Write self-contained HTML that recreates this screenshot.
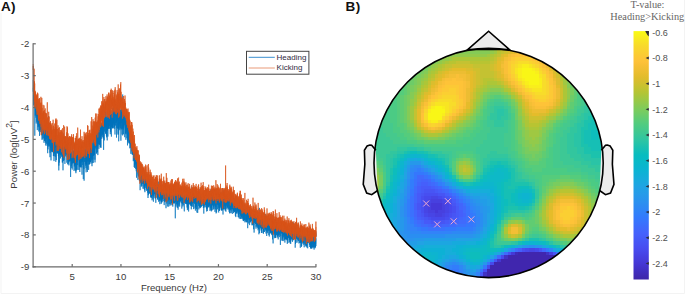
<!DOCTYPE html>
<html><head><meta charset="utf-8"><style>
html,body{margin:0;padding:0;background:#fff;}
body{width:685px;height:294px;overflow:hidden;position:relative;font-family:"Liberation Sans",sans-serif;}
svg{position:absolute;left:0;top:0;}
</style></head><body>
<svg width="685" height="294" viewBox="0 0 685 294">
<defs>
<filter id="bl" x="-5%" y="-5%" width="110%" height="110%"><feGaussianBlur stdDeviation="0.7"/></filter>
<clipPath id="hc"><circle cx="488.6" cy="163.0" r="114.6"/></clipPath>
<linearGradient id="cbg" x1="0" y1="0" x2="0" y2="1"><stop offset="0.0000" stop-color="#f9fb15"/><stop offset="0.0156" stop-color="#f9f21b"/><stop offset="0.0312" stop-color="#f8e921"/><stop offset="0.0469" stop-color="#f8e027"/><stop offset="0.0625" stop-color="#f8d82c"/><stop offset="0.0781" stop-color="#fad230"/><stop offset="0.0938" stop-color="#fbcc33"/><stop offset="0.1094" stop-color="#fdc637"/><stop offset="0.1250" stop-color="#fdc139"/><stop offset="0.1406" stop-color="#f6bf35"/><stop offset="0.1562" stop-color="#efbe32"/><stop offset="0.1719" stop-color="#e8bd2e"/><stop offset="0.1875" stop-color="#e0bc2c"/><stop offset="0.2031" stop-color="#d5be2e"/><stop offset="0.2188" stop-color="#cac12f"/><stop offset="0.2344" stop-color="#bec331"/><stop offset="0.2500" stop-color="#b2c535"/><stop offset="0.2656" stop-color="#a5c73e"/><stop offset="0.2812" stop-color="#98c947"/><stop offset="0.2969" stop-color="#8bca51"/><stop offset="0.3125" stop-color="#7fcc5a"/><stop offset="0.3281" stop-color="#73cc64"/><stop offset="0.3438" stop-color="#67cc6d"/><stop offset="0.3594" stop-color="#5bcc77"/><stop offset="0.3750" stop-color="#50cc80"/><stop offset="0.3906" stop-color="#48ca88"/><stop offset="0.4062" stop-color="#40c891"/><stop offset="0.4219" stop-color="#37c79a"/><stop offset="0.4375" stop-color="#2fc5a2"/><stop offset="0.4531" stop-color="#24c3a9"/><stop offset="0.4688" stop-color="#1ac0b1"/><stop offset="0.4844" stop-color="#10beb8"/><stop offset="0.5000" stop-color="#07bcc0"/><stop offset="0.5156" stop-color="#08bac4"/><stop offset="0.5312" stop-color="#09b8c9"/><stop offset="0.5469" stop-color="#0ab5ce"/><stop offset="0.5625" stop-color="#0cb3d3"/><stop offset="0.5781" stop-color="#11afd7"/><stop offset="0.5938" stop-color="#16acdb"/><stop offset="0.6094" stop-color="#1ba8df"/><stop offset="0.6250" stop-color="#20a4e3"/><stop offset="0.6406" stop-color="#239fe6"/><stop offset="0.6562" stop-color="#269be9"/><stop offset="0.6719" stop-color="#2896ec"/><stop offset="0.6875" stop-color="#2b91ef"/><stop offset="0.7031" stop-color="#2d8bf2"/><stop offset="0.7188" stop-color="#2f86f6"/><stop offset="0.7344" stop-color="#3180f9"/><stop offset="0.7500" stop-color="#337afd"/><stop offset="0.7656" stop-color="#3874fd"/><stop offset="0.7812" stop-color="#3c6efc"/><stop offset="0.7969" stop-color="#4168fc"/><stop offset="0.8125" stop-color="#4562fc"/><stop offset="0.8281" stop-color="#465df9"/><stop offset="0.8438" stop-color="#4657f6"/><stop offset="0.8594" stop-color="#4752f3"/><stop offset="0.8750" stop-color="#484cf0"/><stop offset="0.8906" stop-color="#4747e9"/><stop offset="0.9062" stop-color="#4641e2"/><stop offset="0.9219" stop-color="#463cdb"/><stop offset="0.9375" stop-color="#4536d4"/><stop offset="0.9531" stop-color="#4332c9"/><stop offset="0.9688" stop-color="#412ebe"/><stop offset="0.9844" stop-color="#402ab3"/><stop offset="1.0000" stop-color="#3e26a8"/></linearGradient>
</defs>
<path d="M1 13V293.5H684.5V0" fill="none" stroke="#f3f3f3" stroke-width="1"/>
<g font-family="Liberation Sans" font-weight="bold" font-size="13.5" fill="#111">
<text x="1" y="10.8" letter-spacing="0.3">A)</text><text x="345.6" y="10.8" letter-spacing="0.3">B)</text></g>
<!-- spectrum -->
<g fill="none" stroke-linejoin="bevel">
<polyline points="33.2,80.0 33.3,90.0 33.3,91.6 33.4,87.8 33.4,91.4 33.5,88.1 33.6,95.9 33.6,105.4 33.7,93.0 33.8,92.6 33.8,100.9 33.9,100.4 33.9,99.2 34.0,92.4 34.1,99.0 34.1,104.4 34.2,86.7 34.2,96.9 34.3,87.2 34.4,91.8 34.4,88.2 34.5,99.7 34.6,92.8 34.6,103.8 34.7,103.3 34.7,101.3 34.8,135.7 34.9,99.4 34.9,103.0 35.0,104.6 35.0,93.4 35.1,101.1 35.2,97.9 35.2,99.4 35.3,115.6 35.4,100.0 35.4,105.7 35.5,112.3 35.5,102.4 35.6,106.0 35.7,107.9 35.7,107.8 35.8,99.2 35.8,108.5 35.9,117.7 36.0,97.9 36.0,114.8 36.1,110.0 36.2,104.9 36.2,123.5 36.3,115.1 36.3,101.8 36.4,110.9 36.5,114.6 36.5,109.5 36.6,115.8 36.6,110.8 36.7,116.2 36.8,121.7 36.8,107.4 36.9,113.7 37.0,108.0 37.0,113.6 37.1,104.8 37.1,109.2 37.2,112.1 37.3,119.9 37.3,130.1 37.4,105.1 37.4,109.0 37.5,119.1 37.6,101.2 37.6,112.0 37.7,114.7 37.8,124.3 37.8,120.6 37.9,113.9 37.9,113.8 38.0,114.9 38.1,127.2 38.1,114.0 38.2,115.0 38.2,119.7 38.3,116.6 38.4,116.2 38.4,110.1 38.5,117.8 38.5,115.0 38.6,126.2 38.7,122.8 38.7,118.4 38.8,131.5 38.9,116.5 38.9,126.2 39.0,119.1 39.0,123.3 39.1,110.7 39.2,122.0 39.2,103.6 39.3,106.1 39.3,130.4 39.4,114.1 39.5,121.6 39.5,135.9 39.6,115.1 39.7,116.7 39.7,122.5 39.8,124.6 39.8,120.2 39.9,120.2 40.0,126.5 40.0,125.4 40.1,115.0 40.1,121.7 40.2,122.6 40.3,115.3 40.3,124.4 40.4,117.0 40.5,129.6 40.5,124.5 40.6,132.1 40.6,119.5 40.7,122.8 40.8,110.2 40.8,116.3 40.9,126.6 40.9,109.8 41.0,130.2 41.1,112.7 41.1,129.8 41.2,119.0 41.3,130.2 41.3,125.9 41.4,114.7 41.4,133.7 41.5,135.1 41.6,125.0 41.6,123.8 41.7,124.6 41.7,119.2 41.8,133.4 41.9,122.4 41.9,125.9 42.0,139.8 42.1,122.2 42.1,117.9 42.2,135.2 42.2,125.8 42.3,133.4 42.4,127.1 42.4,122.5 42.5,125.1 42.5,122.1 42.6,127.6 42.7,125.1 42.7,125.7 42.8,118.6 42.9,122.5 42.9,139.3 43.0,123.7 43.0,121.2 43.1,130.7 43.2,138.1 43.2,118.9 43.3,127.4 43.3,124.7 43.4,112.5 43.5,134.1 43.5,129.1 43.6,129.9 43.7,124.5 43.7,133.9 43.8,126.1 43.8,128.9 43.9,122.5 44.0,121.9 44.0,142.8 44.1,126.9 44.1,132.4 44.2,130.3 44.3,127.7 44.3,127.3 44.4,135.0 44.5,141.0 44.5,130.0 44.6,131.3 44.6,139.1 44.7,135.9 44.8,134.0 44.8,127.7 44.9,122.3 44.9,138.0 45.0,138.3 45.1,140.9 45.1,135.6 45.2,137.3 45.3,137.7 45.3,138.4 45.4,129.3 45.4,142.6 45.5,124.2 45.6,138.4 45.6,136.1 45.7,138.7 45.7,145.5 45.8,143.0 45.9,125.5 45.9,122.0 46.0,138.8 46.1,124.0 46.1,133.5 46.2,139.2 46.2,122.8 46.3,119.8 46.4,143.7 46.4,134.3 46.5,132.5 46.5,134.5 46.6,128.6 46.7,124.4 46.7,133.4 46.8,128.2 46.9,123.8 46.9,138.2 47.0,134.5 47.0,145.7 47.1,128.6 47.2,130.9 47.2,128.7 47.3,129.5 47.3,136.8 47.4,130.4 47.5,138.1 47.5,138.1 47.6,149.3 47.7,153.2 47.7,142.0 47.8,135.6 47.8,136.2 47.9,126.8 48.0,133.4 48.0,149.4 48.1,136.1 48.1,137.3 48.2,135.0 48.3,144.6 48.3,136.9 48.4,122.6 48.4,132.7 48.5,124.4 48.6,116.0 48.6,134.1 48.7,146.5 48.8,138.1 48.8,130.1 48.9,131.8 48.9,145.5 49.0,139.6 49.1,138.6 49.1,138.0 49.2,138.7 49.2,143.8 49.3,142.3 49.4,140.2 49.4,132.0 49.5,142.3 49.6,134.5 49.6,146.3 49.7,130.9 49.7,138.4 49.8,139.4 49.9,130.8 49.9,150.9 50.0,157.2 50.0,136.7 50.1,152.8 50.2,142.4 50.2,122.8 50.3,141.7 50.4,139.7 50.4,140.7 50.5,133.1 50.5,138.5 50.6,139.1 50.7,148.1 50.7,142.6 50.8,140.4 50.8,150.5 50.9,135.5 51.0,137.1 51.0,160.4 51.1,151.0 51.2,147.1 51.2,146.9 51.3,145.3 51.3,141.7 51.4,142.4 51.5,139.5 51.5,139.8 51.6,141.6 51.6,151.1 51.7,144.9 51.8,141.0 51.8,137.7 51.9,137.4 52.0,152.0 52.0,144.9 52.1,142.1 52.1,151.8 52.2,134.6 52.3,141.4 52.3,147.6 52.4,139.4 52.4,140.5 52.5,140.6 52.6,142.8 52.6,131.8 52.7,151.5 52.8,136.7 52.8,148.1 52.9,137.4 52.9,146.2 53.0,152.4 53.1,140.5 53.1,138.7 53.2,143.9 53.2,150.5 53.3,136.4 53.4,145.8 53.4,156.0 53.5,141.3 53.6,141.7 53.6,136.3 53.7,145.2 53.7,135.1 53.8,136.1 53.9,151.6 53.9,137.5 54.0,153.2 54.0,161.1 54.1,145.2 54.2,147.2 54.2,156.2 54.3,142.4 54.4,139.9 54.4,135.1 54.5,144.2 54.5,153.5 54.6,150.2 54.7,138.0 54.7,138.6 54.8,140.9 54.8,146.1 54.9,143.0 55.0,145.7 55.0,146.3 55.1,142.5 55.2,144.3 55.2,145.9 55.3,144.1 55.3,147.9 55.4,156.7 55.5,148.6 55.5,145.2 55.6,134.1 55.6,147.5 55.7,132.5 55.8,161.8 55.8,150.6 55.9,149.7 56.0,144.3 56.0,134.4 56.1,143.0 56.1,141.1 56.2,149.6 56.3,160.0 56.3,147.0 56.4,140.7 56.4,138.2 56.5,145.4 56.6,144.7 56.6,138.5 56.7,146.7 56.8,138.6 56.8,153.1 56.9,152.9 56.9,153.1 57.0,143.2 57.1,150.9 57.1,145.5 57.2,143.9 57.2,144.3 57.3,138.2 57.4,137.4 57.4,151.7 57.5,145.5 57.6,148.1 57.6,153.2 57.7,135.8 57.7,141.9 57.8,148.1 57.9,149.5 57.9,143.7 58.0,153.7 58.0,148.5 58.1,139.5 58.2,141.4 58.2,152.5 58.3,150.4 58.4,135.4 58.4,156.1 58.5,151.4 58.5,156.2 58.6,145.3 58.7,145.9 58.7,140.7 58.8,170.4 58.8,146.8 58.9,165.6 59.0,143.9 59.0,149.1 59.1,137.6 59.1,144.8 59.2,154.4 59.3,140.3 59.3,162.6 59.4,150.4 59.5,141.7 59.5,143.9 59.6,145.5 59.6,148.1 59.7,145.1 59.8,143.3 59.8,146.6 59.9,142.1 59.9,140.5 60.0,148.3 60.1,154.2 60.1,139.1 60.2,148.8 60.3,144.7 60.3,142.7 60.4,154.3 60.4,145.7 60.5,158.4 60.6,144.1 60.6,151.5 60.7,147.1 60.7,144.4 60.8,152.9 60.9,148.3 60.9,154.6 61.0,149.0 61.1,142.5 61.1,148.5 61.2,149.8 61.2,155.5 61.3,143.8 61.4,149.3 61.4,134.4 61.5,153.8 61.5,142.9 61.6,138.4 61.7,149.4 61.7,156.8 61.8,140.3 61.9,143.1 61.9,145.3 62.0,142.9 62.0,152.5 62.1,145.0 62.2,145.6 62.2,155.3 62.3,162.6 62.3,153.0 62.4,144.2 62.5,142.7 62.5,138.8 62.6,162.2 62.7,148.5 62.7,152.1 62.8,150.3 62.8,151.6 62.9,151.0 63.0,170.3 63.0,144.2 63.1,141.0 63.1,144.5 63.2,142.5 63.3,155.6 63.3,156.1 63.4,145.0 63.5,142.3 63.5,160.9 63.6,159.9 63.6,133.4 63.7,154.6 63.8,144.5 63.8,157.9 63.9,144.6 63.9,149.6 64.0,142.0 64.1,145.3 64.1,160.3 64.2,158.8 64.3,149.1 64.3,146.2 64.4,139.8 64.4,149.3 64.5,151.6 64.6,151.3 64.6,151.3 64.7,144.9 64.7,151.6 64.8,151.8 64.9,160.2 64.9,163.9 65.0,150.9 65.1,147.4 65.1,151.8 65.2,148.4 65.2,147.6 65.3,152.0 65.4,143.2 65.4,156.3 65.5,151.8 65.5,154.1 65.6,151.0 65.7,146.2 65.7,146.7 65.8,151.2 65.9,149.3 65.9,154.3 66.0,152.8 66.0,144.3 66.1,153.3 66.2,144.5 66.2,149.1 66.3,151.2 66.3,140.0 66.4,153.7 66.5,154.1 66.5,152.2 66.6,150.6 66.7,151.0 66.7,147.2 66.8,162.7 66.8,150.0 66.9,154.1 67.0,145.9 67.0,155.1 67.1,154.5 67.1,152.7 67.2,150.9 67.3,157.2 67.3,143.2 67.4,156.6 67.5,155.3 67.5,155.6 67.6,156.2 67.6,149.7 67.7,152.2 67.8,157.9 67.8,164.2 67.9,155.3 67.9,144.4 68.0,157.4 68.1,164.4 68.1,160.4 68.2,155.6 68.3,144.3 68.3,160.1 68.4,153.3 68.4,138.3 68.5,156.6 68.6,144.9 68.6,146.1 68.7,150.3 68.7,162.4 68.8,152.0 68.9,156.1 68.9,165.4 69.0,164.5 69.0,153.8 69.1,153.0 69.2,146.6 69.2,150.2 69.3,157.3 69.4,157.1 69.4,155.4 69.5,161.0 69.5,149.9 69.6,154.4 69.7,159.4 69.7,158.5 69.8,161.6 69.8,157.4 69.9,152.9 70.0,157.2 70.0,148.6 70.1,144.6 70.2,158.7 70.2,154.7 70.3,157.0 70.3,144.4 70.4,152.8 70.5,151.4 70.5,149.7 70.6,177.0 70.6,153.1 70.7,160.9 70.8,157.7 70.8,151.5 70.9,155.2 71.0,160.1 71.0,138.0 71.1,154.6 71.1,158.9 71.2,159.8 71.3,166.2 71.3,162.7 71.4,157.5 71.4,157.5 71.5,160.6 71.6,152.2 71.6,155.4 71.7,161.4 71.8,168.1 71.8,154.7 71.9,155.5 71.9,157.1 72.0,164.3 72.1,155.7 72.1,165.1 72.2,169.6 72.2,154.8 72.3,154.7 72.4,161.0 72.4,162.6 72.5,146.5 72.6,150.3 72.6,158.2 72.7,152.0 72.7,146.6 72.8,162.7 72.9,159.3 72.9,160.6 73.0,153.3 73.0,162.8 73.1,154.8 73.2,163.3 73.2,150.7 73.3,151.0 73.4,157.7 73.4,152.1 73.5,160.8 73.5,158.2 73.6,150.7 73.7,157.2 73.7,154.4 73.8,162.4 73.8,152.7 73.9,153.9 74.0,164.4 74.0,170.9 74.1,169.4 74.2,157.2 74.2,158.2 74.3,166.5 74.3,156.1 74.4,150.8 74.5,165.3 74.5,159.8 74.6,151.8 74.6,146.7 74.7,148.0 74.8,161.3 74.8,152.3 74.9,156.3 75.0,158.5 75.0,170.2 75.1,155.1 75.1,160.4 75.2,151.6 75.3,154.9 75.3,150.8 75.4,164.4 75.4,157.1 75.5,152.6 75.6,155.0 75.6,155.9 75.7,161.7 75.8,147.2 75.8,171.4 75.9,154.9 75.9,173.2 76.0,163.3 76.1,156.6 76.1,161.8 76.2,170.3 76.2,155.8 76.3,154.1 76.4,164.9 76.4,160.4 76.5,161.5 76.6,154.1 76.6,169.5 76.7,168.1 76.7,160.9 76.8,161.7 76.9,144.6 76.9,161.4 77.0,156.1 77.0,160.1 77.1,161.7 77.2,155.2 77.2,146.7 77.3,159.7 77.4,152.7 77.4,155.3 77.5,153.6 77.5,155.3 77.6,142.9 77.7,165.1 77.7,159.0 77.8,164.4 77.8,169.9 77.9,157.6 78.0,146.1 78.0,151.8 78.1,149.8 78.2,154.3 78.2,158.0 78.3,144.8 78.3,159.6 78.4,148.0 78.5,160.1 78.5,156.8 78.6,155.5 78.6,157.0 78.7,154.1 78.8,153.6 78.8,146.9 78.9,157.3 78.9,169.1 79.0,170.0 79.1,165.9 79.1,162.0 79.2,153.3 79.3,166.6 79.3,157.2 79.4,157.1 79.4,155.7 79.5,158.1 79.6,154.8 79.6,156.8 79.7,150.7 79.7,155.2 79.8,172.0 79.9,157.2 79.9,166.7 80.0,161.0 80.1,162.1 80.1,147.8 80.2,156.3 80.2,163.4 80.3,159.3 80.4,158.7 80.4,167.4 80.5,153.4 80.5,158.2 80.6,154.4 80.7,167.0 80.7,145.4 80.8,153.4 80.9,154.3 80.9,161.9 81.0,161.5 81.0,166.5 81.1,147.7 81.2,162.4 81.2,155.8 81.3,153.4 81.3,161.0 81.4,151.8 81.5,144.5 81.5,154.3 81.6,148.1 81.7,151.8 81.7,159.8 81.8,159.4 81.8,167.5 81.9,156.2 82.0,174.7 82.0,152.7 82.1,151.6 82.1,149.7 82.2,160.1 82.3,153.3 82.3,144.9 82.4,161.7 82.5,156.6 82.5,159.5 82.6,157.9 82.6,161.2 82.7,157.5 82.8,165.0 82.8,159.9 82.9,159.7 82.9,159.8 83.0,148.0 83.1,156.1 83.1,154.9 83.2,158.4 83.3,148.5 83.3,179.1 83.4,157.7 83.4,149.4 83.5,142.0 83.6,155.3 83.6,156.2 83.7,152.5 83.7,157.6 83.8,152.9 83.9,160.4 83.9,169.1 84.0,156.7 84.1,165.5 84.1,180.7 84.2,150.5 84.2,153.9 84.3,151.6 84.4,161.8 84.4,149.6 84.5,153.7 84.5,156.6 84.6,150.6 84.7,150.7 84.7,153.7 84.8,143.5 84.9,147.6 84.9,154.1 85.0,157.6 85.0,155.5 85.1,145.5 85.2,153.7 85.2,161.7 85.3,160.1 85.3,156.1 85.4,151.0 85.5,160.6 85.5,153.0 85.6,149.3 85.7,151.6 85.7,165.7 85.8,158.0 85.8,163.9 85.9,153.6 86.0,162.5 86.0,167.9 86.1,155.6 86.1,172.3 86.2,161.4 86.3,153.4 86.3,156.0 86.4,158.6 86.5,164.2 86.5,153.5 86.6,145.6 86.6,154.8 86.7,156.7 86.8,157.2 86.8,164.8 86.9,158.5 86.9,161.7 87.0,149.6 87.1,162.0 87.1,169.6 87.2,161.3 87.3,157.9 87.3,157.3 87.4,172.0 87.4,150.4 87.5,155.5 87.6,159.0 87.6,160.8 87.7,153.3 87.7,157.9 87.8,154.2 87.9,156.7 87.9,155.0 88.0,148.6 88.1,155.6 88.1,161.2 88.2,149.6 88.2,154.1 88.3,159.8 88.4,148.8 88.4,156.6 88.5,148.8 88.5,165.4 88.6,169.9 88.7,168.1 88.7,164.2 88.8,159.9 88.8,155.9 88.9,155.8 89.0,164.8 89.0,146.7 89.1,161.6 89.2,154.6 89.2,163.8 89.3,156.0 89.3,150.6 89.4,164.1 89.5,159.4 89.5,154.9 89.6,157.7 89.6,151.3 89.7,141.1 89.8,160.2 89.8,158.9 89.9,155.3 90.0,155.0 90.0,160.8 90.1,151.4 90.1,149.8 90.2,153.0 90.3,161.6 90.3,145.4 90.4,161.6 90.4,150.0 90.5,147.0 90.6,161.9 90.6,153.3 90.7,145.6 90.8,163.6 90.8,159.6 90.9,161.2 90.9,151.0 91.0,157.2 91.1,158.0 91.1,147.7 91.2,155.5 91.2,153.0 91.3,149.7 91.4,149.9 91.4,153.3 91.5,153.0 91.6,149.1 91.6,149.8 91.7,159.5 91.7,154.2 91.8,157.8 91.9,159.7 91.9,155.7 92.0,166.2 92.0,146.6 92.1,156.8 92.2,149.6 92.2,163.2 92.3,162.1 92.4,138.9 92.4,145.0 92.5,155.2 92.5,155.9 92.6,155.5 92.7,150.3 92.7,153.5 92.8,154.6 92.8,149.9 92.9,159.4 93.0,135.9 93.0,154.1 93.1,143.4 93.2,155.9 93.2,148.3 93.3,162.9 93.3,151.9 93.4,143.7 93.5,143.6 93.5,139.3 93.6,149.0 93.6,152.2 93.7,155.4 93.8,147.9 93.8,155.3 93.9,148.7 94.0,147.9 94.0,152.0 94.1,155.0 94.1,146.0 94.2,146.5 94.3,146.9 94.3,148.4 94.4,142.0 94.4,154.1 94.5,145.0 94.6,150.3 94.6,142.1 94.7,149.5 94.8,149.6 94.8,144.3 94.9,159.7 94.9,149.1 95.0,162.4 95.1,152.6 95.1,142.2 95.2,143.8 95.2,148.8 95.3,146.3 95.4,146.1 95.4,143.8 95.5,134.0 95.6,143.3 95.6,131.1 95.7,147.3 95.7,140.2 95.8,140.1 95.9,143.1 95.9,146.1 96.0,135.1 96.0,133.0 96.1,137.2 96.2,130.8 96.2,137.5 96.3,153.6 96.4,136.6 96.4,147.3 96.5,130.8 96.5,144.7 96.6,139.9 96.7,142.2 96.7,146.0 96.8,153.4 96.8,143.3 96.9,142.7 97.0,135.6 97.0,145.3 97.1,139.9 97.2,148.7 97.2,140.9 97.3,152.1 97.3,128.3 97.4,138.8 97.5,146.2 97.5,138.2 97.6,133.2 97.6,138.4 97.7,131.2 97.8,140.6 97.8,155.1 97.9,154.4 98.0,132.3 98.0,133.6 98.1,136.5 98.1,145.3 98.2,133.5 98.3,134.2 98.3,144.0 98.4,143.8 98.4,134.8 98.5,130.9 98.6,128.0 98.6,133.2 98.7,123.3 98.8,142.1 98.8,131.6 98.9,140.1 98.9,148.8 99.0,144.2 99.1,129.3 99.1,142.0 99.2,143.7 99.2,131.4 99.3,129.9 99.4,135.2 99.4,125.5 99.5,144.9 99.5,120.1 99.6,128.2 99.7,133.4 99.7,144.1 99.8,135.9 99.9,136.4 99.9,133.2 100.0,141.6 100.0,120.6 100.1,134.1 100.2,129.4 100.2,134.6 100.3,135.0 100.3,146.9 100.4,127.6 100.5,138.2 100.5,135.2 100.6,128.5 100.7,145.6 100.7,147.2 100.8,123.0 100.8,134.1 100.9,148.0 101.0,136.9 101.0,133.1 101.1,130.2 101.1,127.9 101.2,129.9 101.3,127.6 101.3,135.7 101.4,128.2 101.5,127.8 101.5,122.8 101.6,130.0 101.6,124.4 101.7,138.8 101.8,136.5 101.8,132.0 101.9,132.7 101.9,131.6 102.0,129.6 102.1,128.3 102.1,127.0 102.2,133.7 102.3,121.9 102.3,137.2 102.4,128.8 102.4,123.7 102.5,125.3 102.6,124.0 102.6,129.2 102.7,123.5 102.7,135.3 102.8,122.9 102.9,107.4 102.9,123.0 103.0,114.7 103.1,127.1 103.1,134.1 103.2,131.4 103.2,118.6 103.3,122.2 103.4,138.3 103.4,128.9 103.5,126.8 103.5,133.4 103.6,149.9 103.7,134.7 103.7,127.2 103.8,128.5 103.9,130.1 103.9,122.1 104.0,119.2 104.0,126.2 104.1,117.3 104.2,125.2 104.2,126.1 104.3,140.4 104.3,119.9 104.4,124.4 104.5,124.1 104.5,127.8 104.6,131.6 104.7,121.7 104.7,119.5 104.8,114.1 104.8,118.6 104.9,127.8 105.0,124.7 105.0,117.7 105.1,121.7 105.1,124.2 105.2,127.1 105.3,120.0 105.3,122.1 105.4,112.0 105.5,116.1 105.5,133.8 105.6,109.3 105.6,121.0 105.7,124.5 105.8,133.1 105.8,117.7 105.9,122.4 105.9,122.7 106.0,122.1 106.1,110.5 106.1,121.5 106.2,116.9 106.3,118.9 106.3,123.8 106.4,126.4 106.4,135.6 106.5,119.0 106.6,128.0 106.6,137.3 106.7,129.3 106.7,130.8 106.8,120.9 106.9,120.7 106.9,127.1 107.0,112.9 107.1,130.7 107.1,118.2 107.2,119.2 107.2,140.4 107.3,115.7 107.4,121.2 107.4,127.0 107.5,130.2 107.5,120.7 107.6,119.9 107.7,115.8 107.7,124.7 107.8,118.8 107.9,124.8 107.9,136.6 108.0,120.6 108.0,111.2 108.1,113.0 108.2,111.3 108.2,112.9 108.3,128.9 108.3,121.9 108.4,110.7 108.5,124.6 108.5,128.4 108.6,118.0 108.7,115.9 108.7,118.0 108.8,121.9 108.8,124.2 108.9,127.6 109.0,127.7 109.0,127.5 109.1,128.6 109.1,124.0 109.2,109.9 109.3,118.8 109.3,121.6 109.4,117.1 109.4,125.4 109.5,117.1 109.6,111.1 109.6,128.6 109.7,123.6 109.8,120.6 109.8,125.1 109.9,125.9 109.9,121.2 110.0,96.9 110.1,114.6 110.1,116.0 110.2,112.6 110.2,120.2 110.3,134.2 110.4,115.7 110.4,111.5 110.5,131.8 110.6,115.8 110.6,110.8 110.7,120.2 110.7,121.4 110.8,114.1 110.9,123.7 110.9,129.4 111.0,110.2 111.0,120.1 111.1,123.4 111.2,114.4 111.2,120.5 111.3,117.8 111.4,136.6 111.4,113.8 111.5,127.2 111.5,117.9 111.6,117.4 111.7,122.9 111.7,123.9 111.8,126.3 111.8,120.2 111.9,114.2 112.0,114.6 112.0,121.3 112.1,121.8 112.2,127.0 112.2,120.6 112.3,124.8 112.3,127.7 112.4,118.9 112.5,108.2 112.5,110.2 112.6,108.5 112.6,128.0 112.7,112.2 112.8,125.6 112.8,121.4 112.9,128.7 113.0,124.1 113.0,116.9 113.1,116.2 113.1,118.1 113.2,118.6 113.3,114.0 113.3,125.4 113.4,127.8 113.4,106.4 113.5,119.0 113.6,111.4 113.6,118.5 113.7,122.7 113.8,116.8 113.8,122.2 113.9,106.9 113.9,124.3 114.0,113.2 114.1,121.1 114.1,118.3 114.2,100.4 114.2,112.2 114.3,118.5 114.4,127.1 114.4,118.9 114.5,118.7 114.6,107.9 114.6,126.3 114.7,128.7 114.7,117.2 114.8,115.6 114.9,106.5 114.9,122.7 115.0,134.5 115.0,121.6 115.1,125.2 115.2,120.5 115.2,110.6 115.3,125.6 115.4,109.0 115.4,115.6 115.5,118.8 115.5,122.7 115.6,119.6 115.7,119.4 115.7,112.0 115.8,108.6 115.8,117.3 115.9,112.3 116.0,108.4 116.0,108.7 116.1,113.7 116.2,104.9 116.2,108.2 116.3,106.3 116.3,118.0 116.4,119.5 116.5,137.6 116.5,107.1 116.6,112.4 116.6,122.7 116.7,115.4 116.8,114.7 116.8,127.9 116.9,113.7 117.0,109.3 117.0,108.3 117.1,119.0 117.1,118.8 117.2,107.9 117.3,110.4 117.3,120.2 117.4,120.5 117.4,112.6 117.5,128.6 117.6,120.5 117.6,105.2 117.7,114.7 117.8,119.4 117.8,113.0 117.9,102.8 117.9,114.9 118.0,121.6 118.1,134.8 118.1,102.6 118.2,133.8 118.2,109.5 118.3,123.1 118.4,124.9 118.4,123.3 118.5,125.7 118.6,109.5 118.6,121.1 118.7,112.4 118.7,141.3 118.8,135.5 118.9,121.7 118.9,129.0 119.0,111.3 119.0,126.8 119.1,127.6 119.2,127.4 119.2,117.2 119.3,109.6 119.3,116.3 119.4,103.1 119.5,106.4 119.5,118.1 119.6,111.1 119.7,116.1 119.7,116.9 119.8,130.2 119.8,126.1 119.9,117.4 120.0,125.6 120.0,112.7 120.1,115.6 120.1,123.7 120.2,109.7 120.3,116.0 120.3,109.3 120.4,118.9 120.5,128.3 120.5,113.0 120.6,119.3 120.6,112.1 120.7,110.4 120.8,109.9 120.8,127.2 120.9,140.7 120.9,122.2 121.0,113.3 121.1,122.4 121.1,115.8 121.2,123.0 121.3,119.8 121.3,119.7 121.4,129.4 121.4,114.2 121.5,115.4 121.6,107.0 121.6,115.2 121.7,109.0 121.7,117.1 121.8,111.9 121.9,118.6 121.9,120.9 122.0,134.5 122.1,112.9 122.1,112.2 122.2,124.8 122.2,129.0 122.3,123.7 122.4,116.2 122.4,127.7 122.5,109.1 122.5,128.0 122.6,114.6 122.7,94.5 122.7,135.4 122.8,128.7 122.9,112.6 122.9,120.1 123.0,117.8 123.0,119.8 123.1,110.1 123.2,115.1 123.2,129.7 123.3,120.9 123.3,127.0 123.4,120.3 123.5,134.2 123.5,115.4 123.6,121.5 123.7,108.2 123.7,109.2 123.8,128.2 123.8,114.4 123.9,123.5 124.0,119.9 124.0,114.0 124.1,118.3 124.1,117.4 124.2,117.6 124.3,125.2 124.3,124.7 124.4,117.3 124.5,115.4 124.5,122.6 124.6,120.4 124.6,127.3 124.7,137.2 124.8,126.3 124.8,121.1 124.9,120.3 124.9,116.3 125.0,116.1 125.1,115.7 125.1,119.5 125.2,119.4 125.3,126.6 125.3,119.9 125.4,121.3 125.4,115.3 125.5,132.5 125.6,125.9 125.6,133.7 125.7,127.9 125.7,132.2 125.8,122.0 125.9,127.9 125.9,139.8 126.0,116.8 126.1,131.1 126.1,134.3 126.2,126.9 126.2,130.9 126.3,132.3 126.4,121.0 126.4,127.5 126.5,120.0 126.5,121.3 126.6,121.8 126.7,124.8 126.7,126.7 126.8,128.7 126.9,117.7 126.9,138.1 127.0,133.3 127.0,130.9 127.1,124.7 127.2,126.6 127.2,130.6 127.3,130.0 127.3,117.9 127.4,132.4 127.5,145.4 127.5,117.6 127.6,141.4 127.7,131.1 127.7,128.5 127.8,137.4 127.8,122.7 127.9,131.2 128.0,138.6 128.0,129.2 128.1,128.1 128.1,131.5 128.2,128.4 128.3,140.3 128.3,126.2 128.4,136.8 128.5,124.7 128.5,136.1 128.6,131.9 128.6,117.7 128.7,132.9 128.8,127.0 128.8,130.9 128.9,142.5 128.9,127.5 129.0,128.0 129.1,142.7 129.1,135.3 129.2,143.7 129.2,137.0 129.3,130.3 129.4,135.2 129.4,142.8 129.5,141.4 129.6,136.3 129.6,136.8 129.7,136.2 129.7,133.8 129.8,148.3 129.9,137.7 129.9,128.9 130.0,135.5 130.0,142.5 130.1,142.3 130.2,138.2 130.2,135.5 130.3,139.6 130.4,130.4 130.4,132.7 130.5,144.8 130.5,137.9 130.6,142.9 130.7,147.9 130.7,145.0 130.8,141.8 130.8,153.8 130.9,145.9 131.0,140.5 131.0,146.8 131.1,145.3 131.2,138.5 131.2,143.9 131.3,142.9 131.3,133.2 131.4,143.4 131.5,143.1 131.5,142.5 131.6,136.1 131.6,143.5 131.7,145.5 131.8,146.7 131.8,140.0 131.9,151.3 132.0,140.1 132.0,145.3 132.1,154.4 132.1,143.8 132.2,144.0 132.3,153.9 132.3,146.3 132.4,147.0 132.4,150.1 132.5,154.8 132.6,137.6 132.6,145.3 132.7,144.6 132.8,144.4 132.8,146.0 132.9,146.3 132.9,152.7 133.0,146.6 133.1,152.2 133.1,153.9 133.2,148.2 133.2,153.0 133.3,161.2 133.4,154.4 133.4,149.6 133.5,152.9 133.6,148.6 133.6,155.1 133.7,158.4 133.7,149.8 133.8,153.3 133.9,160.4 133.9,152.2 134.0,156.0 134.0,150.0 134.1,151.3 134.2,153.1 134.2,167.0 134.3,154.1 134.4,153.8 134.4,153.8 134.5,156.1 134.5,160.5 134.6,158.3 134.7,168.0 134.7,158.9 134.8,165.4 134.8,159.7 134.9,161.6 135.0,151.6 135.0,158.4 135.1,158.9 135.2,158.3 135.2,149.0 135.3,164.3 135.3,158.2 135.4,158.2 135.5,159.4 135.5,159.7 135.6,163.1 135.6,155.0 135.7,156.9 135.8,163.3 135.8,168.7 135.9,160.4 136.0,159.7 136.0,158.6 136.1,162.7 136.1,169.1 136.2,158.2 136.3,171.2 136.3,168.1 136.4,161.0 136.4,168.2 136.5,177.7 136.6,156.0 136.6,158.4 136.7,162.1 136.8,163.5 136.8,162.7 136.9,165.9 136.9,155.0 137.0,168.1 137.1,158.8 137.1,162.7 137.2,163.3 137.2,160.6 137.3,159.7 137.4,161.7 137.4,166.7 137.5,169.8 137.6,169.8 137.6,162.3 137.7,163.5 137.7,163.0 137.8,169.9 137.9,157.8 137.9,179.9 138.0,165.8 138.0,164.4 138.1,170.1 138.2,175.7 138.2,170.4 138.3,174.0 138.4,169.7 138.4,175.2 138.5,175.4 138.5,168.8 138.6,176.7 138.7,170.6 138.7,170.4 138.8,165.6 138.8,168.9 138.9,174.2 139.0,164.2 139.0,173.9 139.1,172.6 139.2,172.4 139.2,156.2 139.3,170.8 139.3,174.6 139.4,181.2 139.5,172.2 139.5,160.4 139.6,175.4 139.6,169.1 139.7,176.6 139.8,163.6 139.8,176.1 139.9,171.7 139.9,178.5 140.0,168.7 140.1,170.4 140.1,190.2 140.2,169.7 140.3,170.5 140.3,172.7 140.4,169.2 140.4,180.0 140.5,182.6 140.6,171.1 140.6,166.2 140.7,180.3 140.7,182.2 140.8,178.8 140.9,180.5 140.9,170.9 141.0,174.4 141.1,168.7 141.1,168.6 141.2,180.2 141.2,172.4 141.3,186.6 141.4,176.2 141.4,172.9 141.5,179.8 141.5,184.8 141.6,178.6 141.7,170.5 141.7,178.9 141.8,183.1 141.9,174.3 141.9,186.2 142.0,181.7 142.0,177.7 142.1,171.8 142.2,175.4 142.2,173.7 142.3,178.8 142.3,183.7 142.4,183.1 142.5,181.1 142.5,170.4 142.6,179.9 142.7,182.3 142.7,180.3 142.8,183.1 142.8,175.8 142.9,174.0 143.0,188.7 143.0,173.6 143.1,168.6 143.1,183.7 143.2,175.6 143.3,177.7 143.3,172.6 143.4,173.1 143.5,174.0 143.5,177.8 143.6,181.4 143.6,168.9 143.7,183.4 143.8,174.4 143.8,175.0 143.9,183.3 143.9,179.9 144.0,173.1 144.1,189.1 144.1,176.5 144.2,187.5 144.3,181.7 144.3,187.5 144.4,178.9 144.4,185.8 144.5,177.7 144.6,186.6 144.6,177.8 144.7,179.8 144.7,190.4 144.8,183.1 144.9,182.4 144.9,192.2 145.0,183.5 145.1,178.1 145.1,185.4 145.2,176.5 145.2,187.3 145.3,187.8 145.4,179.5 145.4,179.3 145.5,183.2 145.5,182.5 145.6,177.9 145.7,185.2 145.7,173.1 145.8,180.7 145.9,180.9 145.9,181.5 146.0,184.3 146.0,177.2 146.1,185.7 146.2,182.2 146.2,180.1 146.3,176.9 146.3,177.8 146.4,185.0 146.5,177.2 146.5,183.8 146.6,188.4 146.7,188.4 146.7,190.9 146.8,182.4 146.8,178.8 146.9,188.6 147.0,185.4 147.0,189.2 147.1,184.1 147.1,189.6 147.2,188.1 147.3,187.5 147.3,186.6 147.4,186.2 147.5,185.5 147.5,186.0 147.6,189.1 147.6,182.3 147.7,192.7 147.8,184.3 147.8,189.4 147.9,184.5 147.9,183.9 148.0,198.0 148.1,183.7 148.1,179.4 148.2,182.0 148.3,183.9 148.3,195.2 148.4,186.4 148.4,189.8 148.5,181.0 148.6,187.3 148.6,194.2 148.7,194.0 148.7,182.7 148.8,188.7 148.9,187.4 148.9,181.4 149.0,186.0 149.1,185.0 149.1,175.7 149.2,189.0 149.2,188.8 149.3,184.5 149.4,180.5 149.4,193.3 149.5,187.8 149.5,191.3 149.6,193.1 149.7,184.5 149.7,190.6 149.8,193.5 149.8,186.8 149.9,186.7 150.0,187.2 150.0,192.2 150.1,187.9 150.2,186.7 150.2,186.2 150.3,189.0 150.3,183.5 150.4,185.4 150.5,187.5 150.5,185.2 150.6,187.0 150.6,185.1 150.7,196.9 150.8,193.9 150.8,189.9 150.9,187.7 151.0,197.8 151.0,189.5 151.1,187.7 151.1,194.9 151.2,189.5 151.3,194.5 151.3,188.1 151.4,197.7 151.4,184.3 151.5,192.7 151.6,183.8 151.6,196.5 151.7,186.9 151.8,188.2 151.8,192.6 151.9,194.1 151.9,183.6 152.0,187.0 152.1,200.3 152.1,189.3 152.2,188.2 152.2,187.2 152.3,185.7 152.4,187.1 152.4,185.5 152.5,191.2 152.6,195.7 152.6,180.3 152.7,188.4 152.7,187.1 152.8,191.2 152.9,198.7 152.9,188.4 153.0,184.5 153.0,192.3 153.1,189.7 153.2,188.5 153.2,191.6 153.3,188.2 153.4,201.7 153.4,192.0 153.5,190.7 153.5,188.8 153.6,193.9 153.7,195.0 153.7,184.7 153.8,186.1 153.8,196.5 153.9,196.0 154.0,186.4 154.0,184.4 154.1,186.9 154.2,187.6 154.2,182.7 154.3,190.0 154.3,184.2 154.4,184.5 154.5,194.1 154.5,186.9 154.6,189.7 154.6,192.9 154.7,193.7 154.8,188.6 154.8,190.4 154.9,186.5 155.0,198.1 155.0,193.2 155.1,185.4 155.1,190.4 155.2,193.6 155.3,192.6 155.3,198.6 155.4,196.6 155.4,188.1 155.5,190.2 155.6,184.9 155.6,191.7 155.7,191.3 155.8,202.8 155.8,191.2 155.9,181.4 155.9,187.8 156.0,191.3 156.1,185.3 156.1,187.0 156.2,189.3 156.2,192.5 156.3,190.3 156.4,187.1 156.4,194.6 156.5,188.7 156.6,188.9 156.6,182.6 156.7,187.7 156.7,194.2 156.8,184.1 156.9,191.0 156.9,194.6 157.0,189.7 157.0,192.5 157.1,186.5 157.2,197.3 157.2,196.4 157.3,192.6 157.4,183.8 157.4,187.0 157.5,196.0 157.5,199.3 157.6,193.1 157.7,199.5 157.7,189.1 157.8,191.0 157.8,191.9 157.9,193.8 158.0,185.1 158.0,196.2 158.1,197.9 158.2,186.9 158.2,186.0 158.3,194.3 158.3,189.2 158.4,181.6 158.5,195.8 158.5,192.9 158.6,190.2 158.6,201.7 158.7,193.0 158.8,189.0 158.8,192.9 158.9,187.8 159.0,189.1 159.0,194.2 159.1,190.1 159.1,190.6 159.2,200.0 159.3,196.4 159.3,196.2 159.4,195.0 159.4,194.8 159.5,199.1 159.6,192.6 159.6,200.9 159.7,188.5 159.7,191.6 159.8,204.2 159.9,191.2 159.9,195.1 160.0,199.2 160.1,189.9 160.1,192.9 160.2,191.3 160.2,189.6 160.3,187.6 160.4,193.2 160.4,185.2 160.5,193.4 160.5,193.1 160.6,190.1 160.7,188.5 160.7,186.9 160.8,201.3 160.9,187.1 160.9,200.0 161.0,195.8 161.0,191.5 161.1,188.0 161.2,197.8 161.2,203.9 161.3,189.0 161.3,191.9 161.4,197.9 161.5,194.7 161.5,202.1 161.6,190.8 161.7,195.7 161.7,187.8 161.8,202.6 161.8,190.1 161.9,183.6 162.0,192.8 162.0,192.8 162.1,201.9 162.1,191.9 162.2,193.4 162.3,196.1 162.3,200.5 162.4,193.2 162.5,198.1 162.5,195.8 162.6,192.3 162.6,193.9 162.7,193.7 162.8,189.6 162.8,199.0 162.9,187.5 162.9,198.9 163.0,197.9 163.1,193.3 163.1,190.4 163.2,192.8 163.3,195.9 163.3,197.1 163.4,195.1 163.4,198.2 163.5,191.4 163.6,195.3 163.6,187.0 163.7,197.3 163.7,194.6 163.8,201.1 163.9,199.1 163.9,197.0 164.0,181.6 164.1,194.2 164.1,187.6 164.2,198.8 164.2,205.1 164.3,191.8 164.4,194.4 164.4,193.0 164.5,195.7 164.5,197.0 164.6,202.1 164.7,189.8 164.7,201.2 164.8,190.1 164.9,195.5 164.9,199.4 165.0,197.4 165.0,190.2 165.1,190.0 165.2,192.3 165.2,194.1 165.3,199.4 165.3,188.7 165.4,196.5 165.5,197.1 165.5,196.9 165.6,196.5 165.7,201.2 165.7,196.7 165.8,198.3 165.8,197.0 165.9,202.5 166.0,208.2 166.0,200.3 166.1,193.5 166.1,201.2 166.2,190.4 166.3,186.5 166.3,193.0 166.4,191.7 166.5,196.9 166.5,188.3 166.6,201.1 166.6,201.3 166.7,193.7 166.8,191.7 166.8,203.6 166.9,189.9 166.9,192.5 167.0,194.9 167.1,193.8 167.1,188.7 167.2,193.8 167.3,191.0 167.3,195.7 167.4,206.5 167.4,197.8 167.5,193.1 167.6,185.1 167.6,188.9 167.7,187.7 167.7,198.3 167.8,191.8 167.9,195.4 167.9,192.4 168.0,195.8 168.1,201.4 168.1,192.2 168.2,193.8 168.2,191.7 168.3,199.1 168.4,190.8 168.4,190.4 168.5,189.3 168.5,189.2 168.6,197.4 168.7,206.7 168.7,191.1 168.8,199.6 168.9,196.6 168.9,190.6 169.0,194.3 169.0,194.5 169.1,192.5 169.2,204.0 169.2,187.2 169.3,197.3 169.3,197.1 169.4,193.1 169.5,196.3 169.5,199.5 169.6,196.3 169.6,197.5 169.7,198.7 169.8,186.8 169.8,204.8 169.9,205.7 170.0,201.8 170.0,200.2 170.1,189.7 170.1,195.3 170.2,190.9 170.3,193.3 170.3,200.1 170.4,192.4 170.4,195.4 170.5,187.6 170.6,195.3 170.6,196.4 170.7,192.9 170.8,192.9 170.8,204.3 170.9,190.8 170.9,191.5 171.0,192.6 171.1,201.4 171.1,205.3 171.2,197.6 171.2,193.0 171.3,194.3 171.4,200.9 171.4,192.2 171.5,202.6 171.6,202.5 171.6,196.6 171.7,199.1 171.7,199.6 171.8,203.1 171.9,191.8 171.9,201.5 172.0,194.8 172.0,193.1 172.1,196.9 172.2,195.5 172.2,192.2 172.3,189.5 172.4,192.4 172.4,202.9 172.5,205.1 172.5,199.4 172.6,201.8 172.7,194.3 172.7,196.3 172.8,198.4 172.8,206.6 172.9,192.4 173.0,197.1 173.0,195.3 173.1,192.1 173.2,198.4 173.2,195.6 173.3,201.2 173.3,196.8 173.4,195.5 173.5,197.4 173.5,202.8 173.6,194.0 173.6,195.1 173.7,200.2 173.8,200.9 173.8,202.6 173.9,189.6 174.0,203.9 174.0,195.2 174.1,197.8 174.1,195.0 174.2,194.8 174.3,200.4 174.3,203.0 174.4,192.0 174.4,202.9 174.5,201.4 174.6,194.6 174.6,200.7 174.7,193.9 174.8,202.0 174.8,196.1 174.9,193.6 174.9,195.5 175.0,193.8 175.1,198.0 175.1,197.9 175.2,197.3 175.2,194.7 175.3,218.3 175.4,197.6 175.4,188.9 175.5,198.2 175.6,202.1 175.6,198.4 175.7,195.5 175.7,196.1 175.8,196.6 175.9,194.8 175.9,194.7 176.0,206.5 176.0,202.4 176.1,197.2 176.2,201.4 176.2,196.2 176.3,197.6 176.4,196.5 176.4,199.3 176.5,200.9 176.5,198.3 176.6,194.4 176.7,193.9 176.7,204.5 176.8,196.1 176.8,196.1 176.9,203.7 177.0,204.0 177.0,199.7 177.1,195.6 177.2,207.6 177.2,199.1 177.3,199.8 177.3,196.7 177.4,191.3 177.5,191.6 177.5,204.4 177.6,199.1 177.6,196.4 177.7,207.7 177.8,191.2 177.8,196.0 177.9,191.2 178.0,201.4 178.0,202.5 178.1,209.7 178.1,201.3 178.2,193.9 178.3,193.7 178.3,182.6 178.4,194.9 178.4,196.8 178.5,201.7 178.6,200.2 178.6,200.1 178.7,198.5 178.8,201.6 178.8,206.3 178.9,191.1 178.9,195.6 179.0,191.6 179.1,204.6 179.1,203.2 179.2,200.9 179.2,192.4 179.3,198.4 179.4,196.6 179.4,198.0 179.5,196.8 179.6,199.9 179.6,196.0 179.7,206.6 179.7,198.7 179.8,196.4 179.9,197.2 179.9,195.8 180.0,201.2 180.0,196.5 180.1,199.0 180.2,196.0 180.2,191.3 180.3,201.7 180.3,193.2 180.4,200.7 180.5,199.6 180.5,190.6 180.6,192.1 180.7,195.6 180.7,194.3 180.8,192.7 180.8,201.0 180.9,196.8 181.0,199.5 181.0,196.0 181.1,199.2 181.1,194.6 181.2,203.1 181.3,200.4 181.3,198.1 181.4,195.9 181.5,193.2 181.5,198.6 181.6,199.4 181.6,196.8 181.7,194.6 181.8,200.3 181.8,208.6 181.9,196.6 181.9,199.4 182.0,199.6 182.1,186.9 182.1,198.5 182.2,194.9 182.3,203.9 182.3,196.9 182.4,194.6 182.4,197.1 182.5,198.7 182.6,195.6 182.6,197.8 182.7,192.2 182.7,197.1 182.8,201.4 182.9,206.5 182.9,202.3 183.0,199.2 183.1,203.2 183.1,202.5 183.2,205.2 183.2,202.8 183.3,197.6 183.4,199.2 183.4,198.9 183.5,199.4 183.5,199.0 183.6,194.8 183.7,189.1 183.7,195.3 183.8,189.5 183.9,198.5 183.9,198.2 184.0,191.0 184.0,201.2 184.1,201.9 184.2,203.8 184.2,205.4 184.3,211.4 184.3,193.1 184.4,202.7 184.5,200.1 184.5,200.0 184.6,202.3 184.7,195.2 184.7,195.7 184.8,194.7 184.8,195.1 184.9,197.9 185.0,192.1 185.0,193.8 185.1,200.8 185.1,198.0 185.2,200.0 185.3,190.2 185.3,195.0 185.4,196.0 185.5,198.5 185.5,195.9 185.6,204.0 185.6,203.8 185.7,198.5 185.8,198.5 185.8,201.4 185.9,196.4 185.9,203.2 186.0,200.4 186.1,199.1 186.1,198.6 186.2,200.7 186.3,202.8 186.3,202.5 186.4,200.1 186.4,203.7 186.5,199.0 186.6,203.9 186.6,198.4 186.7,189.6 186.7,204.2 186.8,199.0 186.9,193.5 186.9,197.7 187.0,194.8 187.1,207.5 187.1,200.7 187.2,191.9 187.2,200.9 187.3,196.9 187.4,210.1 187.4,194.1 187.5,189.0 187.5,198.9 187.6,197.1 187.7,196.8 187.7,189.5 187.8,200.5 187.9,205.8 187.9,190.5 188.0,203.7 188.0,196.2 188.1,208.7 188.2,200.5 188.2,197.9 188.3,203.4 188.3,201.0 188.4,196.2 188.5,201.8 188.5,196.5 188.6,211.5 188.7,207.4 188.7,197.3 188.8,196.2 188.8,200.2 188.9,192.1 189.0,193.0 189.0,196.7 189.1,196.6 189.1,199.1 189.2,203.6 189.3,196.8 189.3,200.9 189.4,201.4 189.5,194.2 189.5,199.8 189.6,194.8 189.6,203.4 189.7,200.8 189.8,198.9 189.8,193.2 189.9,204.5 189.9,195.6 190.0,201.9 190.1,198.4 190.1,195.5 190.2,204.4 190.2,202.0 190.3,196.4 190.4,203.9 190.4,197.7 190.5,197.6 190.6,199.5 190.6,195.8 190.7,197.1 190.7,198.3 190.8,205.5 190.9,205.4 190.9,197.9 191.0,205.9 191.0,198.8 191.1,200.7 191.2,202.8 191.2,200.3 191.3,209.3 191.4,200.1 191.4,194.0 191.5,204.6 191.5,205.9 191.6,197.3 191.7,186.4 191.7,205.1 191.8,202.6 191.8,202.5 191.9,203.3 192.0,206.3 192.0,199.0 192.1,203.1 192.2,196.0 192.2,197.7 192.3,203.7 192.3,200.8 192.4,193.5 192.5,200.7 192.5,198.4 192.6,195.7 192.6,201.1 192.7,197.5 192.8,192.6 192.8,194.5 192.9,206.8 193.0,192.8 193.0,200.2 193.1,201.9 193.1,202.0 193.2,194.1 193.3,197.9 193.3,199.9 193.4,202.7 193.4,196.6 193.5,194.4 193.6,203.6 193.6,209.1 193.7,201.5 193.8,196.8 193.8,201.1 193.9,199.8 193.9,202.9 194.0,194.1 194.1,199.9 194.1,198.7 194.2,192.8 194.2,200.3 194.3,199.6 194.4,197.7 194.4,201.8 194.5,193.4 194.6,199.2 194.6,201.3 194.7,200.7 194.7,204.0 194.8,192.4 194.9,193.1 194.9,200.5 195.0,201.4 195.0,208.5 195.1,202.1 195.2,195.8 195.2,202.9 195.3,195.9 195.4,193.2 195.4,210.6 195.5,200.9 195.5,202.6 195.6,201.9 195.7,207.2 195.7,205.8 195.8,204.7 195.8,195.2 195.9,193.7 196.0,205.6 196.0,205.8 196.1,201.7 196.2,200.5 196.2,200.3 196.3,196.7 196.3,206.1 196.4,202.4 196.5,201.7 196.5,201.2 196.6,209.1 196.6,201.7 196.7,202.8 196.8,194.7 196.8,201.8 196.9,212.5 197.0,197.4 197.0,199.1 197.1,203.4 197.1,203.7 197.2,202.3 197.3,192.8 197.3,201.8 197.4,194.7 197.4,196.2 197.5,202.0 197.6,198.4 197.6,203.1 197.7,212.9 197.8,203.0 197.8,202.7 197.9,195.9 197.9,197.0 198.0,195.2 198.1,197.5 198.1,195.1 198.2,196.9 198.2,198.8 198.3,195.5 198.4,193.8 198.4,194.0 198.5,201.6 198.6,200.0 198.6,205.8 198.7,204.1 198.7,197.7 198.8,203.7 198.9,193.7 198.9,209.4 199.0,206.8 199.0,198.9 199.1,194.9 199.2,201.4 199.2,188.8 199.3,196.5 199.4,202.9 199.4,200.1 199.5,206.9 199.5,203.8 199.6,195.4 199.7,201.0 199.7,197.7 199.8,196.3 199.8,201.8 199.9,195.7 200.0,207.8 200.0,197.4 200.1,208.2 200.1,195.2 200.2,202.4 200.3,194.8 200.3,194.2 200.4,205.6 200.5,202.7 200.5,194.5 200.6,204.8 200.6,196.5 200.7,200.4 200.8,202.1 200.8,207.4 200.9,192.3 200.9,206.7 201.0,202.3 201.1,198.1 201.1,193.9 201.2,192.8 201.3,194.2 201.3,202.2 201.4,198.5 201.4,195.2 201.5,197.7 201.6,206.5 201.6,198.6 201.7,197.5 201.7,205.6 201.8,201.9 201.9,200.1 201.9,197.4 202.0,193.5 202.1,195.1 202.1,198.0 202.2,205.9 202.2,201.5 202.3,202.3 202.4,200.9 202.4,200.9 202.5,195.8 202.5,191.0 202.6,197.8 202.7,194.4 202.7,197.3 202.8,198.9 202.9,194.8 202.9,195.4 203.0,199.6 203.0,200.5 203.1,197.3 203.2,202.1 203.2,199.1 203.3,195.8 203.3,200.3 203.4,208.0 203.5,196.1 203.5,205.0 203.6,205.9 203.7,206.4 203.7,196.6 203.8,213.6 203.8,200.6 203.9,199.0 204.0,199.1 204.0,202.6 204.1,200.3 204.1,199.4 204.2,205.5 204.3,197.1 204.3,195.7 204.4,203.5 204.5,203.1 204.5,204.7 204.6,195.6 204.6,204.7 204.7,202.2 204.8,207.5 204.8,194.9 204.9,201.1 204.9,199.0 205.0,193.5 205.1,197.2 205.1,204.9 205.2,198.2 205.3,197.2 205.3,203.8 205.4,204.3 205.4,204.3 205.5,196.9 205.6,200.0 205.6,204.5 205.7,197.5 205.7,197.1 205.8,203.7 205.9,206.8 205.9,195.4 206.0,189.3 206.1,194.2 206.1,196.0 206.2,199.7 206.2,202.8 206.3,199.6 206.4,208.2 206.4,200.9 206.5,196.2 206.5,200.1 206.6,197.6 206.7,211.5 206.7,203.7 206.8,208.8 206.9,196.1 206.9,198.5 207.0,193.4 207.0,197.2 207.1,208.4 207.2,204.0 207.2,198.5 207.3,197.0 207.3,211.0 207.4,195.4 207.5,200.1 207.5,199.4 207.6,205.1 207.7,197.7 207.7,204.8 207.8,201.4 207.8,200.3 207.9,192.0 208.0,195.0 208.0,203.5 208.1,206.2 208.1,201.2 208.2,203.6 208.3,198.7 208.3,207.0 208.4,197.6 208.5,204.5 208.5,201.8 208.6,199.4 208.6,199.0 208.7,202.7 208.8,201.8 208.8,196.9 208.9,207.6 208.9,201.5 209.0,200.5 209.1,206.6 209.1,204.7 209.2,200.1 209.3,202.7 209.3,196.0 209.4,197.8 209.4,191.0 209.5,205.6 209.6,192.5 209.6,203.3 209.7,197.0 209.7,196.4 209.8,199.7 209.9,201.6 209.9,208.1 210.0,210.9 210.0,202.0 210.1,204.2 210.2,198.0 210.2,203.5 210.3,201.4 210.4,198.6 210.4,200.1 210.5,200.3 210.5,201.3 210.6,202.2 210.7,198.4 210.7,197.4 210.8,209.9 210.8,193.4 210.9,208.1 211.0,207.0 211.0,189.2 211.1,197.7 211.2,203.4 211.2,193.7 211.3,211.4 211.3,189.7 211.4,206.6 211.5,207.1 211.5,204.4 211.6,199.7 211.6,202.1 211.7,196.8 211.8,204.0 211.8,210.3 211.9,199.5 212.0,204.8 212.0,210.3 212.1,199.1 212.1,201.3 212.2,195.0 212.3,205.5 212.3,202.0 212.4,194.3 212.4,200.4 212.5,197.4 212.6,197.9 212.6,201.0 212.7,197.7 212.8,204.7 212.8,197.7 212.9,204.7 212.9,200.5 213.0,204.2 213.1,198.4 213.1,198.5 213.2,195.8 213.2,203.1 213.3,204.6 213.4,209.5 213.4,206.1 213.5,201.7 213.6,199.8 213.6,202.3 213.7,200.6 213.7,206.8 213.8,204.6 213.9,197.2 213.9,197.8 214.0,208.7 214.0,202.0 214.1,199.7 214.2,205.7 214.2,199.1 214.3,199.5 214.4,198.8 214.4,192.5 214.5,204.3 214.5,193.7 214.6,198.4 214.7,197.6 214.7,203.8 214.8,200.5 214.8,200.8 214.9,193.7 215.0,200.2 215.0,211.9 215.1,202.0 215.2,202.3 215.2,200.7 215.3,209.3 215.3,203.0 215.4,203.3 215.5,201.4 215.5,200.0 215.6,204.8 215.6,205.4 215.7,195.4 215.8,206.9 215.8,202.9 215.9,204.8 216.0,202.7 216.0,195.6 216.1,195.9 216.1,213.4 216.2,201.9 216.3,194.9 216.3,202.3 216.4,199.3 216.4,193.1 216.5,191.3 216.6,212.5 216.6,207.0 216.7,206.0 216.8,199.8 216.8,202.0 216.9,203.4 216.9,192.1 217.0,199.6 217.1,196.0 217.1,195.7 217.2,198.6 217.2,200.1 217.3,199.8 217.4,194.8 217.4,198.9 217.5,209.3 217.6,196.5 217.6,193.8 217.7,202.0 217.7,203.4 217.8,202.8 217.9,196.2 217.9,205.1 218.0,197.6 218.0,196.2 218.1,198.4 218.2,200.5 218.2,203.9 218.3,204.6 218.4,200.8 218.4,204.8 218.5,201.3 218.5,204.7 218.6,211.8 218.7,212.5 218.7,204.2 218.8,195.1 218.8,199.7 218.9,200.5 219.0,208.0 219.0,199.1 219.1,206.8 219.2,190.4 219.2,204.6 219.3,210.5 219.3,201.1 219.4,200.9 219.5,204.0 219.5,208.6 219.6,210.9 219.6,201.3 219.7,207.1 219.8,203.3 219.8,201.7 219.9,203.7 220.0,199.2 220.0,201.2 220.1,197.1 220.1,198.2 220.2,200.4 220.3,200.4 220.3,196.1 220.4,207.6 220.4,200.5 220.5,195.3 220.6,205.6 220.6,197.9 220.7,204.0 220.7,201.0 220.8,202.1 220.9,201.8 220.9,198.7 221.0,201.2 221.1,209.5 221.1,191.8 221.2,201.3 221.2,202.9 221.3,194.9 221.4,195.4 221.4,210.1 221.5,199.5 221.5,209.8 221.6,204.2 221.7,201.4 221.7,208.1 221.8,203.8 221.9,211.0 221.9,202.9 222.0,201.7 222.0,201.9 222.1,206.8 222.2,204.5 222.2,197.0 222.3,198.5 222.3,202.5 222.4,197.5 222.5,199.6 222.5,197.2 222.6,207.2 222.7,202.9 222.7,205.3 222.8,201.2 222.8,209.8 222.9,200.9 223.0,214.5 223.0,205.4 223.1,203.3 223.1,199.1 223.2,189.5 223.3,200.6 223.3,201.9 223.4,209.2 223.5,195.5 223.5,209.1 223.6,200.2 223.6,204.2 223.7,190.7 223.8,206.8 223.8,199.2 223.9,204.1 223.9,201.6 224.0,196.5 224.1,205.2 224.1,204.1 224.2,203.7 224.3,205.5 224.3,205.8 224.4,201.2 224.4,195.6 224.5,195.5 224.6,209.1 224.6,204.2 224.7,201.7 224.7,199.5 224.8,201.4 224.9,201.4 224.9,199.9 225.0,198.4 225.1,210.3 225.1,202.6 225.2,198.8 225.2,195.9 225.3,198.3 225.4,209.3 225.4,210.7 225.5,200.4 225.5,201.6 225.6,200.1 225.7,196.8 225.7,206.8 225.8,202.9 225.9,211.7 225.9,198.2 226.0,200.8 226.0,205.0 226.1,200.4 226.2,195.6 226.2,195.9 226.3,201.8 226.3,202.8 226.4,201.0 226.5,205.6 226.5,205.5 226.6,202.8 226.7,201.5 226.7,199.9 226.8,208.7 226.8,205.2 226.9,201.7 227.0,203.3 227.0,200.1 227.1,195.6 227.1,197.3 227.2,204.6 227.3,203.3 227.3,208.1 227.4,201.7 227.5,205.1 227.5,207.0 227.6,205.6 227.6,199.0 227.7,200.7 227.8,202.0 227.8,197.4 227.9,203.5 227.9,205.7 228.0,199.5 228.1,209.7 228.1,200.4 228.2,200.8 228.3,200.7 228.3,198.7 228.4,203.5 228.4,201.8 228.5,208.7 228.6,204.4 228.6,205.0 228.7,201.0 228.7,196.1 228.8,201.6 228.9,197.1 228.9,206.0 229.0,202.0 229.1,211.8 229.1,205.2 229.2,205.7 229.2,203.2 229.3,203.1 229.4,205.0 229.4,206.2 229.5,199.4 229.5,204.5 229.6,213.3 229.7,202.1 229.7,201.1 229.8,199.7 229.9,196.6 229.9,209.6 230.0,202.9 230.0,204.0 230.1,210.4 230.2,213.2 230.2,199.1 230.3,207.2 230.3,205.5 230.4,204.6 230.5,205.0 230.5,202.9 230.6,209.7 230.6,205.6 230.7,204.6 230.8,208.3 230.8,206.9 230.9,205.2 231.0,204.6 231.0,210.6 231.1,205.5 231.1,203.0 231.2,199.9 231.3,202.0 231.3,212.8 231.4,204.0 231.4,204.6 231.5,195.1 231.6,203.7 231.6,206.4 231.7,204.7 231.8,199.8 231.8,209.1 231.9,201.0 231.9,198.8 232.0,199.4 232.1,203.9 232.1,208.1 232.2,208.9 232.2,204.9 232.3,214.0 232.4,201.4 232.4,200.4 232.5,203.5 232.6,196.9 232.6,204.7 232.7,207.0 232.7,203.7 232.8,206.3 232.9,200.5 232.9,198.4 233.0,201.9 233.0,209.3 233.1,208.8 233.2,202.7 233.2,209.6 233.3,203.3 233.4,211.0 233.4,206.8 233.5,202.9 233.5,213.1 233.6,201.7 233.7,201.0 233.7,198.9 233.8,206.0 233.8,204.8 233.9,204.7 234.0,203.4 234.0,211.1 234.1,203.4 234.2,202.2 234.2,210.4 234.3,211.2 234.3,212.2 234.4,198.1 234.5,202.9 234.5,208.0 234.6,205.5 234.6,211.9 234.7,199.9 234.8,208.4 234.8,203.0 234.9,211.1 235.0,205.4 235.0,210.0 235.1,203.1 235.1,199.9 235.2,201.2 235.3,203.3 235.3,201.7 235.4,215.9 235.4,211.5 235.5,207.1 235.6,201.8 235.6,205.4 235.7,203.3 235.8,217.1 235.8,207.5 235.9,208.3 235.9,204.6 236.0,198.0 236.1,203.1 236.1,201.8 236.2,207.9 236.2,206.8 236.3,203.2 236.4,204.9 236.4,213.0 236.5,202.6 236.6,202.8 236.6,205.7 236.7,203.8 236.7,205.0 236.8,209.0 236.9,214.0 236.9,199.5 237.0,206.8 237.0,207.1 237.1,206.6 237.2,212.7 237.2,205.6 237.3,211.2 237.4,205.2 237.4,206.6 237.5,207.2 237.5,207.7 237.6,206.6 237.7,211.4 237.7,207.3 237.8,208.1 237.8,207.2 237.9,203.3 238.0,204.0 238.0,203.2 238.1,208.4 238.2,204.7 238.2,217.1 238.3,208.8 238.3,210.0 238.4,200.6 238.5,214.9 238.5,208.2 238.6,207.6 238.6,212.6 238.7,208.5 238.8,205.8 238.8,217.4 238.9,203.9 239.0,208.0 239.0,212.0 239.1,204.2 239.1,208.2 239.2,210.3 239.3,218.7 239.3,205.1 239.4,208.7 239.4,211.7 239.5,209.3 239.6,202.1 239.6,210.8 239.7,209.6 239.8,211.1 239.8,214.0 239.9,213.6 239.9,211.1 240.0,211.3 240.1,205.0 240.1,209.1 240.2,210.6 240.2,208.1 240.3,210.2 240.4,205.1 240.4,216.3 240.5,218.9 240.5,208.4 240.6,211.8 240.7,209.2 240.7,215.4 240.8,212.1 240.9,210.7 240.9,209.5 241.0,211.0 241.0,206.4 241.1,213.4 241.2,207.7 241.2,218.8 241.3,211.3 241.3,215.4 241.4,210.8 241.5,216.9 241.5,207.2 241.6,213.6 241.7,210.2 241.7,212.0 241.8,211.6 241.8,215.2 241.9,203.0 242.0,212.8 242.0,205.3 242.1,218.5 242.1,203.5 242.2,207.5 242.3,204.8 242.3,218.6 242.4,206.5 242.5,212.4 242.5,209.8 242.6,204.6 242.6,210.7 242.7,214.9 242.8,211.5 242.8,216.2 242.9,210.9 242.9,212.4 243.0,210.9 243.1,213.9 243.1,220.4 243.2,214.1 243.3,213.4 243.3,210.1 243.4,220.8 243.4,218.8 243.5,208.2 243.6,209.1 243.6,212.5 243.7,211.2 243.7,221.1 243.8,203.3 243.9,214.6 243.9,216.1 244.0,208.5 244.1,210.5 244.1,215.0 244.2,220.0 244.2,209.5 244.3,206.9 244.4,217.4 244.4,219.7 244.5,212.1 244.5,204.4 244.6,219.6 244.7,212.5 244.7,218.3 244.8,213.5 244.9,212.2 244.9,211.9 245.0,222.4 245.0,219.8 245.1,205.1 245.2,210.1 245.2,221.3 245.3,212.6 245.3,208.5 245.4,214.2 245.5,213.7 245.5,213.7 245.6,212.3 245.7,213.0 245.7,212.5 245.8,215.8 245.8,211.1 245.9,213.3 246.0,213.9 246.0,220.0 246.1,216.2 246.1,214.0 246.2,221.9 246.3,216.4 246.3,219.3 246.4,216.9 246.5,222.3 246.5,220.5 246.6,214.8 246.6,213.3 246.7,218.7 246.8,218.1 246.8,214.8 246.9,209.1 246.9,207.7 247.0,216.7 247.1,218.5 247.1,218.7 247.2,210.1 247.3,219.7 247.3,213.3 247.4,217.1 247.4,222.2 247.5,212.3 247.6,213.2 247.6,203.8 247.7,212.0 247.7,228.2 247.8,217.6 247.9,216.1 247.9,219.7 248.0,217.4 248.1,213.4 248.1,217.5 248.2,214.5 248.2,218.6 248.3,217.5 248.4,212.2 248.4,216.3 248.5,216.5 248.5,215.1 248.6,220.1 248.7,223.5 248.7,215.0 248.8,214.5 248.9,207.3 248.9,216.1 249.0,214.9 249.0,207.8 249.1,217.9 249.2,219.2 249.2,213.8 249.3,215.3 249.3,212.9 249.4,220.1 249.5,210.8 249.5,215.8 249.6,225.1 249.7,217.3 249.7,219.1 249.8,216.6 249.8,212.4 249.9,217.2 250.0,219.0 250.0,213.2 250.1,218.8 250.1,222.6 250.2,221.9 250.3,211.0 250.3,213.5 250.4,211.0 250.4,222.0 250.5,220.2 250.6,220.6 250.6,214.1 250.7,213.0 250.8,218.1 250.8,218.2 250.9,214.3 250.9,218.5 251.0,220.6 251.1,218.9 251.1,212.0 251.2,209.3 251.2,217.0 251.3,218.8 251.4,217.1 251.4,216.4 251.5,215.4 251.6,221.2 251.6,218.0 251.7,218.8 251.7,214.3 251.8,215.8 251.9,219.1 251.9,214.3 252.0,213.3 252.0,217.1 252.1,225.4 252.2,219.4 252.2,224.6 252.3,218.1 252.4,216.9 252.4,213.0 252.5,216.4 252.5,224.7 252.6,220.2 252.7,221.9 252.7,221.8 252.8,218.9 252.8,218.1 252.9,219.5 253.0,221.8 253.0,220.9 253.1,221.1 253.2,219.7 253.2,216.0 253.3,218.1 253.3,213.8 253.4,223.4 253.5,210.6 253.5,218.4 253.6,229.2 253.6,218.0 253.7,214.8 253.8,219.4 253.8,224.8 253.9,218.9 254.0,222.1 254.0,220.0 254.1,218.1 254.1,232.6 254.2,220.0 254.3,217.5 254.3,217.7 254.4,221.3 254.4,221.5 254.5,223.0 254.6,220.7 254.6,214.0 254.7,222.1 254.8,218.7 254.8,218.8 254.9,214.0 254.9,217.7 255.0,217.1 255.1,220.0 255.1,214.2 255.2,220.4 255.2,220.8 255.3,215.7 255.4,217.8 255.4,216.8 255.5,224.1 255.6,210.1 255.6,219.1 255.7,213.7 255.7,218.8 255.8,224.0 255.9,218.0 255.9,221.2 256.0,217.2 256.0,228.7 256.1,224.5 256.2,227.2 256.2,215.4 256.3,216.3 256.4,225.3 256.4,220.1 256.5,219.9 256.5,222.3 256.6,215.9 256.7,224.2 256.7,221.1 256.8,223.1 256.8,218.4 256.9,223.3 257.0,218.3 257.0,225.2 257.1,225.9 257.2,225.0 257.2,223.5 257.3,225.0 257.3,210.3 257.4,224.9 257.5,220.4 257.5,221.9 257.6,220.4 257.6,215.9 257.7,218.5 257.8,224.3 257.8,227.5 257.9,219.2 258.0,218.0 258.0,227.7 258.1,218.2 258.1,230.3 258.2,222.1 258.3,218.3 258.3,226.0 258.4,228.9 258.4,216.1 258.5,228.4 258.6,220.4 258.6,228.2 258.7,220.6 258.8,215.7 258.8,224.2 258.9,226.0 258.9,234.3 259.0,229.3 259.1,225.1 259.1,221.3 259.2,220.2 259.2,221.2 259.3,219.0 259.4,221.3 259.4,207.9 259.5,223.2 259.6,222.4 259.6,233.1 259.7,225.7 259.7,220.7 259.8,225.0 259.9,217.7 259.9,220.2 260.0,215.1 260.0,228.7 260.1,226.2 260.2,218.0 260.2,222.6 260.3,226.8 260.4,224.9 260.4,224.5 260.5,219.5 260.5,220.4 260.6,223.4 260.7,226.8 260.7,219.7 260.8,218.5 260.8,227.8 260.9,219.4 261.0,227.6 261.0,224.2 261.1,228.3 261.1,230.5 261.2,226.2 261.3,226.5 261.3,219.6 261.4,220.6 261.5,226.1 261.5,229.8 261.6,229.2 261.6,233.0 261.7,224.9 261.8,224.4 261.8,227.8 261.9,223.7 261.9,223.3 262.0,232.9 262.1,227.8 262.1,219.4 262.2,225.9 262.3,218.0 262.3,228.4 262.4,219.7 262.4,227.4 262.5,217.5 262.6,222.2 262.6,228.9 262.7,220.8 262.7,224.4 262.8,222.2 262.9,214.7 262.9,225.4 263.0,226.0 263.1,219.7 263.1,226.6 263.2,221.0 263.2,220.2 263.3,224.4 263.4,221.6 263.4,233.8 263.5,218.1 263.5,232.4 263.6,228.6 263.7,216.4 263.7,214.6 263.8,226.9 263.9,222.7 263.9,226.9 264.0,229.3 264.0,223.2 264.1,220.4 264.2,213.6 264.2,226.0 264.3,221.0 264.3,226.2 264.4,225.8 264.5,219.3 264.5,232.0 264.6,229.4 264.7,228.5 264.7,220.2 264.8,223.4 264.8,222.9 264.9,223.4 265.0,220.6 265.0,227.0 265.1,226.2 265.1,226.7 265.2,223.2 265.3,230.6 265.3,226.1 265.4,214.1 265.5,222.7 265.5,225.1 265.6,229.3 265.6,224.2 265.7,224.0 265.8,222.7 265.8,228.2 265.9,223.7 265.9,223.1 266.0,233.5 266.1,227.8 266.1,223.4 266.2,216.0 266.3,228.2 266.3,222.8 266.4,227.1 266.4,227.2 266.5,230.6 266.6,230.0 266.6,222.5 266.7,225.1 266.7,236.0 266.8,232.7 266.9,232.6 266.9,231.6 267.0,224.6 267.1,217.5 267.1,232.2 267.2,226.3 267.2,226.5 267.3,226.2 267.4,228.7 267.4,228.2 267.5,219.6 267.5,230.5 267.6,224.0 267.7,224.2 267.7,233.2 267.8,229.9 267.9,224.8 267.9,218.6 268.0,226.9 268.0,228.5 268.1,226.0 268.2,221.2 268.2,223.1 268.3,221.2 268.3,227.3 268.4,229.7 268.5,230.6 268.5,223.4 268.6,227.4 268.7,228.7 268.7,224.4 268.8,225.9 268.8,235.2 268.9,227.4 269.0,230.2 269.0,224.8 269.1,226.8 269.1,219.7 269.2,226.6 269.3,236.5 269.3,235.3 269.4,231.6 269.5,230.7 269.5,227.0 269.6,224.4 269.6,226.2 269.7,229.4 269.8,223.7 269.8,230.7 269.9,222.9 269.9,219.7 270.0,222.8 270.1,220.2 270.1,221.4 270.2,233.5 270.3,226.2 270.3,228.0 270.4,231.8 270.4,232.2 270.5,225.1 270.6,232.6 270.6,228.7 270.7,227.2 270.7,229.0 270.8,221.4 270.9,224.1 270.9,226.8 271.0,229.8 271.0,225.8 271.1,226.6 271.2,231.3 271.2,233.2 271.3,231.8 271.4,232.6 271.4,225.8 271.5,226.2 271.5,228.8 271.6,226.3 271.7,225.5 271.7,234.3 271.8,226.8 271.8,223.7 271.9,229.6 272.0,235.1 272.0,228.0 272.1,232.7 272.2,225.9 272.2,225.7 272.3,225.0 272.3,227.2 272.4,235.3 272.5,237.4 272.5,239.4 272.6,223.8 272.6,226.9 272.7,231.3 272.8,230.5 272.8,229.1 272.9,221.3 273.0,229.5 273.0,222.2 273.1,243.4 273.1,227.2 273.2,228.9 273.3,223.4 273.3,226.2 273.4,222.9 273.4,232.2 273.5,227.1 273.6,230.5 273.6,225.5 273.7,225.4 273.8,233.5 273.8,224.4 273.9,221.0 273.9,230.0 274.0,223.7 274.1,226.6 274.1,232.1 274.2,225.1 274.2,232.0 274.3,225.7 274.4,234.6 274.4,233.9 274.5,225.9 274.6,227.7 274.6,225.2 274.7,229.4 274.7,238.2 274.8,222.8 274.9,232.4 274.9,223.3 275.0,225.2 275.0,221.5 275.1,237.3 275.2,229.0 275.2,229.8 275.3,226.1 275.4,233.2 275.4,220.3 275.5,229.0 275.5,237.9 275.6,227.4 275.7,229.0 275.7,231.7 275.8,225.7 275.8,229.1 275.9,237.8 276.0,229.9 276.0,230.6 276.1,227.1 276.2,230.4 276.2,229.4 276.3,235.1 276.3,232.2 276.4,228.2 276.5,219.3 276.5,232.2 276.6,232.4 276.6,225.6 276.7,221.2 276.8,224.7 276.8,234.7 276.9,225.1 277.0,227.6 277.0,230.3 277.1,234.4 277.1,229.4 277.2,228.9 277.3,227.3 277.3,236.2 277.4,233.9 277.4,229.2 277.5,223.9 277.6,226.4 277.6,232.0 277.7,237.5 277.8,233.3 277.8,231.8 277.9,230.9 277.9,232.4 278.0,231.8 278.1,226.3 278.1,228.5 278.2,239.4 278.2,223.0 278.3,228.0 278.4,234.3 278.4,229.3 278.5,226.7 278.6,224.6 278.6,232.2 278.7,234.2 278.7,235.7 278.8,230.3 278.9,234.3 278.9,225.9 279.0,230.8 279.0,227.4 279.1,230.9 279.2,233.3 279.2,234.6 279.3,226.2 279.4,235.4 279.4,237.1 279.5,226.1 279.5,229.6 279.6,224.4 279.7,230.4 279.7,231.6 279.8,229.6 279.8,232.6 279.9,229.2 280.0,230.5 280.0,224.7 280.1,230.7 280.2,227.1 280.2,228.7 280.3,230.2 280.3,231.4 280.4,244.9 280.5,224.3 280.5,229.5 280.6,232.6 280.6,232.2 280.7,235.8 280.8,236.1 280.8,232.8 280.9,230.7 280.9,226.6 281.0,227.0 281.1,229.0 281.1,232.0 281.2,231.8 281.3,231.0 281.3,230.3 281.4,233.5 281.4,231.9 281.5,232.2 281.6,232.3 281.6,228.9 281.7,226.9 281.7,233.1 281.8,232.8 281.9,230.3 281.9,229.5 282.0,240.4 282.1,228.1 282.1,230.0 282.2,237.2 282.2,240.8 282.3,231.8 282.4,238.6 282.4,235.1 282.5,233.9 282.5,233.8 282.6,231.9 282.7,235.3 282.7,230.8 282.8,229.8 282.9,231.9 282.9,235.2 283.0,232.9 283.0,234.3 283.1,223.4 283.2,236.4 283.2,241.1 283.3,237.1 283.3,229.9 283.4,228.3 283.5,232.8 283.5,227.7 283.6,234.7 283.7,229.6 283.7,235.7 283.8,237.3 283.8,223.6 283.9,233.1 284.0,229.1 284.0,223.9 284.1,229.4 284.1,231.1 284.2,236.2 284.3,225.8 284.3,236.3 284.4,240.2 284.5,239.3 284.5,235.2 284.6,232.0 284.6,227.4 284.7,234.3 284.8,233.7 284.8,235.2 284.9,242.6 284.9,235.2 285.0,234.0 285.1,238.6 285.1,226.8 285.2,227.7 285.3,230.8 285.3,229.7 285.4,235.2 285.4,231.1 285.5,239.5 285.6,238.6 285.6,235.6 285.7,238.9 285.7,235.0 285.8,235.8 285.9,228.2 285.9,234.0 286.0,235.5 286.1,233.5 286.1,239.0 286.2,237.6 286.2,229.3 286.3,233.2 286.4,228.0 286.4,235.1 286.5,229.3 286.5,236.5 286.6,239.2 286.7,236.8 286.7,232.3 286.8,227.0 286.9,240.1 286.9,232.2 287.0,238.5 287.0,234.7 287.1,235.7 287.2,240.4 287.2,234.4 287.3,238.7 287.3,243.9 287.4,236.6 287.5,232.1 287.5,232.4 287.6,233.2 287.7,239.4 287.7,239.9 287.8,225.7 287.8,233.4 287.9,230.4 288.0,242.9 288.0,231.6 288.1,235.2 288.1,231.7 288.2,236.1 288.3,237.5 288.3,231.8 288.4,233.6 288.5,227.7 288.5,234.7 288.6,237.0 288.6,231.3 288.7,238.1 288.8,225.2 288.8,226.1 288.9,228.0 288.9,231.7 289.0,233.7 289.1,233.4 289.1,233.4 289.2,237.8 289.3,231.8 289.3,228.6 289.4,228.7 289.4,242.3 289.5,224.3 289.6,233.1 289.6,239.8 289.7,235.8 289.7,229.2 289.8,233.9 289.9,237.4 289.9,238.9 290.0,230.4 290.1,237.1 290.1,235.1 290.2,243.4 290.2,239.7 290.3,232.7 290.4,228.2 290.4,235.7 290.5,241.3 290.5,236.9 290.6,235.5 290.7,243.9 290.7,230.0 290.8,237.9 290.8,231.9 290.9,239.3 291.0,234.8 291.0,240.4 291.1,230.5 291.2,232.2 291.2,227.9 291.3,236.4 291.3,232.6 291.4,236.1 291.5,230.1 291.5,233.0 291.6,238.7 291.6,233.8 291.7,237.0 291.8,237.5 291.8,233.1 291.9,228.3 292.0,238.6 292.0,235.3 292.1,238.6 292.1,226.5 292.2,228.0 292.3,226.0 292.3,231.2 292.4,238.9 292.4,241.9 292.5,234.6 292.6,235.3 292.6,237.9 292.7,233.6 292.8,236.4 292.8,235.4 292.9,226.0 292.9,233.3 293.0,240.4 293.1,233.3 293.1,234.4 293.2,232.5 293.2,233.0 293.3,239.5 293.4,233.9 293.4,230.9 293.5,222.5 293.6,232.8 293.6,227.1 293.7,227.7 293.7,239.6 293.8,238.0 293.9,227.4 293.9,238.6 294.0,237.1 294.0,232.1 294.1,238.2 294.2,228.7 294.2,230.4 294.3,229.5 294.4,230.8 294.4,238.9 294.5,230.0 294.5,230.7 294.6,231.5 294.7,236.2 294.7,234.0 294.8,238.9 294.8,232.6 294.9,230.3 295.0,233.5 295.0,235.7 295.1,231.8 295.2,236.7 295.2,247.7 295.3,233.2 295.3,235.7 295.4,241.0 295.5,243.1 295.5,244.0 295.6,231.2 295.6,237.2 295.7,237.7 295.8,234.8 295.8,235.9 295.9,242.9 296.0,239.2 296.0,230.1 296.1,235.7 296.1,236.2 296.2,238.7 296.3,234.9 296.3,233.2 296.4,234.0 296.4,228.7 296.5,235.7 296.6,233.5 296.6,237.8 296.7,230.0 296.8,234.1 296.8,232.0 296.9,231.6 296.9,238.8 297.0,233.3 297.1,242.6 297.1,231.5 297.2,236.4 297.2,229.2 297.3,234.1 297.4,234.0 297.4,238.4 297.5,236.8 297.6,235.4 297.6,239.5 297.7,236.9 297.7,238.3 297.8,239.3 297.9,235.9 297.9,235.0 298.0,237.5 298.0,234.6 298.1,237.8 298.2,240.7 298.2,239.7 298.3,234.8 298.4,231.2 298.4,236.1 298.5,235.9 298.5,240.8 298.6,234.9 298.7,235.6 298.7,239.4 298.8,234.5 298.8,235.5 298.9,243.4 299.0,242.5 299.0,239.1 299.1,237.6 299.2,232.7 299.2,238.8 299.3,236.8 299.3,237.5 299.4,234.5 299.5,236.6 299.5,235.9 299.6,238.0 299.6,242.4 299.7,243.0 299.8,230.1 299.8,232.9 299.9,230.4 300.0,233.6 300.0,239.1 300.1,238.4 300.1,234.4 300.2,237.9 300.3,233.8 300.3,247.8 300.4,231.3 300.4,233.5 300.5,242.6 300.6,231.6 300.6,242.0 300.7,242.3 300.8,236.3 300.8,242.4 300.9,234.6 300.9,236.9 301.0,239.7 301.1,237.1 301.1,241.1 301.2,241.9 301.2,239.0 301.3,238.4 301.4,236.9 301.4,238.5 301.5,246.9 301.5,238.8 301.6,238.0 301.7,233.7 301.7,245.9 301.8,233.3 301.9,233.8 301.9,238.4 302.0,229.5 302.0,234.1 302.1,231.2 302.2,233.4 302.2,236.8 302.3,238.6 302.3,241.8 302.4,240.6 302.5,242.2 302.5,239.8 302.6,235.6 302.7,241.9 302.7,235.5 302.8,235.0 302.8,243.6 302.9,240.7 303.0,238.4 303.0,240.6 303.1,241.1 303.1,232.1 303.2,237.2 303.3,232.9 303.3,238.1 303.4,233.8 303.5,243.1 303.5,239.7 303.6,234.4 303.6,237.6 303.7,232.8 303.8,237.9 303.8,244.8 303.9,238.8 303.9,230.0 304.0,236.4 304.1,239.8 304.1,239.0 304.2,247.3 304.3,232.7 304.3,240.0 304.4,234.1 304.4,238.7 304.5,239.5 304.6,240.7 304.6,235.6 304.7,238.7 304.7,233.3 304.8,232.3 304.9,241.0 304.9,243.5 305.0,231.5 305.1,234.6 305.1,238.1 305.2,244.3 305.2,242.3 305.3,241.3 305.4,230.9 305.4,237.7 305.5,240.1 305.5,239.7 305.6,239.8 305.7,237.2 305.7,245.3 305.8,244.1 305.9,237.9 305.9,234.3 306.0,246.5 306.0,245.8 306.1,243.1 306.2,246.0 306.2,234.5 306.3,239.5 306.3,237.0 306.4,240.4 306.5,239.7 306.5,246.2 306.6,240.8 306.7,238.4 306.7,243.0 306.8,237.4 306.8,237.0 306.9,247.5 307.0,235.2 307.0,236.6 307.1,238.7 307.1,234.3 307.2,230.1 307.3,242.8 307.3,235.4 307.4,236.4 307.5,237.1 307.5,233.0 307.6,234.3 307.6,239.3 307.7,248.3 307.8,241.7 307.8,241.7 307.9,232.7 307.9,238.7 308.0,232.0 308.1,241.9 308.1,237.9 308.2,239.0 308.3,238.5 308.3,236.5 308.4,232.8 308.4,242.0 308.5,233.3 308.6,234.2 308.6,237.7 308.7,236.1 308.7,240.0 308.8,243.0 308.9,240.0 308.9,239.8 309.0,239.1 309.1,242.5 309.1,231.6 309.2,240.5 309.2,235.3 309.3,234.1 309.4,244.4 309.4,237.6 309.5,241.5 309.5,243.6 309.6,229.8 309.7,238.9 309.7,247.0 309.8,242.7 309.9,245.0 309.9,239.6 310.0,233.5 310.0,234.8 310.1,242.1 310.2,243.1 310.2,236.4 310.3,238.3 310.3,240.4 310.4,232.3 310.5,238.0 310.5,245.9 310.6,248.2 310.7,239.0 310.7,246.8 310.8,237.4 310.8,236.2 310.9,230.5 311.0,248.2 311.0,238.0 311.1,248.9 311.1,240.9 311.2,240.3 311.3,232.3 311.3,245.6 311.4,238.2 311.4,239.0 311.5,230.8 311.6,248.2 311.6,243.6 311.7,237.3 311.8,240.1 311.8,241.3 311.9,243.6 311.9,240.2 312.0,246.7 312.1,246.0 312.1,237.4 312.2,247.0 312.2,229.7 312.3,235.2 312.4,243.9 312.4,240.9 312.5,236.6 312.6,241.8 312.6,231.8 312.7,238.8 312.7,242.1 312.8,242.8 312.9,248.3 312.9,243.7 313.0,247.5 313.0,238.3 313.1,243.0 313.2,233.8 313.2,232.2 313.3,242.6 313.4,240.3 313.4,240.9 313.5,237.8 313.5,239.0 313.6,243.4 313.7,247.1 313.7,239.4 313.8,233.6 313.8,245.4 313.9,242.7 314.0,244.0 314.0,241.0 314.1,249.6 314.2,240.6 314.2,242.4 314.3,232.9 314.3,238.1 314.4,237.6 314.5,240.2 314.5,241.8 314.6,237.4 314.6,247.4 314.7,236.2 314.8,238.7 314.8,241.5 314.9,235.5 315.0,242.8 315.0,243.1 315.1,239.4 315.1,248.2 315.2,245.7 315.3,241.7 315.3,236.8 315.4,233.9 315.4,238.1 315.5,247.2 315.6,238.9 315.6,243.8 315.7,231.2 315.8,236.2 315.8,233.4 315.9,246.1 315.9,238.5 316.0,238.7" stroke="#0072BD" stroke-width="0.65"/>
<polyline points="33.2,64.0 33.3,70.0 33.3,66.0 33.4,82.9 33.4,89.4 33.5,85.1 33.6,87.8 33.6,93.6 33.7,89.0 33.8,85.2 33.8,94.8 33.9,86.3 33.9,90.3 34.0,85.9 34.1,83.9 34.1,68.7 34.2,93.6 34.2,81.6 34.3,94.4 34.4,101.8 34.4,81.5 34.5,96.3 34.6,90.2 34.6,94.1 34.7,83.5 34.7,91.9 34.8,93.1 34.9,101.8 34.9,106.8 35.0,95.1 35.0,90.9 35.1,108.2 35.2,92.9 35.2,93.8 35.3,95.2 35.4,97.9 35.4,99.8 35.5,91.7 35.5,95.0 35.6,108.5 35.7,106.9 35.7,99.6 35.8,98.8 35.8,95.8 35.9,104.4 36.0,94.5 36.0,99.0 36.1,95.4 36.2,94.6 36.2,99.2 36.3,99.3 36.3,95.6 36.4,99.3 36.5,100.6 36.5,97.1 36.6,96.1 36.6,99.8 36.7,105.5 36.8,111.4 36.8,102.6 36.9,99.9 37.0,101.7 37.0,114.7 37.1,108.4 37.1,96.4 37.2,102.6 37.3,99.7 37.3,101.0 37.4,92.6 37.4,104.1 37.5,95.2 37.6,100.5 37.6,114.5 37.7,111.4 37.8,99.4 37.8,98.6 37.9,99.7 37.9,93.5 38.0,99.7 38.1,104.5 38.1,99.6 38.2,111.5 38.2,106.4 38.3,103.5 38.4,118.5 38.4,111.9 38.5,107.9 38.5,119.6 38.6,116.3 38.7,103.3 38.7,110.2 38.8,105.4 38.9,99.0 38.9,120.9 39.0,118.5 39.0,100.6 39.1,112.3 39.2,98.5 39.2,116.4 39.3,109.2 39.3,107.8 39.4,118.1 39.5,103.6 39.5,108.5 39.6,98.0 39.7,108.6 39.7,116.4 39.8,110.9 39.8,116.4 39.9,115.3 40.0,116.5 40.0,102.4 40.1,124.0 40.1,110.8 40.2,123.5 40.3,108.3 40.3,110.6 40.4,110.8 40.5,120.2 40.5,110.1 40.6,115.7 40.6,103.0 40.7,110.2 40.8,115.0 40.8,113.0 40.9,96.8 40.9,117.3 41.0,107.9 41.1,126.9 41.1,113.2 41.2,135.2 41.3,119.0 41.3,117.8 41.4,111.8 41.4,114.2 41.5,118.1 41.6,102.6 41.6,121.9 41.7,107.9 41.7,113.9 41.8,97.9 41.9,118.8 41.9,120.9 42.0,107.9 42.1,118.3 42.1,113.0 42.2,117.5 42.2,124.5 42.3,114.0 42.4,120.1 42.4,121.7 42.5,115.6 42.5,118.8 42.6,118.8 42.7,114.2 42.7,133.4 42.8,114.9 42.9,129.0 42.9,124.9 43.0,104.8 43.0,119.8 43.1,125.0 43.2,123.8 43.2,112.7 43.3,120.4 43.3,111.0 43.4,112.2 43.5,117.5 43.5,120.4 43.6,129.8 43.7,121.8 43.7,126.4 43.8,111.9 43.8,112.3 43.9,116.8 44.0,131.4 44.0,105.4 44.1,110.0 44.1,119.9 44.2,128.2 44.3,110.0 44.3,119.0 44.4,111.9 44.5,134.1 44.5,125.5 44.6,122.8 44.6,120.9 44.7,119.7 44.8,122.3 44.8,117.3 44.9,115.8 44.9,114.5 45.0,121.9 45.1,116.7 45.1,127.7 45.2,108.4 45.3,125.9 45.3,125.7 45.4,130.3 45.4,120.8 45.5,112.8 45.6,116.7 45.6,130.1 45.7,120.9 45.7,120.3 45.8,113.3 45.9,122.8 45.9,121.8 46.0,113.3 46.1,119.6 46.1,130.1 46.2,133.1 46.2,123.0 46.3,120.6 46.4,132.8 46.4,123.0 46.5,113.6 46.5,123.5 46.6,128.9 46.7,134.6 46.7,121.5 46.8,128.2 46.9,122.7 46.9,135.3 47.0,126.7 47.0,126.8 47.1,118.9 47.2,123.3 47.2,123.3 47.3,102.3 47.3,131.2 47.4,125.7 47.5,124.5 47.5,123.6 47.6,126.2 47.7,127.7 47.7,117.8 47.8,127.2 47.8,127.2 47.9,126.7 48.0,117.1 48.0,125.9 48.1,118.6 48.1,129.2 48.2,135.5 48.3,132.8 48.3,125.1 48.4,123.9 48.4,123.8 48.5,129.8 48.6,117.5 48.6,124.3 48.7,111.8 48.8,122.5 48.8,123.1 48.9,124.7 48.9,136.1 49.0,119.7 49.1,116.6 49.1,132.4 49.2,122.4 49.2,127.7 49.3,130.0 49.4,129.1 49.4,124.1 49.5,135.1 49.6,138.9 49.6,123.0 49.7,127.8 49.7,135.6 49.8,128.4 49.9,123.4 49.9,127.2 50.0,137.5 50.0,123.7 50.1,131.8 50.2,133.6 50.2,126.1 50.3,133.9 50.4,134.6 50.4,139.4 50.5,136.5 50.5,121.1 50.6,136.3 50.7,135.9 50.7,139.5 50.8,125.4 50.8,136.6 50.9,133.3 51.0,123.7 51.0,139.2 51.1,126.2 51.2,124.8 51.2,133.8 51.3,127.5 51.3,133.7 51.4,129.9 51.5,133.3 51.5,136.7 51.6,131.4 51.6,137.2 51.7,137.1 51.8,126.5 51.8,137.3 51.9,135.9 52.0,132.9 52.0,139.1 52.1,142.6 52.1,137.0 52.2,123.0 52.3,135.1 52.3,131.6 52.4,130.8 52.4,134.7 52.5,129.7 52.6,142.9 52.6,134.4 52.7,132.9 52.8,137.8 52.8,137.9 52.9,140.4 52.9,137.0 53.0,132.9 53.1,134.0 53.1,119.7 53.2,124.1 53.2,139.9 53.3,131.3 53.4,144.8 53.4,144.8 53.5,125.7 53.6,135.6 53.6,151.8 53.7,128.8 53.7,137.3 53.8,132.5 53.9,132.5 53.9,131.6 54.0,134.0 54.0,138.9 54.1,129.2 54.2,137.4 54.2,129.9 54.3,137.7 54.4,136.4 54.4,129.7 54.5,135.5 54.5,130.1 54.6,129.4 54.7,142.1 54.7,123.5 54.8,138.4 54.8,139.4 54.9,131.3 55.0,141.9 55.0,140.8 55.1,127.1 55.2,138.5 55.2,138.2 55.3,130.8 55.3,139.0 55.4,140.2 55.5,131.1 55.5,123.2 55.6,138.2 55.6,129.3 55.7,119.4 55.8,133.5 55.8,121.1 55.9,133.1 56.0,145.4 56.0,118.4 56.1,139.0 56.1,128.3 56.2,133.7 56.3,130.7 56.3,140.4 56.4,136.4 56.4,131.7 56.5,128.5 56.6,127.3 56.6,143.9 56.7,129.3 56.8,139.4 56.8,139.0 56.9,119.7 56.9,143.9 57.0,136.9 57.1,151.0 57.1,148.0 57.2,135.7 57.2,136.4 57.3,131.2 57.4,129.0 57.4,142.5 57.5,136.0 57.6,135.2 57.6,136.7 57.7,142.0 57.7,143.7 57.8,137.9 57.9,136.8 57.9,138.7 58.0,150.9 58.0,125.3 58.1,131.0 58.2,141.2 58.2,139.3 58.3,146.0 58.4,146.6 58.4,150.8 58.5,127.9 58.5,142.5 58.6,137.3 58.7,144.8 58.7,131.7 58.8,144.4 58.8,134.4 58.9,132.1 59.0,135.9 59.0,137.5 59.1,136.4 59.1,132.9 59.2,146.2 59.3,141.1 59.3,146.1 59.4,133.2 59.5,127.3 59.5,135.5 59.6,138.6 59.6,144.4 59.7,146.1 59.8,147.2 59.8,149.2 59.9,146.1 59.9,140.4 60.0,135.1 60.1,144.1 60.1,136.8 60.2,134.9 60.3,143.6 60.3,141.3 60.4,145.3 60.4,130.0 60.5,147.3 60.6,142.4 60.6,139.1 60.7,135.5 60.7,133.6 60.8,131.9 60.9,149.0 60.9,131.6 61.0,144.3 61.1,138.9 61.1,136.9 61.2,137.6 61.2,140.0 61.3,146.2 61.4,144.1 61.4,140.7 61.5,132.2 61.5,129.7 61.6,152.3 61.7,134.6 61.7,131.2 61.8,147.8 61.9,131.7 61.9,145.6 62.0,146.8 62.0,142.6 62.1,147.1 62.2,132.5 62.2,133.6 62.3,140.0 62.3,141.2 62.4,140.8 62.5,144.2 62.5,136.8 62.6,128.2 62.7,143.9 62.7,140.1 62.8,146.5 62.8,154.4 62.9,142.1 63.0,145.2 63.0,136.1 63.1,147.3 63.1,143.8 63.2,143.3 63.3,147.5 63.3,134.8 63.4,145.4 63.5,144.8 63.5,151.8 63.6,125.2 63.6,135.8 63.7,155.6 63.8,139.6 63.8,139.4 63.9,157.7 63.9,157.7 64.0,135.6 64.1,137.9 64.1,138.7 64.2,139.9 64.3,137.2 64.3,137.5 64.4,143.6 64.4,142.8 64.5,145.5 64.6,142.8 64.6,126.6 64.7,147.2 64.7,144.2 64.8,139.2 64.9,141.1 64.9,144.8 65.0,143.4 65.1,136.4 65.1,149.6 65.2,149.6 65.2,141.1 65.3,142.9 65.4,136.2 65.4,142.1 65.5,146.1 65.5,148.6 65.6,144.3 65.7,142.7 65.7,137.2 65.8,144.7 65.9,136.7 65.9,144.6 66.0,143.6 66.0,137.9 66.1,145.6 66.2,142.3 66.2,147.3 66.3,140.7 66.3,146.7 66.4,153.4 66.5,144.9 66.5,148.7 66.6,139.9 66.7,141.7 66.7,132.3 66.8,137.4 66.8,137.0 66.9,144.7 67.0,126.3 67.0,138.8 67.1,144.6 67.1,146.6 67.2,134.0 67.3,141.6 67.3,160.0 67.4,149.1 67.5,145.3 67.5,127.3 67.6,138.6 67.6,147.5 67.7,146.4 67.8,147.2 67.8,150.3 67.9,145.0 67.9,149.7 68.0,133.4 68.1,159.9 68.1,142.7 68.2,140.5 68.3,153.8 68.3,148.3 68.4,150.6 68.4,140.8 68.5,146.4 68.6,149.1 68.6,137.7 68.7,143.4 68.7,143.2 68.8,143.0 68.9,140.5 68.9,137.0 69.0,147.5 69.0,146.3 69.1,152.0 69.2,144.5 69.2,140.8 69.3,136.0 69.4,145.5 69.4,142.3 69.5,157.4 69.5,159.2 69.6,154.8 69.7,139.5 69.7,136.5 69.8,143.7 69.8,139.6 69.9,153.9 70.0,145.9 70.0,142.7 70.1,145.1 70.2,153.0 70.2,139.4 70.3,136.5 70.3,137.2 70.4,144.1 70.5,141.3 70.5,137.7 70.6,146.4 70.6,152.8 70.7,149.7 70.8,141.7 70.8,137.3 70.9,140.5 71.0,142.9 71.0,143.6 71.1,140.9 71.1,152.3 71.2,151.4 71.3,144.0 71.3,142.6 71.4,144.2 71.4,145.4 71.5,145.6 71.6,135.8 71.6,143.1 71.7,134.2 71.8,146.0 71.8,150.0 71.9,139.3 71.9,146.9 72.0,142.1 72.1,141.6 72.1,158.1 72.2,151.5 72.2,149.0 72.3,137.7 72.4,137.8 72.4,144.9 72.5,148.9 72.6,140.6 72.6,145.7 72.7,143.7 72.7,137.5 72.8,156.6 72.9,151.3 72.9,141.4 73.0,137.2 73.0,141.8 73.1,141.2 73.2,142.6 73.2,137.0 73.3,141.3 73.4,146.8 73.4,149.0 73.5,134.2 73.5,146.5 73.6,138.0 73.7,140.1 73.7,144.6 73.8,142.3 73.8,150.9 73.9,150.9 74.0,144.7 74.0,142.7 74.1,157.7 74.2,158.2 74.2,150.1 74.3,145.8 74.3,153.0 74.4,155.8 74.5,143.6 74.5,158.0 74.6,145.9 74.6,153.6 74.7,143.7 74.8,147.3 74.8,144.1 74.9,147.1 75.0,153.3 75.0,141.5 75.1,145.2 75.1,150.4 75.2,144.1 75.3,159.6 75.3,137.9 75.4,162.8 75.4,142.9 75.5,153.1 75.6,157.1 75.6,150.3 75.7,138.3 75.8,144.9 75.8,147.4 75.9,150.5 75.9,153.1 76.0,154.0 76.1,156.2 76.1,141.1 76.2,153.2 76.2,136.2 76.3,147.9 76.4,140.3 76.4,135.9 76.5,155.0 76.6,146.8 76.6,153.2 76.7,133.2 76.7,139.4 76.8,146.4 76.9,142.9 76.9,147.5 77.0,143.1 77.0,144.9 77.1,139.9 77.2,155.0 77.2,144.2 77.3,139.6 77.4,151.3 77.4,150.0 77.5,148.4 77.5,149.0 77.6,144.5 77.7,146.2 77.7,127.6 77.8,137.3 77.8,139.3 77.9,148.8 78.0,154.6 78.0,146.0 78.1,145.3 78.2,154.1 78.2,144.7 78.3,151.1 78.3,150.8 78.4,138.7 78.5,149.0 78.5,148.3 78.6,139.8 78.6,140.5 78.7,139.0 78.8,159.0 78.8,160.2 78.9,151.4 78.9,156.8 79.0,138.6 79.1,155.8 79.1,159.4 79.2,157.1 79.3,141.1 79.3,153.8 79.4,146.3 79.4,153.8 79.5,143.0 79.6,147.1 79.6,137.8 79.7,150.0 79.7,146.4 79.8,156.8 79.9,152.2 79.9,149.6 80.0,146.8 80.1,139.5 80.1,147.0 80.2,151.7 80.2,147.8 80.3,148.8 80.4,146.8 80.4,146.5 80.5,142.8 80.5,129.6 80.6,150.6 80.7,150.5 80.7,140.9 80.8,159.0 80.9,139.7 80.9,153.3 81.0,148.6 81.0,149.0 81.1,154.1 81.2,152.8 81.2,147.1 81.3,140.3 81.3,139.2 81.4,148.1 81.5,156.8 81.5,152.4 81.6,146.6 81.7,148.9 81.7,151.1 81.8,157.6 81.8,142.0 81.9,151.3 82.0,148.5 82.0,136.2 82.1,140.3 82.1,154.6 82.2,148.7 82.3,145.3 82.3,147.2 82.4,152.7 82.5,147.1 82.5,156.6 82.6,144.9 82.6,141.6 82.7,145.8 82.8,140.5 82.8,144.2 82.9,154.1 82.9,157.1 83.0,150.3 83.1,147.6 83.1,140.6 83.2,140.0 83.3,148.6 83.3,147.3 83.4,142.6 83.4,142.3 83.5,156.0 83.6,152.4 83.6,146.5 83.7,147.6 83.7,154.1 83.8,148.4 83.9,147.6 83.9,136.2 84.0,135.4 84.1,134.0 84.1,131.8 84.2,145.9 84.2,148.0 84.3,140.5 84.4,148.7 84.4,148.7 84.5,145.4 84.5,136.6 84.6,154.9 84.7,154.5 84.7,142.2 84.8,158.0 84.9,146.0 84.9,140.8 85.0,143.1 85.0,134.0 85.1,143.5 85.2,135.6 85.2,132.8 85.3,147.6 85.3,136.8 85.4,149.2 85.5,134.7 85.5,146.5 85.6,136.8 85.7,145.9 85.7,138.4 85.8,144.7 85.8,144.3 85.9,145.8 86.0,154.7 86.0,156.0 86.1,155.3 86.1,141.3 86.2,140.6 86.3,145.4 86.3,148.0 86.4,132.3 86.5,141.3 86.5,156.5 86.6,137.3 86.6,140.5 86.7,140.7 86.8,148.2 86.8,144.7 86.9,142.2 86.9,135.5 87.0,148.9 87.1,145.0 87.1,140.7 87.2,145.0 87.3,149.7 87.3,135.4 87.4,134.9 87.4,138.1 87.5,139.0 87.6,125.2 87.6,140.6 87.7,151.3 87.7,142.2 87.8,150.6 87.9,126.0 87.9,137.7 88.0,152.8 88.1,153.9 88.1,140.7 88.2,138.6 88.2,146.2 88.3,136.0 88.4,141.3 88.4,133.0 88.5,144.0 88.5,143.5 88.6,153.7 88.7,145.6 88.7,139.1 88.8,142.6 88.8,135.0 88.9,143.3 89.0,141.7 89.0,145.6 89.1,148.8 89.2,130.2 89.2,144.8 89.3,147.4 89.3,135.1 89.4,154.6 89.5,136.2 89.5,158.0 89.6,147.4 89.6,130.6 89.7,144.0 89.8,148.6 89.8,135.6 89.9,137.0 90.0,129.7 90.0,145.4 90.1,137.4 90.1,146.6 90.2,147.1 90.3,133.3 90.3,146.1 90.4,143.2 90.4,143.3 90.5,144.4 90.6,141.3 90.6,141.4 90.7,148.0 90.8,135.0 90.8,133.6 90.9,136.3 90.9,147.6 91.0,139.0 91.1,153.0 91.1,121.3 91.2,136.1 91.2,137.7 91.3,142.1 91.4,148.7 91.4,138.5 91.5,133.6 91.6,145.2 91.6,149.6 91.7,117.0 91.7,143.2 91.8,141.3 91.9,134.0 91.9,134.9 92.0,140.9 92.0,139.1 92.1,137.2 92.2,125.6 92.2,140.3 92.3,134.2 92.4,138.8 92.4,134.4 92.5,139.3 92.5,142.6 92.6,130.6 92.7,141.8 92.7,128.8 92.8,140.4 92.8,139.1 92.9,133.2 93.0,136.0 93.0,119.2 93.1,137.3 93.2,134.1 93.2,122.2 93.3,139.6 93.3,132.3 93.4,137.9 93.5,134.5 93.5,139.0 93.6,136.4 93.6,133.1 93.7,138.7 93.8,124.5 93.8,121.0 93.9,135.4 94.0,131.3 94.0,127.9 94.1,143.1 94.1,140.8 94.2,128.0 94.3,127.4 94.3,139.5 94.4,124.5 94.4,132.0 94.5,121.5 94.6,133.0 94.6,140.9 94.7,130.7 94.8,132.7 94.8,144.4 94.9,138.8 94.9,142.1 95.0,138.5 95.1,140.4 95.1,122.1 95.2,127.3 95.2,117.6 95.3,146.2 95.4,133.1 95.4,131.0 95.5,124.9 95.6,125.0 95.6,113.5 95.7,145.3 95.7,130.4 95.8,131.2 95.9,121.7 95.9,130.0 96.0,132.6 96.0,129.6 96.1,133.8 96.2,124.4 96.2,131.6 96.3,135.1 96.4,132.8 96.4,131.5 96.5,128.2 96.5,122.5 96.6,132.1 96.7,125.9 96.7,122.2 96.8,132.9 96.8,113.6 96.9,124.2 97.0,132.5 97.0,133.4 97.1,124.8 97.2,127.4 97.2,130.3 97.3,126.3 97.3,121.6 97.4,130.2 97.5,127.2 97.5,126.7 97.6,132.9 97.6,127.6 97.7,122.6 97.8,126.4 97.8,137.5 97.9,120.4 98.0,123.2 98.0,119.6 98.1,116.6 98.1,116.3 98.2,128.1 98.3,128.8 98.3,118.9 98.4,116.1 98.4,114.0 98.5,123.7 98.6,116.0 98.6,119.0 98.7,120.1 98.8,118.3 98.8,127.8 98.9,132.4 98.9,108.6 99.0,116.8 99.1,123.4 99.1,114.9 99.2,118.1 99.2,122.6 99.3,130.0 99.4,128.5 99.4,119.0 99.5,121.5 99.5,118.2 99.6,119.2 99.7,112.7 99.7,108.7 99.8,117.5 99.9,125.9 99.9,124.4 100.0,107.5 100.0,118.0 100.1,115.0 100.2,120.7 100.2,111.7 100.3,124.3 100.3,117.1 100.4,123.3 100.5,123.6 100.5,105.5 100.6,116.3 100.7,127.2 100.7,117.5 100.8,123.9 100.8,119.7 100.9,113.7 101.0,118.5 101.0,123.3 101.1,124.6 101.1,125.5 101.2,109.0 101.3,121.2 101.3,107.0 101.4,114.8 101.5,114.1 101.5,105.6 101.6,117.1 101.6,101.3 101.7,110.9 101.8,120.0 101.8,116.9 101.9,114.3 101.9,106.5 102.0,117.6 102.1,115.9 102.1,118.8 102.2,113.4 102.3,111.2 102.3,115.9 102.4,116.3 102.4,117.6 102.5,125.2 102.6,103.3 102.6,125.7 102.7,93.9 102.7,118.8 102.8,107.3 102.9,125.2 102.9,100.9 103.0,119.0 103.1,105.8 103.1,104.8 103.2,117.0 103.2,117.4 103.3,107.2 103.4,126.9 103.4,109.4 103.5,121.3 103.5,104.8 103.6,102.6 103.7,111.6 103.7,104.5 103.8,113.8 103.9,97.0 103.9,111.8 104.0,106.9 104.0,104.3 104.1,111.7 104.2,108.8 104.2,107.2 104.3,99.1 104.3,111.8 104.4,112.2 104.5,118.1 104.5,109.1 104.6,114.8 104.7,106.7 104.7,113.1 104.8,112.5 104.8,105.5 104.9,99.2 105.0,100.6 105.0,102.7 105.1,112.1 105.1,107.6 105.2,106.5 105.3,111.3 105.3,112.8 105.4,116.9 105.5,104.1 105.5,111.3 105.6,112.2 105.6,101.6 105.7,108.3 105.8,101.6 105.8,105.9 105.9,109.9 105.9,96.2 106.0,101.4 106.1,101.8 106.1,107.4 106.2,102.1 106.3,109.1 106.3,101.2 106.4,103.3 106.4,110.4 106.5,108.5 106.6,107.4 106.6,106.1 106.7,112.7 106.7,115.0 106.8,103.8 106.9,101.5 106.9,99.4 107.0,117.1 107.1,94.4 107.1,97.4 107.2,107.5 107.2,112.5 107.3,97.8 107.4,104.8 107.4,96.4 107.5,101.1 107.5,115.8 107.6,106.5 107.7,103.7 107.7,105.7 107.8,107.0 107.9,104.5 107.9,97.5 108.0,97.5 108.0,117.8 108.1,100.0 108.2,112.5 108.2,98.3 108.3,113.0 108.3,109.1 108.4,103.2 108.5,117.4 108.5,92.7 108.6,102.9 108.7,98.9 108.7,99.3 108.8,101.9 108.8,98.0 108.9,101.2 109.0,114.1 109.0,92.9 109.1,92.7 109.1,97.8 109.2,100.8 109.3,110.2 109.3,108.3 109.4,106.7 109.4,104.8 109.5,118.8 109.6,96.2 109.6,96.0 109.7,103.1 109.8,105.1 109.8,101.7 109.9,97.7 109.9,94.7 110.0,101.2 110.1,96.6 110.1,99.9 110.2,96.0 110.2,114.9 110.3,94.2 110.4,114.7 110.4,99.5 110.5,103.2 110.6,101.2 110.6,102.9 110.7,101.1 110.7,101.7 110.8,90.1 110.9,100.9 110.9,107.1 111.0,90.2 111.0,100.4 111.1,106.2 111.2,88.7 111.2,102.0 111.3,105.4 111.4,113.7 111.4,110.8 111.5,99.6 111.5,98.5 111.6,108.9 111.7,103.8 111.7,98.9 111.8,100.8 111.8,104.3 111.9,101.0 112.0,100.6 112.0,100.7 112.1,92.7 112.2,117.7 112.2,110.0 112.3,111.8 112.3,101.3 112.4,102.9 112.5,105.8 112.5,91.0 112.6,90.3 112.6,104.3 112.7,95.6 112.8,101.5 112.8,97.7 112.9,112.8 113.0,105.3 113.0,101.7 113.1,110.8 113.1,101.4 113.2,97.2 113.3,100.6 113.3,99.4 113.4,102.0 113.4,107.1 113.5,100.9 113.6,101.2 113.6,108.1 113.7,103.5 113.8,107.7 113.8,102.4 113.9,93.2 113.9,94.3 114.0,90.9 114.1,111.7 114.1,104.2 114.2,98.5 114.2,95.1 114.3,103.8 114.4,100.6 114.4,103.5 114.5,96.1 114.6,94.4 114.6,111.6 114.7,95.4 114.7,101.4 114.8,110.1 114.9,89.7 114.9,106.0 115.0,101.9 115.0,100.6 115.1,103.2 115.2,93.9 115.2,87.2 115.3,113.6 115.4,99.7 115.4,107.2 115.5,108.6 115.5,103.3 115.6,104.4 115.7,106.1 115.7,111.6 115.8,104.7 115.8,109.6 115.9,99.6 116.0,98.8 116.0,102.0 116.1,104.1 116.2,104.9 116.2,114.0 116.3,106.9 116.3,101.9 116.4,114.3 116.5,103.6 116.5,103.8 116.6,104.7 116.6,99.4 116.7,94.5 116.8,102.4 116.8,99.5 116.9,96.0 117.0,102.6 117.0,100.2 117.1,97.7 117.1,90.1 117.2,100.4 117.3,112.8 117.3,107.2 117.4,108.4 117.4,101.4 117.5,108.3 117.6,97.2 117.6,92.7 117.7,104.8 117.8,92.4 117.8,101.9 117.9,103.4 117.9,112.3 118.0,97.0 118.1,104.3 118.1,97.4 118.2,98.1 118.2,84.4 118.3,95.7 118.4,109.1 118.4,105.1 118.5,102.8 118.6,117.7 118.6,105.4 118.7,94.0 118.7,100.7 118.8,95.8 118.9,112.4 118.9,94.0 119.0,104.9 119.0,108.5 119.1,97.0 119.2,102.8 119.2,89.4 119.3,103.0 119.3,88.2 119.4,99.9 119.5,113.5 119.5,106.2 119.6,103.0 119.7,103.5 119.7,116.5 119.8,106.2 119.8,109.4 119.9,99.9 120.0,100.0 120.0,96.1 120.1,101.7 120.1,98.4 120.2,109.2 120.3,107.1 120.3,102.2 120.4,99.6 120.5,84.6 120.5,99.3 120.6,105.1 120.6,107.4 120.7,83.6 120.8,82.2 120.8,104.3 120.9,96.8 120.9,102.0 121.0,100.4 121.1,108.7 121.1,91.8 121.2,99.9 121.3,109.5 121.3,104.9 121.4,98.4 121.4,106.5 121.5,105.5 121.6,98.2 121.6,108.1 121.7,108.1 121.7,103.1 121.8,109.8 121.9,96.6 121.9,108.8 122.0,102.8 122.1,98.3 122.1,100.5 122.2,111.6 122.2,101.0 122.3,102.4 122.4,100.6 122.4,99.8 122.5,110.8 122.5,118.6 122.6,113.3 122.7,108.3 122.7,109.9 122.8,103.2 122.9,102.4 122.9,98.4 123.0,114.5 123.0,103.7 123.1,101.5 123.2,102.1 123.2,107.2 123.3,102.8 123.3,106.4 123.4,107.4 123.5,114.6 123.5,96.1 123.6,108.5 123.7,102.6 123.7,104.3 123.8,116.8 123.8,110.9 123.9,104.9 124.0,110.3 124.0,107.3 124.1,114.2 124.1,104.7 124.2,110.7 124.3,106.6 124.3,108.0 124.4,107.1 124.5,99.0 124.5,108.9 124.6,114.2 124.6,104.8 124.7,106.2 124.8,100.9 124.8,104.3 124.9,116.1 124.9,113.2 125.0,95.5 125.1,105.4 125.1,103.1 125.2,114.5 125.3,117.6 125.3,102.9 125.4,106.1 125.4,109.9 125.5,108.4 125.6,115.0 125.6,116.7 125.7,114.6 125.7,117.7 125.8,116.9 125.9,111.2 125.9,109.3 126.0,107.7 126.1,117.0 126.1,117.6 126.2,118.5 126.2,110.9 126.3,110.7 126.4,114.7 126.4,120.6 126.5,115.6 126.5,115.0 126.6,109.1 126.7,116.6 126.7,117.3 126.8,109.0 126.9,124.7 126.9,109.5 127.0,120.3 127.0,114.1 127.1,116.4 127.2,111.3 127.2,112.8 127.3,120.3 127.3,115.4 127.4,114.9 127.5,122.1 127.5,121.3 127.6,118.9 127.7,119.1 127.7,127.8 127.8,117.4 127.8,121.7 127.9,121.3 128.0,111.3 128.0,108.5 128.1,120.4 128.1,124.8 128.2,121.3 128.3,117.5 128.3,117.0 128.4,125.5 128.5,119.6 128.5,112.5 128.6,125.5 128.6,123.3 128.7,124.4 128.8,128.3 128.8,130.1 128.9,126.1 128.9,122.3 129.0,111.9 129.1,125.4 129.1,123.3 129.2,131.6 129.2,112.4 129.3,127.5 129.4,132.6 129.4,125.0 129.5,125.4 129.6,121.3 129.6,119.5 129.7,127.6 129.7,132.5 129.8,121.5 129.9,131.7 129.9,140.3 130.0,120.6 130.0,126.8 130.1,128.6 130.2,134.2 130.2,139.8 130.3,136.0 130.4,129.4 130.4,125.4 130.5,129.9 130.5,130.3 130.6,132.1 130.7,126.3 130.7,142.8 130.8,127.8 130.8,135.6 130.9,133.4 131.0,126.7 131.0,133.2 131.1,133.2 131.2,132.4 131.2,138.0 131.3,131.5 131.3,147.7 131.4,140.5 131.5,130.0 131.5,122.0 131.6,142.0 131.6,137.0 131.7,136.4 131.8,129.1 131.8,129.0 131.9,122.3 132.0,150.6 132.0,145.8 132.1,134.8 132.1,147.8 132.2,124.8 132.3,142.2 132.3,142.5 132.4,134.7 132.4,137.1 132.5,134.3 132.6,140.2 132.6,147.1 132.7,145.7 132.8,143.0 132.8,146.9 132.9,128.6 132.9,152.2 133.0,141.8 133.1,135.5 133.1,140.6 133.2,139.5 133.2,143.5 133.3,144.9 133.4,131.6 133.4,152.8 133.5,152.9 133.6,139.0 133.6,152.1 133.7,153.8 133.7,152.3 133.8,153.6 133.9,138.5 133.9,149.5 134.0,141.0 134.0,158.3 134.1,141.7 134.2,140.6 134.2,152.8 134.3,150.5 134.4,147.7 134.4,148.5 134.5,151.2 134.5,135.1 134.6,145.0 134.7,146.0 134.7,146.2 134.8,149.0 134.8,149.7 134.9,143.4 135.0,151.6 135.0,144.1 135.1,149.1 135.2,149.6 135.2,149.9 135.3,158.8 135.3,159.8 135.4,157.3 135.5,160.0 135.5,151.0 135.6,159.6 135.6,152.6 135.7,147.5 135.8,154.8 135.8,147.0 135.9,150.9 136.0,153.4 136.0,156.2 136.1,154.0 136.1,150.7 136.2,149.4 136.3,155.5 136.3,149.8 136.4,150.1 136.4,155.6 136.5,157.2 136.6,152.4 136.6,147.9 136.7,158.2 136.8,161.0 136.8,155.2 136.9,155.5 136.9,146.1 137.0,162.1 137.1,152.5 137.1,161.6 137.2,155.3 137.2,157.7 137.3,157.6 137.4,149.9 137.4,172.4 137.5,151.4 137.6,159.8 137.6,155.4 137.7,158.4 137.7,166.5 137.8,150.8 137.9,159.4 137.9,162.7 138.0,161.1 138.0,162.6 138.1,157.1 138.2,153.0 138.2,150.3 138.3,159.3 138.4,165.1 138.4,162.1 138.5,169.7 138.5,162.5 138.6,163.1 138.7,163.3 138.7,154.1 138.8,165.5 138.8,157.5 138.9,160.5 139.0,179.2 139.0,157.4 139.1,164.2 139.2,165.2 139.2,164.6 139.3,164.1 139.3,161.6 139.4,174.1 139.5,154.9 139.5,157.8 139.6,172.2 139.6,167.8 139.7,161.6 139.8,161.1 139.8,164.5 139.9,183.7 139.9,168.4 140.0,161.2 140.1,167.5 140.1,162.3 140.2,176.8 140.3,168.3 140.3,173.1 140.4,167.9 140.4,177.1 140.5,169.3 140.6,168.8 140.6,162.7 140.7,165.6 140.7,169.7 140.8,165.5 140.9,179.9 140.9,168.1 141.0,164.6 141.1,173.1 141.1,165.9 141.2,170.5 141.2,163.9 141.3,165.3 141.4,175.5 141.4,169.4 141.5,174.3 141.5,166.9 141.6,162.5 141.7,163.5 141.7,167.0 141.8,168.7 141.9,170.0 141.9,172.3 142.0,164.0 142.0,171.1 142.1,164.3 142.2,167.0 142.2,182.6 142.3,176.5 142.3,168.8 142.4,179.2 142.5,177.5 142.5,175.1 142.6,178.0 142.7,169.9 142.7,170.6 142.8,167.2 142.8,174.2 142.9,165.6 143.0,169.3 143.0,173.9 143.1,169.5 143.1,173.6 143.2,180.7 143.3,167.5 143.3,178.9 143.4,169.2 143.5,168.1 143.5,173.7 143.6,177.6 143.6,169.5 143.7,169.5 143.8,170.1 143.8,169.8 143.9,174.1 143.9,170.0 144.0,172.3 144.1,175.2 144.1,167.5 144.2,179.2 144.3,170.7 144.3,170.4 144.4,183.7 144.4,181.3 144.5,174.8 144.6,178.3 144.6,176.1 144.7,172.2 144.7,177.8 144.8,176.2 144.9,180.8 144.9,166.3 145.0,178.7 145.1,175.8 145.1,171.9 145.2,173.1 145.2,173.3 145.3,169.1 145.4,171.6 145.4,179.0 145.5,168.4 145.5,173.8 145.6,164.6 145.7,173.0 145.7,169.7 145.8,175.6 145.9,176.1 145.9,166.6 146.0,178.7 146.0,171.9 146.1,180.4 146.2,177.2 146.2,174.5 146.3,183.2 146.3,174.6 146.4,181.2 146.5,177.0 146.5,176.6 146.6,181.3 146.7,178.8 146.7,176.8 146.8,172.2 146.8,177.9 146.9,177.4 147.0,175.6 147.0,172.4 147.1,165.3 147.1,176.8 147.2,176.3 147.3,183.0 147.3,179.6 147.4,182.8 147.5,188.8 147.5,177.2 147.6,173.9 147.6,181.6 147.7,175.2 147.8,176.8 147.8,184.6 147.9,180.6 147.9,183.2 148.0,172.1 148.1,178.5 148.1,183.5 148.2,172.6 148.3,179.4 148.3,180.4 148.4,164.0 148.4,186.0 148.5,175.6 148.6,178.2 148.6,186.6 148.7,167.6 148.7,181.2 148.8,177.1 148.9,179.4 148.9,175.6 149.0,185.5 149.1,174.3 149.1,181.1 149.2,182.0 149.2,179.2 149.3,178.5 149.4,178.6 149.4,184.4 149.5,181.9 149.5,175.5 149.6,175.1 149.7,180.8 149.7,182.6 149.8,180.1 149.8,186.8 149.9,171.8 150.0,191.7 150.0,179.7 150.1,175.4 150.2,169.7 150.2,184.6 150.3,183.4 150.3,179.9 150.4,180.7 150.5,181.7 150.5,179.1 150.6,186.3 150.6,183.9 150.7,180.6 150.8,173.8 150.8,187.4 150.9,179.1 151.0,176.6 151.0,187.1 151.1,183.6 151.1,172.3 151.2,174.0 151.3,179.7 151.3,175.9 151.4,180.9 151.4,193.3 151.5,195.0 151.6,181.5 151.6,185.3 151.7,185.7 151.8,181.2 151.8,175.2 151.9,186.7 151.9,181.1 152.0,184.0 152.1,185.1 152.1,178.4 152.2,189.6 152.2,182.4 152.3,177.0 152.4,180.2 152.4,185.4 152.5,186.8 152.6,179.7 152.6,184.9 152.7,179.6 152.7,176.8 152.8,180.9 152.9,185.2 152.9,184.9 153.0,187.4 153.0,179.5 153.1,181.2 153.2,182.9 153.2,185.4 153.3,182.2 153.4,178.5 153.4,175.8 153.5,188.1 153.5,187.6 153.6,179.9 153.7,189.6 153.7,182.6 153.8,185.0 153.8,188.7 153.9,180.9 154.0,179.6 154.0,175.3 154.1,184.5 154.2,185.2 154.2,187.1 154.3,186.0 154.3,183.8 154.4,188.5 154.5,178.8 154.5,185.2 154.6,185.8 154.6,183.0 154.7,191.3 154.8,186.4 154.8,189.7 154.9,187.7 155.0,182.9 155.0,192.4 155.1,188.7 155.1,183.9 155.2,183.3 155.3,179.2 155.3,183.2 155.4,182.9 155.4,184.9 155.5,182.1 155.6,177.3 155.6,183.6 155.7,177.0 155.8,181.9 155.8,180.2 155.9,178.5 155.9,183.1 156.0,188.4 156.1,179.3 156.1,175.4 156.2,183.7 156.2,197.8 156.3,181.8 156.4,185.7 156.4,182.7 156.5,188.5 156.6,191.1 156.6,184.0 156.7,175.2 156.7,175.9 156.8,185.7 156.9,179.1 156.9,185.7 157.0,182.2 157.0,186.0 157.1,178.0 157.2,186.0 157.2,185.6 157.3,182.5 157.4,181.5 157.4,179.9 157.5,183.4 157.5,187.0 157.6,184.7 157.7,186.0 157.7,175.5 157.8,183.9 157.8,186.7 157.9,190.7 158.0,187.8 158.0,187.3 158.1,185.9 158.2,194.2 158.2,185.2 158.3,184.0 158.3,188.4 158.4,193.1 158.5,192.1 158.5,186.0 158.6,189.6 158.6,188.1 158.7,186.3 158.8,190.1 158.8,188.8 158.9,186.7 159.0,193.8 159.0,184.4 159.1,192.4 159.1,195.5 159.2,195.6 159.3,187.4 159.3,185.4 159.4,179.1 159.4,186.0 159.5,197.2 159.6,175.3 159.6,179.4 159.7,190.1 159.7,189.1 159.8,178.2 159.9,186.1 159.9,187.9 160.0,179.7 160.1,190.7 160.1,180.5 160.2,191.5 160.2,181.4 160.3,183.4 160.4,179.4 160.4,185.0 160.5,186.1 160.5,186.0 160.6,184.0 160.7,185.7 160.7,192.1 160.8,182.6 160.9,185.7 160.9,188.7 161.0,186.6 161.0,190.6 161.1,193.7 161.2,185.2 161.2,188.2 161.3,173.7 161.3,185.3 161.4,189.8 161.5,181.9 161.5,192.8 161.6,178.5 161.7,195.3 161.7,184.6 161.8,182.4 161.8,184.8 161.9,185.8 162.0,182.5 162.0,180.9 162.1,184.7 162.1,191.2 162.2,188.9 162.3,193.0 162.3,184.4 162.4,185.5 162.5,185.6 162.5,187.8 162.6,190.1 162.6,195.0 162.7,190.3 162.8,188.3 162.8,193.2 162.9,183.8 162.9,181.4 163.0,190.2 163.1,188.0 163.1,187.8 163.2,191.5 163.3,185.9 163.3,186.9 163.4,189.8 163.4,190.3 163.5,191.8 163.6,182.8 163.6,188.6 163.7,176.7 163.7,192.9 163.8,180.6 163.9,187.3 163.9,198.8 164.0,186.1 164.1,180.6 164.1,194.7 164.2,185.2 164.2,186.9 164.3,182.9 164.4,190.9 164.4,191.1 164.5,187.1 164.5,192.6 164.6,183.7 164.7,190.7 164.7,185.0 164.8,190.9 164.9,184.8 164.9,185.9 165.0,194.4 165.0,182.9 165.1,182.7 165.2,190.4 165.2,186.7 165.3,186.0 165.3,187.1 165.4,197.3 165.5,183.4 165.5,186.8 165.6,188.7 165.7,183.9 165.7,187.9 165.8,190.2 165.8,184.1 165.9,193.0 166.0,183.1 166.0,187.3 166.1,189.6 166.1,202.2 166.2,180.5 166.3,189.4 166.3,173.1 166.4,185.6 166.5,193.1 166.5,189.2 166.6,182.0 166.6,190.0 166.7,184.4 166.8,188.9 166.8,181.8 166.9,191.6 166.9,177.8 167.0,187.7 167.1,194.1 167.1,190.7 167.2,186.9 167.3,183.1 167.3,182.7 167.4,200.5 167.4,188.3 167.5,188.5 167.6,185.3 167.6,182.6 167.7,182.0 167.7,186.0 167.8,185.1 167.9,186.2 167.9,187.1 168.0,189.5 168.1,186.6 168.1,187.9 168.2,185.5 168.2,196.4 168.3,189.2 168.4,187.4 168.4,190.1 168.5,188.6 168.5,182.0 168.6,188.1 168.7,196.2 168.7,191.1 168.8,194.1 168.9,182.1 168.9,182.5 169.0,185.9 169.0,197.3 169.1,184.6 169.2,185.6 169.2,193.9 169.3,188.0 169.3,187.9 169.4,190.8 169.5,189.5 169.5,187.8 169.6,190.3 169.6,186.1 169.7,189.0 169.8,192.1 169.8,184.6 169.9,188.0 170.0,184.3 170.0,192.6 170.1,182.7 170.1,193.5 170.2,193.9 170.3,195.7 170.3,192.5 170.4,186.0 170.4,193.5 170.5,185.5 170.6,199.7 170.6,190.8 170.7,192.1 170.8,184.1 170.8,194.2 170.9,180.5 170.9,182.7 171.0,186.2 171.1,186.7 171.1,186.8 171.2,195.7 171.2,199.1 171.3,183.2 171.4,194.3 171.4,188.6 171.5,195.7 171.6,179.1 171.6,187.9 171.7,195.1 171.7,185.2 171.8,195.0 171.9,187.6 171.9,194.8 172.0,192.4 172.0,188.1 172.1,186.6 172.2,189.2 172.2,195.0 172.3,189.9 172.4,187.1 172.4,204.5 172.5,179.2 172.5,189.1 172.6,192.4 172.7,185.5 172.7,190.1 172.8,188.3 172.8,183.7 172.9,192.1 173.0,185.2 173.0,186.9 173.1,195.6 173.2,185.3 173.2,192.9 173.3,195.4 173.3,194.6 173.4,192.3 173.5,189.3 173.5,184.2 173.6,191.0 173.6,192.3 173.7,188.2 173.8,186.1 173.8,194.2 173.9,185.8 174.0,192.4 174.0,188.4 174.1,183.1 174.1,197.5 174.2,193.1 174.3,192.9 174.3,184.3 174.4,189.9 174.4,191.7 174.5,187.3 174.6,200.6 174.6,181.7 174.7,193.6 174.8,182.3 174.8,183.7 174.9,184.9 174.9,193.0 175.0,187.4 175.1,187.6 175.1,186.6 175.2,184.1 175.2,186.6 175.3,186.2 175.4,189.1 175.4,188.1 175.5,180.1 175.6,187.7 175.6,195.8 175.7,188.4 175.7,190.2 175.8,187.3 175.9,187.5 175.9,186.2 176.0,182.1 176.0,189.7 176.1,183.2 176.2,191.9 176.2,180.7 176.3,193.3 176.4,194.8 176.4,183.4 176.5,193.4 176.5,188.7 176.6,195.5 176.7,188.1 176.7,189.2 176.8,185.3 176.8,195.9 176.9,182.0 177.0,193.8 177.0,190.9 177.1,187.3 177.2,189.4 177.2,194.5 177.3,194.0 177.3,200.6 177.4,187.7 177.5,178.4 177.5,188.1 177.6,189.6 177.6,188.6 177.7,195.8 177.8,200.4 177.8,192.2 177.9,182.8 178.0,195.0 178.0,187.7 178.1,190.7 178.1,183.9 178.2,192.1 178.3,190.3 178.3,191.8 178.4,193.9 178.4,193.3 178.5,178.6 178.6,177.6 178.6,185.7 178.7,188.1 178.8,194.2 178.8,191.6 178.9,194.3 178.9,184.5 179.0,189.7 179.1,193.4 179.1,190.4 179.2,188.9 179.2,191.8 179.3,197.8 179.4,181.6 179.4,197.5 179.5,191.9 179.6,187.0 179.6,193.5 179.7,190.9 179.7,195.9 179.8,187.2 179.9,194.9 179.9,185.1 180.0,186.4 180.0,193.8 180.1,190.4 180.2,193.5 180.2,188.2 180.3,195.4 180.3,188.6 180.4,187.8 180.5,190.3 180.5,190.6 180.6,185.6 180.7,194.3 180.7,190.3 180.8,193.5 180.8,184.4 180.9,185.2 181.0,189.7 181.0,186.6 181.1,186.4 181.1,193.3 181.2,195.7 181.3,197.2 181.3,194.3 181.4,187.9 181.5,193.3 181.5,188.7 181.6,193.3 181.6,186.4 181.7,196.8 181.8,192.8 181.8,189.7 181.9,182.6 181.9,192.2 182.0,188.7 182.1,192.1 182.1,187.9 182.2,188.7 182.3,193.7 182.3,197.4 182.4,185.6 182.4,190.2 182.5,192.7 182.6,190.0 182.6,189.2 182.7,178.8 182.7,187.5 182.8,192.7 182.9,189.0 182.9,190.7 183.0,181.3 183.1,195.0 183.1,190.2 183.2,187.0 183.2,198.3 183.3,190.0 183.4,188.5 183.4,187.5 183.5,195.8 183.5,191.3 183.6,189.2 183.7,185.5 183.7,187.3 183.8,193.1 183.9,191.1 183.9,178.7 184.0,187.5 184.0,192.2 184.1,202.8 184.2,188.0 184.2,181.7 184.3,194.6 184.3,189.2 184.4,185.6 184.5,193.7 184.5,190.3 184.6,187.2 184.7,183.3 184.7,190.8 184.8,191.7 184.8,183.7 184.9,195.6 185.0,185.9 185.0,199.6 185.1,192.8 185.1,190.6 185.2,192.8 185.3,188.9 185.3,191.1 185.4,198.5 185.5,189.0 185.5,194.9 185.6,187.6 185.6,191.4 185.7,195.6 185.8,186.3 185.8,192.9 185.9,182.3 185.9,184.4 186.0,189.7 186.1,195.3 186.1,194.6 186.2,187.6 186.3,191.0 186.3,192.3 186.4,184.8 186.4,193.4 186.5,197.3 186.6,196.9 186.6,189.0 186.7,189.8 186.7,187.6 186.8,189.5 186.9,190.5 186.9,194.5 187.0,192.0 187.1,187.7 187.1,196.4 187.2,195.4 187.2,189.0 187.3,190.6 187.4,191.2 187.4,184.6 187.5,192.3 187.5,194.6 187.6,200.0 187.7,192.5 187.7,190.5 187.8,191.1 187.9,194.3 187.9,195.1 188.0,186.4 188.0,192.6 188.1,194.6 188.2,183.2 188.2,197.6 188.3,190.9 188.3,195.5 188.4,191.6 188.5,190.8 188.5,191.5 188.6,193.4 188.7,196.9 188.7,190.7 188.8,187.1 188.8,188.9 188.9,187.7 189.0,195.1 189.0,187.8 189.1,198.4 189.1,192.5 189.2,191.5 189.3,197.5 189.3,190.4 189.4,190.7 189.5,195.3 189.5,195.1 189.6,183.9 189.6,202.5 189.7,194.4 189.8,186.6 189.8,191.3 189.9,196.0 189.9,193.0 190.0,195.7 190.1,202.1 190.1,196.0 190.2,200.6 190.2,196.0 190.3,189.3 190.4,198.5 190.4,189.1 190.5,196.2 190.6,194.9 190.6,188.5 190.7,189.2 190.7,191.4 190.8,193.9 190.9,197.9 190.9,192.5 191.0,200.3 191.0,196.0 191.1,189.5 191.2,189.7 191.2,192.7 191.3,190.1 191.4,192.0 191.4,195.6 191.5,193.5 191.5,196.5 191.6,189.5 191.7,188.7 191.7,186.5 191.8,184.9 191.8,190.5 191.9,192.7 192.0,191.6 192.0,192.4 192.1,201.2 192.2,187.9 192.2,187.5 192.3,190.4 192.3,188.7 192.4,200.5 192.5,192.4 192.5,197.9 192.6,187.8 192.6,200.5 192.7,202.2 192.8,188.9 192.8,192.6 192.9,192.1 193.0,195.0 193.0,187.1 193.1,194.6 193.1,195.7 193.2,190.1 193.3,183.1 193.3,189.8 193.4,191.0 193.4,195.9 193.5,190.1 193.6,187.9 193.6,195.4 193.7,194.3 193.8,197.1 193.8,193.0 193.9,197.2 193.9,195.0 194.0,185.2 194.1,193.6 194.1,196.1 194.2,193.0 194.2,199.0 194.3,190.9 194.4,195.8 194.4,187.6 194.5,192.9 194.6,190.5 194.6,188.6 194.7,187.4 194.7,193.8 194.8,194.7 194.9,190.2 194.9,187.7 195.0,189.2 195.0,196.1 195.1,187.8 195.2,197.7 195.2,185.9 195.3,194.6 195.4,195.8 195.4,198.1 195.5,191.1 195.5,189.7 195.6,187.0 195.7,196.8 195.7,192.4 195.8,191.0 195.8,191.2 195.9,194.1 196.0,193.1 196.0,198.0 196.1,183.9 196.2,196.6 196.2,190.8 196.3,192.7 196.3,187.9 196.4,192.7 196.5,196.2 196.5,194.0 196.6,187.0 196.6,192.8 196.7,192.7 196.8,195.2 196.8,193.3 196.9,192.7 197.0,197.4 197.0,188.5 197.1,202.3 197.1,190.7 197.2,188.7 197.3,196.4 197.3,197.7 197.4,198.4 197.4,199.3 197.5,195.2 197.6,193.4 197.6,195.4 197.7,193.1 197.8,190.9 197.8,199.9 197.9,200.8 197.9,193.2 198.0,192.2 198.1,191.1 198.1,186.1 198.2,190.3 198.2,191.0 198.3,193.1 198.4,189.0 198.4,185.2 198.5,196.0 198.6,200.5 198.6,184.3 198.7,192.7 198.7,196.9 198.8,188.3 198.9,187.2 198.9,193.4 199.0,192.3 199.0,190.6 199.1,200.2 199.2,199.6 199.2,196.1 199.3,193.0 199.4,191.9 199.4,197.0 199.5,192.4 199.5,199.6 199.6,198.6 199.7,190.8 199.7,196.6 199.8,202.6 199.8,196.2 199.9,189.4 200.0,192.3 200.0,192.0 200.1,194.0 200.1,193.7 200.2,192.0 200.3,197.1 200.3,199.2 200.4,191.1 200.5,187.3 200.5,195.1 200.6,193.6 200.6,195.3 200.7,190.7 200.8,194.8 200.8,188.3 200.9,198.2 200.9,200.7 201.0,189.7 201.1,182.7 201.1,191.6 201.2,191.4 201.3,194.5 201.3,193.8 201.4,195.8 201.4,205.1 201.5,191.4 201.6,192.1 201.6,195.5 201.7,186.0 201.7,197.0 201.8,191.1 201.9,187.7 201.9,190.2 202.0,195.9 202.1,197.3 202.1,199.0 202.2,195.6 202.2,190.8 202.3,187.1 202.4,193.5 202.4,203.6 202.5,185.2 202.5,203.4 202.6,197.1 202.7,195.6 202.7,193.5 202.8,191.5 202.9,189.8 202.9,187.4 203.0,202.5 203.0,199.6 203.1,196.7 203.2,196.2 203.2,182.1 203.3,192.8 203.3,194.5 203.4,198.8 203.5,189.8 203.5,195.1 203.6,193.0 203.7,194.3 203.7,190.7 203.8,195.5 203.8,194.4 203.9,186.2 204.0,201.3 204.0,203.3 204.1,190.4 204.1,198.9 204.2,190.0 204.3,191.8 204.3,204.6 204.4,194.9 204.5,200.4 204.5,195.3 204.6,198.3 204.6,193.4 204.7,200.1 204.8,201.6 204.8,198.3 204.9,191.8 204.9,192.6 205.0,190.2 205.1,196.7 205.1,197.5 205.2,191.3 205.3,198.0 205.3,188.0 205.4,201.8 205.4,197.7 205.5,200.9 205.6,191.3 205.6,190.1 205.7,186.6 205.7,197.0 205.8,189.6 205.9,199.9 205.9,194.9 206.0,197.5 206.1,188.9 206.1,191.8 206.2,195.1 206.2,197.4 206.3,188.9 206.4,195.8 206.4,190.9 206.5,197.7 206.5,193.4 206.6,193.1 206.7,196.2 206.7,199.2 206.8,193.4 206.9,199.5 206.9,190.2 207.0,195.6 207.0,188.1 207.1,195.3 207.2,190.6 207.2,194.5 207.3,197.0 207.3,190.4 207.4,187.1 207.5,189.9 207.5,196.6 207.6,195.4 207.7,189.3 207.7,197.9 207.8,193.2 207.8,197.6 207.9,190.7 208.0,196.3 208.0,199.3 208.1,191.7 208.1,193.0 208.2,197.0 208.3,196.6 208.3,195.9 208.4,194.0 208.5,187.9 208.5,194.4 208.6,189.1 208.6,195.2 208.7,184.7 208.8,200.4 208.8,202.4 208.9,196.3 208.9,190.9 209.0,193.2 209.1,198.2 209.1,197.2 209.2,191.6 209.3,199.5 209.3,197.5 209.4,196.7 209.4,193.0 209.5,194.5 209.6,191.5 209.6,195.3 209.7,191.7 209.7,199.4 209.8,194.7 209.9,195.4 209.9,195.9 210.0,195.8 210.0,188.6 210.1,199.8 210.2,194.9 210.2,192.2 210.3,190.5 210.4,191.7 210.4,192.0 210.5,194.6 210.5,191.0 210.6,195.0 210.7,195.1 210.7,191.7 210.8,203.7 210.8,194.0 210.9,195.9 211.0,195.0 211.0,190.1 211.1,197.3 211.2,200.2 211.2,194.3 211.3,191.0 211.3,196.8 211.4,185.6 211.5,195.2 211.5,193.7 211.6,195.9 211.6,188.3 211.7,192.7 211.8,190.3 211.8,192.3 211.9,196.9 212.0,193.7 212.0,192.0 212.1,199.4 212.1,194.5 212.2,186.1 212.3,190.2 212.3,196.2 212.4,196.3 212.4,195.4 212.5,189.0 212.6,190.7 212.6,194.0 212.7,185.8 212.8,191.0 212.8,190.7 212.9,190.9 212.9,193.0 213.0,193.5 213.1,191.1 213.1,198.8 213.2,192.5 213.2,200.7 213.3,198.5 213.4,189.4 213.4,198.0 213.5,188.6 213.6,200.3 213.6,195.7 213.7,186.5 213.7,185.3 213.8,192.7 213.9,188.7 213.9,200.6 214.0,189.2 214.0,193.3 214.1,188.4 214.2,194.3 214.2,195.3 214.3,193.2 214.4,197.2 214.4,190.4 214.5,196.6 214.5,189.3 214.6,195.3 214.7,189.6 214.7,193.4 214.8,196.7 214.8,199.3 214.9,186.8 215.0,191.1 215.0,190.2 215.1,199.2 215.2,190.7 215.2,197.1 215.3,192.1 215.3,188.3 215.4,194.7 215.5,189.6 215.5,198.4 215.6,199.0 215.6,199.7 215.7,190.1 215.8,200.7 215.8,199.8 215.9,180.2 216.0,203.4 216.0,201.2 216.1,190.0 216.1,195.6 216.2,188.7 216.3,193.7 216.3,195.0 216.4,196.8 216.4,190.9 216.5,194.2 216.6,190.4 216.6,195.9 216.7,187.9 216.8,194.6 216.8,199.0 216.9,197.4 216.9,189.1 217.0,199.1 217.1,189.2 217.1,194.2 217.2,184.1 217.2,194.2 217.3,192.4 217.4,199.1 217.4,192.5 217.5,191.7 217.6,193.9 217.6,193.8 217.7,196.5 217.7,190.7 217.8,188.2 217.9,187.8 217.9,201.0 218.0,185.4 218.0,191.7 218.1,189.8 218.2,198.0 218.2,188.3 218.3,199.4 218.4,191.5 218.4,195.6 218.5,197.5 218.5,198.4 218.6,189.5 218.7,192.9 218.7,194.1 218.8,186.9 218.8,197.3 218.9,196.0 219.0,196.5 219.0,188.7 219.1,195.2 219.2,196.9 219.2,198.7 219.3,192.3 219.3,197.2 219.4,202.5 219.5,192.7 219.5,192.8 219.6,193.1 219.6,188.3 219.7,193.0 219.8,201.2 219.8,190.6 219.9,193.7 220.0,199.4 220.0,196.8 220.1,195.4 220.1,193.1 220.2,193.8 220.3,194.5 220.3,197.3 220.4,194.8 220.4,198.4 220.5,183.8 220.6,197.9 220.6,192.4 220.7,194.6 220.7,192.8 220.8,197.2 220.9,194.1 220.9,188.2 221.0,191.2 221.1,195.3 221.1,199.6 221.2,199.2 221.2,193.1 221.3,195.2 221.4,193.1 221.4,193.9 221.5,194.7 221.5,199.6 221.6,197.0 221.7,200.6 221.7,200.9 221.8,189.4 221.9,195.9 221.9,192.8 222.0,188.0 222.0,190.2 222.1,192.6 222.2,201.5 222.2,195.0 222.3,193.9 222.3,194.5 222.4,191.6 222.5,195.4 222.5,194.3 222.6,188.0 222.7,192.5 222.7,208.5 222.8,197.3 222.8,194.1 222.9,197.4 223.0,190.7 223.0,195.1 223.1,198.3 223.1,188.1 223.2,188.0 223.3,193.1 223.3,193.6 223.4,192.6 223.5,195.9 223.5,198.9 223.6,196.2 223.6,198.9 223.7,199.0 223.8,192.3 223.8,195.9 223.9,193.2 223.9,197.5 224.0,189.6 224.1,194.0 224.1,201.7 224.2,194.1 224.3,188.4 224.3,195.3 224.4,196.0 224.4,192.8 224.5,195.1 224.6,199.0 224.6,192.7 224.7,190.3 224.7,192.0 224.8,196.2 224.9,194.1 224.9,191.1 225.0,190.5 225.1,202.3 225.1,187.9 225.2,189.2 225.2,196.2 225.3,189.2 225.4,202.8 225.4,188.8 225.5,189.6 225.5,192.8 225.6,165.5 225.7,198.2 225.7,197.2 225.8,196.1 225.9,200.2 225.9,187.5 226.0,196.1 226.0,200.7 226.1,190.6 226.2,196.2 226.2,199.9 226.3,200.0 226.3,194.4 226.4,202.5 226.5,197.0 226.5,199.3 226.6,190.6 226.7,191.9 226.7,191.9 226.8,202.1 226.8,185.5 226.9,187.6 227.0,198.2 227.0,195.9 227.1,183.0 227.1,189.7 227.2,193.8 227.3,199.9 227.3,187.3 227.4,192.9 227.5,199.3 227.5,198.1 227.6,191.3 227.6,193.9 227.7,189.1 227.8,200.6 227.8,193.3 227.9,200.2 227.9,198.3 228.0,191.5 228.1,194.5 228.1,197.8 228.2,197.0 228.3,201.4 228.3,199.8 228.4,196.6 228.4,198.1 228.5,192.5 228.6,189.3 228.6,197.9 228.7,196.9 228.7,191.1 228.8,191.5 228.9,192.4 228.9,193.4 229.0,200.9 229.1,191.9 229.1,193.1 229.2,198.1 229.2,196.1 229.3,196.6 229.4,190.1 229.4,195.9 229.5,194.5 229.5,192.8 229.6,193.8 229.7,194.9 229.7,199.5 229.8,184.7 229.9,196.7 229.9,186.3 230.0,196.8 230.0,190.4 230.1,196.6 230.2,201.6 230.2,202.1 230.3,193.0 230.3,205.5 230.4,193.6 230.5,193.7 230.5,194.6 230.6,202.5 230.6,198.3 230.7,200.4 230.8,187.9 230.8,196.6 230.9,196.4 231.0,199.7 231.0,195.1 231.1,188.2 231.1,194.3 231.2,191.5 231.3,186.8 231.3,202.2 231.4,200.2 231.4,194.1 231.5,201.7 231.6,196.6 231.6,196.9 231.7,189.3 231.8,195.2 231.8,197.9 231.9,198.3 231.9,195.3 232.0,201.6 232.1,203.4 232.1,193.2 232.2,199.3 232.2,191.6 232.3,199.4 232.4,192.5 232.4,197.2 232.5,198.6 232.6,197.0 232.6,202.2 232.7,194.9 232.7,196.2 232.8,199.4 232.9,198.0 232.9,199.2 233.0,197.4 233.0,195.0 233.1,200.9 233.2,198.6 233.2,203.5 233.3,186.7 233.4,197.0 233.4,195.5 233.5,196.7 233.5,195.9 233.6,190.6 233.7,205.2 233.7,200.3 233.8,208.0 233.8,196.5 233.9,201.1 234.0,199.9 234.0,198.5 234.1,202.8 234.2,198.9 234.2,198.6 234.3,199.6 234.3,190.1 234.4,196.2 234.5,196.2 234.5,205.7 234.6,201.5 234.6,202.3 234.7,201.8 234.8,198.5 234.8,205.9 234.9,198.5 235.0,193.8 235.0,202.0 235.1,204.2 235.1,199.9 235.2,201.0 235.3,203.4 235.3,205.7 235.4,202.0 235.4,206.4 235.5,200.9 235.6,208.1 235.6,194.3 235.7,203.6 235.8,201.0 235.8,200.4 235.9,194.9 235.9,204.3 236.0,199.3 236.1,196.1 236.1,197.6 236.2,195.5 236.2,200.6 236.3,196.6 236.4,196.6 236.4,202.0 236.5,200.1 236.6,208.2 236.6,198.7 236.7,203.4 236.7,207.4 236.8,199.7 236.9,204.5 236.9,201.8 237.0,200.9 237.0,207.1 237.1,196.8 237.2,198.4 237.2,193.7 237.3,200.3 237.4,192.7 237.4,199.9 237.5,204.2 237.5,198.0 237.6,205.6 237.7,200.6 237.7,199.2 237.8,207.6 237.8,201.1 237.9,203.5 238.0,202.0 238.0,204.1 238.1,201.8 238.2,196.6 238.2,202.6 238.3,203.4 238.3,203.1 238.4,200.7 238.5,208.9 238.5,198.9 238.6,202.3 238.6,202.7 238.7,197.7 238.8,197.3 238.8,204.7 238.9,204.8 239.0,202.8 239.0,195.9 239.1,201.2 239.1,203.3 239.2,204.9 239.3,207.2 239.3,205.2 239.4,206.4 239.4,209.3 239.5,193.5 239.6,206.7 239.6,200.5 239.7,205.7 239.8,203.8 239.8,199.0 239.9,199.5 239.9,204.9 240.0,202.5 240.1,206.2 240.1,201.8 240.2,190.7 240.2,202.5 240.3,191.1 240.4,200.6 240.4,205.9 240.5,208.2 240.5,198.6 240.6,200.0 240.7,205.5 240.7,208.5 240.8,209.4 240.9,206.3 240.9,208.3 241.0,199.6 241.0,202.6 241.1,210.0 241.2,202.2 241.2,203.5 241.3,197.6 241.3,203.8 241.4,194.6 241.5,206.1 241.5,210.6 241.6,206.1 241.7,205.5 241.7,203.4 241.8,207.2 241.8,200.7 241.9,203.3 242.0,213.7 242.0,200.1 242.1,203.1 242.1,199.8 242.2,210.3 242.3,204.5 242.3,200.5 242.4,200.6 242.5,210.0 242.5,208.4 242.6,208.9 242.6,205.6 242.7,209.4 242.8,213.3 242.8,209.8 242.9,199.7 242.9,198.3 243.0,200.4 243.1,200.6 243.1,198.0 243.2,198.3 243.3,206.5 243.3,202.9 243.4,201.3 243.4,210.2 243.5,208.4 243.6,209.6 243.6,210.2 243.7,212.3 243.7,206.5 243.8,205.9 243.9,199.8 243.9,202.1 244.0,204.4 244.1,211.0 244.1,209.5 244.2,212.7 244.2,211.3 244.3,211.7 244.4,209.1 244.4,207.6 244.5,205.6 244.5,207.1 244.6,203.4 244.7,208.8 244.7,206.9 244.8,199.3 244.9,192.9 244.9,204.5 245.0,205.6 245.0,206.3 245.1,212.6 245.2,205.1 245.2,202.6 245.3,209.1 245.3,211.6 245.4,214.2 245.5,203.8 245.5,206.8 245.6,206.2 245.7,213.9 245.7,210.7 245.8,208.1 245.8,210.9 245.9,206.6 246.0,207.3 246.0,208.0 246.1,206.2 246.1,206.8 246.2,209.7 246.3,209.6 246.3,214.2 246.4,211.8 246.5,204.4 246.5,199.8 246.6,202.7 246.6,206.6 246.7,207.1 246.8,203.5 246.8,207.2 246.9,209.2 246.9,206.3 247.0,208.2 247.1,208.5 247.1,206.1 247.2,205.5 247.3,208.5 247.3,210.1 247.4,204.9 247.4,201.0 247.5,205.4 247.6,211.2 247.6,202.9 247.7,212.9 247.7,207.0 247.8,209.8 247.9,206.3 247.9,211.7 248.0,209.6 248.1,210.9 248.1,198.8 248.2,212.4 248.2,203.0 248.3,208.4 248.4,211.7 248.4,209.0 248.5,211.7 248.5,210.5 248.6,210.2 248.7,206.7 248.7,213.9 248.8,214.4 248.9,207.9 248.9,205.1 249.0,210.9 249.0,207.2 249.1,210.8 249.2,214.7 249.2,212.9 249.3,216.1 249.3,212.2 249.4,206.4 249.5,207.1 249.5,212.6 249.6,218.0 249.7,209.2 249.7,207.1 249.8,216.1 249.8,210.3 249.9,213.5 250.0,215.0 250.0,207.0 250.1,209.5 250.1,205.1 250.2,213.0 250.3,213.5 250.3,209.1 250.4,213.2 250.4,204.2 250.5,212.5 250.6,212.5 250.6,211.2 250.7,205.6 250.8,210.9 250.8,207.1 250.9,217.0 250.9,210.3 251.0,210.6 251.1,211.0 251.1,213.6 251.2,211.8 251.2,213.6 251.3,208.0 251.4,215.9 251.4,209.7 251.5,214.6 251.6,212.6 251.6,215.9 251.7,211.5 251.7,206.1 251.8,207.4 251.9,211.0 251.9,217.3 252.0,210.3 252.0,212.2 252.1,218.8 252.2,209.9 252.2,213.3 252.3,213.2 252.4,209.9 252.4,213.4 252.5,216.3 252.5,216.3 252.6,211.0 252.7,223.6 252.7,213.7 252.8,210.9 252.8,209.7 252.9,208.7 253.0,215.7 253.0,197.7 253.1,212.0 253.2,207.3 253.2,212.0 253.3,212.6 253.3,205.6 253.4,209.0 253.5,217.7 253.5,210.7 253.6,212.8 253.6,211.7 253.7,216.1 253.8,217.7 253.8,216.5 253.9,215.2 254.0,215.2 254.0,206.6 254.1,218.2 254.1,211.0 254.2,209.8 254.3,211.8 254.3,210.2 254.4,214.9 254.4,216.1 254.5,218.3 254.6,213.0 254.6,211.2 254.7,212.4 254.8,209.0 254.8,210.7 254.9,202.5 254.9,210.7 255.0,211.9 255.1,216.1 255.1,214.7 255.2,216.7 255.2,210.5 255.3,209.7 255.4,218.9 255.4,211.3 255.5,213.6 255.6,214.8 255.6,206.9 255.7,213.3 255.7,211.6 255.8,216.9 255.9,212.9 255.9,205.5 256.0,217.2 256.0,204.4 256.1,212.7 256.2,211.6 256.2,212.0 256.3,214.3 256.4,218.1 256.4,211.1 256.5,212.1 256.5,217.4 256.6,216.5 256.7,208.5 256.7,210.0 256.8,213.7 256.8,212.8 256.9,212.9 257.0,218.3 257.0,220.6 257.1,222.5 257.2,210.9 257.2,214.0 257.3,215.0 257.3,214.3 257.4,210.7 257.5,223.4 257.5,220.9 257.6,214.5 257.6,213.4 257.7,215.1 257.8,210.6 257.8,213.9 257.9,218.3 258.0,221.7 258.0,218.8 258.1,220.4 258.1,211.3 258.2,202.9 258.3,220.8 258.3,216.2 258.4,215.2 258.4,222.0 258.5,211.9 258.6,211.9 258.6,212.8 258.7,222.0 258.8,219.4 258.8,208.9 258.9,224.7 258.9,215.9 259.0,217.5 259.1,212.9 259.1,223.2 259.2,217.6 259.2,221.1 259.3,212.1 259.4,218.7 259.4,216.4 259.5,215.2 259.6,213.0 259.6,213.4 259.7,211.6 259.7,213.6 259.8,216.1 259.9,219.4 259.9,210.2 260.0,212.3 260.0,214.0 260.1,210.0 260.2,215.3 260.2,215.0 260.3,215.4 260.4,218.1 260.4,220.2 260.5,219.7 260.5,217.7 260.6,218.9 260.7,213.6 260.7,209.4 260.8,219.3 260.8,219.0 260.9,225.3 261.0,216.0 261.0,213.0 261.1,218.0 261.1,215.2 261.2,213.5 261.3,222.3 261.3,224.5 261.4,218.5 261.5,214.5 261.5,218.1 261.6,216.9 261.6,208.1 261.7,220.5 261.8,218.6 261.8,222.2 261.9,214.2 261.9,217.3 262.0,216.9 262.1,210.7 262.1,227.2 262.2,209.3 262.3,213.0 262.3,216.1 262.4,211.5 262.4,219.2 262.5,215.8 262.6,217.9 262.6,218.6 262.7,218.0 262.7,218.1 262.8,217.2 262.9,219.5 262.9,221.0 263.0,213.2 263.1,216.2 263.1,216.4 263.2,219.2 263.2,216.6 263.3,216.6 263.4,212.2 263.4,228.6 263.5,213.3 263.5,224.8 263.6,221.3 263.7,222.3 263.7,219.3 263.8,220.3 263.9,219.5 263.9,220.7 264.0,221.7 264.0,224.4 264.1,214.6 264.2,220.5 264.2,224.9 264.3,207.4 264.3,214.6 264.4,219.9 264.5,219.8 264.5,219.7 264.6,209.9 264.7,222.2 264.7,212.5 264.8,227.5 264.8,221.5 264.9,218.6 265.0,221.5 265.0,214.8 265.1,216.9 265.1,218.7 265.2,221.0 265.3,216.0 265.3,222.0 265.4,223.6 265.5,223.4 265.5,223.9 265.6,226.4 265.6,222.1 265.7,224.5 265.8,219.7 265.8,221.0 265.9,225.0 265.9,227.1 266.0,218.0 266.1,213.7 266.1,227.9 266.2,224.1 266.3,226.7 266.3,223.1 266.4,220.5 266.4,216.1 266.5,215.8 266.6,225.4 266.6,223.6 266.7,221.0 266.7,215.3 266.8,217.7 266.9,217.3 266.9,218.6 267.0,208.4 267.1,220.7 267.1,226.0 267.2,217.7 267.2,220.0 267.3,221.0 267.4,216.0 267.4,221.7 267.5,216.8 267.5,218.3 267.6,221.0 267.7,219.8 267.7,220.5 267.8,216.5 267.9,213.4 267.9,215.8 268.0,224.9 268.0,218.3 268.1,215.5 268.2,219.9 268.2,214.4 268.3,218.2 268.3,219.7 268.4,223.4 268.5,223.5 268.5,222.3 268.6,219.3 268.7,214.4 268.7,219.6 268.8,219.2 268.8,220.0 268.9,218.4 269.0,218.5 269.0,223.8 269.1,213.2 269.1,220.6 269.2,225.6 269.3,212.7 269.3,216.7 269.4,219.8 269.5,219.4 269.5,221.8 269.6,226.2 269.6,220.3 269.7,223.0 269.8,218.5 269.8,218.9 269.9,222.0 269.9,218.2 270.0,225.7 270.1,219.3 270.1,220.3 270.2,215.2 270.3,219.3 270.3,217.0 270.4,219.1 270.4,214.0 270.5,217.3 270.6,228.1 270.6,213.7 270.7,228.1 270.7,220.7 270.8,224.7 270.9,217.2 270.9,229.3 271.0,217.0 271.0,221.0 271.1,227.5 271.2,214.2 271.2,212.0 271.3,221.1 271.4,218.3 271.4,217.5 271.5,217.8 271.5,215.6 271.6,227.1 271.7,226.4 271.7,213.9 271.8,217.5 271.8,219.7 271.9,213.4 272.0,218.3 272.0,230.8 272.1,221.7 272.2,218.5 272.2,221.2 272.3,219.4 272.3,230.8 272.4,222.4 272.5,219.8 272.5,222.2 272.6,227.8 272.6,218.0 272.7,215.1 272.8,227.2 272.8,224.4 272.9,216.5 273.0,221.6 273.0,226.4 273.1,211.0 273.1,227.2 273.2,221.3 273.3,224.8 273.3,221.9 273.4,234.6 273.4,219.6 273.5,226.6 273.6,211.6 273.6,222.4 273.7,225.4 273.8,216.0 273.8,214.0 273.9,222.7 273.9,228.1 274.0,227.1 274.1,219.6 274.1,223.8 274.2,216.7 274.2,229.5 274.3,220.1 274.4,227.6 274.4,221.4 274.5,221.2 274.6,229.1 274.6,219.0 274.7,227.8 274.7,221.1 274.8,219.0 274.9,219.2 274.9,229.1 275.0,222.4 275.0,221.3 275.1,216.6 275.2,227.5 275.2,227.0 275.3,224.1 275.4,226.0 275.4,209.6 275.5,217.0 275.5,223.5 275.6,223.3 275.7,220.6 275.7,223.9 275.8,220.0 275.8,220.3 275.9,217.9 276.0,218.6 276.0,220.1 276.1,221.0 276.2,228.7 276.2,222.9 276.3,223.0 276.3,216.9 276.4,221.1 276.5,228.8 276.5,225.5 276.6,223.5 276.6,222.6 276.7,223.7 276.8,224.9 276.8,222.0 276.9,213.2 277.0,231.4 277.0,228.0 277.1,222.8 277.1,231.5 277.2,218.2 277.3,228.7 277.3,224.3 277.4,227.2 277.4,222.2 277.5,224.2 277.6,226.0 277.6,227.9 277.7,217.9 277.8,225.5 277.8,221.3 277.9,230.7 277.9,224.6 278.0,222.8 278.1,222.5 278.1,218.9 278.2,220.8 278.2,217.7 278.3,224.7 278.4,223.6 278.4,224.8 278.5,218.9 278.6,222.3 278.6,221.4 278.7,228.0 278.7,218.0 278.8,217.9 278.9,229.3 278.9,225.6 279.0,217.7 279.0,229.6 279.1,230.2 279.2,228.8 279.2,212.2 279.3,224.7 279.4,217.1 279.4,223.2 279.5,217.9 279.5,231.4 279.6,221.5 279.7,225.5 279.7,227.7 279.8,226.9 279.8,226.1 279.9,222.9 280.0,225.4 280.0,223.6 280.1,215.3 280.2,228.6 280.2,222.0 280.3,222.5 280.3,222.9 280.4,219.0 280.5,219.7 280.5,217.3 280.6,226.6 280.6,229.5 280.7,225.0 280.8,220.1 280.8,230.1 280.9,223.5 280.9,218.3 281.0,217.2 281.1,225.6 281.1,230.7 281.2,223.3 281.3,221.3 281.3,223.4 281.4,221.5 281.4,221.9 281.5,226.0 281.6,222.1 281.6,228.8 281.7,217.4 281.7,228.0 281.8,226.5 281.9,223.6 281.9,223.9 282.0,223.9 282.1,232.0 282.1,221.9 282.2,230.1 282.2,229.4 282.3,220.3 282.4,231.9 282.4,215.7 282.5,226.3 282.5,225.9 282.6,225.5 282.7,228.8 282.7,223.8 282.8,224.7 282.9,230.1 282.9,225.0 283.0,221.3 283.0,227.8 283.1,225.2 283.2,223.3 283.2,227.8 283.3,222.5 283.3,221.7 283.4,224.6 283.5,224.9 283.5,225.9 283.6,220.8 283.7,232.7 283.7,228.5 283.8,226.4 283.8,226.7 283.9,215.7 284.0,229.6 284.0,221.7 284.1,227.9 284.1,221.1 284.2,229.9 284.3,223.8 284.3,225.1 284.4,232.2 284.5,230.0 284.5,220.5 284.6,223.2 284.6,226.9 284.7,225.2 284.8,229.4 284.8,223.4 284.9,218.6 284.9,222.5 285.0,225.5 285.1,228.5 285.1,229.3 285.2,231.3 285.3,227.3 285.3,225.5 285.4,229.3 285.4,222.3 285.5,223.7 285.6,224.5 285.6,230.2 285.7,232.5 285.7,231.8 285.8,220.0 285.9,231.0 285.9,222.0 286.0,225.2 286.1,229.9 286.1,221.2 286.2,221.7 286.2,223.6 286.3,233.5 286.4,231.1 286.4,223.1 286.5,227.3 286.5,227.3 286.6,228.1 286.7,223.9 286.7,232.7 286.8,225.3 286.9,230.2 286.9,220.1 287.0,229.1 287.0,227.5 287.1,232.5 287.2,216.5 287.2,229.3 287.3,230.3 287.3,226.0 287.4,232.4 287.5,235.6 287.5,230.7 287.6,230.4 287.7,232.6 287.7,229.0 287.8,232.2 287.8,229.6 287.9,224.5 288.0,223.0 288.0,232.0 288.1,229.7 288.1,224.6 288.2,227.5 288.3,233.3 288.3,220.5 288.4,223.8 288.5,231.4 288.5,220.5 288.6,222.7 288.6,223.5 288.7,228.2 288.8,233.2 288.8,227.6 288.9,218.2 288.9,231.8 289.0,227.5 289.1,225.8 289.1,223.0 289.2,232.5 289.3,228.8 289.3,229.4 289.4,229.2 289.4,229.6 289.5,231.2 289.6,234.8 289.6,223.5 289.7,227.6 289.7,226.1 289.8,234.7 289.9,226.8 289.9,221.4 290.0,227.9 290.1,225.0 290.1,225.0 290.2,226.2 290.2,220.6 290.3,220.2 290.4,236.0 290.4,227.6 290.5,224.3 290.5,230.7 290.6,233.6 290.7,221.1 290.7,226.4 290.8,229.4 290.8,224.8 290.9,230.8 291.0,223.3 291.0,225.6 291.1,224.2 291.2,230.1 291.2,228.6 291.3,225.6 291.3,226.9 291.4,219.8 291.5,237.1 291.5,226.8 291.6,227.3 291.6,229.5 291.7,230.8 291.8,229.9 291.8,225.8 291.9,221.8 292.0,227.6 292.0,221.7 292.1,226.4 292.1,228.6 292.2,229.6 292.3,233.9 292.3,228.1 292.4,221.7 292.4,231.1 292.5,232.5 292.6,222.1 292.6,231.2 292.7,229.5 292.8,226.6 292.8,229.5 292.9,231.0 292.9,231.2 293.0,233.5 293.1,228.8 293.1,228.9 293.2,238.7 293.2,224.6 293.3,227.8 293.4,227.5 293.4,232.1 293.5,233.5 293.6,223.7 293.6,234.0 293.7,224.3 293.7,239.6 293.8,226.4 293.9,221.1 293.9,228.1 294.0,232.0 294.0,226.2 294.1,229.7 294.2,229.3 294.2,229.6 294.3,232.5 294.4,227.5 294.4,228.0 294.5,224.0 294.5,228.8 294.6,227.4 294.7,232.9 294.7,223.1 294.8,226.5 294.8,231.2 294.9,234.8 295.0,228.6 295.0,224.7 295.1,239.4 295.2,231.8 295.2,232.4 295.3,239.7 295.3,226.3 295.4,230.8 295.5,222.0 295.5,231.6 295.6,231.2 295.6,226.5 295.7,226.2 295.8,229.0 295.8,228.8 295.9,236.1 296.0,228.8 296.0,229.1 296.1,229.1 296.1,223.4 296.2,227.9 296.3,224.4 296.3,230.4 296.4,221.0 296.4,225.4 296.5,231.0 296.6,217.8 296.6,223.7 296.7,234.0 296.8,224.6 296.8,226.3 296.9,231.3 296.9,225.8 297.0,223.2 297.1,236.3 297.1,227.9 297.2,232.2 297.2,227.1 297.3,232.2 297.4,224.9 297.4,224.6 297.5,226.0 297.6,227.7 297.6,227.7 297.7,228.9 297.7,232.0 297.8,228.1 297.9,234.1 297.9,227.7 298.0,233.0 298.0,235.7 298.1,237.4 298.2,222.4 298.2,237.4 298.3,223.3 298.4,236.2 298.4,230.4 298.5,231.9 298.5,226.7 298.6,234.3 298.7,233.3 298.7,227.4 298.8,224.5 298.8,234.1 298.9,234.8 299.0,233.8 299.0,229.1 299.1,230.7 299.2,234.5 299.2,234.1 299.3,235.3 299.3,231.3 299.4,228.0 299.5,232.0 299.5,232.7 299.6,228.7 299.6,232.7 299.7,227.5 299.8,231.9 299.8,228.5 299.9,239.5 300.0,235.8 300.0,232.0 300.1,225.7 300.1,226.1 300.2,233.8 300.3,230.4 300.3,232.3 300.4,224.7 300.4,221.4 300.5,231.6 300.6,230.3 300.6,225.8 300.7,227.9 300.8,234.3 300.8,228.7 300.9,233.5 300.9,237.9 301.0,232.6 301.1,231.8 301.1,228.9 301.2,236.2 301.2,225.5 301.3,226.9 301.4,231.2 301.4,225.4 301.5,235.3 301.5,228.8 301.6,225.7 301.7,226.5 301.7,230.4 301.8,231.5 301.9,223.5 301.9,227.1 302.0,229.6 302.0,240.4 302.1,234.8 302.2,234.4 302.2,227.4 302.3,235.1 302.3,236.6 302.4,234.6 302.5,242.2 302.5,226.2 302.6,227.3 302.7,230.6 302.7,227.7 302.8,231.9 302.8,233.8 302.9,231.6 303.0,232.1 303.0,233.4 303.1,234.9 303.1,229.1 303.2,225.5 303.3,236.6 303.3,229.9 303.4,228.5 303.5,233.0 303.5,230.4 303.6,232.3 303.6,231.5 303.7,234.4 303.8,235.6 303.8,228.6 303.9,227.0 303.9,240.9 304.0,228.1 304.1,225.7 304.1,224.4 304.2,231.9 304.3,229.4 304.3,224.7 304.4,228.2 304.4,227.8 304.5,236.1 304.6,233.4 304.6,232.1 304.7,227.0 304.7,231.4 304.8,234.8 304.9,232.8 304.9,236.4 305.0,228.4 305.1,235.0 305.1,234.1 305.2,230.0 305.2,237.6 305.3,233.7 305.4,235.6 305.4,228.0 305.5,227.9 305.5,231.3 305.6,229.1 305.7,234.8 305.7,234.0 305.8,224.0 305.9,226.5 305.9,227.9 306.0,236.2 306.0,229.8 306.1,229.5 306.2,232.7 306.2,232.5 306.3,236.7 306.3,243.9 306.4,227.3 306.5,238.4 306.5,228.1 306.6,233.9 306.7,230.5 306.7,230.9 306.8,238.0 306.8,234.5 306.9,234.5 307.0,229.5 307.0,239.5 307.1,232.0 307.1,230.1 307.2,232.7 307.3,235.5 307.3,235.8 307.4,238.7 307.5,226.8 307.5,231.1 307.6,239.1 307.6,242.0 307.7,230.3 307.8,232.5 307.8,226.7 307.9,229.6 307.9,229.4 308.0,232.5 308.1,228.2 308.1,236.7 308.2,229.2 308.3,232.0 308.3,236.7 308.4,232.0 308.4,228.1 308.5,233.2 308.6,241.8 308.6,233.5 308.7,235.2 308.7,232.3 308.8,232.3 308.9,235.2 308.9,222.6 309.0,228.2 309.1,230.8 309.1,232.2 309.2,239.1 309.2,243.1 309.3,235.8 309.4,234.9 309.4,236.0 309.5,239.3 309.5,229.4 309.6,231.4 309.7,234.0 309.7,234.6 309.8,225.8 309.9,235.1 309.9,227.1 310.0,236.5 310.0,236.8 310.1,224.4 310.2,235.5 310.2,234.3 310.3,231.0 310.3,237.3 310.4,241.6 310.5,235.5 310.5,227.4 310.6,227.8 310.7,228.9 310.7,229.6 310.8,238.1 310.8,234.8 310.9,233.6 311.0,237.2 311.0,233.8 311.1,233.8 311.1,230.4 311.2,231.3 311.3,233.9 311.3,229.1 311.4,240.4 311.4,234.5 311.5,231.6 311.6,237.7 311.6,229.6 311.7,238.1 311.8,234.2 311.8,241.4 311.9,231.7 311.9,232.3 312.0,230.6 312.1,229.0 312.1,235.3 312.2,228.0 312.2,235.3 312.3,231.5 312.4,239.9 312.4,223.9 312.5,235.7 312.6,234.3 312.6,234.1 312.7,231.6 312.7,241.1 312.8,232.5 312.9,235.8 312.9,233.1 313.0,232.7 313.0,234.5 313.1,236.9 313.2,229.8 313.2,232.4 313.3,228.6 313.4,235.9 313.4,230.9 313.5,231.3 313.5,236.9 313.6,234.3 313.7,236.0 313.7,233.8 313.8,236.0 313.8,234.7 313.9,229.9 314.0,235.6 314.0,233.1 314.1,233.5 314.2,235.6 314.2,232.3 314.3,230.3 314.3,239.2 314.4,241.9 314.5,233.2 314.5,239.1 314.6,236.1 314.6,232.0 314.7,231.3 314.8,233.5 314.8,232.9 314.9,233.3 315.0,234.2 315.0,230.2 315.1,238.1 315.1,230.2 315.2,230.5 315.3,238.4 315.3,237.8 315.4,240.6 315.4,235.3 315.5,232.2 315.6,239.4 315.6,234.4 315.7,234.3 315.8,231.5 315.8,236.5 315.9,221.6 315.9,237.0 316.0,226.9" stroke="#D95319" stroke-width="0.7"/>
</g>
<g stroke="#6a6a6a" stroke-width="1.2" fill="none">
<line x1="33.1" y1="43.3" x2="33.1" y2="267.4"/>
<line x1="32.5" y1="266.8" x2="316.3" y2="266.8"/>
<line x1="33.1" y1="43.80" x2="35.8" y2="43.80"/><line x1="33.1" y1="75.65" x2="35.8" y2="75.65"/><line x1="33.1" y1="107.50" x2="35.8" y2="107.50"/><line x1="33.1" y1="139.35" x2="35.8" y2="139.35"/><line x1="33.1" y1="171.20" x2="35.8" y2="171.20"/><line x1="33.1" y1="203.05" x2="35.8" y2="203.05"/><line x1="33.1" y1="234.90" x2="35.8" y2="234.90"/><line x1="33.1" y1="266.75" x2="35.8" y2="266.75"/><line x1="72.20" y1="266.8" x2="72.20" y2="264.1"/><line x1="120.95" y1="266.8" x2="120.95" y2="264.1"/><line x1="169.70" y1="266.8" x2="169.70" y2="264.1"/><line x1="218.45" y1="266.8" x2="218.45" y2="264.1"/><line x1="267.20" y1="266.8" x2="267.20" y2="264.1"/><line x1="315.95" y1="266.8" x2="315.95" y2="264.1"/>
</g>
<g font-family="Liberation Sans" font-size="9.6" fill="#3a3a3a" text-anchor="end"><text x="29.4" y="47.35">-2</text><text x="29.4" y="79.20">-3</text><text x="29.4" y="111.05">-4</text><text x="29.4" y="142.90">-5</text><text x="29.4" y="174.75">-6</text><text x="29.4" y="206.60">-7</text><text x="29.4" y="238.45">-8</text><text x="29.4" y="270.30">-9</text></g>
<g font-family="Liberation Sans" font-size="9.6" fill="#3a3a3a" text-anchor="middle"><text x="72.20" y="280.3">5</text><text x="120.95" y="280.3">10</text><text x="169.70" y="280.3">15</text><text x="218.45" y="280.3">20</text><text x="267.20" y="280.3">25</text><text x="315.95" y="280.3">30</text></g>
<text x="174" y="291" font-family="Liberation Sans" font-size="9.6" fill="#3a3a3a" text-anchor="middle">Frequency (Hz)</text>
<text transform="translate(16.5,188.7) rotate(-90)" font-family="Liberation Sans" font-size="9.7" fill="#3a3a3a">Power (log[uV<tspan font-size="8.4" dy="-4.6">2</tspan><tspan dy="4.6">]</tspan></text>
<!-- legend -->
<rect x="246.5" y="51.3" width="62.4" height="22.9" fill="#fff" stroke="#444" stroke-width="1"/>
<line x1="248.7" y1="57.3" x2="274.8" y2="57.3" stroke="#3b8fd0" stroke-width="1"/>
<line x1="248.7" y1="68" x2="274.8" y2="68" stroke="#e99a78" stroke-width="1"/>
<g font-family="Liberation Sans" font-size="8" fill="#302a40"><text x="276.6" y="60.3">Heading</text><text x="276.6" y="69.5">Kicking</text></g>
<!-- topo -->
<g clip-path="url(#hc)"><g filter="url(#bl)" shape-rendering="crispEdges">
<rect x="459.08" y="46.66" width="24.61" height="3.77" fill="#6dcc68"/>
<rect x="483.39" y="46.66" width="7.25" height="3.77" fill="#79cc5f"/>
<rect x="490.34" y="46.66" width="3.77" height="3.77" fill="#85cb56"/>
<rect x="493.81" y="46.66" width="3.77" height="3.77" fill="#92ca4c"/>
<rect x="497.28" y="46.66" width="3.77" height="3.77" fill="#9fc843"/>
<rect x="500.75" y="46.66" width="3.77" height="3.77" fill="#acc639"/>
<rect x="504.23" y="46.66" width="3.77" height="3.77" fill="#b8c432"/>
<rect x="507.70" y="46.66" width="3.77" height="3.77" fill="#c4c230"/>
<rect x="511.17" y="46.66" width="7.25" height="3.77" fill="#cfc02f"/>
<rect x="448.66" y="50.14" width="7.25" height="3.77" fill="#79cc5f"/>
<rect x="455.61" y="50.14" width="35.03" height="3.77" fill="#85cb56"/>
<rect x="490.34" y="50.14" width="3.77" height="3.77" fill="#92ca4c"/>
<rect x="493.81" y="50.14" width="3.77" height="3.77" fill="#9fc843"/>
<rect x="497.28" y="50.14" width="3.77" height="3.77" fill="#b8c432"/>
<rect x="500.75" y="50.14" width="3.77" height="3.77" fill="#c4c230"/>
<rect x="504.23" y="50.14" width="3.77" height="3.77" fill="#cfc02f"/>
<rect x="507.70" y="50.14" width="3.77" height="3.77" fill="#dbbd2d"/>
<rect x="511.17" y="50.14" width="3.77" height="3.77" fill="#e5bc2c"/>
<rect x="514.65" y="50.14" width="14.19" height="3.77" fill="#ecbd30"/>
<rect x="441.72" y="53.61" width="3.77" height="3.77" fill="#79cc5f"/>
<rect x="445.19" y="53.61" width="7.25" height="3.77" fill="#85cb56"/>
<rect x="452.14" y="53.61" width="35.03" height="3.77" fill="#92ca4c"/>
<rect x="486.86" y="53.61" width="3.77" height="3.77" fill="#9fc843"/>
<rect x="490.34" y="53.61" width="3.77" height="3.77" fill="#acc639"/>
<rect x="493.81" y="53.61" width="3.77" height="3.77" fill="#b8c432"/>
<rect x="497.28" y="53.61" width="3.77" height="3.77" fill="#c4c230"/>
<rect x="500.75" y="53.61" width="3.77" height="3.77" fill="#dbbd2d"/>
<rect x="504.23" y="53.61" width="3.77" height="3.77" fill="#e5bc2c"/>
<rect x="507.70" y="53.61" width="3.77" height="3.77" fill="#f3bf34"/>
<rect x="511.17" y="53.61" width="3.77" height="3.77" fill="#fac037"/>
<rect x="514.65" y="53.61" width="10.72" height="3.77" fill="#fec339"/>
<rect x="525.06" y="53.61" width="7.25" height="3.77" fill="#fac037"/>
<rect x="532.01" y="53.61" width="3.77" height="3.77" fill="#ecbd30"/>
<rect x="434.77" y="57.08" width="3.77" height="3.77" fill="#79cc5f"/>
<rect x="438.25" y="57.08" width="3.77" height="3.77" fill="#85cb56"/>
<rect x="441.72" y="57.08" width="7.25" height="3.77" fill="#92ca4c"/>
<rect x="448.66" y="57.08" width="3.77" height="3.77" fill="#9fc843"/>
<rect x="452.14" y="57.08" width="38.50" height="3.77" fill="#acc639"/>
<rect x="490.34" y="57.08" width="3.77" height="3.77" fill="#b8c432"/>
<rect x="493.81" y="57.08" width="3.77" height="3.77" fill="#c4c230"/>
<rect x="497.28" y="57.08" width="3.77" height="3.77" fill="#dbbd2d"/>
<rect x="500.75" y="57.08" width="3.77" height="3.77" fill="#e5bc2c"/>
<rect x="504.23" y="57.08" width="3.77" height="3.77" fill="#f3bf34"/>
<rect x="507.70" y="57.08" width="3.77" height="3.77" fill="#fac037"/>
<rect x="511.17" y="57.08" width="3.77" height="3.77" fill="#fcc935"/>
<rect x="514.65" y="57.08" width="14.19" height="3.77" fill="#fbcf31"/>
<rect x="528.54" y="57.08" width="3.77" height="3.77" fill="#fcc935"/>
<rect x="532.01" y="57.08" width="3.77" height="3.77" fill="#fec339"/>
<rect x="535.48" y="57.08" width="3.77" height="3.77" fill="#fac037"/>
<rect x="538.95" y="57.08" width="3.77" height="3.77" fill="#ecbd30"/>
<rect x="542.43" y="57.08" width="3.77" height="3.77" fill="#dbbd2d"/>
<rect x="427.83" y="60.55" width="3.77" height="3.77" fill="#6dcc68"/>
<rect x="431.30" y="60.55" width="3.77" height="3.77" fill="#79cc5f"/>
<rect x="434.77" y="60.55" width="3.77" height="3.77" fill="#85cb56"/>
<rect x="438.25" y="60.55" width="3.77" height="3.77" fill="#92ca4c"/>
<rect x="441.72" y="60.55" width="3.77" height="3.77" fill="#9fc843"/>
<rect x="445.19" y="60.55" width="3.77" height="3.77" fill="#acc639"/>
<rect x="448.66" y="60.55" width="7.25" height="3.77" fill="#b8c432"/>
<rect x="455.61" y="60.55" width="14.19" height="3.77" fill="#c4c230"/>
<rect x="469.50" y="60.55" width="21.14" height="3.77" fill="#b8c432"/>
<rect x="490.34" y="60.55" width="3.77" height="3.77" fill="#c4c230"/>
<rect x="493.81" y="60.55" width="3.77" height="3.77" fill="#cfc02f"/>
<rect x="497.28" y="60.55" width="3.77" height="3.77" fill="#e5bc2c"/>
<rect x="500.75" y="60.55" width="3.77" height="3.77" fill="#ecbd30"/>
<rect x="504.23" y="60.55" width="3.77" height="3.77" fill="#fac037"/>
<rect x="507.70" y="60.55" width="3.77" height="3.77" fill="#fcc935"/>
<rect x="511.17" y="60.55" width="3.77" height="3.77" fill="#fbcf31"/>
<rect x="514.65" y="60.55" width="3.77" height="3.77" fill="#f9d52e"/>
<rect x="518.12" y="60.55" width="10.72" height="3.77" fill="#f8dc2a"/>
<rect x="528.54" y="60.55" width="3.77" height="3.77" fill="#f9d52e"/>
<rect x="532.01" y="60.55" width="3.77" height="3.77" fill="#fbcf31"/>
<rect x="535.48" y="60.55" width="3.77" height="3.77" fill="#fcc935"/>
<rect x="538.95" y="60.55" width="3.77" height="3.77" fill="#fac037"/>
<rect x="542.43" y="60.55" width="3.77" height="3.77" fill="#ecbd30"/>
<rect x="545.90" y="60.55" width="3.77" height="3.77" fill="#dbbd2d"/>
<rect x="420.88" y="64.03" width="3.77" height="3.77" fill="#6dcc68"/>
<rect x="424.35" y="64.03" width="7.25" height="3.77" fill="#79cc5f"/>
<rect x="431.30" y="64.03" width="3.77" height="3.77" fill="#92ca4c"/>
<rect x="434.77" y="64.03" width="3.77" height="3.77" fill="#9fc843"/>
<rect x="438.25" y="64.03" width="3.77" height="3.77" fill="#acc639"/>
<rect x="441.72" y="64.03" width="3.77" height="3.77" fill="#b8c432"/>
<rect x="445.19" y="64.03" width="7.25" height="3.77" fill="#c4c230"/>
<rect x="452.14" y="64.03" width="21.14" height="3.77" fill="#cfc02f"/>
<rect x="472.97" y="64.03" width="17.66" height="3.77" fill="#c4c230"/>
<rect x="490.34" y="64.03" width="3.77" height="3.77" fill="#cfc02f"/>
<rect x="493.81" y="64.03" width="3.77" height="3.77" fill="#dbbd2d"/>
<rect x="497.28" y="64.03" width="3.77" height="3.77" fill="#e5bc2c"/>
<rect x="500.75" y="64.03" width="3.77" height="3.77" fill="#f3bf34"/>
<rect x="504.23" y="64.03" width="3.77" height="3.77" fill="#fac037"/>
<rect x="507.70" y="64.03" width="3.77" height="3.77" fill="#fcc935"/>
<rect x="511.17" y="64.03" width="3.77" height="3.77" fill="#f9d52e"/>
<rect x="514.65" y="64.03" width="3.77" height="3.77" fill="#f8dc2a"/>
<rect x="518.12" y="64.03" width="3.77" height="3.77" fill="#f8e524"/>
<rect x="521.59" y="64.03" width="7.25" height="3.77" fill="#f9ee1e"/>
<rect x="528.54" y="64.03" width="3.77" height="3.77" fill="#f8e524"/>
<rect x="532.01" y="64.03" width="3.77" height="3.77" fill="#f8dc2a"/>
<rect x="535.48" y="64.03" width="3.77" height="3.77" fill="#f9d52e"/>
<rect x="538.95" y="64.03" width="3.77" height="3.77" fill="#fcc935"/>
<rect x="542.43" y="64.03" width="3.77" height="3.77" fill="#fac037"/>
<rect x="545.90" y="64.03" width="3.77" height="3.77" fill="#ecbd30"/>
<rect x="549.37" y="64.03" width="3.77" height="3.77" fill="#dbbd2d"/>
<rect x="552.85" y="64.03" width="3.77" height="3.77" fill="#c4c230"/>
<rect x="417.41" y="67.50" width="7.25" height="3.77" fill="#6dcc68"/>
<rect x="424.35" y="67.50" width="3.77" height="3.77" fill="#79cc5f"/>
<rect x="427.83" y="67.50" width="3.77" height="3.77" fill="#92ca4c"/>
<rect x="431.30" y="67.50" width="3.77" height="3.77" fill="#9fc843"/>
<rect x="434.77" y="67.50" width="3.77" height="3.77" fill="#acc639"/>
<rect x="438.25" y="67.50" width="3.77" height="3.77" fill="#b8c432"/>
<rect x="441.72" y="67.50" width="3.77" height="3.77" fill="#c4c230"/>
<rect x="445.19" y="67.50" width="3.77" height="3.77" fill="#cfc02f"/>
<rect x="448.66" y="67.50" width="3.77" height="3.77" fill="#dbbd2d"/>
<rect x="452.14" y="67.50" width="14.19" height="3.77" fill="#e5bc2c"/>
<rect x="466.03" y="67.50" width="7.25" height="3.77" fill="#dbbd2d"/>
<rect x="472.97" y="67.50" width="7.25" height="3.77" fill="#cfc02f"/>
<rect x="479.92" y="67.50" width="10.72" height="3.77" fill="#c4c230"/>
<rect x="490.34" y="67.50" width="3.77" height="3.77" fill="#cfc02f"/>
<rect x="493.81" y="67.50" width="3.77" height="3.77" fill="#dbbd2d"/>
<rect x="497.28" y="67.50" width="3.77" height="3.77" fill="#e5bc2c"/>
<rect x="500.75" y="67.50" width="3.77" height="3.77" fill="#ecbd30"/>
<rect x="504.23" y="67.50" width="3.77" height="3.77" fill="#fac037"/>
<rect x="507.70" y="67.50" width="3.77" height="3.77" fill="#fcc935"/>
<rect x="511.17" y="67.50" width="3.77" height="3.77" fill="#f9d52e"/>
<rect x="514.65" y="67.50" width="3.77" height="3.77" fill="#f8e524"/>
<rect x="518.12" y="67.50" width="3.77" height="3.77" fill="#f9ee1e"/>
<rect x="521.59" y="67.50" width="10.72" height="3.77" fill="#f9f618"/>
<rect x="532.01" y="67.50" width="3.77" height="3.77" fill="#f9ee1e"/>
<rect x="535.48" y="67.50" width="3.77" height="3.77" fill="#f8e524"/>
<rect x="538.95" y="67.50" width="3.77" height="3.77" fill="#f9d52e"/>
<rect x="542.43" y="67.50" width="3.77" height="3.77" fill="#fcc935"/>
<rect x="545.90" y="67.50" width="3.77" height="3.77" fill="#fac037"/>
<rect x="549.37" y="67.50" width="3.77" height="3.77" fill="#e5bc2c"/>
<rect x="552.85" y="67.50" width="3.77" height="3.77" fill="#cfc02f"/>
<rect x="556.32" y="67.50" width="3.77" height="3.77" fill="#b8c432"/>
<rect x="413.94" y="70.97" width="3.77" height="3.77" fill="#61cc72"/>
<rect x="417.41" y="70.97" width="3.77" height="3.77" fill="#6dcc68"/>
<rect x="420.88" y="70.97" width="3.77" height="3.77" fill="#79cc5f"/>
<rect x="424.35" y="70.97" width="3.77" height="3.77" fill="#85cb56"/>
<rect x="427.83" y="70.97" width="3.77" height="3.77" fill="#9fc843"/>
<rect x="431.30" y="70.97" width="3.77" height="3.77" fill="#acc639"/>
<rect x="434.77" y="70.97" width="3.77" height="3.77" fill="#b8c432"/>
<rect x="438.25" y="70.97" width="3.77" height="3.77" fill="#cfc02f"/>
<rect x="441.72" y="70.97" width="3.77" height="3.77" fill="#dbbd2d"/>
<rect x="445.19" y="70.97" width="3.77" height="3.77" fill="#e5bc2c"/>
<rect x="448.66" y="70.97" width="17.66" height="3.77" fill="#ecbd30"/>
<rect x="466.03" y="70.97" width="7.25" height="3.77" fill="#e5bc2c"/>
<rect x="472.97" y="70.97" width="3.77" height="3.77" fill="#dbbd2d"/>
<rect x="476.45" y="70.97" width="3.77" height="3.77" fill="#cfc02f"/>
<rect x="479.92" y="70.97" width="14.19" height="3.77" fill="#c4c230"/>
<rect x="493.81" y="70.97" width="3.77" height="3.77" fill="#cfc02f"/>
<rect x="497.28" y="70.97" width="3.77" height="3.77" fill="#dbbd2d"/>
<rect x="500.75" y="70.97" width="3.77" height="3.77" fill="#ecbd30"/>
<rect x="504.23" y="70.97" width="3.77" height="3.77" fill="#fac037"/>
<rect x="507.70" y="70.97" width="3.77" height="3.77" fill="#fcc935"/>
<rect x="511.17" y="70.97" width="3.77" height="3.77" fill="#f9d52e"/>
<rect x="514.65" y="70.97" width="3.77" height="3.77" fill="#f8e524"/>
<rect x="518.12" y="70.97" width="3.77" height="3.77" fill="#f9ee1e"/>
<rect x="521.59" y="70.97" width="14.19" height="3.77" fill="#f9f618"/>
<rect x="535.48" y="70.97" width="3.77" height="3.77" fill="#f9ee1e"/>
<rect x="538.95" y="70.97" width="3.77" height="3.77" fill="#f8dc2a"/>
<rect x="542.43" y="70.97" width="3.77" height="3.77" fill="#fbcf31"/>
<rect x="545.90" y="70.97" width="3.77" height="3.77" fill="#fec339"/>
<rect x="549.37" y="70.97" width="3.77" height="3.77" fill="#f3bf34"/>
<rect x="552.85" y="70.97" width="3.77" height="3.77" fill="#dbbd2d"/>
<rect x="556.32" y="70.97" width="3.77" height="3.77" fill="#c4c230"/>
<rect x="559.79" y="70.97" width="3.77" height="3.77" fill="#9fc843"/>
<rect x="406.99" y="74.45" width="3.77" height="3.77" fill="#55cc7b"/>
<rect x="410.46" y="74.45" width="3.77" height="3.77" fill="#61cc72"/>
<rect x="413.94" y="74.45" width="3.77" height="3.77" fill="#6dcc68"/>
<rect x="417.41" y="74.45" width="3.77" height="3.77" fill="#79cc5f"/>
<rect x="420.88" y="74.45" width="3.77" height="3.77" fill="#85cb56"/>
<rect x="424.35" y="74.45" width="3.77" height="3.77" fill="#92ca4c"/>
<rect x="427.83" y="74.45" width="3.77" height="3.77" fill="#acc639"/>
<rect x="431.30" y="74.45" width="3.77" height="3.77" fill="#b8c432"/>
<rect x="434.77" y="74.45" width="3.77" height="3.77" fill="#cfc02f"/>
<rect x="438.25" y="74.45" width="3.77" height="3.77" fill="#dbbd2d"/>
<rect x="441.72" y="74.45" width="3.77" height="3.77" fill="#e5bc2c"/>
<rect x="445.19" y="74.45" width="3.77" height="3.77" fill="#ecbd30"/>
<rect x="448.66" y="74.45" width="7.25" height="3.77" fill="#f3bf34"/>
<rect x="455.61" y="74.45" width="3.77" height="3.77" fill="#fac037"/>
<rect x="459.08" y="74.45" width="7.25" height="3.77" fill="#f3bf34"/>
<rect x="466.03" y="74.45" width="3.77" height="3.77" fill="#ecbd30"/>
<rect x="469.50" y="74.45" width="3.77" height="3.77" fill="#e5bc2c"/>
<rect x="472.97" y="74.45" width="3.77" height="3.77" fill="#dbbd2d"/>
<rect x="476.45" y="74.45" width="3.77" height="3.77" fill="#cfc02f"/>
<rect x="479.92" y="74.45" width="14.19" height="3.77" fill="#c4c230"/>
<rect x="493.81" y="74.45" width="3.77" height="3.77" fill="#cfc02f"/>
<rect x="497.28" y="74.45" width="3.77" height="3.77" fill="#dbbd2d"/>
<rect x="500.75" y="74.45" width="3.77" height="3.77" fill="#e5bc2c"/>
<rect x="504.23" y="74.45" width="3.77" height="3.77" fill="#f3bf34"/>
<rect x="507.70" y="74.45" width="3.77" height="3.77" fill="#fec339"/>
<rect x="511.17" y="74.45" width="3.77" height="3.77" fill="#fbcf31"/>
<rect x="514.65" y="74.45" width="3.77" height="3.77" fill="#f8dc2a"/>
<rect x="518.12" y="74.45" width="3.77" height="3.77" fill="#f9ee1e"/>
<rect x="521.59" y="74.45" width="17.66" height="3.77" fill="#f9f618"/>
<rect x="538.95" y="74.45" width="3.77" height="3.77" fill="#f8e524"/>
<rect x="542.43" y="74.45" width="3.77" height="3.77" fill="#f8dc2a"/>
<rect x="545.90" y="74.45" width="3.77" height="3.77" fill="#fcc935"/>
<rect x="549.37" y="74.45" width="3.77" height="3.77" fill="#fac037"/>
<rect x="552.85" y="74.45" width="3.77" height="3.77" fill="#e5bc2c"/>
<rect x="556.32" y="74.45" width="3.77" height="3.77" fill="#cfc02f"/>
<rect x="559.79" y="74.45" width="3.77" height="3.77" fill="#acc639"/>
<rect x="563.26" y="74.45" width="3.77" height="3.77" fill="#92ca4c"/>
<rect x="566.74" y="74.45" width="3.77" height="3.77" fill="#79cc5f"/>
<rect x="403.52" y="77.92" width="3.77" height="3.77" fill="#55cc7b"/>
<rect x="406.99" y="77.92" width="3.77" height="3.77" fill="#61cc72"/>
<rect x="410.46" y="77.92" width="3.77" height="3.77" fill="#6dcc68"/>
<rect x="413.94" y="77.92" width="3.77" height="3.77" fill="#79cc5f"/>
<rect x="417.41" y="77.92" width="3.77" height="3.77" fill="#85cb56"/>
<rect x="420.88" y="77.92" width="3.77" height="3.77" fill="#92ca4c"/>
<rect x="424.35" y="77.92" width="3.77" height="3.77" fill="#9fc843"/>
<rect x="427.83" y="77.92" width="3.77" height="3.77" fill="#b8c432"/>
<rect x="431.30" y="77.92" width="3.77" height="3.77" fill="#c4c230"/>
<rect x="434.77" y="77.92" width="3.77" height="3.77" fill="#dbbd2d"/>
<rect x="438.25" y="77.92" width="3.77" height="3.77" fill="#e5bc2c"/>
<rect x="441.72" y="77.92" width="3.77" height="3.77" fill="#f3bf34"/>
<rect x="445.19" y="77.92" width="7.25" height="3.77" fill="#fac037"/>
<rect x="452.14" y="77.92" width="3.77" height="3.77" fill="#fec339"/>
<rect x="455.61" y="77.92" width="7.25" height="3.77" fill="#fac037"/>
<rect x="462.55" y="77.92" width="3.77" height="3.77" fill="#f3bf34"/>
<rect x="466.03" y="77.92" width="3.77" height="3.77" fill="#ecbd30"/>
<rect x="469.50" y="77.92" width="3.77" height="3.77" fill="#e5bc2c"/>
<rect x="472.97" y="77.92" width="3.77" height="3.77" fill="#dbbd2d"/>
<rect x="476.45" y="77.92" width="3.77" height="3.77" fill="#cfc02f"/>
<rect x="479.92" y="77.92" width="3.77" height="3.77" fill="#c4c230"/>
<rect x="483.39" y="77.92" width="10.72" height="3.77" fill="#b8c432"/>
<rect x="493.81" y="77.92" width="3.77" height="3.77" fill="#c4c230"/>
<rect x="497.28" y="77.92" width="3.77" height="3.77" fill="#cfc02f"/>
<rect x="500.75" y="77.92" width="3.77" height="3.77" fill="#dbbd2d"/>
<rect x="504.23" y="77.92" width="3.77" height="3.77" fill="#ecbd30"/>
<rect x="507.70" y="77.92" width="3.77" height="3.77" fill="#fac037"/>
<rect x="511.17" y="77.92" width="3.77" height="3.77" fill="#fcc935"/>
<rect x="514.65" y="77.92" width="3.77" height="3.77" fill="#f9d52e"/>
<rect x="518.12" y="77.92" width="3.77" height="3.77" fill="#f8e524"/>
<rect x="521.59" y="77.92" width="3.77" height="3.77" fill="#f9ee1e"/>
<rect x="525.06" y="77.92" width="14.19" height="3.77" fill="#f9f618"/>
<rect x="538.95" y="77.92" width="3.77" height="3.77" fill="#f9ee1e"/>
<rect x="542.43" y="77.92" width="3.77" height="3.77" fill="#f8dc2a"/>
<rect x="545.90" y="77.92" width="3.77" height="3.77" fill="#fbcf31"/>
<rect x="549.37" y="77.92" width="3.77" height="3.77" fill="#fec339"/>
<rect x="552.85" y="77.92" width="3.77" height="3.77" fill="#ecbd30"/>
<rect x="556.32" y="77.92" width="3.77" height="3.77" fill="#dbbd2d"/>
<rect x="559.79" y="77.92" width="3.77" height="3.77" fill="#b8c432"/>
<rect x="563.26" y="77.92" width="3.77" height="3.77" fill="#9fc843"/>
<rect x="566.74" y="77.92" width="3.77" height="3.77" fill="#85cb56"/>
<rect x="570.21" y="77.92" width="3.77" height="3.77" fill="#6dcc68"/>
<rect x="400.05" y="81.39" width="7.25" height="3.77" fill="#55cc7b"/>
<rect x="406.99" y="81.39" width="3.77" height="3.77" fill="#61cc72"/>
<rect x="410.46" y="81.39" width="3.77" height="3.77" fill="#6dcc68"/>
<rect x="413.94" y="81.39" width="3.77" height="3.77" fill="#79cc5f"/>
<rect x="417.41" y="81.39" width="3.77" height="3.77" fill="#85cb56"/>
<rect x="420.88" y="81.39" width="3.77" height="3.77" fill="#9fc843"/>
<rect x="424.35" y="81.39" width="3.77" height="3.77" fill="#acc639"/>
<rect x="427.83" y="81.39" width="3.77" height="3.77" fill="#c4c230"/>
<rect x="431.30" y="81.39" width="3.77" height="3.77" fill="#dbbd2d"/>
<rect x="434.77" y="81.39" width="3.77" height="3.77" fill="#e5bc2c"/>
<rect x="438.25" y="81.39" width="3.77" height="3.77" fill="#f3bf34"/>
<rect x="441.72" y="81.39" width="3.77" height="3.77" fill="#fac037"/>
<rect x="445.19" y="81.39" width="17.66" height="3.77" fill="#fec339"/>
<rect x="462.55" y="81.39" width="3.77" height="3.77" fill="#fac037"/>
<rect x="466.03" y="81.39" width="3.77" height="3.77" fill="#f3bf34"/>
<rect x="469.50" y="81.39" width="3.77" height="3.77" fill="#e5bc2c"/>
<rect x="472.97" y="81.39" width="3.77" height="3.77" fill="#dbbd2d"/>
<rect x="476.45" y="81.39" width="3.77" height="3.77" fill="#cfc02f"/>
<rect x="479.92" y="81.39" width="3.77" height="3.77" fill="#c4c230"/>
<rect x="483.39" y="81.39" width="3.77" height="3.77" fill="#b8c432"/>
<rect x="486.86" y="81.39" width="10.72" height="3.77" fill="#acc639"/>
<rect x="497.28" y="81.39" width="3.77" height="3.77" fill="#b8c432"/>
<rect x="500.75" y="81.39" width="3.77" height="3.77" fill="#c4c230"/>
<rect x="504.23" y="81.39" width="3.77" height="3.77" fill="#dbbd2d"/>
<rect x="507.70" y="81.39" width="3.77" height="3.77" fill="#ecbd30"/>
<rect x="511.17" y="81.39" width="3.77" height="3.77" fill="#fac037"/>
<rect x="514.65" y="81.39" width="3.77" height="3.77" fill="#fcc935"/>
<rect x="518.12" y="81.39" width="3.77" height="3.77" fill="#f9d52e"/>
<rect x="521.59" y="81.39" width="3.77" height="3.77" fill="#f8e524"/>
<rect x="525.06" y="81.39" width="3.77" height="3.77" fill="#f9ee1e"/>
<rect x="528.54" y="81.39" width="10.72" height="3.77" fill="#f9f618"/>
<rect x="538.95" y="81.39" width="3.77" height="3.77" fill="#f9ee1e"/>
<rect x="542.43" y="81.39" width="3.77" height="3.77" fill="#f8dc2a"/>
<rect x="545.90" y="81.39" width="3.77" height="3.77" fill="#f9d52e"/>
<rect x="549.37" y="81.39" width="3.77" height="3.77" fill="#fec339"/>
<rect x="552.85" y="81.39" width="3.77" height="3.77" fill="#f3bf34"/>
<rect x="556.32" y="81.39" width="3.77" height="3.77" fill="#dbbd2d"/>
<rect x="559.79" y="81.39" width="3.77" height="3.77" fill="#c4c230"/>
<rect x="563.26" y="81.39" width="3.77" height="3.77" fill="#9fc843"/>
<rect x="566.74" y="81.39" width="3.77" height="3.77" fill="#85cb56"/>
<rect x="570.21" y="81.39" width="3.77" height="3.77" fill="#6dcc68"/>
<rect x="573.68" y="81.39" width="3.77" height="3.77" fill="#61cc72"/>
<rect x="400.05" y="84.86" width="3.77" height="3.77" fill="#55cc7b"/>
<rect x="403.52" y="84.86" width="3.77" height="3.77" fill="#61cc72"/>
<rect x="406.99" y="84.86" width="3.77" height="3.77" fill="#6dcc68"/>
<rect x="410.46" y="84.86" width="3.77" height="3.77" fill="#79cc5f"/>
<rect x="413.94" y="84.86" width="3.77" height="3.77" fill="#85cb56"/>
<rect x="417.41" y="84.86" width="3.77" height="3.77" fill="#92ca4c"/>
<rect x="420.88" y="84.86" width="3.77" height="3.77" fill="#acc639"/>
<rect x="424.35" y="84.86" width="3.77" height="3.77" fill="#b8c432"/>
<rect x="427.83" y="84.86" width="3.77" height="3.77" fill="#cfc02f"/>
<rect x="431.30" y="84.86" width="3.77" height="3.77" fill="#e5bc2c"/>
<rect x="434.77" y="84.86" width="3.77" height="3.77" fill="#ecbd30"/>
<rect x="438.25" y="84.86" width="3.77" height="3.77" fill="#fac037"/>
<rect x="441.72" y="84.86" width="3.77" height="3.77" fill="#fec339"/>
<rect x="445.19" y="84.86" width="14.19" height="3.77" fill="#fcc935"/>
<rect x="459.08" y="84.86" width="3.77" height="3.77" fill="#fec339"/>
<rect x="462.55" y="84.86" width="3.77" height="3.77" fill="#fac037"/>
<rect x="466.03" y="84.86" width="3.77" height="3.77" fill="#f3bf34"/>
<rect x="469.50" y="84.86" width="3.77" height="3.77" fill="#e5bc2c"/>
<rect x="472.97" y="84.86" width="3.77" height="3.77" fill="#dbbd2d"/>
<rect x="476.45" y="84.86" width="3.77" height="3.77" fill="#c4c230"/>
<rect x="479.92" y="84.86" width="3.77" height="3.77" fill="#b8c432"/>
<rect x="483.39" y="84.86" width="3.77" height="3.77" fill="#acc639"/>
<rect x="486.86" y="84.86" width="14.19" height="3.77" fill="#9fc843"/>
<rect x="500.75" y="84.86" width="3.77" height="3.77" fill="#acc639"/>
<rect x="504.23" y="84.86" width="3.77" height="3.77" fill="#c4c230"/>
<rect x="507.70" y="84.86" width="3.77" height="3.77" fill="#dbbd2d"/>
<rect x="511.17" y="84.86" width="3.77" height="3.77" fill="#ecbd30"/>
<rect x="514.65" y="84.86" width="3.77" height="3.77" fill="#fac037"/>
<rect x="518.12" y="84.86" width="3.77" height="3.77" fill="#fcc935"/>
<rect x="521.59" y="84.86" width="3.77" height="3.77" fill="#f9d52e"/>
<rect x="525.06" y="84.86" width="3.77" height="3.77" fill="#f8e524"/>
<rect x="528.54" y="84.86" width="14.19" height="3.77" fill="#f9ee1e"/>
<rect x="542.43" y="84.86" width="3.77" height="3.77" fill="#f8dc2a"/>
<rect x="545.90" y="84.86" width="3.77" height="3.77" fill="#f9d52e"/>
<rect x="549.37" y="84.86" width="3.77" height="3.77" fill="#fcc935"/>
<rect x="552.85" y="84.86" width="3.77" height="3.77" fill="#fac037"/>
<rect x="556.32" y="84.86" width="3.77" height="3.77" fill="#e5bc2c"/>
<rect x="559.79" y="84.86" width="3.77" height="3.77" fill="#c4c230"/>
<rect x="563.26" y="84.86" width="3.77" height="3.77" fill="#acc639"/>
<rect x="566.74" y="84.86" width="3.77" height="3.77" fill="#85cb56"/>
<rect x="570.21" y="84.86" width="3.77" height="3.77" fill="#6dcc68"/>
<rect x="573.68" y="84.86" width="3.77" height="3.77" fill="#61cc72"/>
<rect x="396.57" y="88.34" width="7.25" height="3.77" fill="#55cc7b"/>
<rect x="403.52" y="88.34" width="3.77" height="3.77" fill="#61cc72"/>
<rect x="406.99" y="88.34" width="3.77" height="3.77" fill="#6dcc68"/>
<rect x="410.46" y="88.34" width="3.77" height="3.77" fill="#79cc5f"/>
<rect x="413.94" y="88.34" width="3.77" height="3.77" fill="#85cb56"/>
<rect x="417.41" y="88.34" width="3.77" height="3.77" fill="#9fc843"/>
<rect x="420.88" y="88.34" width="3.77" height="3.77" fill="#b8c432"/>
<rect x="424.35" y="88.34" width="3.77" height="3.77" fill="#c4c230"/>
<rect x="427.83" y="88.34" width="3.77" height="3.77" fill="#dbbd2d"/>
<rect x="431.30" y="88.34" width="3.77" height="3.77" fill="#ecbd30"/>
<rect x="434.77" y="88.34" width="3.77" height="3.77" fill="#f3bf34"/>
<rect x="438.25" y="88.34" width="3.77" height="3.77" fill="#fec339"/>
<rect x="441.72" y="88.34" width="7.25" height="3.77" fill="#fcc935"/>
<rect x="448.66" y="88.34" width="7.25" height="3.77" fill="#fbcf31"/>
<rect x="455.61" y="88.34" width="3.77" height="3.77" fill="#fcc935"/>
<rect x="459.08" y="88.34" width="3.77" height="3.77" fill="#fec339"/>
<rect x="462.55" y="88.34" width="3.77" height="3.77" fill="#fac037"/>
<rect x="466.03" y="88.34" width="3.77" height="3.77" fill="#ecbd30"/>
<rect x="469.50" y="88.34" width="3.77" height="3.77" fill="#e5bc2c"/>
<rect x="472.97" y="88.34" width="3.77" height="3.77" fill="#cfc02f"/>
<rect x="476.45" y="88.34" width="3.77" height="3.77" fill="#b8c432"/>
<rect x="479.92" y="88.34" width="3.77" height="3.77" fill="#acc639"/>
<rect x="483.39" y="88.34" width="3.77" height="3.77" fill="#9fc843"/>
<rect x="486.86" y="88.34" width="3.77" height="3.77" fill="#92ca4c"/>
<rect x="490.34" y="88.34" width="10.72" height="3.77" fill="#85cb56"/>
<rect x="500.75" y="88.34" width="3.77" height="3.77" fill="#92ca4c"/>
<rect x="504.23" y="88.34" width="3.77" height="3.77" fill="#acc639"/>
<rect x="507.70" y="88.34" width="3.77" height="3.77" fill="#b8c432"/>
<rect x="511.17" y="88.34" width="3.77" height="3.77" fill="#dbbd2d"/>
<rect x="514.65" y="88.34" width="3.77" height="3.77" fill="#ecbd30"/>
<rect x="518.12" y="88.34" width="3.77" height="3.77" fill="#fac037"/>
<rect x="521.59" y="88.34" width="3.77" height="3.77" fill="#fcc935"/>
<rect x="525.06" y="88.34" width="3.77" height="3.77" fill="#f9d52e"/>
<rect x="528.54" y="88.34" width="3.77" height="3.77" fill="#f8dc2a"/>
<rect x="532.01" y="88.34" width="10.72" height="3.77" fill="#f8e524"/>
<rect x="542.43" y="88.34" width="3.77" height="3.77" fill="#f8dc2a"/>
<rect x="545.90" y="88.34" width="3.77" height="3.77" fill="#f9d52e"/>
<rect x="549.37" y="88.34" width="3.77" height="3.77" fill="#fcc935"/>
<rect x="552.85" y="88.34" width="3.77" height="3.77" fill="#fac037"/>
<rect x="556.32" y="88.34" width="3.77" height="3.77" fill="#ecbd30"/>
<rect x="559.79" y="88.34" width="3.77" height="3.77" fill="#cfc02f"/>
<rect x="563.26" y="88.34" width="3.77" height="3.77" fill="#acc639"/>
<rect x="566.74" y="88.34" width="3.77" height="3.77" fill="#92ca4c"/>
<rect x="570.21" y="88.34" width="3.77" height="3.77" fill="#79cc5f"/>
<rect x="573.68" y="88.34" width="3.77" height="3.77" fill="#61cc72"/>
<rect x="577.15" y="88.34" width="3.77" height="3.77" fill="#4ccb84"/>
<rect x="393.10" y="91.81" width="3.77" height="3.77" fill="#4ccb84"/>
<rect x="396.57" y="91.81" width="7.25" height="3.77" fill="#55cc7b"/>
<rect x="403.52" y="91.81" width="3.77" height="3.77" fill="#61cc72"/>
<rect x="406.99" y="91.81" width="3.77" height="3.77" fill="#6dcc68"/>
<rect x="410.46" y="91.81" width="3.77" height="3.77" fill="#85cb56"/>
<rect x="413.94" y="91.81" width="3.77" height="3.77" fill="#92ca4c"/>
<rect x="417.41" y="91.81" width="3.77" height="3.77" fill="#acc639"/>
<rect x="420.88" y="91.81" width="3.77" height="3.77" fill="#c4c230"/>
<rect x="424.35" y="91.81" width="3.77" height="3.77" fill="#dbbd2d"/>
<rect x="427.83" y="91.81" width="3.77" height="3.77" fill="#e5bc2c"/>
<rect x="431.30" y="91.81" width="3.77" height="3.77" fill="#f3bf34"/>
<rect x="434.77" y="91.81" width="3.77" height="3.77" fill="#fec339"/>
<rect x="438.25" y="91.81" width="3.77" height="3.77" fill="#fcc935"/>
<rect x="441.72" y="91.81" width="14.19" height="3.77" fill="#fbcf31"/>
<rect x="455.61" y="91.81" width="3.77" height="3.77" fill="#fcc935"/>
<rect x="459.08" y="91.81" width="3.77" height="3.77" fill="#fec339"/>
<rect x="462.55" y="91.81" width="3.77" height="3.77" fill="#fac037"/>
<rect x="466.03" y="91.81" width="3.77" height="3.77" fill="#ecbd30"/>
<rect x="469.50" y="91.81" width="3.77" height="3.77" fill="#dbbd2d"/>
<rect x="472.97" y="91.81" width="3.77" height="3.77" fill="#c4c230"/>
<rect x="476.45" y="91.81" width="3.77" height="3.77" fill="#acc639"/>
<rect x="479.92" y="91.81" width="3.77" height="3.77" fill="#9fc843"/>
<rect x="483.39" y="91.81" width="3.77" height="3.77" fill="#85cb56"/>
<rect x="486.86" y="91.81" width="3.77" height="3.77" fill="#79cc5f"/>
<rect x="490.34" y="91.81" width="10.72" height="3.77" fill="#6dcc68"/>
<rect x="500.75" y="91.81" width="3.77" height="3.77" fill="#79cc5f"/>
<rect x="504.23" y="91.81" width="3.77" height="3.77" fill="#85cb56"/>
<rect x="507.70" y="91.81" width="3.77" height="3.77" fill="#9fc843"/>
<rect x="511.17" y="91.81" width="3.77" height="3.77" fill="#b8c432"/>
<rect x="514.65" y="91.81" width="3.77" height="3.77" fill="#cfc02f"/>
<rect x="518.12" y="91.81" width="3.77" height="3.77" fill="#ecbd30"/>
<rect x="521.59" y="91.81" width="3.77" height="3.77" fill="#fac037"/>
<rect x="525.06" y="91.81" width="3.77" height="3.77" fill="#fcc935"/>
<rect x="528.54" y="91.81" width="3.77" height="3.77" fill="#fbcf31"/>
<rect x="532.01" y="91.81" width="3.77" height="3.77" fill="#f9d52e"/>
<rect x="535.48" y="91.81" width="10.72" height="3.77" fill="#f8dc2a"/>
<rect x="545.90" y="91.81" width="3.77" height="3.77" fill="#f9d52e"/>
<rect x="549.37" y="91.81" width="3.77" height="3.77" fill="#fcc935"/>
<rect x="552.85" y="91.81" width="3.77" height="3.77" fill="#fac037"/>
<rect x="556.32" y="91.81" width="3.77" height="3.77" fill="#ecbd30"/>
<rect x="559.79" y="91.81" width="3.77" height="3.77" fill="#cfc02f"/>
<rect x="563.26" y="91.81" width="3.77" height="3.77" fill="#acc639"/>
<rect x="566.74" y="91.81" width="3.77" height="3.77" fill="#92ca4c"/>
<rect x="570.21" y="91.81" width="3.77" height="3.77" fill="#79cc5f"/>
<rect x="573.68" y="91.81" width="3.77" height="3.77" fill="#61cc72"/>
<rect x="577.15" y="91.81" width="3.77" height="3.77" fill="#4ccb84"/>
<rect x="580.63" y="91.81" width="3.77" height="3.77" fill="#44c98d"/>
<rect x="389.63" y="95.28" width="7.25" height="3.77" fill="#4ccb84"/>
<rect x="396.57" y="95.28" width="3.77" height="3.77" fill="#55cc7b"/>
<rect x="400.05" y="95.28" width="3.77" height="3.77" fill="#61cc72"/>
<rect x="403.52" y="95.28" width="3.77" height="3.77" fill="#6dcc68"/>
<rect x="406.99" y="95.28" width="3.77" height="3.77" fill="#79cc5f"/>
<rect x="410.46" y="95.28" width="3.77" height="3.77" fill="#85cb56"/>
<rect x="413.94" y="95.28" width="3.77" height="3.77" fill="#9fc843"/>
<rect x="417.41" y="95.28" width="3.77" height="3.77" fill="#b8c432"/>
<rect x="420.88" y="95.28" width="3.77" height="3.77" fill="#cfc02f"/>
<rect x="424.35" y="95.28" width="3.77" height="3.77" fill="#e5bc2c"/>
<rect x="427.83" y="95.28" width="3.77" height="3.77" fill="#f3bf34"/>
<rect x="431.30" y="95.28" width="3.77" height="3.77" fill="#fec339"/>
<rect x="434.77" y="95.28" width="3.77" height="3.77" fill="#fcc935"/>
<rect x="438.25" y="95.28" width="3.77" height="3.77" fill="#fbcf31"/>
<rect x="441.72" y="95.28" width="14.19" height="3.77" fill="#f9d52e"/>
<rect x="455.61" y="95.28" width="3.77" height="3.77" fill="#fbcf31"/>
<rect x="459.08" y="95.28" width="3.77" height="3.77" fill="#fec339"/>
<rect x="462.55" y="95.28" width="3.77" height="3.77" fill="#fac037"/>
<rect x="466.03" y="95.28" width="3.77" height="3.77" fill="#ecbd30"/>
<rect x="469.50" y="95.28" width="3.77" height="3.77" fill="#dbbd2d"/>
<rect x="472.97" y="95.28" width="3.77" height="3.77" fill="#c4c230"/>
<rect x="476.45" y="95.28" width="3.77" height="3.77" fill="#acc639"/>
<rect x="479.92" y="95.28" width="3.77" height="3.77" fill="#92ca4c"/>
<rect x="483.39" y="95.28" width="3.77" height="3.77" fill="#79cc5f"/>
<rect x="486.86" y="95.28" width="3.77" height="3.77" fill="#6dcc68"/>
<rect x="490.34" y="95.28" width="3.77" height="3.77" fill="#61cc72"/>
<rect x="493.81" y="95.28" width="7.25" height="3.77" fill="#55cc7b"/>
<rect x="500.75" y="95.28" width="3.77" height="3.77" fill="#61cc72"/>
<rect x="504.23" y="95.28" width="3.77" height="3.77" fill="#6dcc68"/>
<rect x="507.70" y="95.28" width="3.77" height="3.77" fill="#79cc5f"/>
<rect x="511.17" y="95.28" width="3.77" height="3.77" fill="#9fc843"/>
<rect x="514.65" y="95.28" width="3.77" height="3.77" fill="#b8c432"/>
<rect x="518.12" y="95.28" width="3.77" height="3.77" fill="#cfc02f"/>
<rect x="521.59" y="95.28" width="3.77" height="3.77" fill="#ecbd30"/>
<rect x="525.06" y="95.28" width="3.77" height="3.77" fill="#fac037"/>
<rect x="528.54" y="95.28" width="3.77" height="3.77" fill="#fec339"/>
<rect x="532.01" y="95.28" width="3.77" height="3.77" fill="#fbcf31"/>
<rect x="535.48" y="95.28" width="10.72" height="3.77" fill="#f9d52e"/>
<rect x="545.90" y="95.28" width="3.77" height="3.77" fill="#fbcf31"/>
<rect x="549.37" y="95.28" width="3.77" height="3.77" fill="#fcc935"/>
<rect x="552.85" y="95.28" width="3.77" height="3.77" fill="#fac037"/>
<rect x="556.32" y="95.28" width="3.77" height="3.77" fill="#ecbd30"/>
<rect x="559.79" y="95.28" width="3.77" height="3.77" fill="#cfc02f"/>
<rect x="563.26" y="95.28" width="3.77" height="3.77" fill="#acc639"/>
<rect x="566.74" y="95.28" width="3.77" height="3.77" fill="#92ca4c"/>
<rect x="570.21" y="95.28" width="3.77" height="3.77" fill="#6dcc68"/>
<rect x="573.68" y="95.28" width="3.77" height="3.77" fill="#61cc72"/>
<rect x="577.15" y="95.28" width="3.77" height="3.77" fill="#4ccb84"/>
<rect x="580.63" y="95.28" width="3.77" height="3.77" fill="#44c98d"/>
<rect x="584.10" y="95.28" width="3.77" height="3.77" fill="#3cc895"/>
<rect x="389.63" y="98.75" width="7.25" height="3.77" fill="#4ccb84"/>
<rect x="396.57" y="98.75" width="3.77" height="3.77" fill="#55cc7b"/>
<rect x="400.05" y="98.75" width="3.77" height="3.77" fill="#61cc72"/>
<rect x="403.52" y="98.75" width="3.77" height="3.77" fill="#6dcc68"/>
<rect x="406.99" y="98.75" width="3.77" height="3.77" fill="#79cc5f"/>
<rect x="410.46" y="98.75" width="3.77" height="3.77" fill="#92ca4c"/>
<rect x="413.94" y="98.75" width="3.77" height="3.77" fill="#9fc843"/>
<rect x="417.41" y="98.75" width="3.77" height="3.77" fill="#c4c230"/>
<rect x="420.88" y="98.75" width="3.77" height="3.77" fill="#dbbd2d"/>
<rect x="424.35" y="98.75" width="3.77" height="3.77" fill="#ecbd30"/>
<rect x="427.83" y="98.75" width="3.77" height="3.77" fill="#fec339"/>
<rect x="431.30" y="98.75" width="3.77" height="3.77" fill="#fbcf31"/>
<rect x="434.77" y="98.75" width="3.77" height="3.77" fill="#f9d52e"/>
<rect x="438.25" y="98.75" width="14.19" height="3.77" fill="#f8dc2a"/>
<rect x="452.14" y="98.75" width="3.77" height="3.77" fill="#f9d52e"/>
<rect x="455.61" y="98.75" width="3.77" height="3.77" fill="#fbcf31"/>
<rect x="459.08" y="98.75" width="3.77" height="3.77" fill="#fcc935"/>
<rect x="462.55" y="98.75" width="3.77" height="3.77" fill="#fac037"/>
<rect x="466.03" y="98.75" width="3.77" height="3.77" fill="#ecbd30"/>
<rect x="469.50" y="98.75" width="3.77" height="3.77" fill="#cfc02f"/>
<rect x="472.97" y="98.75" width="3.77" height="3.77" fill="#b8c432"/>
<rect x="476.45" y="98.75" width="3.77" height="3.77" fill="#9fc843"/>
<rect x="479.92" y="98.75" width="3.77" height="3.77" fill="#85cb56"/>
<rect x="483.39" y="98.75" width="3.77" height="3.77" fill="#6dcc68"/>
<rect x="486.86" y="98.75" width="3.77" height="3.77" fill="#55cc7b"/>
<rect x="490.34" y="98.75" width="3.77" height="3.77" fill="#4ccb84"/>
<rect x="493.81" y="98.75" width="7.25" height="3.77" fill="#44c98d"/>
<rect x="500.75" y="98.75" width="3.77" height="3.77" fill="#4ccb84"/>
<rect x="504.23" y="98.75" width="3.77" height="3.77" fill="#55cc7b"/>
<rect x="507.70" y="98.75" width="3.77" height="3.77" fill="#61cc72"/>
<rect x="511.17" y="98.75" width="3.77" height="3.77" fill="#79cc5f"/>
<rect x="514.65" y="98.75" width="3.77" height="3.77" fill="#9fc843"/>
<rect x="518.12" y="98.75" width="3.77" height="3.77" fill="#b8c432"/>
<rect x="521.59" y="98.75" width="3.77" height="3.77" fill="#dbbd2d"/>
<rect x="525.06" y="98.75" width="3.77" height="3.77" fill="#ecbd30"/>
<rect x="528.54" y="98.75" width="3.77" height="3.77" fill="#fac037"/>
<rect x="532.01" y="98.75" width="3.77" height="3.77" fill="#fec339"/>
<rect x="535.48" y="98.75" width="3.77" height="3.77" fill="#fcc935"/>
<rect x="538.95" y="98.75" width="7.25" height="3.77" fill="#fbcf31"/>
<rect x="545.90" y="98.75" width="3.77" height="3.77" fill="#fcc935"/>
<rect x="549.37" y="98.75" width="3.77" height="3.77" fill="#fec339"/>
<rect x="552.85" y="98.75" width="3.77" height="3.77" fill="#f3bf34"/>
<rect x="556.32" y="98.75" width="3.77" height="3.77" fill="#e5bc2c"/>
<rect x="559.79" y="98.75" width="3.77" height="3.77" fill="#c4c230"/>
<rect x="563.26" y="98.75" width="3.77" height="3.77" fill="#acc639"/>
<rect x="566.74" y="98.75" width="3.77" height="3.77" fill="#85cb56"/>
<rect x="570.21" y="98.75" width="3.77" height="3.77" fill="#6dcc68"/>
<rect x="573.68" y="98.75" width="3.77" height="3.77" fill="#55cc7b"/>
<rect x="577.15" y="98.75" width="3.77" height="3.77" fill="#4ccb84"/>
<rect x="580.63" y="98.75" width="3.77" height="3.77" fill="#44c98d"/>
<rect x="584.10" y="98.75" width="3.77" height="3.77" fill="#3cc895"/>
<rect x="386.15" y="102.23" width="3.77" height="3.77" fill="#44c98d"/>
<rect x="389.63" y="102.23" width="7.25" height="3.77" fill="#4ccb84"/>
<rect x="396.57" y="102.23" width="3.77" height="3.77" fill="#55cc7b"/>
<rect x="400.05" y="102.23" width="3.77" height="3.77" fill="#61cc72"/>
<rect x="403.52" y="102.23" width="3.77" height="3.77" fill="#6dcc68"/>
<rect x="406.99" y="102.23" width="3.77" height="3.77" fill="#79cc5f"/>
<rect x="410.46" y="102.23" width="3.77" height="3.77" fill="#92ca4c"/>
<rect x="413.94" y="102.23" width="3.77" height="3.77" fill="#acc639"/>
<rect x="417.41" y="102.23" width="3.77" height="3.77" fill="#cfc02f"/>
<rect x="420.88" y="102.23" width="3.77" height="3.77" fill="#ecbd30"/>
<rect x="424.35" y="102.23" width="3.77" height="3.77" fill="#fac037"/>
<rect x="427.83" y="102.23" width="3.77" height="3.77" fill="#fbcf31"/>
<rect x="431.30" y="102.23" width="3.77" height="3.77" fill="#f8dc2a"/>
<rect x="434.77" y="102.23" width="14.19" height="3.77" fill="#f8e524"/>
<rect x="448.66" y="102.23" width="7.25" height="3.77" fill="#f8dc2a"/>
<rect x="455.61" y="102.23" width="3.77" height="3.77" fill="#fbcf31"/>
<rect x="459.08" y="102.23" width="3.77" height="3.77" fill="#fcc935"/>
<rect x="462.55" y="102.23" width="3.77" height="3.77" fill="#fac037"/>
<rect x="466.03" y="102.23" width="3.77" height="3.77" fill="#e5bc2c"/>
<rect x="469.50" y="102.23" width="3.77" height="3.77" fill="#cfc02f"/>
<rect x="472.97" y="102.23" width="3.77" height="3.77" fill="#acc639"/>
<rect x="476.45" y="102.23" width="3.77" height="3.77" fill="#92ca4c"/>
<rect x="479.92" y="102.23" width="3.77" height="3.77" fill="#79cc5f"/>
<rect x="483.39" y="102.23" width="3.77" height="3.77" fill="#61cc72"/>
<rect x="486.86" y="102.23" width="3.77" height="3.77" fill="#4ccb84"/>
<rect x="490.34" y="102.23" width="3.77" height="3.77" fill="#44c98d"/>
<rect x="493.81" y="102.23" width="10.72" height="3.77" fill="#3cc895"/>
<rect x="504.23" y="102.23" width="3.77" height="3.77" fill="#44c98d"/>
<rect x="507.70" y="102.23" width="3.77" height="3.77" fill="#55cc7b"/>
<rect x="511.17" y="102.23" width="3.77" height="3.77" fill="#6dcc68"/>
<rect x="514.65" y="102.23" width="3.77" height="3.77" fill="#85cb56"/>
<rect x="518.12" y="102.23" width="3.77" height="3.77" fill="#acc639"/>
<rect x="521.59" y="102.23" width="3.77" height="3.77" fill="#cfc02f"/>
<rect x="525.06" y="102.23" width="3.77" height="3.77" fill="#e5bc2c"/>
<rect x="528.54" y="102.23" width="3.77" height="3.77" fill="#f3bf34"/>
<rect x="532.01" y="102.23" width="3.77" height="3.77" fill="#fac037"/>
<rect x="535.48" y="102.23" width="14.19" height="3.77" fill="#fec339"/>
<rect x="549.37" y="102.23" width="3.77" height="3.77" fill="#fac037"/>
<rect x="552.85" y="102.23" width="3.77" height="3.77" fill="#ecbd30"/>
<rect x="556.32" y="102.23" width="3.77" height="3.77" fill="#dbbd2d"/>
<rect x="559.79" y="102.23" width="3.77" height="3.77" fill="#b8c432"/>
<rect x="563.26" y="102.23" width="3.77" height="3.77" fill="#9fc843"/>
<rect x="566.74" y="102.23" width="3.77" height="3.77" fill="#79cc5f"/>
<rect x="570.21" y="102.23" width="3.77" height="3.77" fill="#61cc72"/>
<rect x="573.68" y="102.23" width="3.77" height="3.77" fill="#55cc7b"/>
<rect x="577.15" y="102.23" width="3.77" height="3.77" fill="#4ccb84"/>
<rect x="580.63" y="102.23" width="3.77" height="3.77" fill="#44c98d"/>
<rect x="584.10" y="102.23" width="3.77" height="3.77" fill="#3cc895"/>
<rect x="587.57" y="102.23" width="3.77" height="3.77" fill="#33c69e"/>
<rect x="386.15" y="105.70" width="3.77" height="3.77" fill="#44c98d"/>
<rect x="389.63" y="105.70" width="7.25" height="3.77" fill="#4ccb84"/>
<rect x="396.57" y="105.70" width="3.77" height="3.77" fill="#55cc7b"/>
<rect x="400.05" y="105.70" width="3.77" height="3.77" fill="#61cc72"/>
<rect x="403.52" y="105.70" width="3.77" height="3.77" fill="#6dcc68"/>
<rect x="406.99" y="105.70" width="3.77" height="3.77" fill="#85cb56"/>
<rect x="410.46" y="105.70" width="3.77" height="3.77" fill="#9fc843"/>
<rect x="413.94" y="105.70" width="3.77" height="3.77" fill="#b8c432"/>
<rect x="417.41" y="105.70" width="3.77" height="3.77" fill="#dbbd2d"/>
<rect x="420.88" y="105.70" width="3.77" height="3.77" fill="#f3bf34"/>
<rect x="424.35" y="105.70" width="3.77" height="3.77" fill="#fcc935"/>
<rect x="427.83" y="105.70" width="3.77" height="3.77" fill="#f8dc2a"/>
<rect x="431.30" y="105.70" width="3.77" height="3.77" fill="#f9ee1e"/>
<rect x="434.77" y="105.70" width="7.25" height="3.77" fill="#f9f618"/>
<rect x="441.72" y="105.70" width="3.77" height="3.77" fill="#f9ee1e"/>
<rect x="445.19" y="105.70" width="3.77" height="3.77" fill="#f8e524"/>
<rect x="448.66" y="105.70" width="3.77" height="3.77" fill="#f8dc2a"/>
<rect x="452.14" y="105.70" width="3.77" height="3.77" fill="#f9d52e"/>
<rect x="455.61" y="105.70" width="3.77" height="3.77" fill="#fbcf31"/>
<rect x="459.08" y="105.70" width="3.77" height="3.77" fill="#fec339"/>
<rect x="462.55" y="105.70" width="3.77" height="3.77" fill="#f3bf34"/>
<rect x="466.03" y="105.70" width="3.77" height="3.77" fill="#e5bc2c"/>
<rect x="469.50" y="105.70" width="3.77" height="3.77" fill="#c4c230"/>
<rect x="472.97" y="105.70" width="3.77" height="3.77" fill="#acc639"/>
<rect x="476.45" y="105.70" width="3.77" height="3.77" fill="#85cb56"/>
<rect x="479.92" y="105.70" width="3.77" height="3.77" fill="#6dcc68"/>
<rect x="483.39" y="105.70" width="3.77" height="3.77" fill="#55cc7b"/>
<rect x="486.86" y="105.70" width="3.77" height="3.77" fill="#44c98d"/>
<rect x="490.34" y="105.70" width="3.77" height="3.77" fill="#3cc895"/>
<rect x="493.81" y="105.70" width="10.72" height="3.77" fill="#33c69e"/>
<rect x="504.23" y="105.70" width="3.77" height="3.77" fill="#3cc895"/>
<rect x="507.70" y="105.70" width="3.77" height="3.77" fill="#44c98d"/>
<rect x="511.17" y="105.70" width="3.77" height="3.77" fill="#61cc72"/>
<rect x="514.65" y="105.70" width="3.77" height="3.77" fill="#79cc5f"/>
<rect x="518.12" y="105.70" width="3.77" height="3.77" fill="#9fc843"/>
<rect x="521.59" y="105.70" width="3.77" height="3.77" fill="#c4c230"/>
<rect x="525.06" y="105.70" width="3.77" height="3.77" fill="#dbbd2d"/>
<rect x="528.54" y="105.70" width="3.77" height="3.77" fill="#ecbd30"/>
<rect x="532.01" y="105.70" width="3.77" height="3.77" fill="#f3bf34"/>
<rect x="535.48" y="105.70" width="10.72" height="3.77" fill="#fac037"/>
<rect x="545.90" y="105.70" width="3.77" height="3.77" fill="#f3bf34"/>
<rect x="549.37" y="105.70" width="3.77" height="3.77" fill="#ecbd30"/>
<rect x="552.85" y="105.70" width="3.77" height="3.77" fill="#dbbd2d"/>
<rect x="556.32" y="105.70" width="3.77" height="3.77" fill="#c4c230"/>
<rect x="559.79" y="105.70" width="3.77" height="3.77" fill="#acc639"/>
<rect x="563.26" y="105.70" width="3.77" height="3.77" fill="#92ca4c"/>
<rect x="566.74" y="105.70" width="3.77" height="3.77" fill="#6dcc68"/>
<rect x="570.21" y="105.70" width="3.77" height="3.77" fill="#61cc72"/>
<rect x="573.68" y="105.70" width="3.77" height="3.77" fill="#4ccb84"/>
<rect x="577.15" y="105.70" width="3.77" height="3.77" fill="#44c98d"/>
<rect x="580.63" y="105.70" width="3.77" height="3.77" fill="#3cc895"/>
<rect x="584.10" y="105.70" width="7.25" height="3.77" fill="#33c69e"/>
<rect x="591.05" y="105.70" width="3.77" height="3.77" fill="#2ac4a6"/>
<rect x="382.68" y="109.17" width="7.25" height="3.77" fill="#44c98d"/>
<rect x="389.63" y="109.17" width="7.25" height="3.77" fill="#4ccb84"/>
<rect x="396.57" y="109.17" width="3.77" height="3.77" fill="#55cc7b"/>
<rect x="400.05" y="109.17" width="3.77" height="3.77" fill="#61cc72"/>
<rect x="403.52" y="109.17" width="3.77" height="3.77" fill="#6dcc68"/>
<rect x="406.99" y="109.17" width="3.77" height="3.77" fill="#85cb56"/>
<rect x="410.46" y="109.17" width="3.77" height="3.77" fill="#9fc843"/>
<rect x="413.94" y="109.17" width="3.77" height="3.77" fill="#c4c230"/>
<rect x="417.41" y="109.17" width="3.77" height="3.77" fill="#e5bc2c"/>
<rect x="420.88" y="109.17" width="3.77" height="3.77" fill="#fac037"/>
<rect x="424.35" y="109.17" width="3.77" height="3.77" fill="#f9d52e"/>
<rect x="427.83" y="109.17" width="3.77" height="3.77" fill="#f9ee1e"/>
<rect x="431.30" y="109.17" width="14.19" height="3.77" fill="#f9f618"/>
<rect x="445.19" y="109.17" width="3.77" height="3.77" fill="#f8e524"/>
<rect x="448.66" y="109.17" width="3.77" height="3.77" fill="#f8dc2a"/>
<rect x="452.14" y="109.17" width="3.77" height="3.77" fill="#fbcf31"/>
<rect x="455.61" y="109.17" width="3.77" height="3.77" fill="#fec339"/>
<rect x="459.08" y="109.17" width="3.77" height="3.77" fill="#f3bf34"/>
<rect x="462.55" y="109.17" width="3.77" height="3.77" fill="#e5bc2c"/>
<rect x="466.03" y="109.17" width="3.77" height="3.77" fill="#cfc02f"/>
<rect x="469.50" y="109.17" width="3.77" height="3.77" fill="#b8c432"/>
<rect x="472.97" y="109.17" width="3.77" height="3.77" fill="#92ca4c"/>
<rect x="476.45" y="109.17" width="3.77" height="3.77" fill="#79cc5f"/>
<rect x="479.92" y="109.17" width="3.77" height="3.77" fill="#61cc72"/>
<rect x="483.39" y="109.17" width="3.77" height="3.77" fill="#4ccb84"/>
<rect x="486.86" y="109.17" width="3.77" height="3.77" fill="#44c98d"/>
<rect x="490.34" y="109.17" width="3.77" height="3.77" fill="#3cc895"/>
<rect x="493.81" y="109.17" width="3.77" height="3.77" fill="#33c69e"/>
<rect x="497.28" y="109.17" width="7.25" height="3.77" fill="#2ac4a6"/>
<rect x="504.23" y="109.17" width="3.77" height="3.77" fill="#33c69e"/>
<rect x="507.70" y="109.17" width="3.77" height="3.77" fill="#44c98d"/>
<rect x="511.17" y="109.17" width="3.77" height="3.77" fill="#55cc7b"/>
<rect x="514.65" y="109.17" width="3.77" height="3.77" fill="#6dcc68"/>
<rect x="518.12" y="109.17" width="3.77" height="3.77" fill="#92ca4c"/>
<rect x="521.59" y="109.17" width="3.77" height="3.77" fill="#b8c432"/>
<rect x="525.06" y="109.17" width="3.77" height="3.77" fill="#cfc02f"/>
<rect x="528.54" y="109.17" width="3.77" height="3.77" fill="#e5bc2c"/>
<rect x="532.01" y="109.17" width="14.19" height="3.77" fill="#ecbd30"/>
<rect x="545.90" y="109.17" width="3.77" height="3.77" fill="#e5bc2c"/>
<rect x="549.37" y="109.17" width="3.77" height="3.77" fill="#cfc02f"/>
<rect x="552.85" y="109.17" width="3.77" height="3.77" fill="#c4c230"/>
<rect x="556.32" y="109.17" width="3.77" height="3.77" fill="#acc639"/>
<rect x="559.79" y="109.17" width="3.77" height="3.77" fill="#92ca4c"/>
<rect x="563.26" y="109.17" width="3.77" height="3.77" fill="#79cc5f"/>
<rect x="566.74" y="109.17" width="3.77" height="3.77" fill="#61cc72"/>
<rect x="570.21" y="109.17" width="3.77" height="3.77" fill="#55cc7b"/>
<rect x="573.68" y="109.17" width="3.77" height="3.77" fill="#4ccb84"/>
<rect x="577.15" y="109.17" width="7.25" height="3.77" fill="#3cc895"/>
<rect x="584.10" y="109.17" width="3.77" height="3.77" fill="#33c69e"/>
<rect x="587.57" y="109.17" width="7.25" height="3.77" fill="#2ac4a6"/>
<rect x="382.68" y="112.65" width="7.25" height="3.77" fill="#44c98d"/>
<rect x="389.63" y="112.65" width="7.25" height="3.77" fill="#4ccb84"/>
<rect x="396.57" y="112.65" width="3.77" height="3.77" fill="#55cc7b"/>
<rect x="400.05" y="112.65" width="3.77" height="3.77" fill="#61cc72"/>
<rect x="403.52" y="112.65" width="3.77" height="3.77" fill="#6dcc68"/>
<rect x="406.99" y="112.65" width="3.77" height="3.77" fill="#85cb56"/>
<rect x="410.46" y="112.65" width="3.77" height="3.77" fill="#9fc843"/>
<rect x="413.94" y="112.65" width="3.77" height="3.77" fill="#c4c230"/>
<rect x="417.41" y="112.65" width="3.77" height="3.77" fill="#e5bc2c"/>
<rect x="420.88" y="112.65" width="3.77" height="3.77" fill="#fec339"/>
<rect x="424.35" y="112.65" width="3.77" height="3.77" fill="#f8dc2a"/>
<rect x="427.83" y="112.65" width="14.19" height="3.77" fill="#f9f618"/>
<rect x="441.72" y="112.65" width="3.77" height="3.77" fill="#f9ee1e"/>
<rect x="445.19" y="112.65" width="3.77" height="3.77" fill="#f8dc2a"/>
<rect x="448.66" y="112.65" width="3.77" height="3.77" fill="#fbcf31"/>
<rect x="452.14" y="112.65" width="3.77" height="3.77" fill="#fec339"/>
<rect x="455.61" y="112.65" width="3.77" height="3.77" fill="#f3bf34"/>
<rect x="459.08" y="112.65" width="3.77" height="3.77" fill="#e5bc2c"/>
<rect x="462.55" y="112.65" width="3.77" height="3.77" fill="#cfc02f"/>
<rect x="466.03" y="112.65" width="3.77" height="3.77" fill="#b8c432"/>
<rect x="469.50" y="112.65" width="3.77" height="3.77" fill="#9fc843"/>
<rect x="472.97" y="112.65" width="3.77" height="3.77" fill="#85cb56"/>
<rect x="476.45" y="112.65" width="3.77" height="3.77" fill="#6dcc68"/>
<rect x="479.92" y="112.65" width="3.77" height="3.77" fill="#61cc72"/>
<rect x="483.39" y="112.65" width="3.77" height="3.77" fill="#4ccb84"/>
<rect x="486.86" y="112.65" width="3.77" height="3.77" fill="#44c98d"/>
<rect x="490.34" y="112.65" width="7.25" height="3.77" fill="#33c69e"/>
<rect x="497.28" y="112.65" width="7.25" height="3.77" fill="#2ac4a6"/>
<rect x="504.23" y="112.65" width="3.77" height="3.77" fill="#33c69e"/>
<rect x="507.70" y="112.65" width="3.77" height="3.77" fill="#3cc895"/>
<rect x="511.17" y="112.65" width="3.77" height="3.77" fill="#4ccb84"/>
<rect x="514.65" y="112.65" width="3.77" height="3.77" fill="#6dcc68"/>
<rect x="518.12" y="112.65" width="3.77" height="3.77" fill="#92ca4c"/>
<rect x="521.59" y="112.65" width="3.77" height="3.77" fill="#acc639"/>
<rect x="525.06" y="112.65" width="3.77" height="3.77" fill="#c4c230"/>
<rect x="528.54" y="112.65" width="3.77" height="3.77" fill="#dbbd2d"/>
<rect x="532.01" y="112.65" width="7.25" height="3.77" fill="#e5bc2c"/>
<rect x="538.95" y="112.65" width="7.25" height="3.77" fill="#dbbd2d"/>
<rect x="545.90" y="112.65" width="3.77" height="3.77" fill="#cfc02f"/>
<rect x="549.37" y="112.65" width="3.77" height="3.77" fill="#b8c432"/>
<rect x="552.85" y="112.65" width="3.77" height="3.77" fill="#acc639"/>
<rect x="556.32" y="112.65" width="3.77" height="3.77" fill="#92ca4c"/>
<rect x="559.79" y="112.65" width="3.77" height="3.77" fill="#79cc5f"/>
<rect x="563.26" y="112.65" width="3.77" height="3.77" fill="#6dcc68"/>
<rect x="566.74" y="112.65" width="3.77" height="3.77" fill="#55cc7b"/>
<rect x="570.21" y="112.65" width="3.77" height="3.77" fill="#4ccb84"/>
<rect x="573.68" y="112.65" width="3.77" height="3.77" fill="#44c98d"/>
<rect x="577.15" y="112.65" width="3.77" height="3.77" fill="#3cc895"/>
<rect x="580.63" y="112.65" width="3.77" height="3.77" fill="#33c69e"/>
<rect x="584.10" y="112.65" width="7.25" height="3.77" fill="#2ac4a6"/>
<rect x="591.05" y="112.65" width="3.77" height="3.77" fill="#1fc2ad"/>
<rect x="379.21" y="116.12" width="10.72" height="3.77" fill="#44c98d"/>
<rect x="389.63" y="116.12" width="7.25" height="3.77" fill="#4ccb84"/>
<rect x="396.57" y="116.12" width="3.77" height="3.77" fill="#55cc7b"/>
<rect x="400.05" y="116.12" width="3.77" height="3.77" fill="#61cc72"/>
<rect x="403.52" y="116.12" width="3.77" height="3.77" fill="#6dcc68"/>
<rect x="406.99" y="116.12" width="3.77" height="3.77" fill="#85cb56"/>
<rect x="410.46" y="116.12" width="3.77" height="3.77" fill="#9fc843"/>
<rect x="413.94" y="116.12" width="3.77" height="3.77" fill="#c4c230"/>
<rect x="417.41" y="116.12" width="3.77" height="3.77" fill="#e5bc2c"/>
<rect x="420.88" y="116.12" width="3.77" height="3.77" fill="#fec339"/>
<rect x="424.35" y="116.12" width="3.77" height="3.77" fill="#f8dc2a"/>
<rect x="427.83" y="116.12" width="14.19" height="3.77" fill="#f9f618"/>
<rect x="441.72" y="116.12" width="3.77" height="3.77" fill="#f8dc2a"/>
<rect x="445.19" y="116.12" width="3.77" height="3.77" fill="#fbcf31"/>
<rect x="448.66" y="116.12" width="3.77" height="3.77" fill="#fac037"/>
<rect x="452.14" y="116.12" width="3.77" height="3.77" fill="#ecbd30"/>
<rect x="455.61" y="116.12" width="3.77" height="3.77" fill="#dbbd2d"/>
<rect x="459.08" y="116.12" width="3.77" height="3.77" fill="#c4c230"/>
<rect x="462.55" y="116.12" width="3.77" height="3.77" fill="#b8c432"/>
<rect x="466.03" y="116.12" width="3.77" height="3.77" fill="#9fc843"/>
<rect x="469.50" y="116.12" width="3.77" height="3.77" fill="#85cb56"/>
<rect x="472.97" y="116.12" width="3.77" height="3.77" fill="#79cc5f"/>
<rect x="476.45" y="116.12" width="3.77" height="3.77" fill="#61cc72"/>
<rect x="479.92" y="116.12" width="3.77" height="3.77" fill="#55cc7b"/>
<rect x="483.39" y="116.12" width="3.77" height="3.77" fill="#4ccb84"/>
<rect x="486.86" y="116.12" width="3.77" height="3.77" fill="#3cc895"/>
<rect x="490.34" y="116.12" width="7.25" height="3.77" fill="#33c69e"/>
<rect x="497.28" y="116.12" width="3.77" height="3.77" fill="#2ac4a6"/>
<rect x="500.75" y="116.12" width="7.25" height="3.77" fill="#33c69e"/>
<rect x="507.70" y="116.12" width="3.77" height="3.77" fill="#3cc895"/>
<rect x="511.17" y="116.12" width="3.77" height="3.77" fill="#4ccb84"/>
<rect x="514.65" y="116.12" width="3.77" height="3.77" fill="#6dcc68"/>
<rect x="518.12" y="116.12" width="3.77" height="3.77" fill="#85cb56"/>
<rect x="521.59" y="116.12" width="3.77" height="3.77" fill="#9fc843"/>
<rect x="525.06" y="116.12" width="3.77" height="3.77" fill="#b8c432"/>
<rect x="528.54" y="116.12" width="14.19" height="3.77" fill="#cfc02f"/>
<rect x="542.43" y="116.12" width="3.77" height="3.77" fill="#c4c230"/>
<rect x="545.90" y="116.12" width="3.77" height="3.77" fill="#acc639"/>
<rect x="549.37" y="116.12" width="3.77" height="3.77" fill="#9fc843"/>
<rect x="552.85" y="116.12" width="3.77" height="3.77" fill="#92ca4c"/>
<rect x="556.32" y="116.12" width="3.77" height="3.77" fill="#79cc5f"/>
<rect x="559.79" y="116.12" width="3.77" height="3.77" fill="#6dcc68"/>
<rect x="563.26" y="116.12" width="3.77" height="3.77" fill="#55cc7b"/>
<rect x="566.74" y="116.12" width="3.77" height="3.77" fill="#4ccb84"/>
<rect x="570.21" y="116.12" width="3.77" height="3.77" fill="#44c98d"/>
<rect x="573.68" y="116.12" width="3.77" height="3.77" fill="#3cc895"/>
<rect x="577.15" y="116.12" width="7.25" height="3.77" fill="#33c69e"/>
<rect x="584.10" y="116.12" width="3.77" height="3.77" fill="#2ac4a6"/>
<rect x="587.57" y="116.12" width="10.72" height="3.77" fill="#1fc2ad"/>
<rect x="379.21" y="119.59" width="10.72" height="3.77" fill="#44c98d"/>
<rect x="389.63" y="119.59" width="7.25" height="3.77" fill="#4ccb84"/>
<rect x="396.57" y="119.59" width="3.77" height="3.77" fill="#55cc7b"/>
<rect x="400.05" y="119.59" width="3.77" height="3.77" fill="#61cc72"/>
<rect x="403.52" y="119.59" width="3.77" height="3.77" fill="#6dcc68"/>
<rect x="406.99" y="119.59" width="3.77" height="3.77" fill="#79cc5f"/>
<rect x="410.46" y="119.59" width="3.77" height="3.77" fill="#92ca4c"/>
<rect x="413.94" y="119.59" width="3.77" height="3.77" fill="#b8c432"/>
<rect x="417.41" y="119.59" width="3.77" height="3.77" fill="#dbbd2d"/>
<rect x="420.88" y="119.59" width="3.77" height="3.77" fill="#fac037"/>
<rect x="424.35" y="119.59" width="3.77" height="3.77" fill="#fbcf31"/>
<rect x="427.83" y="119.59" width="3.77" height="3.77" fill="#f8e524"/>
<rect x="431.30" y="119.59" width="7.25" height="3.77" fill="#f9ee1e"/>
<rect x="438.25" y="119.59" width="3.77" height="3.77" fill="#f8dc2a"/>
<rect x="441.72" y="119.59" width="3.77" height="3.77" fill="#fbcf31"/>
<rect x="445.19" y="119.59" width="3.77" height="3.77" fill="#fac037"/>
<rect x="448.66" y="119.59" width="3.77" height="3.77" fill="#ecbd30"/>
<rect x="452.14" y="119.59" width="3.77" height="3.77" fill="#cfc02f"/>
<rect x="455.61" y="119.59" width="3.77" height="3.77" fill="#b8c432"/>
<rect x="459.08" y="119.59" width="3.77" height="3.77" fill="#acc639"/>
<rect x="462.55" y="119.59" width="3.77" height="3.77" fill="#92ca4c"/>
<rect x="466.03" y="119.59" width="3.77" height="3.77" fill="#85cb56"/>
<rect x="469.50" y="119.59" width="3.77" height="3.77" fill="#79cc5f"/>
<rect x="472.97" y="119.59" width="3.77" height="3.77" fill="#6dcc68"/>
<rect x="476.45" y="119.59" width="3.77" height="3.77" fill="#55cc7b"/>
<rect x="479.92" y="119.59" width="3.77" height="3.77" fill="#4ccb84"/>
<rect x="483.39" y="119.59" width="3.77" height="3.77" fill="#44c98d"/>
<rect x="486.86" y="119.59" width="7.25" height="3.77" fill="#3cc895"/>
<rect x="493.81" y="119.59" width="10.72" height="3.77" fill="#33c69e"/>
<rect x="504.23" y="119.59" width="3.77" height="3.77" fill="#3cc895"/>
<rect x="507.70" y="119.59" width="3.77" height="3.77" fill="#44c98d"/>
<rect x="511.17" y="119.59" width="3.77" height="3.77" fill="#4ccb84"/>
<rect x="514.65" y="119.59" width="3.77" height="3.77" fill="#61cc72"/>
<rect x="518.12" y="119.59" width="3.77" height="3.77" fill="#79cc5f"/>
<rect x="521.59" y="119.59" width="3.77" height="3.77" fill="#9fc843"/>
<rect x="525.06" y="119.59" width="3.77" height="3.77" fill="#acc639"/>
<rect x="528.54" y="119.59" width="10.72" height="3.77" fill="#c4c230"/>
<rect x="538.95" y="119.59" width="3.77" height="3.77" fill="#b8c432"/>
<rect x="542.43" y="119.59" width="3.77" height="3.77" fill="#acc639"/>
<rect x="545.90" y="119.59" width="3.77" height="3.77" fill="#9fc843"/>
<rect x="549.37" y="119.59" width="3.77" height="3.77" fill="#85cb56"/>
<rect x="552.85" y="119.59" width="3.77" height="3.77" fill="#79cc5f"/>
<rect x="556.32" y="119.59" width="3.77" height="3.77" fill="#61cc72"/>
<rect x="559.79" y="119.59" width="3.77" height="3.77" fill="#55cc7b"/>
<rect x="563.26" y="119.59" width="3.77" height="3.77" fill="#4ccb84"/>
<rect x="566.74" y="119.59" width="3.77" height="3.77" fill="#44c98d"/>
<rect x="570.21" y="119.59" width="7.25" height="3.77" fill="#3cc895"/>
<rect x="577.15" y="119.59" width="3.77" height="3.77" fill="#33c69e"/>
<rect x="580.63" y="119.59" width="3.77" height="3.77" fill="#2ac4a6"/>
<rect x="584.10" y="119.59" width="7.25" height="3.77" fill="#1fc2ad"/>
<rect x="591.05" y="119.59" width="7.25" height="3.77" fill="#15bfb5"/>
<rect x="375.74" y="123.06" width="3.77" height="3.77" fill="#3cc895"/>
<rect x="379.21" y="123.06" width="14.19" height="3.77" fill="#44c98d"/>
<rect x="393.10" y="123.06" width="3.77" height="3.77" fill="#4ccb84"/>
<rect x="396.57" y="123.06" width="7.25" height="3.77" fill="#55cc7b"/>
<rect x="403.52" y="123.06" width="3.77" height="3.77" fill="#61cc72"/>
<rect x="406.99" y="123.06" width="3.77" height="3.77" fill="#79cc5f"/>
<rect x="410.46" y="123.06" width="3.77" height="3.77" fill="#85cb56"/>
<rect x="413.94" y="123.06" width="3.77" height="3.77" fill="#acc639"/>
<rect x="417.41" y="123.06" width="3.77" height="3.77" fill="#cfc02f"/>
<rect x="420.88" y="123.06" width="3.77" height="3.77" fill="#ecbd30"/>
<rect x="424.35" y="123.06" width="3.77" height="3.77" fill="#fac037"/>
<rect x="427.83" y="123.06" width="3.77" height="3.77" fill="#fbcf31"/>
<rect x="431.30" y="123.06" width="3.77" height="3.77" fill="#f9d52e"/>
<rect x="434.77" y="123.06" width="3.77" height="3.77" fill="#fbcf31"/>
<rect x="438.25" y="123.06" width="3.77" height="3.77" fill="#fcc935"/>
<rect x="441.72" y="123.06" width="3.77" height="3.77" fill="#fac037"/>
<rect x="445.19" y="123.06" width="3.77" height="3.77" fill="#e5bc2c"/>
<rect x="448.66" y="123.06" width="3.77" height="3.77" fill="#cfc02f"/>
<rect x="452.14" y="123.06" width="3.77" height="3.77" fill="#b8c432"/>
<rect x="455.61" y="123.06" width="3.77" height="3.77" fill="#9fc843"/>
<rect x="459.08" y="123.06" width="3.77" height="3.77" fill="#92ca4c"/>
<rect x="462.55" y="123.06" width="3.77" height="3.77" fill="#85cb56"/>
<rect x="466.03" y="123.06" width="3.77" height="3.77" fill="#79cc5f"/>
<rect x="469.50" y="123.06" width="3.77" height="3.77" fill="#6dcc68"/>
<rect x="472.97" y="123.06" width="3.77" height="3.77" fill="#61cc72"/>
<rect x="476.45" y="123.06" width="3.77" height="3.77" fill="#55cc7b"/>
<rect x="479.92" y="123.06" width="3.77" height="3.77" fill="#4ccb84"/>
<rect x="483.39" y="123.06" width="3.77" height="3.77" fill="#44c98d"/>
<rect x="486.86" y="123.06" width="7.25" height="3.77" fill="#3cc895"/>
<rect x="493.81" y="123.06" width="10.72" height="3.77" fill="#33c69e"/>
<rect x="504.23" y="123.06" width="3.77" height="3.77" fill="#3cc895"/>
<rect x="507.70" y="123.06" width="3.77" height="3.77" fill="#44c98d"/>
<rect x="511.17" y="123.06" width="3.77" height="3.77" fill="#4ccb84"/>
<rect x="514.65" y="123.06" width="3.77" height="3.77" fill="#61cc72"/>
<rect x="518.12" y="123.06" width="3.77" height="3.77" fill="#79cc5f"/>
<rect x="521.59" y="123.06" width="3.77" height="3.77" fill="#92ca4c"/>
<rect x="525.06" y="123.06" width="3.77" height="3.77" fill="#acc639"/>
<rect x="528.54" y="123.06" width="10.72" height="3.77" fill="#b8c432"/>
<rect x="538.95" y="123.06" width="3.77" height="3.77" fill="#acc639"/>
<rect x="542.43" y="123.06" width="3.77" height="3.77" fill="#9fc843"/>
<rect x="545.90" y="123.06" width="3.77" height="3.77" fill="#85cb56"/>
<rect x="549.37" y="123.06" width="3.77" height="3.77" fill="#79cc5f"/>
<rect x="552.85" y="123.06" width="3.77" height="3.77" fill="#61cc72"/>
<rect x="556.32" y="123.06" width="3.77" height="3.77" fill="#55cc7b"/>
<rect x="559.79" y="123.06" width="3.77" height="3.77" fill="#4ccb84"/>
<rect x="563.26" y="123.06" width="7.25" height="3.77" fill="#44c98d"/>
<rect x="570.21" y="123.06" width="3.77" height="3.77" fill="#3cc895"/>
<rect x="573.68" y="123.06" width="3.77" height="3.77" fill="#33c69e"/>
<rect x="577.15" y="123.06" width="7.25" height="3.77" fill="#2ac4a6"/>
<rect x="584.10" y="123.06" width="3.77" height="3.77" fill="#1fc2ad"/>
<rect x="587.57" y="123.06" width="14.19" height="3.77" fill="#15bfb5"/>
<rect x="375.74" y="126.54" width="7.25" height="3.77" fill="#3cc895"/>
<rect x="382.68" y="126.54" width="10.72" height="3.77" fill="#44c98d"/>
<rect x="393.10" y="126.54" width="7.25" height="3.77" fill="#4ccb84"/>
<rect x="400.05" y="126.54" width="3.77" height="3.77" fill="#55cc7b"/>
<rect x="403.52" y="126.54" width="3.77" height="3.77" fill="#61cc72"/>
<rect x="406.99" y="126.54" width="3.77" height="3.77" fill="#6dcc68"/>
<rect x="410.46" y="126.54" width="3.77" height="3.77" fill="#79cc5f"/>
<rect x="413.94" y="126.54" width="3.77" height="3.77" fill="#92ca4c"/>
<rect x="417.41" y="126.54" width="3.77" height="3.77" fill="#b8c432"/>
<rect x="420.88" y="126.54" width="3.77" height="3.77" fill="#cfc02f"/>
<rect x="424.35" y="126.54" width="3.77" height="3.77" fill="#e5bc2c"/>
<rect x="427.83" y="126.54" width="3.77" height="3.77" fill="#f3bf34"/>
<rect x="431.30" y="126.54" width="3.77" height="3.77" fill="#fac037"/>
<rect x="434.77" y="126.54" width="3.77" height="3.77" fill="#f3bf34"/>
<rect x="438.25" y="126.54" width="3.77" height="3.77" fill="#ecbd30"/>
<rect x="441.72" y="126.54" width="3.77" height="3.77" fill="#dbbd2d"/>
<rect x="445.19" y="126.54" width="3.77" height="3.77" fill="#c4c230"/>
<rect x="448.66" y="126.54" width="3.77" height="3.77" fill="#acc639"/>
<rect x="452.14" y="126.54" width="3.77" height="3.77" fill="#9fc843"/>
<rect x="455.61" y="126.54" width="3.77" height="3.77" fill="#85cb56"/>
<rect x="459.08" y="126.54" width="3.77" height="3.77" fill="#79cc5f"/>
<rect x="462.55" y="126.54" width="3.77" height="3.77" fill="#6dcc68"/>
<rect x="466.03" y="126.54" width="7.25" height="3.77" fill="#61cc72"/>
<rect x="472.97" y="126.54" width="3.77" height="3.77" fill="#55cc7b"/>
<rect x="476.45" y="126.54" width="7.25" height="3.77" fill="#4ccb84"/>
<rect x="483.39" y="126.54" width="7.25" height="3.77" fill="#44c98d"/>
<rect x="490.34" y="126.54" width="17.66" height="3.77" fill="#3cc895"/>
<rect x="507.70" y="126.54" width="3.77" height="3.77" fill="#44c98d"/>
<rect x="511.17" y="126.54" width="3.77" height="3.77" fill="#4ccb84"/>
<rect x="514.65" y="126.54" width="3.77" height="3.77" fill="#61cc72"/>
<rect x="518.12" y="126.54" width="3.77" height="3.77" fill="#79cc5f"/>
<rect x="521.59" y="126.54" width="3.77" height="3.77" fill="#85cb56"/>
<rect x="525.06" y="126.54" width="3.77" height="3.77" fill="#9fc843"/>
<rect x="528.54" y="126.54" width="10.72" height="3.77" fill="#acc639"/>
<rect x="538.95" y="126.54" width="3.77" height="3.77" fill="#9fc843"/>
<rect x="542.43" y="126.54" width="3.77" height="3.77" fill="#85cb56"/>
<rect x="545.90" y="126.54" width="3.77" height="3.77" fill="#79cc5f"/>
<rect x="549.37" y="126.54" width="3.77" height="3.77" fill="#6dcc68"/>
<rect x="552.85" y="126.54" width="3.77" height="3.77" fill="#55cc7b"/>
<rect x="556.32" y="126.54" width="3.77" height="3.77" fill="#4ccb84"/>
<rect x="559.79" y="126.54" width="7.25" height="3.77" fill="#44c98d"/>
<rect x="566.74" y="126.54" width="3.77" height="3.77" fill="#3cc895"/>
<rect x="570.21" y="126.54" width="7.25" height="3.77" fill="#33c69e"/>
<rect x="577.15" y="126.54" width="3.77" height="3.77" fill="#2ac4a6"/>
<rect x="580.63" y="126.54" width="7.25" height="3.77" fill="#1fc2ad"/>
<rect x="587.57" y="126.54" width="14.19" height="3.77" fill="#15bfb5"/>
<rect x="375.74" y="130.01" width="7.25" height="3.77" fill="#3cc895"/>
<rect x="382.68" y="130.01" width="10.72" height="3.77" fill="#44c98d"/>
<rect x="393.10" y="130.01" width="7.25" height="3.77" fill="#4ccb84"/>
<rect x="400.05" y="130.01" width="7.25" height="3.77" fill="#55cc7b"/>
<rect x="406.99" y="130.01" width="3.77" height="3.77" fill="#61cc72"/>
<rect x="410.46" y="130.01" width="3.77" height="3.77" fill="#6dcc68"/>
<rect x="413.94" y="130.01" width="3.77" height="3.77" fill="#85cb56"/>
<rect x="417.41" y="130.01" width="3.77" height="3.77" fill="#92ca4c"/>
<rect x="420.88" y="130.01" width="3.77" height="3.77" fill="#acc639"/>
<rect x="424.35" y="130.01" width="3.77" height="3.77" fill="#c4c230"/>
<rect x="427.83" y="130.01" width="3.77" height="3.77" fill="#cfc02f"/>
<rect x="431.30" y="130.01" width="3.77" height="3.77" fill="#dbbd2d"/>
<rect x="434.77" y="130.01" width="7.25" height="3.77" fill="#cfc02f"/>
<rect x="441.72" y="130.01" width="3.77" height="3.77" fill="#b8c432"/>
<rect x="445.19" y="130.01" width="3.77" height="3.77" fill="#acc639"/>
<rect x="448.66" y="130.01" width="3.77" height="3.77" fill="#92ca4c"/>
<rect x="452.14" y="130.01" width="3.77" height="3.77" fill="#85cb56"/>
<rect x="455.61" y="130.01" width="3.77" height="3.77" fill="#79cc5f"/>
<rect x="459.08" y="130.01" width="3.77" height="3.77" fill="#6dcc68"/>
<rect x="462.55" y="130.01" width="3.77" height="3.77" fill="#61cc72"/>
<rect x="466.03" y="130.01" width="7.25" height="3.77" fill="#55cc7b"/>
<rect x="472.97" y="130.01" width="7.25" height="3.77" fill="#4ccb84"/>
<rect x="479.92" y="130.01" width="10.72" height="3.77" fill="#44c98d"/>
<rect x="490.34" y="130.01" width="17.66" height="3.77" fill="#3cc895"/>
<rect x="507.70" y="130.01" width="3.77" height="3.77" fill="#44c98d"/>
<rect x="511.17" y="130.01" width="3.77" height="3.77" fill="#4ccb84"/>
<rect x="514.65" y="130.01" width="3.77" height="3.77" fill="#61cc72"/>
<rect x="518.12" y="130.01" width="3.77" height="3.77" fill="#6dcc68"/>
<rect x="521.59" y="130.01" width="3.77" height="3.77" fill="#85cb56"/>
<rect x="525.06" y="130.01" width="3.77" height="3.77" fill="#92ca4c"/>
<rect x="528.54" y="130.01" width="10.72" height="3.77" fill="#9fc843"/>
<rect x="538.95" y="130.01" width="3.77" height="3.77" fill="#92ca4c"/>
<rect x="542.43" y="130.01" width="3.77" height="3.77" fill="#85cb56"/>
<rect x="545.90" y="130.01" width="3.77" height="3.77" fill="#6dcc68"/>
<rect x="549.37" y="130.01" width="3.77" height="3.77" fill="#61cc72"/>
<rect x="552.85" y="130.01" width="3.77" height="3.77" fill="#55cc7b"/>
<rect x="556.32" y="130.01" width="3.77" height="3.77" fill="#4ccb84"/>
<rect x="559.79" y="130.01" width="3.77" height="3.77" fill="#44c98d"/>
<rect x="563.26" y="130.01" width="7.25" height="3.77" fill="#3cc895"/>
<rect x="570.21" y="130.01" width="7.25" height="3.77" fill="#33c69e"/>
<rect x="577.15" y="130.01" width="3.77" height="3.77" fill="#2ac4a6"/>
<rect x="580.63" y="130.01" width="3.77" height="3.77" fill="#1fc2ad"/>
<rect x="584.10" y="130.01" width="7.25" height="3.77" fill="#15bfb5"/>
<rect x="591.05" y="130.01" width="7.25" height="3.77" fill="#0abdbc"/>
<rect x="597.99" y="130.01" width="3.77" height="3.77" fill="#15bfb5"/>
<rect x="372.26" y="133.48" width="14.19" height="3.77" fill="#3cc895"/>
<rect x="386.15" y="133.48" width="10.72" height="3.77" fill="#44c98d"/>
<rect x="396.57" y="133.48" width="7.25" height="3.77" fill="#4ccb84"/>
<rect x="403.52" y="133.48" width="7.25" height="3.77" fill="#55cc7b"/>
<rect x="410.46" y="133.48" width="3.77" height="3.77" fill="#61cc72"/>
<rect x="413.94" y="133.48" width="3.77" height="3.77" fill="#6dcc68"/>
<rect x="417.41" y="133.48" width="3.77" height="3.77" fill="#79cc5f"/>
<rect x="420.88" y="133.48" width="3.77" height="3.77" fill="#92ca4c"/>
<rect x="424.35" y="133.48" width="3.77" height="3.77" fill="#9fc843"/>
<rect x="427.83" y="133.48" width="10.72" height="3.77" fill="#acc639"/>
<rect x="438.25" y="133.48" width="3.77" height="3.77" fill="#9fc843"/>
<rect x="441.72" y="133.48" width="3.77" height="3.77" fill="#92ca4c"/>
<rect x="445.19" y="133.48" width="3.77" height="3.77" fill="#85cb56"/>
<rect x="448.66" y="133.48" width="3.77" height="3.77" fill="#79cc5f"/>
<rect x="452.14" y="133.48" width="3.77" height="3.77" fill="#6dcc68"/>
<rect x="455.61" y="133.48" width="7.25" height="3.77" fill="#61cc72"/>
<rect x="462.55" y="133.48" width="7.25" height="3.77" fill="#55cc7b"/>
<rect x="469.50" y="133.48" width="7.25" height="3.77" fill="#4ccb84"/>
<rect x="476.45" y="133.48" width="10.72" height="3.77" fill="#44c98d"/>
<rect x="486.86" y="133.48" width="17.66" height="3.77" fill="#3cc895"/>
<rect x="504.23" y="133.48" width="7.25" height="3.77" fill="#44c98d"/>
<rect x="511.17" y="133.48" width="3.77" height="3.77" fill="#4ccb84"/>
<rect x="514.65" y="133.48" width="3.77" height="3.77" fill="#61cc72"/>
<rect x="518.12" y="133.48" width="3.77" height="3.77" fill="#6dcc68"/>
<rect x="521.59" y="133.48" width="3.77" height="3.77" fill="#85cb56"/>
<rect x="525.06" y="133.48" width="3.77" height="3.77" fill="#92ca4c"/>
<rect x="528.54" y="133.48" width="10.72" height="3.77" fill="#9fc843"/>
<rect x="538.95" y="133.48" width="3.77" height="3.77" fill="#92ca4c"/>
<rect x="542.43" y="133.48" width="3.77" height="3.77" fill="#79cc5f"/>
<rect x="545.90" y="133.48" width="3.77" height="3.77" fill="#6dcc68"/>
<rect x="549.37" y="133.48" width="3.77" height="3.77" fill="#55cc7b"/>
<rect x="552.85" y="133.48" width="3.77" height="3.77" fill="#4ccb84"/>
<rect x="556.32" y="133.48" width="7.25" height="3.77" fill="#44c98d"/>
<rect x="563.26" y="133.48" width="3.77" height="3.77" fill="#3cc895"/>
<rect x="566.74" y="133.48" width="7.25" height="3.77" fill="#33c69e"/>
<rect x="573.68" y="133.48" width="7.25" height="3.77" fill="#2ac4a6"/>
<rect x="580.63" y="133.48" width="3.77" height="3.77" fill="#1fc2ad"/>
<rect x="584.10" y="133.48" width="7.25" height="3.77" fill="#15bfb5"/>
<rect x="591.05" y="133.48" width="10.72" height="3.77" fill="#0abdbc"/>
<rect x="601.46" y="133.48" width="3.77" height="3.77" fill="#15bfb5"/>
<rect x="372.26" y="136.95" width="17.66" height="3.77" fill="#3cc895"/>
<rect x="389.63" y="136.95" width="10.72" height="3.77" fill="#44c98d"/>
<rect x="400.05" y="136.95" width="7.25" height="3.77" fill="#4ccb84"/>
<rect x="406.99" y="136.95" width="7.25" height="3.77" fill="#55cc7b"/>
<rect x="413.94" y="136.95" width="3.77" height="3.77" fill="#61cc72"/>
<rect x="417.41" y="136.95" width="7.25" height="3.77" fill="#6dcc68"/>
<rect x="424.35" y="136.95" width="3.77" height="3.77" fill="#79cc5f"/>
<rect x="427.83" y="136.95" width="10.72" height="3.77" fill="#85cb56"/>
<rect x="438.25" y="136.95" width="7.25" height="3.77" fill="#79cc5f"/>
<rect x="445.19" y="136.95" width="3.77" height="3.77" fill="#6dcc68"/>
<rect x="448.66" y="136.95" width="7.25" height="3.77" fill="#61cc72"/>
<rect x="455.61" y="136.95" width="7.25" height="3.77" fill="#55cc7b"/>
<rect x="462.55" y="136.95" width="10.72" height="3.77" fill="#4ccb84"/>
<rect x="472.97" y="136.95" width="14.19" height="3.77" fill="#44c98d"/>
<rect x="486.86" y="136.95" width="17.66" height="3.77" fill="#3cc895"/>
<rect x="504.23" y="136.95" width="7.25" height="3.77" fill="#44c98d"/>
<rect x="511.17" y="136.95" width="3.77" height="3.77" fill="#4ccb84"/>
<rect x="514.65" y="136.95" width="3.77" height="3.77" fill="#61cc72"/>
<rect x="518.12" y="136.95" width="3.77" height="3.77" fill="#6dcc68"/>
<rect x="521.59" y="136.95" width="3.77" height="3.77" fill="#79cc5f"/>
<rect x="525.06" y="136.95" width="7.25" height="3.77" fill="#92ca4c"/>
<rect x="532.01" y="136.95" width="3.77" height="3.77" fill="#9fc843"/>
<rect x="535.48" y="136.95" width="3.77" height="3.77" fill="#92ca4c"/>
<rect x="538.95" y="136.95" width="3.77" height="3.77" fill="#85cb56"/>
<rect x="542.43" y="136.95" width="3.77" height="3.77" fill="#79cc5f"/>
<rect x="545.90" y="136.95" width="3.77" height="3.77" fill="#61cc72"/>
<rect x="549.37" y="136.95" width="3.77" height="3.77" fill="#55cc7b"/>
<rect x="552.85" y="136.95" width="3.77" height="3.77" fill="#4ccb84"/>
<rect x="556.32" y="136.95" width="3.77" height="3.77" fill="#44c98d"/>
<rect x="559.79" y="136.95" width="7.25" height="3.77" fill="#3cc895"/>
<rect x="566.74" y="136.95" width="7.25" height="3.77" fill="#33c69e"/>
<rect x="573.68" y="136.95" width="7.25" height="3.77" fill="#2ac4a6"/>
<rect x="580.63" y="136.95" width="3.77" height="3.77" fill="#1fc2ad"/>
<rect x="584.10" y="136.95" width="7.25" height="3.77" fill="#15bfb5"/>
<rect x="591.05" y="136.95" width="7.25" height="3.77" fill="#0abdbc"/>
<rect x="597.99" y="136.95" width="7.25" height="3.77" fill="#15bfb5"/>
<rect x="372.26" y="140.43" width="21.14" height="3.77" fill="#3cc895"/>
<rect x="393.10" y="140.43" width="14.19" height="3.77" fill="#44c98d"/>
<rect x="406.99" y="140.43" width="10.72" height="3.77" fill="#4ccb84"/>
<rect x="417.41" y="140.43" width="7.25" height="3.77" fill="#55cc7b"/>
<rect x="424.35" y="140.43" width="21.14" height="3.77" fill="#61cc72"/>
<rect x="445.19" y="140.43" width="10.72" height="3.77" fill="#55cc7b"/>
<rect x="455.61" y="140.43" width="14.19" height="3.77" fill="#4ccb84"/>
<rect x="469.50" y="140.43" width="14.19" height="3.77" fill="#44c98d"/>
<rect x="483.39" y="140.43" width="21.14" height="3.77" fill="#3cc895"/>
<rect x="504.23" y="140.43" width="7.25" height="3.77" fill="#44c98d"/>
<rect x="511.17" y="140.43" width="3.77" height="3.77" fill="#4ccb84"/>
<rect x="514.65" y="140.43" width="3.77" height="3.77" fill="#55cc7b"/>
<rect x="518.12" y="140.43" width="3.77" height="3.77" fill="#6dcc68"/>
<rect x="521.59" y="140.43" width="3.77" height="3.77" fill="#79cc5f"/>
<rect x="525.06" y="140.43" width="3.77" height="3.77" fill="#85cb56"/>
<rect x="528.54" y="140.43" width="10.72" height="3.77" fill="#92ca4c"/>
<rect x="538.95" y="140.43" width="3.77" height="3.77" fill="#85cb56"/>
<rect x="542.43" y="140.43" width="3.77" height="3.77" fill="#6dcc68"/>
<rect x="545.90" y="140.43" width="3.77" height="3.77" fill="#61cc72"/>
<rect x="549.37" y="140.43" width="3.77" height="3.77" fill="#55cc7b"/>
<rect x="552.85" y="140.43" width="3.77" height="3.77" fill="#4ccb84"/>
<rect x="556.32" y="140.43" width="3.77" height="3.77" fill="#44c98d"/>
<rect x="559.79" y="140.43" width="7.25" height="3.77" fill="#3cc895"/>
<rect x="566.74" y="140.43" width="7.25" height="3.77" fill="#33c69e"/>
<rect x="573.68" y="140.43" width="7.25" height="3.77" fill="#2ac4a6"/>
<rect x="580.63" y="140.43" width="3.77" height="3.77" fill="#1fc2ad"/>
<rect x="584.10" y="140.43" width="21.14" height="3.77" fill="#15bfb5"/>
<rect x="372.26" y="143.90" width="41.97" height="3.77" fill="#3cc895"/>
<rect x="413.94" y="143.90" width="10.72" height="3.77" fill="#44c98d"/>
<rect x="424.35" y="143.90" width="38.50" height="3.77" fill="#4ccb84"/>
<rect x="462.55" y="143.90" width="17.66" height="3.77" fill="#44c98d"/>
<rect x="479.92" y="143.90" width="24.61" height="3.77" fill="#3cc895"/>
<rect x="504.23" y="143.90" width="7.25" height="3.77" fill="#44c98d"/>
<rect x="511.17" y="143.90" width="3.77" height="3.77" fill="#4ccb84"/>
<rect x="514.65" y="143.90" width="3.77" height="3.77" fill="#55cc7b"/>
<rect x="518.12" y="143.90" width="3.77" height="3.77" fill="#61cc72"/>
<rect x="521.59" y="143.90" width="3.77" height="3.77" fill="#79cc5f"/>
<rect x="525.06" y="143.90" width="7.25" height="3.77" fill="#85cb56"/>
<rect x="532.01" y="143.90" width="3.77" height="3.77" fill="#92ca4c"/>
<rect x="535.48" y="143.90" width="3.77" height="3.77" fill="#85cb56"/>
<rect x="538.95" y="143.90" width="3.77" height="3.77" fill="#79cc5f"/>
<rect x="542.43" y="143.90" width="3.77" height="3.77" fill="#6dcc68"/>
<rect x="545.90" y="143.90" width="3.77" height="3.77" fill="#61cc72"/>
<rect x="549.37" y="143.90" width="3.77" height="3.77" fill="#55cc7b"/>
<rect x="552.85" y="143.90" width="7.25" height="3.77" fill="#44c98d"/>
<rect x="559.79" y="143.90" width="7.25" height="3.77" fill="#3cc895"/>
<rect x="566.74" y="143.90" width="7.25" height="3.77" fill="#33c69e"/>
<rect x="573.68" y="143.90" width="7.25" height="3.77" fill="#2ac4a6"/>
<rect x="580.63" y="143.90" width="7.25" height="3.77" fill="#1fc2ad"/>
<rect x="587.57" y="143.90" width="14.19" height="3.77" fill="#15bfb5"/>
<rect x="601.46" y="143.90" width="3.77" height="3.77" fill="#1fc2ad"/>
<rect x="372.26" y="147.37" width="24.61" height="3.77" fill="#3cc895"/>
<rect x="396.57" y="147.37" width="10.72" height="3.77" fill="#33c69e"/>
<rect x="406.99" y="147.37" width="10.72" height="3.77" fill="#2ac4a6"/>
<rect x="417.41" y="147.37" width="7.25" height="3.77" fill="#33c69e"/>
<rect x="424.35" y="147.37" width="7.25" height="3.77" fill="#3cc895"/>
<rect x="431.30" y="147.37" width="45.45" height="3.77" fill="#44c98d"/>
<rect x="476.45" y="147.37" width="31.55" height="3.77" fill="#3cc895"/>
<rect x="507.70" y="147.37" width="3.77" height="3.77" fill="#44c98d"/>
<rect x="511.17" y="147.37" width="3.77" height="3.77" fill="#4ccb84"/>
<rect x="514.65" y="147.37" width="3.77" height="3.77" fill="#55cc7b"/>
<rect x="518.12" y="147.37" width="3.77" height="3.77" fill="#61cc72"/>
<rect x="521.59" y="147.37" width="3.77" height="3.77" fill="#6dcc68"/>
<rect x="525.06" y="147.37" width="3.77" height="3.77" fill="#79cc5f"/>
<rect x="528.54" y="147.37" width="10.72" height="3.77" fill="#85cb56"/>
<rect x="538.95" y="147.37" width="3.77" height="3.77" fill="#79cc5f"/>
<rect x="542.43" y="147.37" width="3.77" height="3.77" fill="#6dcc68"/>
<rect x="545.90" y="147.37" width="3.77" height="3.77" fill="#55cc7b"/>
<rect x="549.37" y="147.37" width="3.77" height="3.77" fill="#4ccb84"/>
<rect x="552.85" y="147.37" width="7.25" height="3.77" fill="#44c98d"/>
<rect x="559.79" y="147.37" width="7.25" height="3.77" fill="#3cc895"/>
<rect x="566.74" y="147.37" width="10.72" height="3.77" fill="#33c69e"/>
<rect x="577.15" y="147.37" width="7.25" height="3.77" fill="#2ac4a6"/>
<rect x="584.10" y="147.37" width="7.25" height="3.77" fill="#1fc2ad"/>
<rect x="591.05" y="147.37" width="10.72" height="3.77" fill="#15bfb5"/>
<rect x="601.46" y="147.37" width="3.77" height="3.77" fill="#1fc2ad"/>
<rect x="372.26" y="150.85" width="17.66" height="3.77" fill="#3cc895"/>
<rect x="389.63" y="150.85" width="7.25" height="3.77" fill="#33c69e"/>
<rect x="396.57" y="150.85" width="7.25" height="3.77" fill="#2ac4a6"/>
<rect x="403.52" y="150.85" width="3.77" height="3.77" fill="#1fc2ad"/>
<rect x="406.99" y="150.85" width="3.77" height="3.77" fill="#15bfb5"/>
<rect x="410.46" y="150.85" width="7.25" height="3.77" fill="#0abdbc"/>
<rect x="417.41" y="150.85" width="7.25" height="3.77" fill="#15bfb5"/>
<rect x="424.35" y="150.85" width="3.77" height="3.77" fill="#1fc2ad"/>
<rect x="427.83" y="150.85" width="3.77" height="3.77" fill="#2ac4a6"/>
<rect x="431.30" y="150.85" width="10.72" height="3.77" fill="#33c69e"/>
<rect x="441.72" y="150.85" width="10.72" height="3.77" fill="#3cc895"/>
<rect x="452.14" y="150.85" width="3.77" height="3.77" fill="#44c98d"/>
<rect x="455.61" y="150.85" width="17.66" height="3.77" fill="#4ccb84"/>
<rect x="472.97" y="150.85" width="3.77" height="3.77" fill="#44c98d"/>
<rect x="476.45" y="150.85" width="14.19" height="3.77" fill="#3cc895"/>
<rect x="490.34" y="150.85" width="7.25" height="3.77" fill="#33c69e"/>
<rect x="497.28" y="150.85" width="10.72" height="3.77" fill="#3cc895"/>
<rect x="507.70" y="150.85" width="7.25" height="3.77" fill="#44c98d"/>
<rect x="514.65" y="150.85" width="3.77" height="3.77" fill="#4ccb84"/>
<rect x="518.12" y="150.85" width="3.77" height="3.77" fill="#61cc72"/>
<rect x="521.59" y="150.85" width="3.77" height="3.77" fill="#6dcc68"/>
<rect x="525.06" y="150.85" width="14.19" height="3.77" fill="#79cc5f"/>
<rect x="538.95" y="150.85" width="3.77" height="3.77" fill="#6dcc68"/>
<rect x="542.43" y="150.85" width="3.77" height="3.77" fill="#61cc72"/>
<rect x="545.90" y="150.85" width="3.77" height="3.77" fill="#55cc7b"/>
<rect x="549.37" y="150.85" width="3.77" height="3.77" fill="#4ccb84"/>
<rect x="552.85" y="150.85" width="7.25" height="3.77" fill="#44c98d"/>
<rect x="559.79" y="150.85" width="7.25" height="3.77" fill="#3cc895"/>
<rect x="566.74" y="150.85" width="10.72" height="3.77" fill="#33c69e"/>
<rect x="577.15" y="150.85" width="7.25" height="3.77" fill="#2ac4a6"/>
<rect x="584.10" y="150.85" width="21.14" height="3.77" fill="#1fc2ad"/>
<rect x="372.26" y="154.32" width="7.25" height="3.77" fill="#44c98d"/>
<rect x="379.21" y="154.32" width="7.25" height="3.77" fill="#3cc895"/>
<rect x="386.15" y="154.32" width="7.25" height="3.77" fill="#33c69e"/>
<rect x="393.10" y="154.32" width="3.77" height="3.77" fill="#2ac4a6"/>
<rect x="396.57" y="154.32" width="3.77" height="3.77" fill="#1fc2ad"/>
<rect x="400.05" y="154.32" width="3.77" height="3.77" fill="#15bfb5"/>
<rect x="403.52" y="154.32" width="3.77" height="3.77" fill="#07bbc2"/>
<rect x="406.99" y="154.32" width="3.77" height="3.77" fill="#08b9c7"/>
<rect x="410.46" y="154.32" width="3.77" height="3.77" fill="#09b6cc"/>
<rect x="413.94" y="154.32" width="3.77" height="3.77" fill="#0bb4d0"/>
<rect x="417.41" y="154.32" width="3.77" height="3.77" fill="#09b6cc"/>
<rect x="420.88" y="154.32" width="3.77" height="3.77" fill="#08b9c7"/>
<rect x="424.35" y="154.32" width="3.77" height="3.77" fill="#07bbc2"/>
<rect x="427.83" y="154.32" width="7.25" height="3.77" fill="#15bfb5"/>
<rect x="434.77" y="154.32" width="3.77" height="3.77" fill="#1fc2ad"/>
<rect x="438.25" y="154.32" width="7.25" height="3.77" fill="#2ac4a6"/>
<rect x="445.19" y="154.32" width="3.77" height="3.77" fill="#33c69e"/>
<rect x="448.66" y="154.32" width="3.77" height="3.77" fill="#3cc895"/>
<rect x="452.14" y="154.32" width="3.77" height="3.77" fill="#44c98d"/>
<rect x="455.61" y="154.32" width="3.77" height="3.77" fill="#4ccb84"/>
<rect x="459.08" y="154.32" width="3.77" height="3.77" fill="#55cc7b"/>
<rect x="462.55" y="154.32" width="3.77" height="3.77" fill="#61cc72"/>
<rect x="466.03" y="154.32" width="7.25" height="3.77" fill="#55cc7b"/>
<rect x="472.97" y="154.32" width="3.77" height="3.77" fill="#4ccb84"/>
<rect x="476.45" y="154.32" width="3.77" height="3.77" fill="#44c98d"/>
<rect x="479.92" y="154.32" width="7.25" height="3.77" fill="#3cc895"/>
<rect x="486.86" y="154.32" width="21.14" height="3.77" fill="#33c69e"/>
<rect x="507.70" y="154.32" width="3.77" height="3.77" fill="#3cc895"/>
<rect x="511.17" y="154.32" width="3.77" height="3.77" fill="#44c98d"/>
<rect x="514.65" y="154.32" width="3.77" height="3.77" fill="#4ccb84"/>
<rect x="518.12" y="154.32" width="3.77" height="3.77" fill="#55cc7b"/>
<rect x="521.59" y="154.32" width="3.77" height="3.77" fill="#61cc72"/>
<rect x="525.06" y="154.32" width="7.25" height="3.77" fill="#6dcc68"/>
<rect x="532.01" y="154.32" width="3.77" height="3.77" fill="#79cc5f"/>
<rect x="535.48" y="154.32" width="7.25" height="3.77" fill="#6dcc68"/>
<rect x="542.43" y="154.32" width="3.77" height="3.77" fill="#61cc72"/>
<rect x="545.90" y="154.32" width="3.77" height="3.77" fill="#55cc7b"/>
<rect x="549.37" y="154.32" width="3.77" height="3.77" fill="#4ccb84"/>
<rect x="552.85" y="154.32" width="7.25" height="3.77" fill="#44c98d"/>
<rect x="559.79" y="154.32" width="10.72" height="3.77" fill="#3cc895"/>
<rect x="570.21" y="154.32" width="10.72" height="3.77" fill="#33c69e"/>
<rect x="580.63" y="154.32" width="10.72" height="3.77" fill="#2ac4a6"/>
<rect x="591.05" y="154.32" width="10.72" height="3.77" fill="#1fc2ad"/>
<rect x="601.46" y="154.32" width="3.77" height="3.77" fill="#2ac4a6"/>
<rect x="372.26" y="157.79" width="3.77" height="3.77" fill="#4ccb84"/>
<rect x="375.74" y="157.79" width="7.25" height="3.77" fill="#44c98d"/>
<rect x="382.68" y="157.79" width="3.77" height="3.77" fill="#3cc895"/>
<rect x="386.15" y="157.79" width="3.77" height="3.77" fill="#33c69e"/>
<rect x="389.63" y="157.79" width="3.77" height="3.77" fill="#2ac4a6"/>
<rect x="393.10" y="157.79" width="3.77" height="3.77" fill="#1fc2ad"/>
<rect x="396.57" y="157.79" width="3.77" height="3.77" fill="#15bfb5"/>
<rect x="400.05" y="157.79" width="3.77" height="3.77" fill="#07bbc2"/>
<rect x="403.52" y="157.79" width="3.77" height="3.77" fill="#09b6cc"/>
<rect x="406.99" y="157.79" width="3.77" height="3.77" fill="#13aed9"/>
<rect x="410.46" y="157.79" width="3.77" height="3.77" fill="#19aadd"/>
<rect x="413.94" y="157.79" width="3.77" height="3.77" fill="#1ea6e1"/>
<rect x="417.41" y="157.79" width="3.77" height="3.77" fill="#19aadd"/>
<rect x="420.88" y="157.79" width="3.77" height="3.77" fill="#13aed9"/>
<rect x="424.35" y="157.79" width="3.77" height="3.77" fill="#0bb4d0"/>
<rect x="427.83" y="157.79" width="3.77" height="3.77" fill="#08b9c7"/>
<rect x="431.30" y="157.79" width="3.77" height="3.77" fill="#07bbc2"/>
<rect x="434.77" y="157.79" width="3.77" height="3.77" fill="#0abdbc"/>
<rect x="438.25" y="157.79" width="3.77" height="3.77" fill="#15bfb5"/>
<rect x="441.72" y="157.79" width="3.77" height="3.77" fill="#1fc2ad"/>
<rect x="445.19" y="157.79" width="3.77" height="3.77" fill="#2ac4a6"/>
<rect x="448.66" y="157.79" width="3.77" height="3.77" fill="#3cc895"/>
<rect x="452.14" y="157.79" width="3.77" height="3.77" fill="#4ccb84"/>
<rect x="455.61" y="157.79" width="3.77" height="3.77" fill="#61cc72"/>
<rect x="459.08" y="157.79" width="3.77" height="3.77" fill="#6dcc68"/>
<rect x="462.55" y="157.79" width="7.25" height="3.77" fill="#79cc5f"/>
<rect x="469.50" y="157.79" width="3.77" height="3.77" fill="#61cc72"/>
<rect x="472.97" y="157.79" width="3.77" height="3.77" fill="#55cc7b"/>
<rect x="476.45" y="157.79" width="3.77" height="3.77" fill="#44c98d"/>
<rect x="479.92" y="157.79" width="3.77" height="3.77" fill="#3cc895"/>
<rect x="483.39" y="157.79" width="7.25" height="3.77" fill="#33c69e"/>
<rect x="490.34" y="157.79" width="17.66" height="3.77" fill="#2ac4a6"/>
<rect x="507.70" y="157.79" width="3.77" height="3.77" fill="#33c69e"/>
<rect x="511.17" y="157.79" width="3.77" height="3.77" fill="#3cc895"/>
<rect x="514.65" y="157.79" width="3.77" height="3.77" fill="#44c98d"/>
<rect x="518.12" y="157.79" width="3.77" height="3.77" fill="#4ccb84"/>
<rect x="521.59" y="157.79" width="3.77" height="3.77" fill="#55cc7b"/>
<rect x="525.06" y="157.79" width="3.77" height="3.77" fill="#61cc72"/>
<rect x="528.54" y="157.79" width="10.72" height="3.77" fill="#6dcc68"/>
<rect x="538.95" y="157.79" width="3.77" height="3.77" fill="#61cc72"/>
<rect x="542.43" y="157.79" width="3.77" height="3.77" fill="#55cc7b"/>
<rect x="545.90" y="157.79" width="7.25" height="3.77" fill="#4ccb84"/>
<rect x="552.85" y="157.79" width="7.25" height="3.77" fill="#44c98d"/>
<rect x="559.79" y="157.79" width="14.19" height="3.77" fill="#3cc895"/>
<rect x="573.68" y="157.79" width="10.72" height="3.77" fill="#33c69e"/>
<rect x="584.10" y="157.79" width="21.14" height="3.77" fill="#2ac4a6"/>
<rect x="372.26" y="161.26" width="7.25" height="3.77" fill="#55cc7b"/>
<rect x="379.21" y="161.26" width="3.77" height="3.77" fill="#4ccb84"/>
<rect x="382.68" y="161.26" width="3.77" height="3.77" fill="#3cc895"/>
<rect x="386.15" y="161.26" width="3.77" height="3.77" fill="#33c69e"/>
<rect x="389.63" y="161.26" width="3.77" height="3.77" fill="#2ac4a6"/>
<rect x="393.10" y="161.26" width="3.77" height="3.77" fill="#1fc2ad"/>
<rect x="396.57" y="161.26" width="3.77" height="3.77" fill="#0abdbc"/>
<rect x="400.05" y="161.26" width="3.77" height="3.77" fill="#09b6cc"/>
<rect x="403.52" y="161.26" width="3.77" height="3.77" fill="#13aed9"/>
<rect x="406.99" y="161.26" width="3.77" height="3.77" fill="#1ea6e1"/>
<rect x="410.46" y="161.26" width="10.72" height="3.77" fill="#2798ea"/>
<rect x="420.88" y="161.26" width="3.77" height="3.77" fill="#22a2e4"/>
<rect x="424.35" y="161.26" width="3.77" height="3.77" fill="#19aadd"/>
<rect x="427.83" y="161.26" width="3.77" height="3.77" fill="#0eb1d5"/>
<rect x="431.30" y="161.26" width="3.77" height="3.77" fill="#0bb4d0"/>
<rect x="434.77" y="161.26" width="3.77" height="3.77" fill="#08b9c7"/>
<rect x="438.25" y="161.26" width="3.77" height="3.77" fill="#07bbc2"/>
<rect x="441.72" y="161.26" width="3.77" height="3.77" fill="#15bfb5"/>
<rect x="445.19" y="161.26" width="3.77" height="3.77" fill="#2ac4a6"/>
<rect x="448.66" y="161.26" width="3.77" height="3.77" fill="#3cc895"/>
<rect x="452.14" y="161.26" width="3.77" height="3.77" fill="#55cc7b"/>
<rect x="455.61" y="161.26" width="3.77" height="3.77" fill="#79cc5f"/>
<rect x="459.08" y="161.26" width="3.77" height="3.77" fill="#92ca4c"/>
<rect x="462.55" y="161.26" width="3.77" height="3.77" fill="#9fc843"/>
<rect x="466.03" y="161.26" width="3.77" height="3.77" fill="#92ca4c"/>
<rect x="469.50" y="161.26" width="3.77" height="3.77" fill="#79cc5f"/>
<rect x="472.97" y="161.26" width="3.77" height="3.77" fill="#61cc72"/>
<rect x="476.45" y="161.26" width="3.77" height="3.77" fill="#4ccb84"/>
<rect x="479.92" y="161.26" width="3.77" height="3.77" fill="#3cc895"/>
<rect x="483.39" y="161.26" width="3.77" height="3.77" fill="#33c69e"/>
<rect x="486.86" y="161.26" width="3.77" height="3.77" fill="#2ac4a6"/>
<rect x="490.34" y="161.26" width="7.25" height="3.77" fill="#1fc2ad"/>
<rect x="497.28" y="161.26" width="3.77" height="3.77" fill="#15bfb5"/>
<rect x="500.75" y="161.26" width="7.25" height="3.77" fill="#1fc2ad"/>
<rect x="507.70" y="161.26" width="3.77" height="3.77" fill="#2ac4a6"/>
<rect x="511.17" y="161.26" width="3.77" height="3.77" fill="#33c69e"/>
<rect x="514.65" y="161.26" width="3.77" height="3.77" fill="#3cc895"/>
<rect x="518.12" y="161.26" width="3.77" height="3.77" fill="#44c98d"/>
<rect x="521.59" y="161.26" width="3.77" height="3.77" fill="#4ccb84"/>
<rect x="525.06" y="161.26" width="3.77" height="3.77" fill="#55cc7b"/>
<rect x="528.54" y="161.26" width="10.72" height="3.77" fill="#61cc72"/>
<rect x="538.95" y="161.26" width="7.25" height="3.77" fill="#55cc7b"/>
<rect x="545.90" y="161.26" width="7.25" height="3.77" fill="#4ccb84"/>
<rect x="552.85" y="161.26" width="10.72" height="3.77" fill="#44c98d"/>
<rect x="563.26" y="161.26" width="17.66" height="3.77" fill="#3cc895"/>
<rect x="580.63" y="161.26" width="10.72" height="3.77" fill="#33c69e"/>
<rect x="591.05" y="161.26" width="14.19" height="3.77" fill="#2ac4a6"/>
<rect x="372.26" y="164.74" width="3.77" height="3.77" fill="#6dcc68"/>
<rect x="375.74" y="164.74" width="3.77" height="3.77" fill="#61cc72"/>
<rect x="379.21" y="164.74" width="3.77" height="3.77" fill="#55cc7b"/>
<rect x="382.68" y="164.74" width="3.77" height="3.77" fill="#44c98d"/>
<rect x="386.15" y="164.74" width="3.77" height="3.77" fill="#33c69e"/>
<rect x="389.63" y="164.74" width="3.77" height="3.77" fill="#2ac4a6"/>
<rect x="393.10" y="164.74" width="3.77" height="3.77" fill="#15bfb5"/>
<rect x="396.57" y="164.74" width="3.77" height="3.77" fill="#07bbc2"/>
<rect x="400.05" y="164.74" width="3.77" height="3.77" fill="#0bb4d0"/>
<rect x="403.52" y="164.74" width="3.77" height="3.77" fill="#19aadd"/>
<rect x="406.99" y="164.74" width="3.77" height="3.77" fill="#249de7"/>
<rect x="410.46" y="164.74" width="3.77" height="3.77" fill="#2c8ef1"/>
<rect x="413.94" y="164.74" width="7.25" height="3.77" fill="#2e88f4"/>
<rect x="420.88" y="164.74" width="3.77" height="3.77" fill="#2a93ed"/>
<rect x="424.35" y="164.74" width="3.77" height="3.77" fill="#249de7"/>
<rect x="427.83" y="164.74" width="3.77" height="3.77" fill="#1ea6e1"/>
<rect x="431.30" y="164.74" width="3.77" height="3.77" fill="#19aadd"/>
<rect x="434.77" y="164.74" width="3.77" height="3.77" fill="#0eb1d5"/>
<rect x="438.25" y="164.74" width="3.77" height="3.77" fill="#09b6cc"/>
<rect x="441.72" y="164.74" width="3.77" height="3.77" fill="#07bbc2"/>
<rect x="445.19" y="164.74" width="3.77" height="3.77" fill="#15bfb5"/>
<rect x="448.66" y="164.74" width="3.77" height="3.77" fill="#3cc895"/>
<rect x="452.14" y="164.74" width="3.77" height="3.77" fill="#55cc7b"/>
<rect x="455.61" y="164.74" width="3.77" height="3.77" fill="#85cb56"/>
<rect x="459.08" y="164.74" width="3.77" height="3.77" fill="#acc639"/>
<rect x="462.55" y="164.74" width="3.77" height="3.77" fill="#b8c432"/>
<rect x="466.03" y="164.74" width="3.77" height="3.77" fill="#acc639"/>
<rect x="469.50" y="164.74" width="3.77" height="3.77" fill="#92ca4c"/>
<rect x="472.97" y="164.74" width="3.77" height="3.77" fill="#6dcc68"/>
<rect x="476.45" y="164.74" width="3.77" height="3.77" fill="#4ccb84"/>
<rect x="479.92" y="164.74" width="3.77" height="3.77" fill="#3cc895"/>
<rect x="483.39" y="164.74" width="3.77" height="3.77" fill="#2ac4a6"/>
<rect x="486.86" y="164.74" width="3.77" height="3.77" fill="#1fc2ad"/>
<rect x="490.34" y="164.74" width="3.77" height="3.77" fill="#15bfb5"/>
<rect x="493.81" y="164.74" width="10.72" height="3.77" fill="#0abdbc"/>
<rect x="504.23" y="164.74" width="3.77" height="3.77" fill="#15bfb5"/>
<rect x="507.70" y="164.74" width="3.77" height="3.77" fill="#1fc2ad"/>
<rect x="511.17" y="164.74" width="3.77" height="3.77" fill="#2ac4a6"/>
<rect x="514.65" y="164.74" width="3.77" height="3.77" fill="#33c69e"/>
<rect x="518.12" y="164.74" width="3.77" height="3.77" fill="#44c98d"/>
<rect x="521.59" y="164.74" width="3.77" height="3.77" fill="#4ccb84"/>
<rect x="525.06" y="164.74" width="21.14" height="3.77" fill="#55cc7b"/>
<rect x="545.90" y="164.74" width="7.25" height="3.77" fill="#4ccb84"/>
<rect x="552.85" y="164.74" width="21.14" height="3.77" fill="#44c98d"/>
<rect x="573.68" y="164.74" width="14.19" height="3.77" fill="#3cc895"/>
<rect x="587.57" y="164.74" width="17.66" height="3.77" fill="#33c69e"/>
<rect x="372.26" y="168.21" width="3.77" height="3.77" fill="#85cb56"/>
<rect x="375.74" y="168.21" width="3.77" height="3.77" fill="#79cc5f"/>
<rect x="379.21" y="168.21" width="3.77" height="3.77" fill="#61cc72"/>
<rect x="382.68" y="168.21" width="3.77" height="3.77" fill="#44c98d"/>
<rect x="386.15" y="168.21" width="3.77" height="3.77" fill="#33c69e"/>
<rect x="389.63" y="168.21" width="3.77" height="3.77" fill="#1fc2ad"/>
<rect x="393.10" y="168.21" width="3.77" height="3.77" fill="#0abdbc"/>
<rect x="396.57" y="168.21" width="3.77" height="3.77" fill="#08b9c7"/>
<rect x="400.05" y="168.21" width="3.77" height="3.77" fill="#0eb1d5"/>
<rect x="403.52" y="168.21" width="3.77" height="3.77" fill="#1ea6e1"/>
<rect x="406.99" y="168.21" width="3.77" height="3.77" fill="#2798ea"/>
<rect x="410.46" y="168.21" width="3.77" height="3.77" fill="#2e88f4"/>
<rect x="413.94" y="168.21" width="3.77" height="3.77" fill="#3083f8"/>
<rect x="417.41" y="168.21" width="3.77" height="3.77" fill="#327dfb"/>
<rect x="420.88" y="168.21" width="3.77" height="3.77" fill="#3083f8"/>
<rect x="424.35" y="168.21" width="3.77" height="3.77" fill="#2c8ef1"/>
<rect x="427.83" y="168.21" width="3.77" height="3.77" fill="#2798ea"/>
<rect x="431.30" y="168.21" width="3.77" height="3.77" fill="#22a2e4"/>
<rect x="434.77" y="168.21" width="3.77" height="3.77" fill="#19aadd"/>
<rect x="438.25" y="168.21" width="3.77" height="3.77" fill="#0eb1d5"/>
<rect x="441.72" y="168.21" width="3.77" height="3.77" fill="#09b6cc"/>
<rect x="445.19" y="168.21" width="3.77" height="3.77" fill="#0abdbc"/>
<rect x="448.66" y="168.21" width="3.77" height="3.77" fill="#2ac4a6"/>
<rect x="452.14" y="168.21" width="3.77" height="3.77" fill="#55cc7b"/>
<rect x="455.61" y="168.21" width="3.77" height="3.77" fill="#85cb56"/>
<rect x="459.08" y="168.21" width="3.77" height="3.77" fill="#acc639"/>
<rect x="462.55" y="168.21" width="3.77" height="3.77" fill="#c4c230"/>
<rect x="466.03" y="168.21" width="3.77" height="3.77" fill="#b8c432"/>
<rect x="469.50" y="168.21" width="3.77" height="3.77" fill="#9fc843"/>
<rect x="472.97" y="168.21" width="3.77" height="3.77" fill="#79cc5f"/>
<rect x="476.45" y="168.21" width="3.77" height="3.77" fill="#4ccb84"/>
<rect x="479.92" y="168.21" width="3.77" height="3.77" fill="#3cc895"/>
<rect x="483.39" y="168.21" width="3.77" height="3.77" fill="#1fc2ad"/>
<rect x="486.86" y="168.21" width="3.77" height="3.77" fill="#15bfb5"/>
<rect x="490.34" y="168.21" width="3.77" height="3.77" fill="#0abdbc"/>
<rect x="493.81" y="168.21" width="3.77" height="3.77" fill="#07bbc2"/>
<rect x="497.28" y="168.21" width="3.77" height="3.77" fill="#08b9c7"/>
<rect x="500.75" y="168.21" width="7.25" height="3.77" fill="#07bbc2"/>
<rect x="507.70" y="168.21" width="3.77" height="3.77" fill="#15bfb5"/>
<rect x="511.17" y="168.21" width="3.77" height="3.77" fill="#1fc2ad"/>
<rect x="514.65" y="168.21" width="3.77" height="3.77" fill="#33c69e"/>
<rect x="518.12" y="168.21" width="3.77" height="3.77" fill="#3cc895"/>
<rect x="521.59" y="168.21" width="3.77" height="3.77" fill="#44c98d"/>
<rect x="525.06" y="168.21" width="7.25" height="3.77" fill="#4ccb84"/>
<rect x="532.01" y="168.21" width="10.72" height="3.77" fill="#55cc7b"/>
<rect x="542.43" y="168.21" width="24.61" height="3.77" fill="#4ccb84"/>
<rect x="566.74" y="168.21" width="14.19" height="3.77" fill="#44c98d"/>
<rect x="580.63" y="168.21" width="14.19" height="3.77" fill="#3cc895"/>
<rect x="594.52" y="168.21" width="10.72" height="3.77" fill="#33c69e"/>
<rect x="372.26" y="171.68" width="3.77" height="3.77" fill="#9fc843"/>
<rect x="375.74" y="171.68" width="3.77" height="3.77" fill="#85cb56"/>
<rect x="379.21" y="171.68" width="3.77" height="3.77" fill="#6dcc68"/>
<rect x="382.68" y="171.68" width="3.77" height="3.77" fill="#4ccb84"/>
<rect x="386.15" y="171.68" width="3.77" height="3.77" fill="#33c69e"/>
<rect x="389.63" y="171.68" width="3.77" height="3.77" fill="#1fc2ad"/>
<rect x="393.10" y="171.68" width="3.77" height="3.77" fill="#0abdbc"/>
<rect x="396.57" y="171.68" width="3.77" height="3.77" fill="#09b6cc"/>
<rect x="400.05" y="171.68" width="3.77" height="3.77" fill="#0eb1d5"/>
<rect x="403.52" y="171.68" width="3.77" height="3.77" fill="#22a2e4"/>
<rect x="406.99" y="171.68" width="3.77" height="3.77" fill="#2a93ed"/>
<rect x="410.46" y="171.68" width="3.77" height="3.77" fill="#3083f8"/>
<rect x="413.94" y="171.68" width="10.72" height="3.77" fill="#3677fd"/>
<rect x="424.35" y="171.68" width="3.77" height="3.77" fill="#327dfb"/>
<rect x="427.83" y="171.68" width="3.77" height="3.77" fill="#2e88f4"/>
<rect x="431.30" y="171.68" width="3.77" height="3.77" fill="#2a93ed"/>
<rect x="434.77" y="171.68" width="3.77" height="3.77" fill="#249de7"/>
<rect x="438.25" y="171.68" width="3.77" height="3.77" fill="#1ea6e1"/>
<rect x="441.72" y="171.68" width="3.77" height="3.77" fill="#13aed9"/>
<rect x="445.19" y="171.68" width="3.77" height="3.77" fill="#09b6cc"/>
<rect x="448.66" y="171.68" width="3.77" height="3.77" fill="#15bfb5"/>
<rect x="452.14" y="171.68" width="3.77" height="3.77" fill="#44c98d"/>
<rect x="455.61" y="171.68" width="3.77" height="3.77" fill="#6dcc68"/>
<rect x="459.08" y="171.68" width="3.77" height="3.77" fill="#9fc843"/>
<rect x="462.55" y="171.68" width="7.25" height="3.77" fill="#acc639"/>
<rect x="469.50" y="171.68" width="3.77" height="3.77" fill="#92ca4c"/>
<rect x="472.97" y="171.68" width="3.77" height="3.77" fill="#61cc72"/>
<rect x="476.45" y="171.68" width="3.77" height="3.77" fill="#44c98d"/>
<rect x="479.92" y="171.68" width="3.77" height="3.77" fill="#33c69e"/>
<rect x="483.39" y="171.68" width="3.77" height="3.77" fill="#15bfb5"/>
<rect x="486.86" y="171.68" width="3.77" height="3.77" fill="#0abdbc"/>
<rect x="490.34" y="171.68" width="3.77" height="3.77" fill="#07bbc2"/>
<rect x="493.81" y="171.68" width="10.72" height="3.77" fill="#08b9c7"/>
<rect x="504.23" y="171.68" width="3.77" height="3.77" fill="#07bbc2"/>
<rect x="507.70" y="171.68" width="3.77" height="3.77" fill="#0abdbc"/>
<rect x="511.17" y="171.68" width="3.77" height="3.77" fill="#1fc2ad"/>
<rect x="514.65" y="171.68" width="3.77" height="3.77" fill="#2ac4a6"/>
<rect x="518.12" y="171.68" width="3.77" height="3.77" fill="#33c69e"/>
<rect x="521.59" y="171.68" width="3.77" height="3.77" fill="#3cc895"/>
<rect x="525.06" y="171.68" width="3.77" height="3.77" fill="#44c98d"/>
<rect x="528.54" y="171.68" width="52.39" height="3.77" fill="#4ccb84"/>
<rect x="580.63" y="171.68" width="7.25" height="3.77" fill="#44c98d"/>
<rect x="587.57" y="171.68" width="14.19" height="3.77" fill="#3cc895"/>
<rect x="601.46" y="171.68" width="3.77" height="3.77" fill="#33c69e"/>
<rect x="372.26" y="175.15" width="3.77" height="3.77" fill="#acc639"/>
<rect x="375.74" y="175.15" width="3.77" height="3.77" fill="#9fc843"/>
<rect x="379.21" y="175.15" width="3.77" height="3.77" fill="#79cc5f"/>
<rect x="382.68" y="175.15" width="3.77" height="3.77" fill="#4ccb84"/>
<rect x="386.15" y="175.15" width="3.77" height="3.77" fill="#33c69e"/>
<rect x="389.63" y="175.15" width="3.77" height="3.77" fill="#15bfb5"/>
<rect x="393.10" y="175.15" width="3.77" height="3.77" fill="#07bbc2"/>
<rect x="396.57" y="175.15" width="3.77" height="3.77" fill="#09b6cc"/>
<rect x="400.05" y="175.15" width="3.77" height="3.77" fill="#13aed9"/>
<rect x="403.52" y="175.15" width="3.77" height="3.77" fill="#22a2e4"/>
<rect x="406.99" y="175.15" width="3.77" height="3.77" fill="#2a93ed"/>
<rect x="410.46" y="175.15" width="3.77" height="3.77" fill="#3083f8"/>
<rect x="413.94" y="175.15" width="3.77" height="3.77" fill="#3677fd"/>
<rect x="417.41" y="175.15" width="7.25" height="3.77" fill="#3f6bfc"/>
<rect x="424.35" y="175.15" width="3.77" height="3.77" fill="#3a71fd"/>
<rect x="427.83" y="175.15" width="3.77" height="3.77" fill="#3677fd"/>
<rect x="431.30" y="175.15" width="3.77" height="3.77" fill="#3083f8"/>
<rect x="434.77" y="175.15" width="3.77" height="3.77" fill="#2c8ef1"/>
<rect x="438.25" y="175.15" width="3.77" height="3.77" fill="#2798ea"/>
<rect x="441.72" y="175.15" width="3.77" height="3.77" fill="#1ea6e1"/>
<rect x="445.19" y="175.15" width="3.77" height="3.77" fill="#0eb1d5"/>
<rect x="448.66" y="175.15" width="3.77" height="3.77" fill="#08b9c7"/>
<rect x="452.14" y="175.15" width="3.77" height="3.77" fill="#1fc2ad"/>
<rect x="455.61" y="175.15" width="3.77" height="3.77" fill="#4ccb84"/>
<rect x="459.08" y="175.15" width="3.77" height="3.77" fill="#6dcc68"/>
<rect x="462.55" y="175.15" width="7.25" height="3.77" fill="#85cb56"/>
<rect x="469.50" y="175.15" width="3.77" height="3.77" fill="#6dcc68"/>
<rect x="472.97" y="175.15" width="3.77" height="3.77" fill="#4ccb84"/>
<rect x="476.45" y="175.15" width="3.77" height="3.77" fill="#33c69e"/>
<rect x="479.92" y="175.15" width="3.77" height="3.77" fill="#1fc2ad"/>
<rect x="483.39" y="175.15" width="3.77" height="3.77" fill="#0abdbc"/>
<rect x="486.86" y="175.15" width="3.77" height="3.77" fill="#07bbc2"/>
<rect x="490.34" y="175.15" width="14.19" height="3.77" fill="#08b9c7"/>
<rect x="504.23" y="175.15" width="3.77" height="3.77" fill="#07bbc2"/>
<rect x="507.70" y="175.15" width="3.77" height="3.77" fill="#0abdbc"/>
<rect x="511.17" y="175.15" width="3.77" height="3.77" fill="#1fc2ad"/>
<rect x="514.65" y="175.15" width="3.77" height="3.77" fill="#2ac4a6"/>
<rect x="518.12" y="175.15" width="3.77" height="3.77" fill="#33c69e"/>
<rect x="521.59" y="175.15" width="7.25" height="3.77" fill="#3cc895"/>
<rect x="528.54" y="175.15" width="7.25" height="3.77" fill="#44c98d"/>
<rect x="535.48" y="175.15" width="7.25" height="3.77" fill="#4ccb84"/>
<rect x="542.43" y="175.15" width="17.66" height="3.77" fill="#55cc7b"/>
<rect x="559.79" y="175.15" width="10.72" height="3.77" fill="#61cc72"/>
<rect x="570.21" y="175.15" width="10.72" height="3.77" fill="#55cc7b"/>
<rect x="580.63" y="175.15" width="7.25" height="3.77" fill="#4ccb84"/>
<rect x="587.57" y="175.15" width="7.25" height="3.77" fill="#44c98d"/>
<rect x="594.52" y="175.15" width="10.72" height="3.77" fill="#3cc895"/>
<rect x="372.26" y="178.63" width="3.77" height="3.77" fill="#b8c432"/>
<rect x="375.74" y="178.63" width="3.77" height="3.77" fill="#9fc843"/>
<rect x="379.21" y="178.63" width="3.77" height="3.77" fill="#79cc5f"/>
<rect x="382.68" y="178.63" width="3.77" height="3.77" fill="#4ccb84"/>
<rect x="386.15" y="178.63" width="3.77" height="3.77" fill="#33c69e"/>
<rect x="389.63" y="178.63" width="3.77" height="3.77" fill="#15bfb5"/>
<rect x="393.10" y="178.63" width="3.77" height="3.77" fill="#08b9c7"/>
<rect x="396.57" y="178.63" width="3.77" height="3.77" fill="#0bb4d0"/>
<rect x="400.05" y="178.63" width="3.77" height="3.77" fill="#19aadd"/>
<rect x="403.52" y="178.63" width="3.77" height="3.77" fill="#249de7"/>
<rect x="406.99" y="178.63" width="3.77" height="3.77" fill="#2c8ef1"/>
<rect x="410.46" y="178.63" width="3.77" height="3.77" fill="#327dfb"/>
<rect x="413.94" y="178.63" width="3.77" height="3.77" fill="#3a71fd"/>
<rect x="417.41" y="178.63" width="3.77" height="3.77" fill="#3f6bfc"/>
<rect x="420.88" y="178.63" width="7.25" height="3.77" fill="#4365fc"/>
<rect x="427.83" y="178.63" width="3.77" height="3.77" fill="#3f6bfc"/>
<rect x="431.30" y="178.63" width="3.77" height="3.77" fill="#3677fd"/>
<rect x="434.77" y="178.63" width="3.77" height="3.77" fill="#3083f8"/>
<rect x="438.25" y="178.63" width="3.77" height="3.77" fill="#2e88f4"/>
<rect x="441.72" y="178.63" width="3.77" height="3.77" fill="#2798ea"/>
<rect x="445.19" y="178.63" width="3.77" height="3.77" fill="#22a2e4"/>
<rect x="448.66" y="178.63" width="3.77" height="3.77" fill="#13aed9"/>
<rect x="452.14" y="178.63" width="3.77" height="3.77" fill="#08b9c7"/>
<rect x="455.61" y="178.63" width="3.77" height="3.77" fill="#1fc2ad"/>
<rect x="459.08" y="178.63" width="3.77" height="3.77" fill="#3cc895"/>
<rect x="462.55" y="178.63" width="7.25" height="3.77" fill="#4ccb84"/>
<rect x="469.50" y="178.63" width="3.77" height="3.77" fill="#44c98d"/>
<rect x="472.97" y="178.63" width="3.77" height="3.77" fill="#33c69e"/>
<rect x="476.45" y="178.63" width="3.77" height="3.77" fill="#1fc2ad"/>
<rect x="479.92" y="178.63" width="3.77" height="3.77" fill="#0abdbc"/>
<rect x="483.39" y="178.63" width="3.77" height="3.77" fill="#07bbc2"/>
<rect x="486.86" y="178.63" width="14.19" height="3.77" fill="#08b9c7"/>
<rect x="500.75" y="178.63" width="3.77" height="3.77" fill="#07bbc2"/>
<rect x="504.23" y="178.63" width="3.77" height="3.77" fill="#0abdbc"/>
<rect x="507.70" y="178.63" width="3.77" height="3.77" fill="#15bfb5"/>
<rect x="511.17" y="178.63" width="3.77" height="3.77" fill="#1fc2ad"/>
<rect x="514.65" y="178.63" width="10.72" height="3.77" fill="#2ac4a6"/>
<rect x="525.06" y="178.63" width="3.77" height="3.77" fill="#33c69e"/>
<rect x="528.54" y="178.63" width="7.25" height="3.77" fill="#3cc895"/>
<rect x="535.48" y="178.63" width="3.77" height="3.77" fill="#44c98d"/>
<rect x="538.95" y="178.63" width="3.77" height="3.77" fill="#4ccb84"/>
<rect x="542.43" y="178.63" width="7.25" height="3.77" fill="#55cc7b"/>
<rect x="549.37" y="178.63" width="7.25" height="3.77" fill="#61cc72"/>
<rect x="556.32" y="178.63" width="17.66" height="3.77" fill="#6dcc68"/>
<rect x="573.68" y="178.63" width="7.25" height="3.77" fill="#61cc72"/>
<rect x="580.63" y="178.63" width="7.25" height="3.77" fill="#55cc7b"/>
<rect x="587.57" y="178.63" width="7.25" height="3.77" fill="#4ccb84"/>
<rect x="594.52" y="178.63" width="7.25" height="3.77" fill="#44c98d"/>
<rect x="601.46" y="178.63" width="3.77" height="3.77" fill="#3cc895"/>
<rect x="372.26" y="182.10" width="3.77" height="3.77" fill="#b8c432"/>
<rect x="375.74" y="182.10" width="3.77" height="3.77" fill="#9fc843"/>
<rect x="379.21" y="182.10" width="3.77" height="3.77" fill="#79cc5f"/>
<rect x="382.68" y="182.10" width="3.77" height="3.77" fill="#4ccb84"/>
<rect x="386.15" y="182.10" width="3.77" height="3.77" fill="#2ac4a6"/>
<rect x="389.63" y="182.10" width="3.77" height="3.77" fill="#0abdbc"/>
<rect x="393.10" y="182.10" width="3.77" height="3.77" fill="#09b6cc"/>
<rect x="396.57" y="182.10" width="3.77" height="3.77" fill="#0eb1d5"/>
<rect x="400.05" y="182.10" width="3.77" height="3.77" fill="#1ea6e1"/>
<rect x="403.52" y="182.10" width="3.77" height="3.77" fill="#249de7"/>
<rect x="406.99" y="182.10" width="3.77" height="3.77" fill="#2c8ef1"/>
<rect x="410.46" y="182.10" width="3.77" height="3.77" fill="#327dfb"/>
<rect x="413.94" y="182.10" width="3.77" height="3.77" fill="#3a71fd"/>
<rect x="417.41" y="182.10" width="3.77" height="3.77" fill="#4365fc"/>
<rect x="420.88" y="182.10" width="7.25" height="3.77" fill="#455ffb"/>
<rect x="427.83" y="182.10" width="3.77" height="3.77" fill="#4365fc"/>
<rect x="431.30" y="182.10" width="3.77" height="3.77" fill="#3f6bfc"/>
<rect x="434.77" y="182.10" width="3.77" height="3.77" fill="#3a71fd"/>
<rect x="438.25" y="182.10" width="3.77" height="3.77" fill="#327dfb"/>
<rect x="441.72" y="182.10" width="3.77" height="3.77" fill="#3083f8"/>
<rect x="445.19" y="182.10" width="3.77" height="3.77" fill="#2a93ed"/>
<rect x="448.66" y="182.10" width="3.77" height="3.77" fill="#249de7"/>
<rect x="452.14" y="182.10" width="3.77" height="3.77" fill="#19aadd"/>
<rect x="455.61" y="182.10" width="3.77" height="3.77" fill="#0bb4d0"/>
<rect x="459.08" y="182.10" width="3.77" height="3.77" fill="#07bbc2"/>
<rect x="462.55" y="182.10" width="3.77" height="3.77" fill="#15bfb5"/>
<rect x="466.03" y="182.10" width="3.77" height="3.77" fill="#1fc2ad"/>
<rect x="469.50" y="182.10" width="3.77" height="3.77" fill="#15bfb5"/>
<rect x="472.97" y="182.10" width="3.77" height="3.77" fill="#0abdbc"/>
<rect x="476.45" y="182.10" width="3.77" height="3.77" fill="#07bbc2"/>
<rect x="479.92" y="182.10" width="3.77" height="3.77" fill="#08b9c7"/>
<rect x="483.39" y="182.10" width="10.72" height="3.77" fill="#09b6cc"/>
<rect x="493.81" y="182.10" width="3.77" height="3.77" fill="#08b9c7"/>
<rect x="497.28" y="182.10" width="3.77" height="3.77" fill="#07bbc2"/>
<rect x="500.75" y="182.10" width="3.77" height="3.77" fill="#0abdbc"/>
<rect x="504.23" y="182.10" width="7.25" height="3.77" fill="#15bfb5"/>
<rect x="511.17" y="182.10" width="17.66" height="3.77" fill="#1fc2ad"/>
<rect x="528.54" y="182.10" width="3.77" height="3.77" fill="#2ac4a6"/>
<rect x="532.01" y="182.10" width="3.77" height="3.77" fill="#33c69e"/>
<rect x="535.48" y="182.10" width="3.77" height="3.77" fill="#44c98d"/>
<rect x="538.95" y="182.10" width="3.77" height="3.77" fill="#4ccb84"/>
<rect x="542.43" y="182.10" width="3.77" height="3.77" fill="#55cc7b"/>
<rect x="545.90" y="182.10" width="3.77" height="3.77" fill="#61cc72"/>
<rect x="549.37" y="182.10" width="3.77" height="3.77" fill="#6dcc68"/>
<rect x="552.85" y="182.10" width="7.25" height="3.77" fill="#79cc5f"/>
<rect x="559.79" y="182.10" width="14.19" height="3.77" fill="#85cb56"/>
<rect x="573.68" y="182.10" width="3.77" height="3.77" fill="#79cc5f"/>
<rect x="577.15" y="182.10" width="7.25" height="3.77" fill="#6dcc68"/>
<rect x="584.10" y="182.10" width="3.77" height="3.77" fill="#61cc72"/>
<rect x="587.57" y="182.10" width="3.77" height="3.77" fill="#55cc7b"/>
<rect x="591.05" y="182.10" width="7.25" height="3.77" fill="#4ccb84"/>
<rect x="597.99" y="182.10" width="7.25" height="3.77" fill="#44c98d"/>
<rect x="372.26" y="185.57" width="3.77" height="3.77" fill="#acc639"/>
<rect x="375.74" y="185.57" width="3.77" height="3.77" fill="#92ca4c"/>
<rect x="379.21" y="185.57" width="3.77" height="3.77" fill="#6dcc68"/>
<rect x="382.68" y="185.57" width="3.77" height="3.77" fill="#44c98d"/>
<rect x="386.15" y="185.57" width="3.77" height="3.77" fill="#1fc2ad"/>
<rect x="389.63" y="185.57" width="3.77" height="3.77" fill="#07bbc2"/>
<rect x="393.10" y="185.57" width="3.77" height="3.77" fill="#09b6cc"/>
<rect x="396.57" y="185.57" width="3.77" height="3.77" fill="#13aed9"/>
<rect x="400.05" y="185.57" width="3.77" height="3.77" fill="#1ea6e1"/>
<rect x="403.52" y="185.57" width="3.77" height="3.77" fill="#2798ea"/>
<rect x="406.99" y="185.57" width="3.77" height="3.77" fill="#2e88f4"/>
<rect x="410.46" y="185.57" width="3.77" height="3.77" fill="#327dfb"/>
<rect x="413.94" y="185.57" width="3.77" height="3.77" fill="#3f6bfc"/>
<rect x="417.41" y="185.57" width="3.77" height="3.77" fill="#455ffb"/>
<rect x="420.88" y="185.57" width="10.72" height="3.77" fill="#465af8"/>
<rect x="431.30" y="185.57" width="3.77" height="3.77" fill="#455ffb"/>
<rect x="434.77" y="185.57" width="3.77" height="3.77" fill="#4365fc"/>
<rect x="438.25" y="185.57" width="3.77" height="3.77" fill="#3f6bfc"/>
<rect x="441.72" y="185.57" width="3.77" height="3.77" fill="#3677fd"/>
<rect x="445.19" y="185.57" width="3.77" height="3.77" fill="#327dfb"/>
<rect x="448.66" y="185.57" width="3.77" height="3.77" fill="#2c8ef1"/>
<rect x="452.14" y="185.57" width="3.77" height="3.77" fill="#2798ea"/>
<rect x="455.61" y="185.57" width="3.77" height="3.77" fill="#1ea6e1"/>
<rect x="459.08" y="185.57" width="3.77" height="3.77" fill="#13aed9"/>
<rect x="462.55" y="185.57" width="3.77" height="3.77" fill="#0bb4d0"/>
<rect x="466.03" y="185.57" width="10.72" height="3.77" fill="#09b6cc"/>
<rect x="476.45" y="185.57" width="17.66" height="3.77" fill="#0bb4d0"/>
<rect x="493.81" y="185.57" width="3.77" height="3.77" fill="#09b6cc"/>
<rect x="497.28" y="185.57" width="3.77" height="3.77" fill="#07bbc2"/>
<rect x="500.75" y="185.57" width="3.77" height="3.77" fill="#0abdbc"/>
<rect x="504.23" y="185.57" width="3.77" height="3.77" fill="#15bfb5"/>
<rect x="507.70" y="185.57" width="7.25" height="3.77" fill="#1fc2ad"/>
<rect x="514.65" y="185.57" width="3.77" height="3.77" fill="#15bfb5"/>
<rect x="518.12" y="185.57" width="10.72" height="3.77" fill="#0abdbc"/>
<rect x="528.54" y="185.57" width="3.77" height="3.77" fill="#15bfb5"/>
<rect x="532.01" y="185.57" width="3.77" height="3.77" fill="#2ac4a6"/>
<rect x="535.48" y="185.57" width="3.77" height="3.77" fill="#3cc895"/>
<rect x="538.95" y="185.57" width="3.77" height="3.77" fill="#4ccb84"/>
<rect x="542.43" y="185.57" width="3.77" height="3.77" fill="#61cc72"/>
<rect x="545.90" y="185.57" width="3.77" height="3.77" fill="#6dcc68"/>
<rect x="549.37" y="185.57" width="3.77" height="3.77" fill="#79cc5f"/>
<rect x="552.85" y="185.57" width="3.77" height="3.77" fill="#85cb56"/>
<rect x="556.32" y="185.57" width="7.25" height="3.77" fill="#92ca4c"/>
<rect x="563.26" y="185.57" width="7.25" height="3.77" fill="#9fc843"/>
<rect x="570.21" y="185.57" width="7.25" height="3.77" fill="#92ca4c"/>
<rect x="577.15" y="185.57" width="3.77" height="3.77" fill="#85cb56"/>
<rect x="580.63" y="185.57" width="3.77" height="3.77" fill="#79cc5f"/>
<rect x="584.10" y="185.57" width="3.77" height="3.77" fill="#6dcc68"/>
<rect x="587.57" y="185.57" width="3.77" height="3.77" fill="#61cc72"/>
<rect x="591.05" y="185.57" width="3.77" height="3.77" fill="#55cc7b"/>
<rect x="594.52" y="185.57" width="7.25" height="3.77" fill="#4ccb84"/>
<rect x="601.46" y="185.57" width="3.77" height="3.77" fill="#44c98d"/>
<rect x="372.26" y="189.05" width="3.77" height="3.77" fill="#92ca4c"/>
<rect x="375.74" y="189.05" width="3.77" height="3.77" fill="#79cc5f"/>
<rect x="379.21" y="189.05" width="3.77" height="3.77" fill="#55cc7b"/>
<rect x="382.68" y="189.05" width="3.77" height="3.77" fill="#3cc895"/>
<rect x="386.15" y="189.05" width="3.77" height="3.77" fill="#15bfb5"/>
<rect x="389.63" y="189.05" width="3.77" height="3.77" fill="#08b9c7"/>
<rect x="393.10" y="189.05" width="3.77" height="3.77" fill="#0bb4d0"/>
<rect x="396.57" y="189.05" width="3.77" height="3.77" fill="#19aadd"/>
<rect x="400.05" y="189.05" width="3.77" height="3.77" fill="#22a2e4"/>
<rect x="403.52" y="189.05" width="3.77" height="3.77" fill="#2a93ed"/>
<rect x="406.99" y="189.05" width="3.77" height="3.77" fill="#2e88f4"/>
<rect x="410.46" y="189.05" width="3.77" height="3.77" fill="#3677fd"/>
<rect x="413.94" y="189.05" width="3.77" height="3.77" fill="#3f6bfc"/>
<rect x="417.41" y="189.05" width="3.77" height="3.77" fill="#455ffb"/>
<rect x="420.88" y="189.05" width="3.77" height="3.77" fill="#465af8"/>
<rect x="424.35" y="189.05" width="10.72" height="3.77" fill="#4754f4"/>
<rect x="434.77" y="189.05" width="3.77" height="3.77" fill="#465af8"/>
<rect x="438.25" y="189.05" width="3.77" height="3.77" fill="#455ffb"/>
<rect x="441.72" y="189.05" width="3.77" height="3.77" fill="#4365fc"/>
<rect x="445.19" y="189.05" width="3.77" height="3.77" fill="#3f6bfc"/>
<rect x="448.66" y="189.05" width="3.77" height="3.77" fill="#3677fd"/>
<rect x="452.14" y="189.05" width="3.77" height="3.77" fill="#3083f8"/>
<rect x="455.61" y="189.05" width="3.77" height="3.77" fill="#2c8ef1"/>
<rect x="459.08" y="189.05" width="3.77" height="3.77" fill="#2798ea"/>
<rect x="462.55" y="189.05" width="3.77" height="3.77" fill="#22a2e4"/>
<rect x="466.03" y="189.05" width="3.77" height="3.77" fill="#19aadd"/>
<rect x="469.50" y="189.05" width="21.14" height="3.77" fill="#13aed9"/>
<rect x="490.34" y="189.05" width="3.77" height="3.77" fill="#0eb1d5"/>
<rect x="493.81" y="189.05" width="3.77" height="3.77" fill="#09b6cc"/>
<rect x="497.28" y="189.05" width="3.77" height="3.77" fill="#08b9c7"/>
<rect x="500.75" y="189.05" width="3.77" height="3.77" fill="#0abdbc"/>
<rect x="504.23" y="189.05" width="10.72" height="3.77" fill="#15bfb5"/>
<rect x="514.65" y="189.05" width="3.77" height="3.77" fill="#0abdbc"/>
<rect x="518.12" y="189.05" width="3.77" height="3.77" fill="#07bbc2"/>
<rect x="521.59" y="189.05" width="7.25" height="3.77" fill="#08b9c7"/>
<rect x="528.54" y="189.05" width="3.77" height="3.77" fill="#07bbc2"/>
<rect x="532.01" y="189.05" width="3.77" height="3.77" fill="#15bfb5"/>
<rect x="535.48" y="189.05" width="3.77" height="3.77" fill="#33c69e"/>
<rect x="538.95" y="189.05" width="3.77" height="3.77" fill="#4ccb84"/>
<rect x="542.43" y="189.05" width="3.77" height="3.77" fill="#61cc72"/>
<rect x="545.90" y="189.05" width="3.77" height="3.77" fill="#79cc5f"/>
<rect x="549.37" y="189.05" width="3.77" height="3.77" fill="#92ca4c"/>
<rect x="552.85" y="189.05" width="3.77" height="3.77" fill="#9fc843"/>
<rect x="556.32" y="189.05" width="3.77" height="3.77" fill="#acc639"/>
<rect x="559.79" y="189.05" width="14.19" height="3.77" fill="#b8c432"/>
<rect x="573.68" y="189.05" width="3.77" height="3.77" fill="#acc639"/>
<rect x="577.15" y="189.05" width="3.77" height="3.77" fill="#9fc843"/>
<rect x="580.63" y="189.05" width="3.77" height="3.77" fill="#92ca4c"/>
<rect x="584.10" y="189.05" width="3.77" height="3.77" fill="#85cb56"/>
<rect x="587.57" y="189.05" width="3.77" height="3.77" fill="#6dcc68"/>
<rect x="591.05" y="189.05" width="3.77" height="3.77" fill="#61cc72"/>
<rect x="594.52" y="189.05" width="3.77" height="3.77" fill="#55cc7b"/>
<rect x="597.99" y="189.05" width="3.77" height="3.77" fill="#4ccb84"/>
<rect x="601.46" y="189.05" width="3.77" height="3.77" fill="#44c98d"/>
<rect x="375.74" y="192.52" width="3.77" height="3.77" fill="#61cc72"/>
<rect x="379.21" y="192.52" width="3.77" height="3.77" fill="#44c98d"/>
<rect x="382.68" y="192.52" width="3.77" height="3.77" fill="#2ac4a6"/>
<rect x="386.15" y="192.52" width="3.77" height="3.77" fill="#0abdbc"/>
<rect x="389.63" y="192.52" width="3.77" height="3.77" fill="#09b6cc"/>
<rect x="393.10" y="192.52" width="3.77" height="3.77" fill="#0eb1d5"/>
<rect x="396.57" y="192.52" width="3.77" height="3.77" fill="#19aadd"/>
<rect x="400.05" y="192.52" width="3.77" height="3.77" fill="#249de7"/>
<rect x="403.52" y="192.52" width="3.77" height="3.77" fill="#2a93ed"/>
<rect x="406.99" y="192.52" width="3.77" height="3.77" fill="#3083f8"/>
<rect x="410.46" y="192.52" width="3.77" height="3.77" fill="#3677fd"/>
<rect x="413.94" y="192.52" width="3.77" height="3.77" fill="#4365fc"/>
<rect x="417.41" y="192.52" width="3.77" height="3.77" fill="#465af8"/>
<rect x="420.88" y="192.52" width="3.77" height="3.77" fill="#4754f4"/>
<rect x="424.35" y="192.52" width="14.19" height="3.77" fill="#474ff1"/>
<rect x="438.25" y="192.52" width="7.25" height="3.77" fill="#4754f4"/>
<rect x="445.19" y="192.52" width="3.77" height="3.77" fill="#455ffb"/>
<rect x="448.66" y="192.52" width="3.77" height="3.77" fill="#4365fc"/>
<rect x="452.14" y="192.52" width="3.77" height="3.77" fill="#3a71fd"/>
<rect x="455.61" y="192.52" width="3.77" height="3.77" fill="#327dfb"/>
<rect x="459.08" y="192.52" width="3.77" height="3.77" fill="#2e88f4"/>
<rect x="462.55" y="192.52" width="3.77" height="3.77" fill="#2a93ed"/>
<rect x="466.03" y="192.52" width="3.77" height="3.77" fill="#249de7"/>
<rect x="469.50" y="192.52" width="3.77" height="3.77" fill="#22a2e4"/>
<rect x="472.97" y="192.52" width="14.19" height="3.77" fill="#1ea6e1"/>
<rect x="486.86" y="192.52" width="3.77" height="3.77" fill="#19aadd"/>
<rect x="490.34" y="192.52" width="3.77" height="3.77" fill="#13aed9"/>
<rect x="493.81" y="192.52" width="3.77" height="3.77" fill="#0bb4d0"/>
<rect x="497.28" y="192.52" width="3.77" height="3.77" fill="#08b9c7"/>
<rect x="500.75" y="192.52" width="3.77" height="3.77" fill="#0abdbc"/>
<rect x="504.23" y="192.52" width="7.25" height="3.77" fill="#15bfb5"/>
<rect x="511.17" y="192.52" width="3.77" height="3.77" fill="#0abdbc"/>
<rect x="514.65" y="192.52" width="3.77" height="3.77" fill="#07bbc2"/>
<rect x="518.12" y="192.52" width="3.77" height="3.77" fill="#09b6cc"/>
<rect x="521.59" y="192.52" width="7.25" height="3.77" fill="#0bb4d0"/>
<rect x="528.54" y="192.52" width="3.77" height="3.77" fill="#09b6cc"/>
<rect x="532.01" y="192.52" width="3.77" height="3.77" fill="#0abdbc"/>
<rect x="535.48" y="192.52" width="3.77" height="3.77" fill="#33c69e"/>
<rect x="538.95" y="192.52" width="3.77" height="3.77" fill="#4ccb84"/>
<rect x="542.43" y="192.52" width="3.77" height="3.77" fill="#6dcc68"/>
<rect x="545.90" y="192.52" width="3.77" height="3.77" fill="#85cb56"/>
<rect x="549.37" y="192.52" width="3.77" height="3.77" fill="#9fc843"/>
<rect x="552.85" y="192.52" width="3.77" height="3.77" fill="#b8c432"/>
<rect x="556.32" y="192.52" width="3.77" height="3.77" fill="#c4c230"/>
<rect x="559.79" y="192.52" width="14.19" height="3.77" fill="#cfc02f"/>
<rect x="573.68" y="192.52" width="3.77" height="3.77" fill="#c4c230"/>
<rect x="577.15" y="192.52" width="3.77" height="3.77" fill="#b8c432"/>
<rect x="580.63" y="192.52" width="3.77" height="3.77" fill="#acc639"/>
<rect x="584.10" y="192.52" width="3.77" height="3.77" fill="#92ca4c"/>
<rect x="587.57" y="192.52" width="3.77" height="3.77" fill="#85cb56"/>
<rect x="591.05" y="192.52" width="3.77" height="3.77" fill="#6dcc68"/>
<rect x="594.52" y="192.52" width="3.77" height="3.77" fill="#61cc72"/>
<rect x="597.99" y="192.52" width="3.77" height="3.77" fill="#55cc7b"/>
<rect x="375.74" y="195.99" width="3.77" height="3.77" fill="#4ccb84"/>
<rect x="379.21" y="195.99" width="3.77" height="3.77" fill="#3cc895"/>
<rect x="382.68" y="195.99" width="3.77" height="3.77" fill="#1fc2ad"/>
<rect x="386.15" y="195.99" width="3.77" height="3.77" fill="#07bbc2"/>
<rect x="389.63" y="195.99" width="3.77" height="3.77" fill="#0bb4d0"/>
<rect x="393.10" y="195.99" width="3.77" height="3.77" fill="#13aed9"/>
<rect x="396.57" y="195.99" width="3.77" height="3.77" fill="#1ea6e1"/>
<rect x="400.05" y="195.99" width="3.77" height="3.77" fill="#249de7"/>
<rect x="403.52" y="195.99" width="3.77" height="3.77" fill="#2c8ef1"/>
<rect x="406.99" y="195.99" width="3.77" height="3.77" fill="#3083f8"/>
<rect x="410.46" y="195.99" width="3.77" height="3.77" fill="#3a71fd"/>
<rect x="413.94" y="195.99" width="3.77" height="3.77" fill="#4365fc"/>
<rect x="417.41" y="195.99" width="3.77" height="3.77" fill="#465af8"/>
<rect x="420.88" y="195.99" width="3.77" height="3.77" fill="#474ff1"/>
<rect x="424.35" y="195.99" width="7.25" height="3.77" fill="#4749ec"/>
<rect x="431.30" y="195.99" width="7.25" height="3.77" fill="#4744e5"/>
<rect x="438.25" y="195.99" width="3.77" height="3.77" fill="#4749ec"/>
<rect x="441.72" y="195.99" width="3.77" height="3.77" fill="#474ff1"/>
<rect x="445.19" y="195.99" width="3.77" height="3.77" fill="#4754f4"/>
<rect x="448.66" y="195.99" width="3.77" height="3.77" fill="#465af8"/>
<rect x="452.14" y="195.99" width="3.77" height="3.77" fill="#4365fc"/>
<rect x="455.61" y="195.99" width="3.77" height="3.77" fill="#3a71fd"/>
<rect x="459.08" y="195.99" width="3.77" height="3.77" fill="#327dfb"/>
<rect x="462.55" y="195.99" width="3.77" height="3.77" fill="#3083f8"/>
<rect x="466.03" y="195.99" width="3.77" height="3.77" fill="#2c8ef1"/>
<rect x="469.50" y="195.99" width="3.77" height="3.77" fill="#2798ea"/>
<rect x="472.97" y="195.99" width="7.25" height="3.77" fill="#249de7"/>
<rect x="479.92" y="195.99" width="7.25" height="3.77" fill="#22a2e4"/>
<rect x="486.86" y="195.99" width="3.77" height="3.77" fill="#1ea6e1"/>
<rect x="490.34" y="195.99" width="3.77" height="3.77" fill="#19aadd"/>
<rect x="493.81" y="195.99" width="3.77" height="3.77" fill="#0eb1d5"/>
<rect x="497.28" y="195.99" width="3.77" height="3.77" fill="#09b6cc"/>
<rect x="500.75" y="195.99" width="3.77" height="3.77" fill="#07bbc2"/>
<rect x="504.23" y="195.99" width="7.25" height="3.77" fill="#15bfb5"/>
<rect x="511.17" y="195.99" width="3.77" height="3.77" fill="#0abdbc"/>
<rect x="514.65" y="195.99" width="3.77" height="3.77" fill="#07bbc2"/>
<rect x="518.12" y="195.99" width="3.77" height="3.77" fill="#09b6cc"/>
<rect x="521.59" y="195.99" width="7.25" height="3.77" fill="#0bb4d0"/>
<rect x="528.54" y="195.99" width="3.77" height="3.77" fill="#09b6cc"/>
<rect x="532.01" y="195.99" width="3.77" height="3.77" fill="#0abdbc"/>
<rect x="535.48" y="195.99" width="3.77" height="3.77" fill="#33c69e"/>
<rect x="538.95" y="195.99" width="3.77" height="3.77" fill="#55cc7b"/>
<rect x="542.43" y="195.99" width="3.77" height="3.77" fill="#79cc5f"/>
<rect x="545.90" y="195.99" width="3.77" height="3.77" fill="#9fc843"/>
<rect x="549.37" y="195.99" width="3.77" height="3.77" fill="#b8c432"/>
<rect x="552.85" y="195.99" width="3.77" height="3.77" fill="#c4c230"/>
<rect x="556.32" y="195.99" width="3.77" height="3.77" fill="#dbbd2d"/>
<rect x="559.79" y="195.99" width="14.19" height="3.77" fill="#e5bc2c"/>
<rect x="573.68" y="195.99" width="3.77" height="3.77" fill="#dbbd2d"/>
<rect x="577.15" y="195.99" width="3.77" height="3.77" fill="#cfc02f"/>
<rect x="580.63" y="195.99" width="3.77" height="3.77" fill="#b8c432"/>
<rect x="584.10" y="195.99" width="3.77" height="3.77" fill="#acc639"/>
<rect x="587.57" y="195.99" width="3.77" height="3.77" fill="#92ca4c"/>
<rect x="591.05" y="195.99" width="3.77" height="3.77" fill="#79cc5f"/>
<rect x="594.52" y="195.99" width="3.77" height="3.77" fill="#6dcc68"/>
<rect x="597.99" y="195.99" width="3.77" height="3.77" fill="#55cc7b"/>
<rect x="375.74" y="199.46" width="3.77" height="3.77" fill="#3cc895"/>
<rect x="379.21" y="199.46" width="3.77" height="3.77" fill="#2ac4a6"/>
<rect x="382.68" y="199.46" width="3.77" height="3.77" fill="#0abdbc"/>
<rect x="386.15" y="199.46" width="3.77" height="3.77" fill="#08b9c7"/>
<rect x="389.63" y="199.46" width="3.77" height="3.77" fill="#0bb4d0"/>
<rect x="393.10" y="199.46" width="3.77" height="3.77" fill="#13aed9"/>
<rect x="396.57" y="199.46" width="3.77" height="3.77" fill="#22a2e4"/>
<rect x="400.05" y="199.46" width="3.77" height="3.77" fill="#2798ea"/>
<rect x="403.52" y="199.46" width="3.77" height="3.77" fill="#2c8ef1"/>
<rect x="406.99" y="199.46" width="3.77" height="3.77" fill="#327dfb"/>
<rect x="410.46" y="199.46" width="3.77" height="3.77" fill="#3a71fd"/>
<rect x="413.94" y="199.46" width="3.77" height="3.77" fill="#4365fc"/>
<rect x="417.41" y="199.46" width="3.77" height="3.77" fill="#465af8"/>
<rect x="420.88" y="199.46" width="3.77" height="3.77" fill="#474ff1"/>
<rect x="424.35" y="199.46" width="3.77" height="3.77" fill="#4749ec"/>
<rect x="427.83" y="199.46" width="3.77" height="3.77" fill="#4744e5"/>
<rect x="431.30" y="199.46" width="10.72" height="3.77" fill="#463fdf"/>
<rect x="441.72" y="199.46" width="3.77" height="3.77" fill="#4744e5"/>
<rect x="445.19" y="199.46" width="3.77" height="3.77" fill="#4749ec"/>
<rect x="448.66" y="199.46" width="3.77" height="3.77" fill="#474ff1"/>
<rect x="452.14" y="199.46" width="3.77" height="3.77" fill="#465af8"/>
<rect x="455.61" y="199.46" width="3.77" height="3.77" fill="#4365fc"/>
<rect x="459.08" y="199.46" width="3.77" height="3.77" fill="#3a71fd"/>
<rect x="462.55" y="199.46" width="3.77" height="3.77" fill="#327dfb"/>
<rect x="466.03" y="199.46" width="3.77" height="3.77" fill="#3083f8"/>
<rect x="469.50" y="199.46" width="3.77" height="3.77" fill="#2c8ef1"/>
<rect x="472.97" y="199.46" width="3.77" height="3.77" fill="#2a93ed"/>
<rect x="476.45" y="199.46" width="3.77" height="3.77" fill="#2798ea"/>
<rect x="479.92" y="199.46" width="7.25" height="3.77" fill="#249de7"/>
<rect x="486.86" y="199.46" width="3.77" height="3.77" fill="#22a2e4"/>
<rect x="490.34" y="199.46" width="3.77" height="3.77" fill="#19aadd"/>
<rect x="493.81" y="199.46" width="3.77" height="3.77" fill="#0eb1d5"/>
<rect x="497.28" y="199.46" width="3.77" height="3.77" fill="#09b6cc"/>
<rect x="500.75" y="199.46" width="3.77" height="3.77" fill="#07bbc2"/>
<rect x="504.23" y="199.46" width="3.77" height="3.77" fill="#0abdbc"/>
<rect x="507.70" y="199.46" width="3.77" height="3.77" fill="#15bfb5"/>
<rect x="511.17" y="199.46" width="3.77" height="3.77" fill="#0abdbc"/>
<rect x="514.65" y="199.46" width="3.77" height="3.77" fill="#07bbc2"/>
<rect x="518.12" y="199.46" width="3.77" height="3.77" fill="#08b9c7"/>
<rect x="521.59" y="199.46" width="7.25" height="3.77" fill="#09b6cc"/>
<rect x="528.54" y="199.46" width="3.77" height="3.77" fill="#08b9c7"/>
<rect x="532.01" y="199.46" width="3.77" height="3.77" fill="#15bfb5"/>
<rect x="535.48" y="199.46" width="3.77" height="3.77" fill="#3cc895"/>
<rect x="538.95" y="199.46" width="3.77" height="3.77" fill="#61cc72"/>
<rect x="542.43" y="199.46" width="3.77" height="3.77" fill="#85cb56"/>
<rect x="545.90" y="199.46" width="3.77" height="3.77" fill="#acc639"/>
<rect x="549.37" y="199.46" width="3.77" height="3.77" fill="#c4c230"/>
<rect x="552.85" y="199.46" width="3.77" height="3.77" fill="#dbbd2d"/>
<rect x="556.32" y="199.46" width="3.77" height="3.77" fill="#ecbd30"/>
<rect x="559.79" y="199.46" width="14.19" height="3.77" fill="#f3bf34"/>
<rect x="573.68" y="199.46" width="3.77" height="3.77" fill="#ecbd30"/>
<rect x="577.15" y="199.46" width="3.77" height="3.77" fill="#e5bc2c"/>
<rect x="580.63" y="199.46" width="3.77" height="3.77" fill="#cfc02f"/>
<rect x="584.10" y="199.46" width="3.77" height="3.77" fill="#b8c432"/>
<rect x="587.57" y="199.46" width="3.77" height="3.77" fill="#9fc843"/>
<rect x="591.05" y="199.46" width="3.77" height="3.77" fill="#85cb56"/>
<rect x="594.52" y="199.46" width="3.77" height="3.77" fill="#6dcc68"/>
<rect x="597.99" y="199.46" width="3.77" height="3.77" fill="#61cc72"/>
<rect x="379.21" y="202.94" width="3.77" height="3.77" fill="#1fc2ad"/>
<rect x="382.68" y="202.94" width="3.77" height="3.77" fill="#07bbc2"/>
<rect x="386.15" y="202.94" width="3.77" height="3.77" fill="#09b6cc"/>
<rect x="389.63" y="202.94" width="3.77" height="3.77" fill="#0eb1d5"/>
<rect x="393.10" y="202.94" width="3.77" height="3.77" fill="#19aadd"/>
<rect x="396.57" y="202.94" width="3.77" height="3.77" fill="#22a2e4"/>
<rect x="400.05" y="202.94" width="3.77" height="3.77" fill="#2798ea"/>
<rect x="403.52" y="202.94" width="3.77" height="3.77" fill="#2e88f4"/>
<rect x="406.99" y="202.94" width="3.77" height="3.77" fill="#327dfb"/>
<rect x="410.46" y="202.94" width="3.77" height="3.77" fill="#3a71fd"/>
<rect x="413.94" y="202.94" width="3.77" height="3.77" fill="#455ffb"/>
<rect x="417.41" y="202.94" width="3.77" height="3.77" fill="#4754f4"/>
<rect x="420.88" y="202.94" width="3.77" height="3.77" fill="#474ff1"/>
<rect x="424.35" y="202.94" width="3.77" height="3.77" fill="#4744e5"/>
<rect x="427.83" y="202.94" width="3.77" height="3.77" fill="#463fdf"/>
<rect x="431.30" y="202.94" width="10.72" height="3.77" fill="#4539d8"/>
<rect x="441.72" y="202.94" width="3.77" height="3.77" fill="#463fdf"/>
<rect x="445.19" y="202.94" width="3.77" height="3.77" fill="#4744e5"/>
<rect x="448.66" y="202.94" width="3.77" height="3.77" fill="#4749ec"/>
<rect x="452.14" y="202.94" width="3.77" height="3.77" fill="#4754f4"/>
<rect x="455.61" y="202.94" width="3.77" height="3.77" fill="#455ffb"/>
<rect x="459.08" y="202.94" width="3.77" height="3.77" fill="#4365fc"/>
<rect x="462.55" y="202.94" width="3.77" height="3.77" fill="#3a71fd"/>
<rect x="466.03" y="202.94" width="3.77" height="3.77" fill="#327dfb"/>
<rect x="469.50" y="202.94" width="3.77" height="3.77" fill="#2e88f4"/>
<rect x="472.97" y="202.94" width="3.77" height="3.77" fill="#2c8ef1"/>
<rect x="476.45" y="202.94" width="3.77" height="3.77" fill="#2a93ed"/>
<rect x="479.92" y="202.94" width="3.77" height="3.77" fill="#2798ea"/>
<rect x="483.39" y="202.94" width="3.77" height="3.77" fill="#249de7"/>
<rect x="486.86" y="202.94" width="3.77" height="3.77" fill="#22a2e4"/>
<rect x="490.34" y="202.94" width="3.77" height="3.77" fill="#1ea6e1"/>
<rect x="493.81" y="202.94" width="3.77" height="3.77" fill="#0eb1d5"/>
<rect x="497.28" y="202.94" width="3.77" height="3.77" fill="#09b6cc"/>
<rect x="500.75" y="202.94" width="3.77" height="3.77" fill="#07bbc2"/>
<rect x="504.23" y="202.94" width="3.77" height="3.77" fill="#0abdbc"/>
<rect x="507.70" y="202.94" width="7.25" height="3.77" fill="#15bfb5"/>
<rect x="514.65" y="202.94" width="3.77" height="3.77" fill="#0abdbc"/>
<rect x="518.12" y="202.94" width="10.72" height="3.77" fill="#07bbc2"/>
<rect x="528.54" y="202.94" width="3.77" height="3.77" fill="#15bfb5"/>
<rect x="532.01" y="202.94" width="3.77" height="3.77" fill="#2ac4a6"/>
<rect x="535.48" y="202.94" width="3.77" height="3.77" fill="#4ccb84"/>
<rect x="538.95" y="202.94" width="3.77" height="3.77" fill="#6dcc68"/>
<rect x="542.43" y="202.94" width="3.77" height="3.77" fill="#92ca4c"/>
<rect x="545.90" y="202.94" width="3.77" height="3.77" fill="#b8c432"/>
<rect x="549.37" y="202.94" width="3.77" height="3.77" fill="#dbbd2d"/>
<rect x="552.85" y="202.94" width="3.77" height="3.77" fill="#ecbd30"/>
<rect x="556.32" y="202.94" width="3.77" height="3.77" fill="#f3bf34"/>
<rect x="559.79" y="202.94" width="14.19" height="3.77" fill="#fec339"/>
<rect x="573.68" y="202.94" width="3.77" height="3.77" fill="#fac037"/>
<rect x="577.15" y="202.94" width="3.77" height="3.77" fill="#ecbd30"/>
<rect x="580.63" y="202.94" width="3.77" height="3.77" fill="#dbbd2d"/>
<rect x="584.10" y="202.94" width="3.77" height="3.77" fill="#c4c230"/>
<rect x="587.57" y="202.94" width="3.77" height="3.77" fill="#acc639"/>
<rect x="591.05" y="202.94" width="3.77" height="3.77" fill="#92ca4c"/>
<rect x="594.52" y="202.94" width="3.77" height="3.77" fill="#79cc5f"/>
<rect x="379.21" y="206.41" width="3.77" height="3.77" fill="#15bfb5"/>
<rect x="382.68" y="206.41" width="3.77" height="3.77" fill="#07bbc2"/>
<rect x="386.15" y="206.41" width="3.77" height="3.77" fill="#09b6cc"/>
<rect x="389.63" y="206.41" width="3.77" height="3.77" fill="#0eb1d5"/>
<rect x="393.10" y="206.41" width="3.77" height="3.77" fill="#19aadd"/>
<rect x="396.57" y="206.41" width="3.77" height="3.77" fill="#22a2e4"/>
<rect x="400.05" y="206.41" width="3.77" height="3.77" fill="#2a93ed"/>
<rect x="403.52" y="206.41" width="3.77" height="3.77" fill="#2e88f4"/>
<rect x="406.99" y="206.41" width="3.77" height="3.77" fill="#327dfb"/>
<rect x="410.46" y="206.41" width="3.77" height="3.77" fill="#3a71fd"/>
<rect x="413.94" y="206.41" width="3.77" height="3.77" fill="#455ffb"/>
<rect x="417.41" y="206.41" width="3.77" height="3.77" fill="#4754f4"/>
<rect x="420.88" y="206.41" width="3.77" height="3.77" fill="#474ff1"/>
<rect x="424.35" y="206.41" width="3.77" height="3.77" fill="#4744e5"/>
<rect x="427.83" y="206.41" width="3.77" height="3.77" fill="#463fdf"/>
<rect x="431.30" y="206.41" width="10.72" height="3.77" fill="#4539d8"/>
<rect x="441.72" y="206.41" width="3.77" height="3.77" fill="#463fdf"/>
<rect x="445.19" y="206.41" width="3.77" height="3.77" fill="#4744e5"/>
<rect x="448.66" y="206.41" width="3.77" height="3.77" fill="#4749ec"/>
<rect x="452.14" y="206.41" width="3.77" height="3.77" fill="#474ff1"/>
<rect x="455.61" y="206.41" width="3.77" height="3.77" fill="#465af8"/>
<rect x="459.08" y="206.41" width="3.77" height="3.77" fill="#4365fc"/>
<rect x="462.55" y="206.41" width="3.77" height="3.77" fill="#3f6bfc"/>
<rect x="466.03" y="206.41" width="3.77" height="3.77" fill="#3677fd"/>
<rect x="469.50" y="206.41" width="3.77" height="3.77" fill="#3083f8"/>
<rect x="472.97" y="206.41" width="3.77" height="3.77" fill="#2e88f4"/>
<rect x="476.45" y="206.41" width="3.77" height="3.77" fill="#2c8ef1"/>
<rect x="479.92" y="206.41" width="3.77" height="3.77" fill="#2a93ed"/>
<rect x="483.39" y="206.41" width="3.77" height="3.77" fill="#2798ea"/>
<rect x="486.86" y="206.41" width="3.77" height="3.77" fill="#249de7"/>
<rect x="490.34" y="206.41" width="3.77" height="3.77" fill="#1ea6e1"/>
<rect x="493.81" y="206.41" width="3.77" height="3.77" fill="#0eb1d5"/>
<rect x="497.28" y="206.41" width="3.77" height="3.77" fill="#09b6cc"/>
<rect x="500.75" y="206.41" width="3.77" height="3.77" fill="#07bbc2"/>
<rect x="504.23" y="206.41" width="3.77" height="3.77" fill="#15bfb5"/>
<rect x="507.70" y="206.41" width="10.72" height="3.77" fill="#1fc2ad"/>
<rect x="518.12" y="206.41" width="7.25" height="3.77" fill="#15bfb5"/>
<rect x="525.06" y="206.41" width="3.77" height="3.77" fill="#1fc2ad"/>
<rect x="528.54" y="206.41" width="3.77" height="3.77" fill="#2ac4a6"/>
<rect x="532.01" y="206.41" width="3.77" height="3.77" fill="#3cc895"/>
<rect x="535.48" y="206.41" width="3.77" height="3.77" fill="#55cc7b"/>
<rect x="538.95" y="206.41" width="3.77" height="3.77" fill="#79cc5f"/>
<rect x="542.43" y="206.41" width="3.77" height="3.77" fill="#9fc843"/>
<rect x="545.90" y="206.41" width="3.77" height="3.77" fill="#c4c230"/>
<rect x="549.37" y="206.41" width="3.77" height="3.77" fill="#dbbd2d"/>
<rect x="552.85" y="206.41" width="3.77" height="3.77" fill="#f3bf34"/>
<rect x="556.32" y="206.41" width="3.77" height="3.77" fill="#fac037"/>
<rect x="559.79" y="206.41" width="7.25" height="3.77" fill="#fcc935"/>
<rect x="566.74" y="206.41" width="3.77" height="3.77" fill="#fbcf31"/>
<rect x="570.21" y="206.41" width="3.77" height="3.77" fill="#fcc935"/>
<rect x="573.68" y="206.41" width="3.77" height="3.77" fill="#fec339"/>
<rect x="577.15" y="206.41" width="3.77" height="3.77" fill="#f3bf34"/>
<rect x="580.63" y="206.41" width="3.77" height="3.77" fill="#e5bc2c"/>
<rect x="584.10" y="206.41" width="3.77" height="3.77" fill="#cfc02f"/>
<rect x="587.57" y="206.41" width="3.77" height="3.77" fill="#b8c432"/>
<rect x="591.05" y="206.41" width="3.77" height="3.77" fill="#92ca4c"/>
<rect x="594.52" y="206.41" width="3.77" height="3.77" fill="#79cc5f"/>
<rect x="382.68" y="209.88" width="3.77" height="3.77" fill="#08b9c7"/>
<rect x="386.15" y="209.88" width="3.77" height="3.77" fill="#09b6cc"/>
<rect x="389.63" y="209.88" width="3.77" height="3.77" fill="#0eb1d5"/>
<rect x="393.10" y="209.88" width="3.77" height="3.77" fill="#19aadd"/>
<rect x="396.57" y="209.88" width="3.77" height="3.77" fill="#22a2e4"/>
<rect x="400.05" y="209.88" width="3.77" height="3.77" fill="#2a93ed"/>
<rect x="403.52" y="209.88" width="3.77" height="3.77" fill="#2e88f4"/>
<rect x="406.99" y="209.88" width="3.77" height="3.77" fill="#327dfb"/>
<rect x="410.46" y="209.88" width="3.77" height="3.77" fill="#3a71fd"/>
<rect x="413.94" y="209.88" width="3.77" height="3.77" fill="#4365fc"/>
<rect x="417.41" y="209.88" width="3.77" height="3.77" fill="#465af8"/>
<rect x="420.88" y="209.88" width="3.77" height="3.77" fill="#474ff1"/>
<rect x="424.35" y="209.88" width="3.77" height="3.77" fill="#4744e5"/>
<rect x="427.83" y="209.88" width="7.25" height="3.77" fill="#463fdf"/>
<rect x="434.77" y="209.88" width="3.77" height="3.77" fill="#4539d8"/>
<rect x="438.25" y="209.88" width="7.25" height="3.77" fill="#463fdf"/>
<rect x="445.19" y="209.88" width="3.77" height="3.77" fill="#4744e5"/>
<rect x="448.66" y="209.88" width="3.77" height="3.77" fill="#4749ec"/>
<rect x="452.14" y="209.88" width="3.77" height="3.77" fill="#474ff1"/>
<rect x="455.61" y="209.88" width="3.77" height="3.77" fill="#465af8"/>
<rect x="459.08" y="209.88" width="3.77" height="3.77" fill="#455ffb"/>
<rect x="462.55" y="209.88" width="3.77" height="3.77" fill="#3f6bfc"/>
<rect x="466.03" y="209.88" width="3.77" height="3.77" fill="#3a71fd"/>
<rect x="469.50" y="209.88" width="3.77" height="3.77" fill="#327dfb"/>
<rect x="472.97" y="209.88" width="3.77" height="3.77" fill="#3083f8"/>
<rect x="476.45" y="209.88" width="3.77" height="3.77" fill="#2e88f4"/>
<rect x="479.92" y="209.88" width="3.77" height="3.77" fill="#2a93ed"/>
<rect x="483.39" y="209.88" width="3.77" height="3.77" fill="#2798ea"/>
<rect x="486.86" y="209.88" width="3.77" height="3.77" fill="#249de7"/>
<rect x="490.34" y="209.88" width="3.77" height="3.77" fill="#19aadd"/>
<rect x="493.81" y="209.88" width="3.77" height="3.77" fill="#0eb1d5"/>
<rect x="497.28" y="209.88" width="3.77" height="3.77" fill="#09b6cc"/>
<rect x="500.75" y="209.88" width="3.77" height="3.77" fill="#0abdbc"/>
<rect x="504.23" y="209.88" width="3.77" height="3.77" fill="#15bfb5"/>
<rect x="507.70" y="209.88" width="17.66" height="3.77" fill="#2ac4a6"/>
<rect x="525.06" y="209.88" width="3.77" height="3.77" fill="#33c69e"/>
<rect x="528.54" y="209.88" width="3.77" height="3.77" fill="#3cc895"/>
<rect x="532.01" y="209.88" width="3.77" height="3.77" fill="#4ccb84"/>
<rect x="535.48" y="209.88" width="3.77" height="3.77" fill="#6dcc68"/>
<rect x="538.95" y="209.88" width="3.77" height="3.77" fill="#85cb56"/>
<rect x="542.43" y="209.88" width="3.77" height="3.77" fill="#acc639"/>
<rect x="545.90" y="209.88" width="3.77" height="3.77" fill="#cfc02f"/>
<rect x="549.37" y="209.88" width="3.77" height="3.77" fill="#e5bc2c"/>
<rect x="552.85" y="209.88" width="3.77" height="3.77" fill="#f3bf34"/>
<rect x="556.32" y="209.88" width="3.77" height="3.77" fill="#fec339"/>
<rect x="559.79" y="209.88" width="3.77" height="3.77" fill="#fcc935"/>
<rect x="563.26" y="209.88" width="10.72" height="3.77" fill="#fbcf31"/>
<rect x="573.68" y="209.88" width="3.77" height="3.77" fill="#fcc935"/>
<rect x="577.15" y="209.88" width="3.77" height="3.77" fill="#fac037"/>
<rect x="580.63" y="209.88" width="3.77" height="3.77" fill="#ecbd30"/>
<rect x="584.10" y="209.88" width="3.77" height="3.77" fill="#cfc02f"/>
<rect x="587.57" y="209.88" width="3.77" height="3.77" fill="#b8c432"/>
<rect x="591.05" y="209.88" width="3.77" height="3.77" fill="#9fc843"/>
<rect x="382.68" y="213.35" width="3.77" height="3.77" fill="#08b9c7"/>
<rect x="386.15" y="213.35" width="3.77" height="3.77" fill="#0bb4d0"/>
<rect x="389.63" y="213.35" width="3.77" height="3.77" fill="#13aed9"/>
<rect x="393.10" y="213.35" width="3.77" height="3.77" fill="#19aadd"/>
<rect x="396.57" y="213.35" width="3.77" height="3.77" fill="#22a2e4"/>
<rect x="400.05" y="213.35" width="3.77" height="3.77" fill="#2a93ed"/>
<rect x="403.52" y="213.35" width="3.77" height="3.77" fill="#2e88f4"/>
<rect x="406.99" y="213.35" width="3.77" height="3.77" fill="#327dfb"/>
<rect x="410.46" y="213.35" width="3.77" height="3.77" fill="#3a71fd"/>
<rect x="413.94" y="213.35" width="3.77" height="3.77" fill="#4365fc"/>
<rect x="417.41" y="213.35" width="3.77" height="3.77" fill="#465af8"/>
<rect x="420.88" y="213.35" width="3.77" height="3.77" fill="#4754f4"/>
<rect x="424.35" y="213.35" width="3.77" height="3.77" fill="#4749ec"/>
<rect x="427.83" y="213.35" width="7.25" height="3.77" fill="#4744e5"/>
<rect x="434.77" y="213.35" width="7.25" height="3.77" fill="#463fdf"/>
<rect x="441.72" y="213.35" width="3.77" height="3.77" fill="#4744e5"/>
<rect x="445.19" y="213.35" width="3.77" height="3.77" fill="#4749ec"/>
<rect x="448.66" y="213.35" width="3.77" height="3.77" fill="#474ff1"/>
<rect x="452.14" y="213.35" width="3.77" height="3.77" fill="#4754f4"/>
<rect x="455.61" y="213.35" width="3.77" height="3.77" fill="#465af8"/>
<rect x="459.08" y="213.35" width="3.77" height="3.77" fill="#455ffb"/>
<rect x="462.55" y="213.35" width="3.77" height="3.77" fill="#4365fc"/>
<rect x="466.03" y="213.35" width="3.77" height="3.77" fill="#3a71fd"/>
<rect x="469.50" y="213.35" width="3.77" height="3.77" fill="#3677fd"/>
<rect x="472.97" y="213.35" width="3.77" height="3.77" fill="#327dfb"/>
<rect x="476.45" y="213.35" width="3.77" height="3.77" fill="#2e88f4"/>
<rect x="479.92" y="213.35" width="3.77" height="3.77" fill="#2c8ef1"/>
<rect x="483.39" y="213.35" width="3.77" height="3.77" fill="#2798ea"/>
<rect x="486.86" y="213.35" width="3.77" height="3.77" fill="#22a2e4"/>
<rect x="490.34" y="213.35" width="3.77" height="3.77" fill="#19aadd"/>
<rect x="493.81" y="213.35" width="3.77" height="3.77" fill="#0eb1d5"/>
<rect x="497.28" y="213.35" width="3.77" height="3.77" fill="#08b9c7"/>
<rect x="500.75" y="213.35" width="3.77" height="3.77" fill="#15bfb5"/>
<rect x="504.23" y="213.35" width="3.77" height="3.77" fill="#2ac4a6"/>
<rect x="507.70" y="213.35" width="3.77" height="3.77" fill="#33c69e"/>
<rect x="511.17" y="213.35" width="3.77" height="3.77" fill="#3cc895"/>
<rect x="514.65" y="213.35" width="7.25" height="3.77" fill="#44c98d"/>
<rect x="521.59" y="213.35" width="3.77" height="3.77" fill="#3cc895"/>
<rect x="525.06" y="213.35" width="3.77" height="3.77" fill="#44c98d"/>
<rect x="528.54" y="213.35" width="3.77" height="3.77" fill="#4ccb84"/>
<rect x="532.01" y="213.35" width="3.77" height="3.77" fill="#55cc7b"/>
<rect x="535.48" y="213.35" width="3.77" height="3.77" fill="#6dcc68"/>
<rect x="538.95" y="213.35" width="3.77" height="3.77" fill="#92ca4c"/>
<rect x="542.43" y="213.35" width="3.77" height="3.77" fill="#acc639"/>
<rect x="545.90" y="213.35" width="3.77" height="3.77" fill="#cfc02f"/>
<rect x="549.37" y="213.35" width="3.77" height="3.77" fill="#e5bc2c"/>
<rect x="552.85" y="213.35" width="3.77" height="3.77" fill="#f3bf34"/>
<rect x="556.32" y="213.35" width="3.77" height="3.77" fill="#fec339"/>
<rect x="559.79" y="213.35" width="14.19" height="3.77" fill="#fbcf31"/>
<rect x="573.68" y="213.35" width="3.77" height="3.77" fill="#fcc935"/>
<rect x="577.15" y="213.35" width="3.77" height="3.77" fill="#fac037"/>
<rect x="580.63" y="213.35" width="3.77" height="3.77" fill="#ecbd30"/>
<rect x="584.10" y="213.35" width="3.77" height="3.77" fill="#cfc02f"/>
<rect x="587.57" y="213.35" width="3.77" height="3.77" fill="#b8c432"/>
<rect x="591.05" y="213.35" width="3.77" height="3.77" fill="#9fc843"/>
<rect x="386.15" y="216.83" width="3.77" height="3.77" fill="#0bb4d0"/>
<rect x="389.63" y="216.83" width="3.77" height="3.77" fill="#13aed9"/>
<rect x="393.10" y="216.83" width="3.77" height="3.77" fill="#1ea6e1"/>
<rect x="396.57" y="216.83" width="3.77" height="3.77" fill="#22a2e4"/>
<rect x="400.05" y="216.83" width="3.77" height="3.77" fill="#2798ea"/>
<rect x="403.52" y="216.83" width="3.77" height="3.77" fill="#2c8ef1"/>
<rect x="406.99" y="216.83" width="3.77" height="3.77" fill="#3083f8"/>
<rect x="410.46" y="216.83" width="3.77" height="3.77" fill="#3677fd"/>
<rect x="413.94" y="216.83" width="3.77" height="3.77" fill="#3f6bfc"/>
<rect x="417.41" y="216.83" width="3.77" height="3.77" fill="#455ffb"/>
<rect x="420.88" y="216.83" width="3.77" height="3.77" fill="#465af8"/>
<rect x="424.35" y="216.83" width="3.77" height="3.77" fill="#4754f4"/>
<rect x="427.83" y="216.83" width="3.77" height="3.77" fill="#474ff1"/>
<rect x="431.30" y="216.83" width="14.19" height="3.77" fill="#4749ec"/>
<rect x="445.19" y="216.83" width="3.77" height="3.77" fill="#474ff1"/>
<rect x="448.66" y="216.83" width="3.77" height="3.77" fill="#4754f4"/>
<rect x="452.14" y="216.83" width="3.77" height="3.77" fill="#465af8"/>
<rect x="455.61" y="216.83" width="3.77" height="3.77" fill="#455ffb"/>
<rect x="459.08" y="216.83" width="3.77" height="3.77" fill="#4365fc"/>
<rect x="462.55" y="216.83" width="3.77" height="3.77" fill="#3f6bfc"/>
<rect x="466.03" y="216.83" width="3.77" height="3.77" fill="#3a71fd"/>
<rect x="469.50" y="216.83" width="3.77" height="3.77" fill="#3677fd"/>
<rect x="472.97" y="216.83" width="3.77" height="3.77" fill="#327dfb"/>
<rect x="476.45" y="216.83" width="3.77" height="3.77" fill="#3083f8"/>
<rect x="479.92" y="216.83" width="3.77" height="3.77" fill="#2c8ef1"/>
<rect x="483.39" y="216.83" width="3.77" height="3.77" fill="#2798ea"/>
<rect x="486.86" y="216.83" width="3.77" height="3.77" fill="#22a2e4"/>
<rect x="490.34" y="216.83" width="3.77" height="3.77" fill="#19aadd"/>
<rect x="493.81" y="216.83" width="3.77" height="3.77" fill="#0bb4d0"/>
<rect x="497.28" y="216.83" width="3.77" height="3.77" fill="#07bbc2"/>
<rect x="500.75" y="216.83" width="3.77" height="3.77" fill="#1fc2ad"/>
<rect x="504.23" y="216.83" width="3.77" height="3.77" fill="#3cc895"/>
<rect x="507.70" y="216.83" width="3.77" height="3.77" fill="#4ccb84"/>
<rect x="511.17" y="216.83" width="10.72" height="3.77" fill="#61cc72"/>
<rect x="521.59" y="216.83" width="3.77" height="3.77" fill="#55cc7b"/>
<rect x="525.06" y="216.83" width="3.77" height="3.77" fill="#4ccb84"/>
<rect x="528.54" y="216.83" width="3.77" height="3.77" fill="#55cc7b"/>
<rect x="532.01" y="216.83" width="3.77" height="3.77" fill="#61cc72"/>
<rect x="535.48" y="216.83" width="3.77" height="3.77" fill="#6dcc68"/>
<rect x="538.95" y="216.83" width="3.77" height="3.77" fill="#85cb56"/>
<rect x="542.43" y="216.83" width="3.77" height="3.77" fill="#acc639"/>
<rect x="545.90" y="216.83" width="3.77" height="3.77" fill="#c4c230"/>
<rect x="549.37" y="216.83" width="3.77" height="3.77" fill="#e5bc2c"/>
<rect x="552.85" y="216.83" width="3.77" height="3.77" fill="#f3bf34"/>
<rect x="556.32" y="216.83" width="3.77" height="3.77" fill="#fec339"/>
<rect x="559.79" y="216.83" width="3.77" height="3.77" fill="#fcc935"/>
<rect x="563.26" y="216.83" width="7.25" height="3.77" fill="#fbcf31"/>
<rect x="570.21" y="216.83" width="3.77" height="3.77" fill="#fcc935"/>
<rect x="573.68" y="216.83" width="3.77" height="3.77" fill="#fec339"/>
<rect x="577.15" y="216.83" width="3.77" height="3.77" fill="#f3bf34"/>
<rect x="580.63" y="216.83" width="3.77" height="3.77" fill="#e5bc2c"/>
<rect x="584.10" y="216.83" width="3.77" height="3.77" fill="#cfc02f"/>
<rect x="587.57" y="216.83" width="3.77" height="3.77" fill="#b8c432"/>
<rect x="591.05" y="216.83" width="3.77" height="3.77" fill="#92ca4c"/>
<rect x="386.15" y="220.30" width="3.77" height="3.77" fill="#0bb4d0"/>
<rect x="389.63" y="220.30" width="3.77" height="3.77" fill="#13aed9"/>
<rect x="393.10" y="220.30" width="3.77" height="3.77" fill="#1ea6e1"/>
<rect x="396.57" y="220.30" width="3.77" height="3.77" fill="#249de7"/>
<rect x="400.05" y="220.30" width="3.77" height="3.77" fill="#2798ea"/>
<rect x="403.52" y="220.30" width="3.77" height="3.77" fill="#2c8ef1"/>
<rect x="406.99" y="220.30" width="3.77" height="3.77" fill="#3083f8"/>
<rect x="410.46" y="220.30" width="3.77" height="3.77" fill="#327dfb"/>
<rect x="413.94" y="220.30" width="3.77" height="3.77" fill="#3a71fd"/>
<rect x="417.41" y="220.30" width="3.77" height="3.77" fill="#3f6bfc"/>
<rect x="420.88" y="220.30" width="3.77" height="3.77" fill="#4365fc"/>
<rect x="424.35" y="220.30" width="7.25" height="3.77" fill="#465af8"/>
<rect x="431.30" y="220.30" width="14.19" height="3.77" fill="#4754f4"/>
<rect x="445.19" y="220.30" width="3.77" height="3.77" fill="#465af8"/>
<rect x="448.66" y="220.30" width="7.25" height="3.77" fill="#455ffb"/>
<rect x="455.61" y="220.30" width="3.77" height="3.77" fill="#4365fc"/>
<rect x="459.08" y="220.30" width="7.25" height="3.77" fill="#3f6bfc"/>
<rect x="466.03" y="220.30" width="3.77" height="3.77" fill="#3a71fd"/>
<rect x="469.50" y="220.30" width="3.77" height="3.77" fill="#3677fd"/>
<rect x="472.97" y="220.30" width="3.77" height="3.77" fill="#327dfb"/>
<rect x="476.45" y="220.30" width="3.77" height="3.77" fill="#3083f8"/>
<rect x="479.92" y="220.30" width="3.77" height="3.77" fill="#2c8ef1"/>
<rect x="483.39" y="220.30" width="3.77" height="3.77" fill="#2798ea"/>
<rect x="486.86" y="220.30" width="3.77" height="3.77" fill="#1ea6e1"/>
<rect x="490.34" y="220.30" width="3.77" height="3.77" fill="#13aed9"/>
<rect x="493.81" y="220.30" width="3.77" height="3.77" fill="#09b6cc"/>
<rect x="497.28" y="220.30" width="3.77" height="3.77" fill="#15bfb5"/>
<rect x="500.75" y="220.30" width="3.77" height="3.77" fill="#3cc895"/>
<rect x="504.23" y="220.30" width="3.77" height="3.77" fill="#55cc7b"/>
<rect x="507.70" y="220.30" width="3.77" height="3.77" fill="#85cb56"/>
<rect x="511.17" y="220.30" width="3.77" height="3.77" fill="#92ca4c"/>
<rect x="514.65" y="220.30" width="3.77" height="3.77" fill="#9fc843"/>
<rect x="518.12" y="220.30" width="3.77" height="3.77" fill="#92ca4c"/>
<rect x="521.59" y="220.30" width="3.77" height="3.77" fill="#79cc5f"/>
<rect x="525.06" y="220.30" width="10.72" height="3.77" fill="#61cc72"/>
<rect x="535.48" y="220.30" width="3.77" height="3.77" fill="#6dcc68"/>
<rect x="538.95" y="220.30" width="3.77" height="3.77" fill="#85cb56"/>
<rect x="542.43" y="220.30" width="3.77" height="3.77" fill="#9fc843"/>
<rect x="545.90" y="220.30" width="3.77" height="3.77" fill="#b8c432"/>
<rect x="549.37" y="220.30" width="3.77" height="3.77" fill="#dbbd2d"/>
<rect x="552.85" y="220.30" width="3.77" height="3.77" fill="#ecbd30"/>
<rect x="556.32" y="220.30" width="3.77" height="3.77" fill="#f3bf34"/>
<rect x="559.79" y="220.30" width="3.77" height="3.77" fill="#fec339"/>
<rect x="563.26" y="220.30" width="7.25" height="3.77" fill="#fcc935"/>
<rect x="570.21" y="220.30" width="3.77" height="3.77" fill="#fec339"/>
<rect x="573.68" y="220.30" width="3.77" height="3.77" fill="#fac037"/>
<rect x="577.15" y="220.30" width="3.77" height="3.77" fill="#ecbd30"/>
<rect x="580.63" y="220.30" width="3.77" height="3.77" fill="#dbbd2d"/>
<rect x="584.10" y="220.30" width="3.77" height="3.77" fill="#c4c230"/>
<rect x="587.57" y="220.30" width="3.77" height="3.77" fill="#acc639"/>
<rect x="389.63" y="223.77" width="3.77" height="3.77" fill="#13aed9"/>
<rect x="393.10" y="223.77" width="3.77" height="3.77" fill="#1ea6e1"/>
<rect x="396.57" y="223.77" width="3.77" height="3.77" fill="#249de7"/>
<rect x="400.05" y="223.77" width="3.77" height="3.77" fill="#2798ea"/>
<rect x="403.52" y="223.77" width="3.77" height="3.77" fill="#2c8ef1"/>
<rect x="406.99" y="223.77" width="3.77" height="3.77" fill="#2e88f4"/>
<rect x="410.46" y="223.77" width="3.77" height="3.77" fill="#3083f8"/>
<rect x="413.94" y="223.77" width="3.77" height="3.77" fill="#3677fd"/>
<rect x="417.41" y="223.77" width="3.77" height="3.77" fill="#3a71fd"/>
<rect x="420.88" y="223.77" width="7.25" height="3.77" fill="#3f6bfc"/>
<rect x="427.83" y="223.77" width="3.77" height="3.77" fill="#4365fc"/>
<rect x="431.30" y="223.77" width="10.72" height="3.77" fill="#455ffb"/>
<rect x="441.72" y="223.77" width="7.25" height="3.77" fill="#4365fc"/>
<rect x="448.66" y="223.77" width="7.25" height="3.77" fill="#3f6bfc"/>
<rect x="455.61" y="223.77" width="10.72" height="3.77" fill="#3a71fd"/>
<rect x="466.03" y="223.77" width="7.25" height="3.77" fill="#3677fd"/>
<rect x="472.97" y="223.77" width="3.77" height="3.77" fill="#327dfb"/>
<rect x="476.45" y="223.77" width="3.77" height="3.77" fill="#2e88f4"/>
<rect x="479.92" y="223.77" width="3.77" height="3.77" fill="#2c8ef1"/>
<rect x="483.39" y="223.77" width="3.77" height="3.77" fill="#249de7"/>
<rect x="486.86" y="223.77" width="3.77" height="3.77" fill="#1ea6e1"/>
<rect x="490.34" y="223.77" width="3.77" height="3.77" fill="#0eb1d5"/>
<rect x="493.81" y="223.77" width="3.77" height="3.77" fill="#07bbc2"/>
<rect x="497.28" y="223.77" width="3.77" height="3.77" fill="#2ac4a6"/>
<rect x="500.75" y="223.77" width="3.77" height="3.77" fill="#4ccb84"/>
<rect x="504.23" y="223.77" width="3.77" height="3.77" fill="#85cb56"/>
<rect x="507.70" y="223.77" width="3.77" height="3.77" fill="#b8c432"/>
<rect x="511.17" y="223.77" width="7.25" height="3.77" fill="#dbbd2d"/>
<rect x="518.12" y="223.77" width="3.77" height="3.77" fill="#c4c230"/>
<rect x="521.59" y="223.77" width="3.77" height="3.77" fill="#9fc843"/>
<rect x="525.06" y="223.77" width="3.77" height="3.77" fill="#79cc5f"/>
<rect x="528.54" y="223.77" width="10.72" height="3.77" fill="#61cc72"/>
<rect x="538.95" y="223.77" width="3.77" height="3.77" fill="#79cc5f"/>
<rect x="542.43" y="223.77" width="3.77" height="3.77" fill="#92ca4c"/>
<rect x="545.90" y="223.77" width="3.77" height="3.77" fill="#acc639"/>
<rect x="549.37" y="223.77" width="3.77" height="3.77" fill="#c4c230"/>
<rect x="552.85" y="223.77" width="3.77" height="3.77" fill="#dbbd2d"/>
<rect x="556.32" y="223.77" width="3.77" height="3.77" fill="#ecbd30"/>
<rect x="559.79" y="223.77" width="3.77" height="3.77" fill="#f3bf34"/>
<rect x="563.26" y="223.77" width="7.25" height="3.77" fill="#fac037"/>
<rect x="570.21" y="223.77" width="3.77" height="3.77" fill="#f3bf34"/>
<rect x="573.68" y="223.77" width="3.77" height="3.77" fill="#ecbd30"/>
<rect x="577.15" y="223.77" width="3.77" height="3.77" fill="#e5bc2c"/>
<rect x="580.63" y="223.77" width="3.77" height="3.77" fill="#cfc02f"/>
<rect x="584.10" y="223.77" width="3.77" height="3.77" fill="#b8c432"/>
<rect x="389.63" y="227.25" width="3.77" height="3.77" fill="#13aed9"/>
<rect x="393.10" y="227.25" width="3.77" height="3.77" fill="#1ea6e1"/>
<rect x="396.57" y="227.25" width="3.77" height="3.77" fill="#249de7"/>
<rect x="400.05" y="227.25" width="3.77" height="3.77" fill="#2798ea"/>
<rect x="403.52" y="227.25" width="3.77" height="3.77" fill="#2c8ef1"/>
<rect x="406.99" y="227.25" width="3.77" height="3.77" fill="#2e88f4"/>
<rect x="410.46" y="227.25" width="7.25" height="3.77" fill="#3083f8"/>
<rect x="417.41" y="227.25" width="3.77" height="3.77" fill="#327dfb"/>
<rect x="420.88" y="227.25" width="7.25" height="3.77" fill="#3677fd"/>
<rect x="427.83" y="227.25" width="17.66" height="3.77" fill="#3a71fd"/>
<rect x="445.19" y="227.25" width="10.72" height="3.77" fill="#3677fd"/>
<rect x="455.61" y="227.25" width="17.66" height="3.77" fill="#327dfb"/>
<rect x="472.97" y="227.25" width="3.77" height="3.77" fill="#3083f8"/>
<rect x="476.45" y="227.25" width="3.77" height="3.77" fill="#2c8ef1"/>
<rect x="479.92" y="227.25" width="3.77" height="3.77" fill="#2a93ed"/>
<rect x="483.39" y="227.25" width="3.77" height="3.77" fill="#22a2e4"/>
<rect x="486.86" y="227.25" width="3.77" height="3.77" fill="#19aadd"/>
<rect x="490.34" y="227.25" width="3.77" height="3.77" fill="#0bb4d0"/>
<rect x="493.81" y="227.25" width="3.77" height="3.77" fill="#0abdbc"/>
<rect x="497.28" y="227.25" width="3.77" height="3.77" fill="#33c69e"/>
<rect x="500.75" y="227.25" width="3.77" height="3.77" fill="#61cc72"/>
<rect x="504.23" y="227.25" width="3.77" height="3.77" fill="#acc639"/>
<rect x="507.70" y="227.25" width="3.77" height="3.77" fill="#dbbd2d"/>
<rect x="511.17" y="227.25" width="7.25" height="3.77" fill="#f3bf34"/>
<rect x="518.12" y="227.25" width="3.77" height="3.77" fill="#dbbd2d"/>
<rect x="521.59" y="227.25" width="3.77" height="3.77" fill="#acc639"/>
<rect x="525.06" y="227.25" width="3.77" height="3.77" fill="#79cc5f"/>
<rect x="528.54" y="227.25" width="3.77" height="3.77" fill="#61cc72"/>
<rect x="532.01" y="227.25" width="7.25" height="3.77" fill="#55cc7b"/>
<rect x="538.95" y="227.25" width="3.77" height="3.77" fill="#6dcc68"/>
<rect x="542.43" y="227.25" width="3.77" height="3.77" fill="#79cc5f"/>
<rect x="545.90" y="227.25" width="3.77" height="3.77" fill="#92ca4c"/>
<rect x="549.37" y="227.25" width="3.77" height="3.77" fill="#acc639"/>
<rect x="552.85" y="227.25" width="3.77" height="3.77" fill="#c4c230"/>
<rect x="556.32" y="227.25" width="3.77" height="3.77" fill="#dbbd2d"/>
<rect x="559.79" y="227.25" width="7.25" height="3.77" fill="#e5bc2c"/>
<rect x="566.74" y="227.25" width="3.77" height="3.77" fill="#ecbd30"/>
<rect x="570.21" y="227.25" width="3.77" height="3.77" fill="#e5bc2c"/>
<rect x="573.68" y="227.25" width="3.77" height="3.77" fill="#dbbd2d"/>
<rect x="577.15" y="227.25" width="3.77" height="3.77" fill="#cfc02f"/>
<rect x="580.63" y="227.25" width="3.77" height="3.77" fill="#b8c432"/>
<rect x="584.10" y="227.25" width="3.77" height="3.77" fill="#acc639"/>
<rect x="393.10" y="230.72" width="3.77" height="3.77" fill="#22a2e4"/>
<rect x="396.57" y="230.72" width="3.77" height="3.77" fill="#249de7"/>
<rect x="400.05" y="230.72" width="3.77" height="3.77" fill="#2a93ed"/>
<rect x="403.52" y="230.72" width="7.25" height="3.77" fill="#2c8ef1"/>
<rect x="410.46" y="230.72" width="10.72" height="3.77" fill="#2e88f4"/>
<rect x="420.88" y="230.72" width="31.55" height="3.77" fill="#3083f8"/>
<rect x="452.14" y="230.72" width="21.14" height="3.77" fill="#2e88f4"/>
<rect x="472.97" y="230.72" width="3.77" height="3.77" fill="#2c8ef1"/>
<rect x="476.45" y="230.72" width="3.77" height="3.77" fill="#2a93ed"/>
<rect x="479.92" y="230.72" width="3.77" height="3.77" fill="#249de7"/>
<rect x="483.39" y="230.72" width="3.77" height="3.77" fill="#1ea6e1"/>
<rect x="486.86" y="230.72" width="3.77" height="3.77" fill="#0eb1d5"/>
<rect x="490.34" y="230.72" width="3.77" height="3.77" fill="#08b9c7"/>
<rect x="493.81" y="230.72" width="3.77" height="3.77" fill="#15bfb5"/>
<rect x="497.28" y="230.72" width="3.77" height="3.77" fill="#3cc895"/>
<rect x="500.75" y="230.72" width="3.77" height="3.77" fill="#6dcc68"/>
<rect x="504.23" y="230.72" width="3.77" height="3.77" fill="#acc639"/>
<rect x="507.70" y="230.72" width="3.77" height="3.77" fill="#e5bc2c"/>
<rect x="511.17" y="230.72" width="7.25" height="3.77" fill="#f3bf34"/>
<rect x="518.12" y="230.72" width="3.77" height="3.77" fill="#dbbd2d"/>
<rect x="521.59" y="230.72" width="3.77" height="3.77" fill="#9fc843"/>
<rect x="525.06" y="230.72" width="3.77" height="3.77" fill="#6dcc68"/>
<rect x="528.54" y="230.72" width="3.77" height="3.77" fill="#55cc7b"/>
<rect x="532.01" y="230.72" width="7.25" height="3.77" fill="#4ccb84"/>
<rect x="538.95" y="230.72" width="3.77" height="3.77" fill="#55cc7b"/>
<rect x="542.43" y="230.72" width="3.77" height="3.77" fill="#61cc72"/>
<rect x="545.90" y="230.72" width="3.77" height="3.77" fill="#79cc5f"/>
<rect x="549.37" y="230.72" width="3.77" height="3.77" fill="#92ca4c"/>
<rect x="552.85" y="230.72" width="3.77" height="3.77" fill="#acc639"/>
<rect x="556.32" y="230.72" width="3.77" height="3.77" fill="#b8c432"/>
<rect x="559.79" y="230.72" width="3.77" height="3.77" fill="#c4c230"/>
<rect x="563.26" y="230.72" width="10.72" height="3.77" fill="#cfc02f"/>
<rect x="573.68" y="230.72" width="3.77" height="3.77" fill="#c4c230"/>
<rect x="577.15" y="230.72" width="3.77" height="3.77" fill="#b8c432"/>
<rect x="580.63" y="230.72" width="3.77" height="3.77" fill="#9fc843"/>
<rect x="396.57" y="234.19" width="3.77" height="3.77" fill="#2798ea"/>
<rect x="400.05" y="234.19" width="7.25" height="3.77" fill="#2a93ed"/>
<rect x="406.99" y="234.19" width="38.50" height="3.77" fill="#2c8ef1"/>
<rect x="445.19" y="234.19" width="28.08" height="3.77" fill="#2a93ed"/>
<rect x="472.97" y="234.19" width="3.77" height="3.77" fill="#2798ea"/>
<rect x="476.45" y="234.19" width="3.77" height="3.77" fill="#249de7"/>
<rect x="479.92" y="234.19" width="3.77" height="3.77" fill="#1ea6e1"/>
<rect x="483.39" y="234.19" width="3.77" height="3.77" fill="#13aed9"/>
<rect x="486.86" y="234.19" width="3.77" height="3.77" fill="#0bb4d0"/>
<rect x="490.34" y="234.19" width="3.77" height="3.77" fill="#0abdbc"/>
<rect x="493.81" y="234.19" width="3.77" height="3.77" fill="#2ac4a6"/>
<rect x="497.28" y="234.19" width="3.77" height="3.77" fill="#44c98d"/>
<rect x="500.75" y="234.19" width="3.77" height="3.77" fill="#6dcc68"/>
<rect x="504.23" y="234.19" width="3.77" height="3.77" fill="#92ca4c"/>
<rect x="507.70" y="234.19" width="3.77" height="3.77" fill="#b8c432"/>
<rect x="511.17" y="234.19" width="3.77" height="3.77" fill="#cfc02f"/>
<rect x="514.65" y="234.19" width="3.77" height="3.77" fill="#c4c230"/>
<rect x="518.12" y="234.19" width="3.77" height="3.77" fill="#acc639"/>
<rect x="521.59" y="234.19" width="3.77" height="3.77" fill="#79cc5f"/>
<rect x="525.06" y="234.19" width="3.77" height="3.77" fill="#55cc7b"/>
<rect x="528.54" y="234.19" width="3.77" height="3.77" fill="#44c98d"/>
<rect x="532.01" y="234.19" width="7.25" height="3.77" fill="#3cc895"/>
<rect x="538.95" y="234.19" width="3.77" height="3.77" fill="#44c98d"/>
<rect x="542.43" y="234.19" width="3.77" height="3.77" fill="#4ccb84"/>
<rect x="545.90" y="234.19" width="3.77" height="3.77" fill="#61cc72"/>
<rect x="549.37" y="234.19" width="3.77" height="3.77" fill="#6dcc68"/>
<rect x="552.85" y="234.19" width="3.77" height="3.77" fill="#85cb56"/>
<rect x="556.32" y="234.19" width="3.77" height="3.77" fill="#92ca4c"/>
<rect x="559.79" y="234.19" width="3.77" height="3.77" fill="#9fc843"/>
<rect x="563.26" y="234.19" width="10.72" height="3.77" fill="#acc639"/>
<rect x="573.68" y="234.19" width="3.77" height="3.77" fill="#9fc843"/>
<rect x="577.15" y="234.19" width="3.77" height="3.77" fill="#92ca4c"/>
<rect x="400.05" y="237.66" width="3.77" height="3.77" fill="#2798ea"/>
<rect x="403.52" y="237.66" width="10.72" height="3.77" fill="#2a93ed"/>
<rect x="413.94" y="237.66" width="10.72" height="3.77" fill="#2798ea"/>
<rect x="424.35" y="237.66" width="31.55" height="3.77" fill="#249de7"/>
<rect x="455.61" y="237.66" width="17.66" height="3.77" fill="#22a2e4"/>
<rect x="472.97" y="237.66" width="7.25" height="3.77" fill="#1ea6e1"/>
<rect x="479.92" y="237.66" width="3.77" height="3.77" fill="#13aed9"/>
<rect x="483.39" y="237.66" width="3.77" height="3.77" fill="#0bb4d0"/>
<rect x="486.86" y="237.66" width="3.77" height="3.77" fill="#08b9c7"/>
<rect x="490.34" y="237.66" width="3.77" height="3.77" fill="#15bfb5"/>
<rect x="493.81" y="237.66" width="3.77" height="3.77" fill="#33c69e"/>
<rect x="497.28" y="237.66" width="3.77" height="3.77" fill="#44c98d"/>
<rect x="500.75" y="237.66" width="3.77" height="3.77" fill="#55cc7b"/>
<rect x="504.23" y="237.66" width="3.77" height="3.77" fill="#6dcc68"/>
<rect x="507.70" y="237.66" width="3.77" height="3.77" fill="#79cc5f"/>
<rect x="511.17" y="237.66" width="3.77" height="3.77" fill="#85cb56"/>
<rect x="514.65" y="237.66" width="3.77" height="3.77" fill="#79cc5f"/>
<rect x="518.12" y="237.66" width="3.77" height="3.77" fill="#61cc72"/>
<rect x="521.59" y="237.66" width="3.77" height="3.77" fill="#44c98d"/>
<rect x="525.06" y="237.66" width="3.77" height="3.77" fill="#33c69e"/>
<rect x="528.54" y="237.66" width="10.72" height="3.77" fill="#1fc2ad"/>
<rect x="538.95" y="237.66" width="3.77" height="3.77" fill="#2ac4a6"/>
<rect x="542.43" y="237.66" width="3.77" height="3.77" fill="#33c69e"/>
<rect x="545.90" y="237.66" width="3.77" height="3.77" fill="#44c98d"/>
<rect x="549.37" y="237.66" width="3.77" height="3.77" fill="#4ccb84"/>
<rect x="552.85" y="237.66" width="3.77" height="3.77" fill="#61cc72"/>
<rect x="556.32" y="237.66" width="3.77" height="3.77" fill="#6dcc68"/>
<rect x="559.79" y="237.66" width="7.25" height="3.77" fill="#79cc5f"/>
<rect x="566.74" y="237.66" width="7.25" height="3.77" fill="#85cb56"/>
<rect x="573.68" y="237.66" width="3.77" height="3.77" fill="#79cc5f"/>
<rect x="400.05" y="241.14" width="10.72" height="3.77" fill="#2798ea"/>
<rect x="410.46" y="241.14" width="7.25" height="3.77" fill="#249de7"/>
<rect x="417.41" y="241.14" width="7.25" height="3.77" fill="#22a2e4"/>
<rect x="424.35" y="241.14" width="28.08" height="3.77" fill="#1ea6e1"/>
<rect x="452.14" y="241.14" width="14.19" height="3.77" fill="#19aadd"/>
<rect x="466.03" y="241.14" width="10.72" height="3.77" fill="#13aed9"/>
<rect x="476.45" y="241.14" width="3.77" height="3.77" fill="#0eb1d5"/>
<rect x="479.92" y="241.14" width="3.77" height="3.77" fill="#0bb4d0"/>
<rect x="483.39" y="241.14" width="3.77" height="3.77" fill="#09b6cc"/>
<rect x="486.86" y="241.14" width="3.77" height="3.77" fill="#0abdbc"/>
<rect x="490.34" y="241.14" width="3.77" height="3.77" fill="#1fc2ad"/>
<rect x="493.81" y="241.14" width="3.77" height="3.77" fill="#33c69e"/>
<rect x="497.28" y="241.14" width="14.19" height="3.77" fill="#3cc895"/>
<rect x="511.17" y="241.14" width="3.77" height="3.77" fill="#33c69e"/>
<rect x="514.65" y="241.14" width="3.77" height="3.77" fill="#2ac4a6"/>
<rect x="518.12" y="241.14" width="3.77" height="3.77" fill="#15bfb5"/>
<rect x="521.59" y="241.14" width="3.77" height="3.77" fill="#07bbc2"/>
<rect x="525.06" y="241.14" width="3.77" height="3.77" fill="#09b6cc"/>
<rect x="528.54" y="241.14" width="7.25" height="3.77" fill="#0bb4d0"/>
<rect x="535.48" y="241.14" width="3.77" height="3.77" fill="#09b6cc"/>
<rect x="538.95" y="241.14" width="3.77" height="3.77" fill="#08b9c7"/>
<rect x="542.43" y="241.14" width="3.77" height="3.77" fill="#07bbc2"/>
<rect x="545.90" y="241.14" width="3.77" height="3.77" fill="#15bfb5"/>
<rect x="549.37" y="241.14" width="3.77" height="3.77" fill="#2ac4a6"/>
<rect x="552.85" y="241.14" width="3.77" height="3.77" fill="#3cc895"/>
<rect x="556.32" y="241.14" width="3.77" height="3.77" fill="#44c98d"/>
<rect x="559.79" y="241.14" width="3.77" height="3.77" fill="#4ccb84"/>
<rect x="563.26" y="241.14" width="3.77" height="3.77" fill="#55cc7b"/>
<rect x="566.74" y="241.14" width="7.25" height="3.77" fill="#61cc72"/>
<rect x="573.68" y="241.14" width="3.77" height="3.77" fill="#55cc7b"/>
<rect x="403.52" y="244.61" width="7.25" height="3.77" fill="#249de7"/>
<rect x="410.46" y="244.61" width="3.77" height="3.77" fill="#22a2e4"/>
<rect x="413.94" y="244.61" width="3.77" height="3.77" fill="#1ea6e1"/>
<rect x="417.41" y="244.61" width="7.25" height="3.77" fill="#19aadd"/>
<rect x="424.35" y="244.61" width="31.55" height="3.77" fill="#13aed9"/>
<rect x="455.61" y="244.61" width="7.25" height="3.77" fill="#0eb1d5"/>
<rect x="462.55" y="244.61" width="7.25" height="3.77" fill="#0bb4d0"/>
<rect x="469.50" y="244.61" width="10.72" height="3.77" fill="#09b6cc"/>
<rect x="479.92" y="244.61" width="3.77" height="3.77" fill="#08b9c7"/>
<rect x="483.39" y="244.61" width="3.77" height="3.77" fill="#07bbc2"/>
<rect x="486.86" y="244.61" width="3.77" height="3.77" fill="#0abdbc"/>
<rect x="490.34" y="244.61" width="3.77" height="3.77" fill="#1fc2ad"/>
<rect x="493.81" y="244.61" width="7.25" height="3.77" fill="#2ac4a6"/>
<rect x="500.75" y="244.61" width="3.77" height="3.77" fill="#1fc2ad"/>
<rect x="504.23" y="244.61" width="3.77" height="3.77" fill="#0abdbc"/>
<rect x="507.70" y="244.61" width="3.77" height="3.77" fill="#08b9c7"/>
<rect x="511.17" y="244.61" width="3.77" height="3.77" fill="#0bb4d0"/>
<rect x="514.65" y="244.61" width="3.77" height="3.77" fill="#13aed9"/>
<rect x="518.12" y="244.61" width="3.77" height="3.77" fill="#22a2e4"/>
<rect x="521.59" y="244.61" width="3.77" height="3.77" fill="#2798ea"/>
<rect x="525.06" y="244.61" width="3.77" height="3.77" fill="#2a93ed"/>
<rect x="528.54" y="244.61" width="7.25" height="3.77" fill="#2c8ef1"/>
<rect x="535.48" y="244.61" width="3.77" height="3.77" fill="#2a93ed"/>
<rect x="538.95" y="244.61" width="3.77" height="3.77" fill="#2798ea"/>
<rect x="542.43" y="244.61" width="3.77" height="3.77" fill="#1ea6e1"/>
<rect x="545.90" y="244.61" width="3.77" height="3.77" fill="#13aed9"/>
<rect x="549.37" y="244.61" width="3.77" height="3.77" fill="#0bb4d0"/>
<rect x="552.85" y="244.61" width="3.77" height="3.77" fill="#07bbc2"/>
<rect x="556.32" y="244.61" width="3.77" height="3.77" fill="#15bfb5"/>
<rect x="559.79" y="244.61" width="3.77" height="3.77" fill="#2ac4a6"/>
<rect x="563.26" y="244.61" width="3.77" height="3.77" fill="#33c69e"/>
<rect x="566.74" y="244.61" width="7.25" height="3.77" fill="#3cc895"/>
<rect x="406.99" y="248.08" width="3.77" height="3.77" fill="#1ea6e1"/>
<rect x="410.46" y="248.08" width="3.77" height="3.77" fill="#19aadd"/>
<rect x="413.94" y="248.08" width="7.25" height="3.77" fill="#13aed9"/>
<rect x="420.88" y="248.08" width="24.61" height="3.77" fill="#0eb1d5"/>
<rect x="445.19" y="248.08" width="7.25" height="3.77" fill="#13aed9"/>
<rect x="452.14" y="248.08" width="7.25" height="3.77" fill="#0eb1d5"/>
<rect x="459.08" y="248.08" width="3.77" height="3.77" fill="#0bb4d0"/>
<rect x="462.55" y="248.08" width="3.77" height="3.77" fill="#09b6cc"/>
<rect x="466.03" y="248.08" width="3.77" height="3.77" fill="#08b9c7"/>
<rect x="469.50" y="248.08" width="17.66" height="3.77" fill="#07bbc2"/>
<rect x="486.86" y="248.08" width="10.72" height="3.77" fill="#0abdbc"/>
<rect x="497.28" y="248.08" width="3.77" height="3.77" fill="#08b9c7"/>
<rect x="500.75" y="248.08" width="3.77" height="3.77" fill="#0bb4d0"/>
<rect x="504.23" y="248.08" width="3.77" height="3.77" fill="#1ea6e1"/>
<rect x="507.70" y="248.08" width="3.77" height="3.77" fill="#2a93ed"/>
<rect x="511.17" y="248.08" width="3.77" height="3.77" fill="#3083f8"/>
<rect x="514.65" y="248.08" width="3.77" height="3.77" fill="#3f6bfc"/>
<rect x="518.12" y="248.08" width="3.77" height="3.77" fill="#455ffb"/>
<rect x="521.59" y="248.08" width="3.77" height="3.77" fill="#474ff1"/>
<rect x="525.06" y="248.08" width="3.77" height="3.77" fill="#4749ec"/>
<rect x="528.54" y="248.08" width="7.25" height="3.77" fill="#4744e5"/>
<rect x="535.48" y="248.08" width="3.77" height="3.77" fill="#4749ec"/>
<rect x="538.95" y="248.08" width="3.77" height="3.77" fill="#4754f4"/>
<rect x="542.43" y="248.08" width="3.77" height="3.77" fill="#4365fc"/>
<rect x="545.90" y="248.08" width="3.77" height="3.77" fill="#3677fd"/>
<rect x="549.37" y="248.08" width="3.77" height="3.77" fill="#2e88f4"/>
<rect x="552.85" y="248.08" width="3.77" height="3.77" fill="#249de7"/>
<rect x="556.32" y="248.08" width="3.77" height="3.77" fill="#19aadd"/>
<rect x="559.79" y="248.08" width="3.77" height="3.77" fill="#0bb4d0"/>
<rect x="563.26" y="248.08" width="3.77" height="3.77" fill="#07bbc2"/>
<rect x="566.74" y="248.08" width="3.77" height="3.77" fill="#15bfb5"/>
<rect x="413.94" y="251.55" width="3.77" height="3.77" fill="#0eb1d5"/>
<rect x="417.41" y="251.55" width="7.25" height="3.77" fill="#0bb4d0"/>
<rect x="424.35" y="251.55" width="7.25" height="3.77" fill="#09b6cc"/>
<rect x="431.30" y="251.55" width="7.25" height="3.77" fill="#0bb4d0"/>
<rect x="438.25" y="251.55" width="7.25" height="3.77" fill="#0eb1d5"/>
<rect x="445.19" y="251.55" width="10.72" height="3.77" fill="#13aed9"/>
<rect x="455.61" y="251.55" width="3.77" height="3.77" fill="#0eb1d5"/>
<rect x="459.08" y="251.55" width="3.77" height="3.77" fill="#0bb4d0"/>
<rect x="462.55" y="251.55" width="3.77" height="3.77" fill="#08b9c7"/>
<rect x="466.03" y="251.55" width="3.77" height="3.77" fill="#07bbc2"/>
<rect x="469.50" y="251.55" width="10.72" height="3.77" fill="#0abdbc"/>
<rect x="479.92" y="251.55" width="7.25" height="3.77" fill="#07bbc2"/>
<rect x="486.86" y="251.55" width="3.77" height="3.77" fill="#08b9c7"/>
<rect x="490.34" y="251.55" width="3.77" height="3.77" fill="#09b6cc"/>
<rect x="493.81" y="251.55" width="3.77" height="3.77" fill="#13aed9"/>
<rect x="497.28" y="251.55" width="3.77" height="3.77" fill="#22a2e4"/>
<rect x="500.75" y="251.55" width="3.77" height="3.77" fill="#2e88f4"/>
<rect x="504.23" y="251.55" width="3.77" height="3.77" fill="#3f6bfc"/>
<rect x="507.70" y="251.55" width="3.77" height="3.77" fill="#474ff1"/>
<rect x="511.17" y="251.55" width="3.77" height="3.77" fill="#4539d8"/>
<rect x="514.65" y="251.55" width="3.77" height="3.77" fill="#402cb9"/>
<rect x="518.12" y="251.55" width="28.08" height="3.77" fill="#3f28ae"/>
<rect x="545.90" y="251.55" width="3.77" height="3.77" fill="#4230c4"/>
<rect x="549.37" y="251.55" width="3.77" height="3.77" fill="#463fdf"/>
<rect x="552.85" y="251.55" width="3.77" height="3.77" fill="#4754f4"/>
<rect x="556.32" y="251.55" width="3.77" height="3.77" fill="#3a71fd"/>
<rect x="559.79" y="251.55" width="3.77" height="3.77" fill="#2c8ef1"/>
<rect x="417.41" y="255.03" width="3.77" height="3.77" fill="#09b6cc"/>
<rect x="420.88" y="255.03" width="7.25" height="3.77" fill="#08b9c7"/>
<rect x="427.83" y="255.03" width="7.25" height="3.77" fill="#09b6cc"/>
<rect x="434.77" y="255.03" width="3.77" height="3.77" fill="#0bb4d0"/>
<rect x="438.25" y="255.03" width="3.77" height="3.77" fill="#0eb1d5"/>
<rect x="441.72" y="255.03" width="3.77" height="3.77" fill="#13aed9"/>
<rect x="445.19" y="255.03" width="3.77" height="3.77" fill="#19aadd"/>
<rect x="448.66" y="255.03" width="7.25" height="3.77" fill="#1ea6e1"/>
<rect x="455.61" y="255.03" width="3.77" height="3.77" fill="#19aadd"/>
<rect x="459.08" y="255.03" width="3.77" height="3.77" fill="#0eb1d5"/>
<rect x="462.55" y="255.03" width="3.77" height="3.77" fill="#0bb4d0"/>
<rect x="466.03" y="255.03" width="3.77" height="3.77" fill="#08b9c7"/>
<rect x="469.50" y="255.03" width="10.72" height="3.77" fill="#0abdbc"/>
<rect x="479.92" y="255.03" width="3.77" height="3.77" fill="#07bbc2"/>
<rect x="483.39" y="255.03" width="3.77" height="3.77" fill="#09b6cc"/>
<rect x="486.86" y="255.03" width="3.77" height="3.77" fill="#0eb1d5"/>
<rect x="490.34" y="255.03" width="3.77" height="3.77" fill="#22a2e4"/>
<rect x="493.81" y="255.03" width="3.77" height="3.77" fill="#2c8ef1"/>
<rect x="497.28" y="255.03" width="3.77" height="3.77" fill="#3f6bfc"/>
<rect x="500.75" y="255.03" width="3.77" height="3.77" fill="#4749ec"/>
<rect x="504.23" y="255.03" width="3.77" height="3.77" fill="#4230c4"/>
<rect x="507.70" y="255.03" width="48.92" height="3.77" fill="#3f28ae"/>
<rect x="556.32" y="255.03" width="3.77" height="3.77" fill="#4230c4"/>
<rect x="420.88" y="258.50" width="7.25" height="3.77" fill="#07bbc2"/>
<rect x="427.83" y="258.50" width="3.77" height="3.77" fill="#08b9c7"/>
<rect x="431.30" y="258.50" width="3.77" height="3.77" fill="#09b6cc"/>
<rect x="434.77" y="258.50" width="3.77" height="3.77" fill="#0eb1d5"/>
<rect x="438.25" y="258.50" width="3.77" height="3.77" fill="#13aed9"/>
<rect x="441.72" y="258.50" width="3.77" height="3.77" fill="#1ea6e1"/>
<rect x="445.19" y="258.50" width="3.77" height="3.77" fill="#22a2e4"/>
<rect x="448.66" y="258.50" width="3.77" height="3.77" fill="#249de7"/>
<rect x="452.14" y="258.50" width="3.77" height="3.77" fill="#2798ea"/>
<rect x="455.61" y="258.50" width="3.77" height="3.77" fill="#249de7"/>
<rect x="459.08" y="258.50" width="3.77" height="3.77" fill="#1ea6e1"/>
<rect x="462.55" y="258.50" width="3.77" height="3.77" fill="#13aed9"/>
<rect x="466.03" y="258.50" width="3.77" height="3.77" fill="#0bb4d0"/>
<rect x="469.50" y="258.50" width="3.77" height="3.77" fill="#08b9c7"/>
<rect x="472.97" y="258.50" width="3.77" height="3.77" fill="#07bbc2"/>
<rect x="476.45" y="258.50" width="3.77" height="3.77" fill="#08b9c7"/>
<rect x="479.92" y="258.50" width="3.77" height="3.77" fill="#09b6cc"/>
<rect x="483.39" y="258.50" width="3.77" height="3.77" fill="#13aed9"/>
<rect x="486.86" y="258.50" width="3.77" height="3.77" fill="#249de7"/>
<rect x="490.34" y="258.50" width="3.77" height="3.77" fill="#327dfb"/>
<rect x="493.81" y="258.50" width="3.77" height="3.77" fill="#4754f4"/>
<rect x="497.28" y="258.50" width="3.77" height="3.77" fill="#4434cf"/>
<rect x="500.75" y="258.50" width="55.86" height="3.77" fill="#3f28ae"/>
<rect x="427.83" y="261.97" width="3.77" height="3.77" fill="#08b9c7"/>
<rect x="431.30" y="261.97" width="3.77" height="3.77" fill="#09b6cc"/>
<rect x="434.77" y="261.97" width="3.77" height="3.77" fill="#0eb1d5"/>
<rect x="438.25" y="261.97" width="3.77" height="3.77" fill="#1ea6e1"/>
<rect x="441.72" y="261.97" width="3.77" height="3.77" fill="#249de7"/>
<rect x="445.19" y="261.97" width="3.77" height="3.77" fill="#2a93ed"/>
<rect x="448.66" y="261.97" width="3.77" height="3.77" fill="#2c8ef1"/>
<rect x="452.14" y="261.97" width="3.77" height="3.77" fill="#2e88f4"/>
<rect x="455.61" y="261.97" width="3.77" height="3.77" fill="#2c8ef1"/>
<rect x="459.08" y="261.97" width="3.77" height="3.77" fill="#2798ea"/>
<rect x="462.55" y="261.97" width="3.77" height="3.77" fill="#22a2e4"/>
<rect x="466.03" y="261.97" width="3.77" height="3.77" fill="#19aadd"/>
<rect x="469.50" y="261.97" width="3.77" height="3.77" fill="#0eb1d5"/>
<rect x="472.97" y="261.97" width="7.25" height="3.77" fill="#0bb4d0"/>
<rect x="479.92" y="261.97" width="3.77" height="3.77" fill="#19aadd"/>
<rect x="483.39" y="261.97" width="3.77" height="3.77" fill="#2798ea"/>
<rect x="486.86" y="261.97" width="3.77" height="3.77" fill="#3677fd"/>
<rect x="490.34" y="261.97" width="3.77" height="3.77" fill="#4749ec"/>
<rect x="493.81" y="261.97" width="55.86" height="3.77" fill="#3f28ae"/>
<rect x="434.77" y="265.45" width="3.77" height="3.77" fill="#13aed9"/>
<rect x="438.25" y="265.45" width="3.77" height="3.77" fill="#1ea6e1"/>
<rect x="441.72" y="265.45" width="3.77" height="3.77" fill="#2798ea"/>
<rect x="445.19" y="265.45" width="3.77" height="3.77" fill="#2e88f4"/>
<rect x="448.66" y="265.45" width="3.77" height="3.77" fill="#3083f8"/>
<rect x="452.14" y="265.45" width="7.25" height="3.77" fill="#327dfb"/>
<rect x="459.08" y="265.45" width="3.77" height="3.77" fill="#2e88f4"/>
<rect x="462.55" y="265.45" width="3.77" height="3.77" fill="#2a93ed"/>
<rect x="466.03" y="265.45" width="3.77" height="3.77" fill="#22a2e4"/>
<rect x="469.50" y="265.45" width="7.25" height="3.77" fill="#19aadd"/>
<rect x="476.45" y="265.45" width="3.77" height="3.77" fill="#1ea6e1"/>
<rect x="479.92" y="265.45" width="3.77" height="3.77" fill="#2798ea"/>
<rect x="483.39" y="265.45" width="3.77" height="3.77" fill="#3677fd"/>
<rect x="486.86" y="265.45" width="3.77" height="3.77" fill="#4749ec"/>
<rect x="490.34" y="265.45" width="55.86" height="3.77" fill="#3f28ae"/>
<rect x="441.72" y="268.92" width="3.77" height="3.77" fill="#2798ea"/>
<rect x="445.19" y="268.92" width="3.77" height="3.77" fill="#2e88f4"/>
<rect x="448.66" y="268.92" width="3.77" height="3.77" fill="#327dfb"/>
<rect x="452.14" y="268.92" width="7.25" height="3.77" fill="#3677fd"/>
<rect x="459.08" y="268.92" width="3.77" height="3.77" fill="#3083f8"/>
<rect x="462.55" y="268.92" width="3.77" height="3.77" fill="#2c8ef1"/>
<rect x="466.03" y="268.92" width="3.77" height="3.77" fill="#2798ea"/>
<rect x="469.50" y="268.92" width="3.77" height="3.77" fill="#249de7"/>
<rect x="472.97" y="268.92" width="3.77" height="3.77" fill="#22a2e4"/>
<rect x="476.45" y="268.92" width="3.77" height="3.77" fill="#2a93ed"/>
<rect x="479.92" y="268.92" width="3.77" height="3.77" fill="#3677fd"/>
<rect x="483.39" y="268.92" width="3.77" height="3.77" fill="#474ff1"/>
<rect x="486.86" y="268.92" width="48.92" height="3.77" fill="#3f28ae"/>
<rect x="448.66" y="272.39" width="3.77" height="3.77" fill="#3083f8"/>
<rect x="452.14" y="272.39" width="7.25" height="3.77" fill="#327dfb"/>
<rect x="459.08" y="272.39" width="3.77" height="3.77" fill="#3083f8"/>
<rect x="462.55" y="272.39" width="3.77" height="3.77" fill="#2c8ef1"/>
<rect x="466.03" y="272.39" width="3.77" height="3.77" fill="#2a93ed"/>
<rect x="469.50" y="272.39" width="3.77" height="3.77" fill="#2798ea"/>
<rect x="472.97" y="272.39" width="3.77" height="3.77" fill="#2a93ed"/>
<rect x="476.45" y="272.39" width="3.77" height="3.77" fill="#3083f8"/>
<rect x="479.92" y="272.39" width="3.77" height="3.77" fill="#465af8"/>
<rect x="483.39" y="272.39" width="3.77" height="3.77" fill="#4230c4"/>
<rect x="486.86" y="272.39" width="41.97" height="3.77" fill="#3f28ae"/>
<rect x="459.08" y="275.86" width="3.77" height="3.77" fill="#2a93ed"/>
<rect x="462.55" y="275.86" width="10.72" height="3.77" fill="#2798ea"/>
<rect x="472.97" y="275.86" width="3.77" height="3.77" fill="#2c8ef1"/>
<rect x="476.45" y="275.86" width="3.77" height="3.77" fill="#3f6bfc"/>
<rect x="479.92" y="275.86" width="3.77" height="3.77" fill="#463fdf"/>
<rect x="483.39" y="275.86" width="35.03" height="3.77" fill="#3f28ae"/>
</g></g>
<g stroke="#eeaad0" stroke-width="1" fill="none"><path d="M423.20 200.50L429.20 206.50M423.20 206.50L429.20 200.50"/><path d="M444.90 198.20L450.90 204.20M444.90 204.20L450.90 198.20"/><path d="M434.20 221.40L440.20 227.40M434.20 227.40L440.20 221.40"/><path d="M450.70 218.30L456.70 224.30M450.70 224.30L456.70 218.30"/><path d="M468.30 216.40L474.30 222.40M468.30 222.40L474.30 216.40"/></g>
<polygon points="467.97,49.45 488.60,31.21 509.23,49.45" fill="#ececec" stroke="#000" stroke-width="1.6" stroke-linejoin="miter"/>
<polyline points="601.37,150.28 605.49,145.24 607.33,145.05 610.05,145.90 612.80,150.28 612.37,164.26 613.97,184.36 610.53,193.09 605.49,194.72 599.53,190.48" fill="#ececec" stroke="#000" stroke-width="1.6"/>
<polyline points="375.83,150.28 371.71,145.24 369.87,145.05 367.15,145.90 364.40,150.28 364.83,164.26 363.23,184.36 366.67,193.09 371.71,194.72 377.67,190.48" fill="#ececec" stroke="#000" stroke-width="1.6"/>
<circle cx="488.6" cy="163.0" r="114.6" fill="none" stroke="#000" stroke-width="1.6"/>
<!-- colorbar -->
<rect x="633.5" y="31.1" width="15.30" height="248.40" fill="url(#cbg)"/>
<g fill="#2e2e38"><polygon points="648.8,30.90 648.8,33.70 645.6,32.30"/><polygon points="648.8,56.58 648.8,59.38 645.6,57.98"/><polygon points="648.8,82.26 648.8,85.06 645.6,83.66"/><polygon points="648.8,107.94 648.8,110.74 645.6,109.34"/><polygon points="648.8,133.62 648.8,136.42 645.6,135.02"/><polygon points="648.8,159.30 648.8,162.10 645.6,160.70"/><polygon points="648.8,184.98 648.8,187.78 645.6,186.38"/><polygon points="648.8,210.66 648.8,213.46 645.6,212.06"/><polygon points="648.8,236.34 648.8,239.14 645.6,237.74"/><polygon points="648.8,262.02 648.8,264.82 645.6,263.42"/></g>
<polygon points="645.2,31.1 648.8,31.1 648.8,36.6 647.4,35" fill="#2a2a38"/>
<g font-family="Liberation Sans" font-size="9" fill="#505050"><text x="652.3" y="35.50">-0.6</text><text x="652.3" y="61.18">-0.8</text><text x="652.3" y="86.86">-1</text><text x="652.3" y="112.54">-1.2</text><text x="652.3" y="138.22">-1.4</text><text x="652.3" y="163.90">-1.6</text><text x="652.3" y="189.58">-1.8</text><text x="652.3" y="215.26">-2</text><text x="652.3" y="240.94">-2.2</text><text x="652.3" y="266.62">-2.4</text></g>
<g font-family="Liberation Serif" font-size="10.3" fill="#666" text-anchor="middle">
<text x="647.5" y="8.3">T-value:</text><text x="647.3" y="20.1">Heading&gt;Kicking</text></g>
</svg>
</body></html>
